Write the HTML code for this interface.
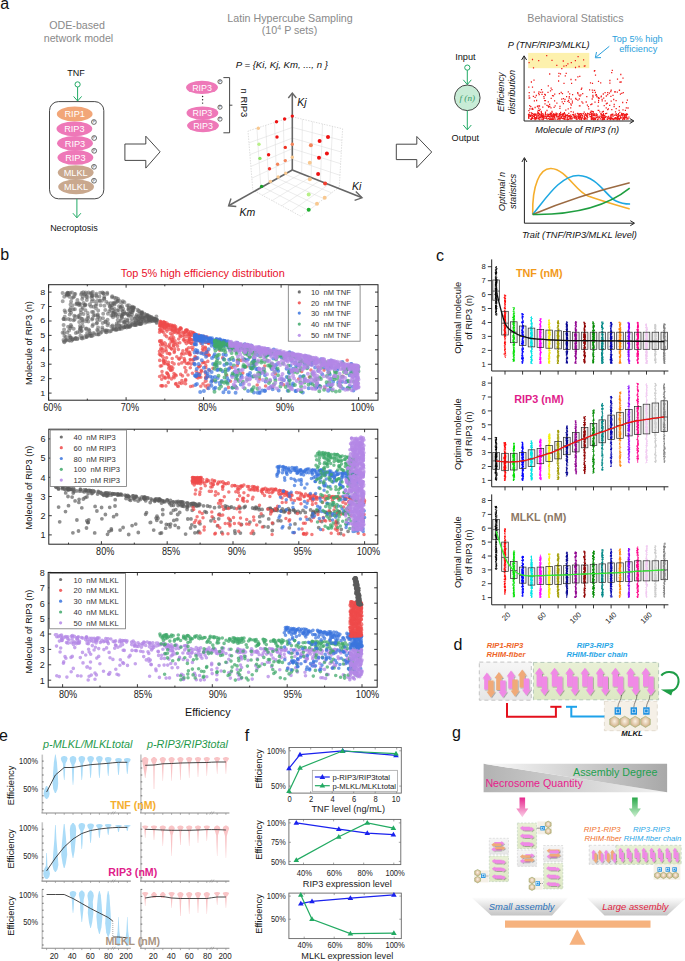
<!DOCTYPE html>
<html><head><meta charset="utf-8"><style>
html,body{margin:0;padding:0;background:#fff;}
svg{display:block;font-family:"Liberation Sans",sans-serif;}
</style></head><body>
<svg width="685" height="961" viewBox="0 0 685 961">
<rect width="685" height="961" fill="#fff"/>
<text x="0.3" y="8.5" font-size="16" fill="#111">a</text>
<text x="77.1" y="29.4" font-size="10.7" fill="#8a8a8a" text-anchor="middle">ODE-based</text>
<text x="78.5" y="42" font-size="10.7" fill="#8a8a8a" text-anchor="middle">network model</text>
<text x="75.9" y="76.2" font-size="9" fill="#111" text-anchor="middle">TNF</text>
<circle cx="77.6" cy="84.4" r="2.6" fill="#fff" stroke="#22aa66" stroke-width="1"/>
<line x1="77.6" y1="87" x2="77.6" y2="100.8" stroke="#22aa66" stroke-width="1"/>
<polyline points="73.6,96.4 77.6,101 81.6,96.4" fill="none" stroke="#22aa66" stroke-width="1"/>
<rect x="49.5" y="101.6" width="54.3" height="97.2" rx="9" fill="none" stroke="#333" stroke-width="0.9"/>
<ellipse cx="74.7" cy="114" rx="17.9" ry="7.4" fill="#f2a678"/>
<ellipse cx="74.4" cy="128.8" rx="17.9" ry="7.4" fill="#ee78b8"/>
<ellipse cx="75" cy="143.3" rx="17.9" ry="7.4" fill="#ee78b8"/>
<ellipse cx="75.4" cy="157.4" rx="17.9" ry="7.4" fill="#ee78b8"/>
<ellipse cx="75.7" cy="172.6" rx="17.9" ry="7.4" fill="#c9a88e"/>
<ellipse cx="76.1" cy="186.8" rx="17.9" ry="7.4" fill="#c9a88e"/>
<text x="74.7" y="117.3" font-size="9.2" fill="#fff" text-anchor="middle">RIP1</text>
<text x="74.4" y="132.1" font-size="9.2" fill="#fff" text-anchor="middle">RIP3</text>
<text x="75" y="146.6" font-size="9.2" fill="#fff" text-anchor="middle">RIP3</text>
<text x="75.4" y="160.7" font-size="9.2" fill="#fff" text-anchor="middle">RIP3</text>
<text x="75.7" y="175.9" font-size="9.2" fill="#fff" text-anchor="middle">MLKL</text>
<text x="76.1" y="190.1" font-size="9.2" fill="#fff" text-anchor="middle">MLKL</text>
<circle cx="93.9" cy="122" r="2.4" fill="#fff" stroke="#333" stroke-width="0.7"/>
<text x="93.9" y="123.2" font-size="3.4" text-anchor="middle" fill="#444">P</text>
<circle cx="94.2" cy="138" r="2.4" fill="#fff" stroke="#333" stroke-width="0.7"/>
<text x="94.2" y="139.2" font-size="3.4" text-anchor="middle" fill="#444">P</text>
<circle cx="94.2" cy="150.8" r="2.4" fill="#fff" stroke="#333" stroke-width="0.7"/>
<text x="94.2" y="152" font-size="3.4" text-anchor="middle" fill="#444">P</text>
<circle cx="94" cy="166.8" r="2.4" fill="#fff" stroke="#333" stroke-width="0.7"/>
<text x="94" y="168" font-size="3.4" text-anchor="middle" fill="#444">P</text>
<circle cx="94" cy="180.7" r="2.4" fill="#fff" stroke="#333" stroke-width="0.7"/>
<text x="94" y="181.9" font-size="3.4" text-anchor="middle" fill="#444">P</text>
<line x1="76.9" y1="199" x2="76.9" y2="217.6" stroke="#22aa66" stroke-width="1"/>
<polyline points="72.9,213.2 76.9,217.8 80.9,213.2" fill="none" stroke="#22aa66" stroke-width="1"/>
<text x="73.9" y="230.8" font-size="9" fill="#111" text-anchor="middle">Necroptosis</text>
<polygon points="124.9,144 145.8,144 145.8,136.2 160.1,151.8 145.8,168.1 145.8,160.4 124.9,160.4" fill="#fff" stroke="#333" stroke-width="0.9"/>
<polygon points="396.3,144.2 416.8,144.2 416.8,136.5 431.7,152 416.8,167.7 416.8,159.6 396.3,159.6" fill="#fff" stroke="#333" stroke-width="0.9"/>
<text x="290" y="21.8" font-size="10.7" fill="#8a8a8a" text-anchor="middle">Latin Hypercube Sampling</text>
<text x="289.5" y="33.6" font-size="10.7" text-anchor="middle" fill="#8a8a8a">(10<tspan dy="-4" font-size="7">4</tspan><tspan dy="4"> P sets)</tspan></text>
<text x="235.7" y="68" font-size="9.6" fill="#111" font-style="italic">P = {Ki, Kj, Km, ..., n }</text>
<ellipse cx="202" cy="87.4" rx="15.9" ry="6.6" fill="#ee78b8"/>
<ellipse cx="202.4" cy="113" rx="15.9" ry="6.6" fill="#ee78b8"/>
<ellipse cx="203" cy="125.6" rx="15.9" ry="6.6" fill="#ee78b8"/>
<text x="202" y="90.6" font-size="8.9" fill="#fff" text-anchor="middle">RIP3</text>
<text x="202.4" y="116.2" font-size="8.9" fill="#fff" text-anchor="middle">RIP3</text>
<text x="203" y="128.8" font-size="8.9" fill="#fff" text-anchor="middle">RIP3</text>
<circle cx="202.6" cy="96.5" r="0.7" fill="#222"/>
<circle cx="202.6" cy="99.8" r="0.7" fill="#222"/>
<circle cx="202.6" cy="103.1" r="0.7" fill="#222"/>
<circle cx="220" cy="81.7" r="2.1" fill="#fff" stroke="#333" stroke-width="0.7"/>
<text x="220" y="82.9" font-size="3.4" text-anchor="middle" fill="#444">P</text>
<circle cx="220" cy="107.2" r="2.1" fill="#fff" stroke="#333" stroke-width="0.7"/>
<text x="220" y="108.4" font-size="3.4" text-anchor="middle" fill="#444">P</text>
<circle cx="220" cy="119.1" r="2.1" fill="#fff" stroke="#333" stroke-width="0.7"/>
<text x="220" y="120.3" font-size="3.4" text-anchor="middle" fill="#444">P</text>
<polyline points="223.4,77.6 229.6,77.6 229.6,132.8 223.4,132.8" fill="none" stroke="#333" stroke-width="0.9"/>
<line x1="229.6" y1="105.2" x2="232.4" y2="105.2" stroke="#333" stroke-width="0.9"/>
<text x="0" y="0" font-size="9.4" fill="#111" transform="translate(240.5,88.6) rotate(90)">n RIP3</text>
<line x1="292.3" y1="159.4" x2="251.8" y2="178.2" stroke="#d8d8d8" stroke-width="0.5"/>
<line x1="284.4" y1="174" x2="283.4" y2="119.6" stroke="#d8d8d8" stroke-width="0.5"/>
<line x1="292.3" y1="159.4" x2="340" y2="175.3" stroke="#d8d8d8" stroke-width="0.5"/>
<line x1="301.7" y1="173.4" x2="302.4" y2="119.2" stroke="#d8d8d8" stroke-width="0.5"/>
<line x1="301.7" y1="173.4" x2="262.4" y2="195.3" stroke="#d8d8d8" stroke-width="0.5"/>
<line x1="284.4" y1="174" x2="331.6" y2="192.8" stroke="#d8d8d8" stroke-width="0.5"/>
<line x1="292.3" y1="148.7" x2="250.9" y2="166.4" stroke="#d8d8d8" stroke-width="0.5"/>
<line x1="276.5" y1="178" x2="274.6" y2="122.5" stroke="#d8d8d8" stroke-width="0.5"/>
<line x1="292.3" y1="148.7" x2="340.6" y2="163.7" stroke="#d8d8d8" stroke-width="0.5"/>
<line x1="311.1" y1="176.8" x2="312.4" y2="121.6" stroke="#d8d8d8" stroke-width="0.5"/>
<line x1="311.1" y1="176.8" x2="272.1" y2="200.6" stroke="#d8d8d8" stroke-width="0.5"/>
<line x1="276.5" y1="178" x2="324" y2="198.7" stroke="#d8d8d8" stroke-width="0.5"/>
<line x1="292.3" y1="138.1" x2="249.9" y2="154.6" stroke="#d8d8d8" stroke-width="0.5"/>
<line x1="268.6" y1="182" x2="265.7" y2="125.3" stroke="#d8d8d8" stroke-width="0.5"/>
<line x1="292.3" y1="138.1" x2="341.3" y2="152" stroke="#d8d8d8" stroke-width="0.5"/>
<line x1="320.5" y1="180.1" x2="322.5" y2="124" stroke="#d8d8d8" stroke-width="0.5"/>
<line x1="320.5" y1="180.1" x2="281.7" y2="205.8" stroke="#d8d8d8" stroke-width="0.5"/>
<line x1="268.6" y1="182" x2="316.3" y2="204.6" stroke="#d8d8d8" stroke-width="0.5"/>
<line x1="292.3" y1="127.4" x2="249" y2="142.8" stroke="#d8d8d8" stroke-width="0.5"/>
<line x1="260.7" y1="186" x2="256.9" y2="128.2" stroke="#d8d8d8" stroke-width="0.5"/>
<line x1="292.3" y1="127.4" x2="341.9" y2="140.4" stroke="#d8d8d8" stroke-width="0.5"/>
<line x1="329.9" y1="183.5" x2="332.5" y2="126.4" stroke="#d8d8d8" stroke-width="0.5"/>
<line x1="329.9" y1="183.5" x2="291.4" y2="211.1" stroke="#d8d8d8" stroke-width="0.5"/>
<line x1="260.7" y1="186" x2="308.7" y2="210.5" stroke="#d8d8d8" stroke-width="0.5"/>
<polyline points="292.3,116.8 248,131 252.8,190" fill="none" stroke="#c8c8c8" stroke-width="0.6" stroke-dasharray="1.5,1.2"/>
<polyline points="292.3,116.8 342.6,128.8 339.3,186.9" fill="none" stroke="#c8c8c8" stroke-width="0.6" stroke-dasharray="1.5,1.2"/>
<polyline points="339.3,186.9 301,216.4 252.8,190" fill="none" stroke="#c8c8c8" stroke-width="0.6" stroke-dasharray="1.5,1.2"/>
<line x1="292.3" y1="170" x2="292.3" y2="93.5" stroke="#666" stroke-width="1.6"/>
<polyline points="288.3,98 292.3,93 296.3,98" fill="none" stroke="#666" stroke-width="1.4"/>
<line x1="292.3" y1="170" x2="361.5" y2="197.5" stroke="#666" stroke-width="1.6"/>
<polyline points="355.8,191.6 362,197.8 354.6,200.3" fill="none" stroke="#666" stroke-width="1.4"/>
<line x1="292.3" y1="170" x2="229" y2="205.5" stroke="#666" stroke-width="1.6"/>
<polyline points="231,198.5 228.6,205.8 236.3,206.5" fill="none" stroke="#666" stroke-width="1.4"/>
<text x="297.2" y="105.5" font-size="10.5" fill="#111" font-style="italic">Kj</text>
<text x="352" y="189.5" font-size="10.5" fill="#111" font-style="italic">Ki</text>
<text x="239.5" y="216.3" font-size="10.5" fill="#111" font-style="italic">Km</text>
<circle cx="292.3" cy="116.1" r="1.7" fill="#ee1111"/>
<circle cx="284.6" cy="119" r="1.7" fill="#ee1111"/>
<circle cx="276.5" cy="121.8" r="1.7" fill="#ee1111"/>
<circle cx="258.3" cy="128.2" r="1.7" fill="#f8c890"/>
<circle cx="277" cy="137" r="1.7" fill="#ee1111"/>
<circle cx="259" cy="144.2" r="1.7" fill="#b8f088"/>
<circle cx="285.3" cy="147.4" r="1.7" fill="#f03020"/>
<circle cx="292.3" cy="144.2" r="1.7" fill="#f4845a"/>
<circle cx="268.6" cy="154.7" r="1.7" fill="#ee1111"/>
<circle cx="259.9" cy="158.4" r="1.7" fill="#88e060"/>
<circle cx="285.3" cy="160.6" r="1.7" fill="#f4845a"/>
<circle cx="277.6" cy="164.3" r="1.7" fill="#f4845a"/>
<circle cx="292.3" cy="157.3" r="1.7" fill="#f8c890"/>
<circle cx="269.5" cy="168.7" r="1.7" fill="#f03830"/>
<circle cx="285.7" cy="173.3" r="1.7" fill="#f8c890"/>
<circle cx="278.2" cy="177" r="1.7" fill="#f8c890"/>
<circle cx="270.4" cy="181.4" r="1.7" fill="#f8c890"/>
<circle cx="261.6" cy="186.4" r="1.7" fill="#18a028"/>
<circle cx="328" cy="137" r="2.0" fill="#ee1111"/>
<circle cx="319.6" cy="140.9" r="2.0" fill="#ee1111"/>
<circle cx="310.9" cy="145.2" r="2.0" fill="#f4845a"/>
<circle cx="326.9" cy="153.4" r="2.0" fill="#ee1111"/>
<circle cx="319" cy="157.7" r="2.0" fill="#ee1111"/>
<circle cx="309.8" cy="162.8" r="2.0" fill="#f8c890"/>
<circle cx="318.1" cy="173.9" r="2.0" fill="#ee1111"/>
<circle cx="309.8" cy="179.2" r="2.0" fill="#f8c890"/>
<circle cx="325.1" cy="183.6" r="2.0" fill="#f04030"/>
<circle cx="308.7" cy="194.5" r="2.0" fill="#b8f088"/>
<circle cx="324.7" cy="197.8" r="2.0" fill="#f8c890"/>
<circle cx="317" cy="203.7" r="2.0" fill="#f8c890"/>
<circle cx="308.7" cy="209.8" r="2.0" fill="#20b030"/>
<text x="575.4" y="21.9" font-size="10.7" fill="#8a8a8a" text-anchor="middle">Behavioral Statistics</text>
<text x="465.4" y="60.4" font-size="9.2" fill="#111" text-anchor="middle">Input</text>
<text x="465.3" y="141.2" font-size="9.2" fill="#111" text-anchor="middle">Output</text>
<circle cx="467.3" cy="67.6" r="2.6" fill="#fff" stroke="#22aa66" stroke-width="1"/>
<line x1="467.3" y1="70.2" x2="467.3" y2="84.4" stroke="#22aa66" stroke-width="1"/>
<polyline points="463.3,79.8 467.3,84.6 471.3,79.8" fill="none" stroke="#22aa66" stroke-width="1"/>
<circle cx="467.3" cy="97.8" r="12.8" fill="#c8ecd6" stroke="#333" stroke-width="0.9"/>
<text x="467.3" y="100.6" font-size="9.2" text-anchor="middle" fill="#3a9a66" font-family="Liberation Serif" font-style="italic">f (n)</text>
<line x1="467.3" y1="110.6" x2="467.3" y2="129.6" stroke="#22aa66" stroke-width="1"/>
<polyline points="463.3,125 467.3,129.8 471.3,125" fill="none" stroke="#22aa66" stroke-width="1"/>
<rect x="528.2" y="52.9" width="61.1" height="15.3" fill="#fdf1ad"/>
<text x="507.8" y="48.2" font-size="9.2" fill="#111" font-style="italic">P (TNF/RIP3/MLKL)</text>
<text x="637.4" y="41.6" font-size="9.2" fill="#2a9fdc" text-anchor="middle">Top 5% high</text>
<text x="638.2" y="52" font-size="9.2" fill="#2a9fdc" text-anchor="middle">efficiency</text>
<line x1="609.3" y1="46.3" x2="596" y2="57.2" stroke="#2a9fdc" stroke-width="1"/>
<polyline points="596.5,52 595.3,57.8 601,57.6" fill="none" stroke="#2a9fdc" stroke-width="1"/>
<path d="M560.4 114.4h1.2M593.3 113.9h1.2M581.8 115.7h1.2M533.7 116.6h1.2M531.7 116.1h1.2M534.9 114.1h1.2M570.6 118.5h1.2M540.3 114.9h1.2M591.0 119.3h1.2M585.9 115.9h1.2M626.0 113.8h1.2M614.2 115.3h1.2M542.4 114.2h1.2M558.9 118.5h1.2M546.1 117.0h1.2M592.1 115.8h1.2M582.9 113.9h1.2M533.9 114.8h1.2M596.3 116.1h1.2M559.5 117.1h1.2M573.4 115.3h1.2M607.7 117.8h1.2M552.4 117.0h1.2M580.7 118.8h1.2M601.2 115.3h1.2M626.4 114.2h1.2M569.9 118.1h1.2M543.2 116.5h1.2M531.8 117.6h1.2M604.7 117.0h1.2M615.9 115.4h1.2M597.8 117.1h1.2M586.2 116.3h1.2M612.3 119.3h1.2M575.5 117.6h1.2M534.0 117.8h1.2M592.9 119.6h1.2M610.5 115.2h1.2M566.7 117.6h1.2M530.2 116.3h1.2M544.8 114.2h1.2M533.8 118.2h1.2M540.9 115.0h1.2M567.2 118.8h1.2M536.0 116.2h1.2M583.1 118.9h1.2M610.2 118.8h1.2M555.9 116.0h1.2M564.0 118.9h1.2M624.2 114.4h1.2M545.6 114.9h1.2M551.4 116.5h1.2M587.1 115.1h1.2M528.3 116.1h1.2M565.0 117.0h1.2M623.7 117.7h1.2M579.7 117.3h1.2M595.9 113.8h1.2M618.3 118.3h1.2M615.8 118.4h1.2M567.3 115.9h1.2M538.3 117.4h1.2M534.2 113.9h1.2M548.9 114.5h1.2M562.1 113.8h1.2M527.9 114.4h1.2M538.1 115.7h1.2M530.5 118.8h1.2M589.6 114.4h1.2M553.3 115.6h1.2M564.5 114.2h1.2M613.2 119.6h1.2M574.7 116.5h1.2M536.5 114.1h1.2M562.3 115.1h1.2M611.2 114.5h1.2M530.2 119.3h1.2M581.0 114.4h1.2M582.5 113.7h1.2M581.0 119.5h1.2M614.7 117.7h1.2M554.1 115.7h1.2M544.7 118.2h1.2M581.4 118.3h1.2M561.0 114.9h1.2M609.5 119.5h1.2M613.6 118.4h1.2M610.1 118.0h1.2M550.7 116.7h1.2M563.6 113.7h1.2M530.7 115.2h1.2M553.9 117.7h1.2M624.0 116.2h1.2M622.1 119.5h1.2M623.9 115.7h1.2M550.1 114.9h1.2M547.7 114.7h1.2M590.6 119.0h1.2M612.4 116.4h1.2M593.5 118.4h1.2M536.4 117.5h1.2M619.3 118.3h1.2M603.3 116.4h1.2M545.8 118.3h1.2M561.3 118.4h1.2M625.6 115.9h1.2M568.2 119.3h1.2M600.7 114.5h1.2M540.7 114.4h1.2M618.8 118.4h1.2M542.6 118.5h1.2M626.4 117.5h1.2M563.1 116.8h1.2M541.1 113.6h1.2M625.5 117.5h1.2M580.8 119.2h1.2M571.5 118.8h1.2M610.9 114.8h1.2M553.2 115.3h1.2M552.1 117.1h1.2M554.0 116.1h1.2M541.1 119.1h1.2M563.5 116.3h1.2M586.5 119.0h1.2M570.2 119.1h1.2M578.3 116.7h1.2M580.5 113.6h1.2M572.1 114.6h1.2M528.3 118.4h1.2M545.2 116.4h1.2M600.8 116.9h1.2M560.7 116.7h1.2M583.7 118.3h1.2M538.6 116.9h1.2M552.9 115.2h1.2M605.5 116.6h1.2M584.4 118.1h1.2M619.6 116.2h1.2M589.5 116.6h1.2M579.4 117.7h1.2M573.4 116.8h1.2M575.9 119.2h1.2M598.2 118.8h1.2M622.6 115.1h1.2M584.1 119.3h1.2M612.3 114.3h1.2M540.1 116.2h1.2M535.2 115.0h1.2M535.2 117.6h1.2M606.7 119.0h1.2M543.4 117.9h1.2M594.3 114.4h1.2M616.6 119.4h1.2M550.0 119.3h1.2M567.9 116.5h1.2M627.4 118.6h1.2M544.1 116.1h1.2M579.7 115.6h1.2M547.6 115.4h1.2M600.5 113.6h1.2M583.6 116.2h1.2M529.7 115.5h1.2M590.6 116.6h1.2M534.4 119.5h1.2M607.1 119.4h1.2M538.4 115.1h1.2M531.9 118.3h1.2M555.1 114.3h1.2M570.3 119.1h1.2M610.2 115.1h1.2M542.9 119.1h1.2M585.2 117.8h1.2M536.9 113.9h1.2M597.1 116.1h1.2M535.2 119.2h1.2M591.7 118.4h1.2M536.3 118.7h1.2M534.6 118.8h1.2M573.5 115.6h1.2M583.5 119.2h1.2M554.8 114.3h1.2M580.9 115.0h1.2M538.9 114.5h1.2M533.0 114.7h1.2M559.3 115.4h1.2M604.2 115.3h1.2M578.2 114.6h1.2M562.8 113.6h1.2M553.1 113.6h1.2M601.6 116.9h1.2M546.9 116.4h1.2M621.8 114.1h1.2M610.2 116.1h1.2M577.6 118.6h1.2M567.4 116.6h1.2M597.0 119.5h1.2M562.3 118.6h1.2M598.9 117.4h1.2M568.6 115.6h1.2M533.4 114.3h1.2M535.0 118.0h1.2M553.6 114.5h1.2M536.4 118.6h1.2M615.4 117.6h1.2M556.2 115.0h1.2M557.4 116.3h1.2M543.7 116.2h1.2M554.4 119.4h1.2M625.6 116.8h1.2M552.5 119.4h1.2M559.0 115.7h1.2M528.0 115.8h1.2M575.6 116.6h1.2M548.1 116.6h1.2M528.4 115.1h1.2M536.9 115.9h1.2M532.1 113.6h1.2M558.5 114.9h1.2M586.8 116.7h1.2M603.3 117.5h1.2M599.9 118.9h1.2M567.0 115.5h1.2M626.9 114.4h1.2M600.7 117.4h1.2M532.3 118.6h1.2M617.5 117.3h1.2M601.7 118.5h1.2M541.9 116.7h1.2M578.6 118.6h1.2M608.8 118.5h1.2M586.6 118.9h1.2M596.5 117.7h1.2M551.0 113.7h1.2M541.3 115.7h1.2M538.4 118.6h1.2M584.0 117.3h1.2M590.8 117.7h1.2M577.1 113.5h1.2M608.1 118.1h1.2M578.4 116.8h1.2M594.2 113.9h1.2M601.9 115.0h1.2M535.4 115.1h1.2M601.2 114.8h1.2M602.3 119.5h1.2M577.5 115.8h1.2M576.0 117.7h1.2M605.0 117.3h1.2M592.5 114.0h1.2M542.7 115.0h1.2M602.6 115.4h1.2M585.0 113.6h1.2M534.0 115.1h1.2M595.4 117.7h1.2M595.8 115.3h1.2M579.8 116.3h1.2M574.8 114.2h1.2M617.7 114.7h1.2M626.2 119.2h1.2M529.7 116.3h1.2M610.3 119.4h1.2M573.1 115.1h1.2M549.0 119.3h1.2M549.1 117.0h1.2M542.1 116.7h1.2M623.7 114.3h1.2M610.3 116.6h1.2M617.0 117.8h1.2M551.2 119.0h1.2M576.8 113.7h1.2M528.3 116.5h1.2M573.2 115.3h1.2M542.0 115.6h1.2M559.7 118.6h1.2M528.1 118.1h1.2M612.2 114.2h1.2M621.0 117.8h1.2M618.5 115.3h1.2M565.3 115.9h1.2M628.3 117.1h1.2M564.2 116.1h1.2M555.6 113.8h1.2M538.1 118.6h1.2M556.6 119.2h1.2M553.0 115.1h1.2M579.3 114.7h1.2M565.4 119.3h1.2M616.8 118.5h1.2M591.3 119.1h1.2M622.4 116.9h1.2M600.2 113.8h1.2M601.5 116.3h1.2M603.5 117.4h1.2M556.7 113.8h1.2M621.0 114.3h1.2M575.4 115.6h1.2M557.8 118.0h1.2M626.0 115.1h1.2M593.8 115.3h1.2M583.9 115.9h1.2M544.7 114.5h1.2M548.8 119.0h1.2M577.9 114.8h1.2M619.0 119.6h1.2M573.1 114.4h1.2M547.2 114.1h1.2M562.3 114.1h1.2M551.9 115.1h1.2M585.1 118.9h1.2M603.2 116.0h1.2M569.5 116.7h1.2M565.8 115.6h1.2M534.1 115.2h1.2M625.2 114.3h1.2M578.5 117.3h1.2M614.6 114.8h1.2M555.1 115.0h1.2M568.1 116.2h1.2M623.8 118.7h1.2M615.6 113.6h1.2M531.1 117.8h1.2M617.9 116.4h1.2M586.9 113.5h1.2M567.2 119.2h1.2M610.9 118.7h1.2M625.6 115.0h1.2M538.9 114.4h1.2M580.4 117.7h1.2M622.5 117.9h1.2M593.0 118.2h1.2M573.9 116.9h1.2M531.9 118.3h1.2M551.3 119.1h1.2M592.8 115.4h1.2M540.8 115.0h1.2M591.8 117.8h1.2M539.2 113.9h1.2M580.6 117.1h1.2M566.9 114.9h1.2M588.3 113.6h1.2M558.2 116.3h1.2M624.3 117.4h1.2M616.7 116.4h1.2M551.5 115.0h1.2M624.4 117.8h1.2M558.8 113.6h1.2M578.0 117.6h1.2M570.1 115.1h1.2M595.0 119.1h1.2M550.7 113.7h1.2M561.9 116.1h1.2M596.5 114.7h1.2M608.0 118.0h1.2M578.6 114.8h1.2M625.4 115.4h1.2M610.3 114.9h1.2M550.2 118.1h1.2M557.5 119.3h1.2M577.7 114.6h1.2M550.3 116.0h1.2M594.8 119.3h1.2M542.6 115.9h1.2M549.3 119.4h1.2M542.2 113.8h1.2M533.9 115.9h1.2M618.2 118.9h1.2M601.5 119.6h1.2M621.5 115.5h1.2M546.5 119.2h1.2M602.9 113.7h1.2M594.7 115.8h1.2M565.5 115.5h1.2M544.9 113.5h1.2M556.0 115.6h1.2M623.9 114.3h1.2M624.8 114.8h1.2M563.7 118.5h1.2M610.5 116.1h1.2M532.9 116.4h1.2M565.4 119.1h1.2M547.3 115.7h1.2M618.0 113.7h1.2M569.2 118.5h1.2M605.0 113.7h1.2M531.4 113.9h1.2M620.4 115.1h1.2M603.0 119.0h1.2M562.0 115.2h1.2M624.1 117.3h1.2M554.2 117.9h1.2M559.7 115.2h1.2M528.3 118.1h1.2M620.0 117.4h1.2M622.7 113.6h1.2M551.4 116.4h1.2M624.1 119.3h1.2M566.7 115.0h1.2M571.1 116.5h1.2M621.2 114.6h1.2M608.6 118.0h1.2M610.6 101.1h1.2M588.9 114.9h1.2M560.0 114.1h1.2M606.5 119.1h1.2M547.7 101.8h1.2M552.8 119.2h1.2M531.3 108.8h1.2M560.6 92.5h1.2M616.7 92.1h1.2M554.5 119.1h1.2M537.6 110.4h1.2M599.2 111.9h1.2M551.4 112.7h1.2M590.2 104.7h1.2M603.1 98.1h1.2M594.7 118.6h1.2M612.4 115.7h1.2M584.9 113.8h1.2M602.1 117.5h1.2M552.8 116.6h1.2M543.3 96.6h1.2M586.0 114.9h1.2M567.7 91.9h1.2M578.9 116.9h1.2M609.1 105.4h1.2M627.5 118.9h1.2M575.6 99.3h1.2M612.4 95.3h1.2M532.0 115.7h1.2M539.9 117.6h1.2M625.7 107.8h1.2M621.4 113.8h1.2M614.9 111.8h1.2M554.0 100.9h1.2M622.9 118.8h1.2M587.8 106.6h1.2M549.8 113.9h1.2M542.1 117.4h1.2M553.5 107.3h1.2M593.4 117.4h1.2M529.0 114.9h1.2M596.1 117.7h1.2M559.3 117.4h1.2M607.8 108.9h1.2M534.3 118.9h1.2M567.6 108.8h1.2M592.1 119.0h1.2M544.4 103.9h1.2M569.1 115.9h1.2M558.8 93.7h1.2M559.3 108.3h1.2M563.8 112.7h1.2M614.8 91.8h1.2M564.5 117.5h1.2M601.1 117.4h1.2M528.5 95.9h1.2M570.5 99.2h1.2M568.7 96.7h1.2M574.2 118.1h1.2M529.4 108.8h1.2M592.3 95.5h1.2M536.8 106.5h1.2M565.2 110.2h1.2M542.6 115.9h1.2M580.3 94.9h1.2M538.8 110.6h1.2M608.8 93.1h1.2M547.7 118.6h1.2M622.7 92.7h1.2M576.4 119.3h1.2M621.0 113.4h1.2M618.8 106.6h1.2M610.8 118.1h1.2M606.9 117.1h1.2M568.6 98.2h1.2M611.2 117.8h1.2M549.8 113.1h1.2M579.9 113.6h1.2M540.3 116.6h1.2M600.8 96.1h1.2M532.0 108.5h1.2M604.0 119.4h1.2M612.1 118.7h1.2M588.2 108.8h1.2M590.9 115.4h1.2M570.1 107.8h1.2M570.7 105.2h1.2M572.8 112.1h1.2M530.2 106.6h1.2M577.1 116.8h1.2M604.6 100.8h1.2M574.0 117.8h1.2M575.5 118.8h1.2M540.8 112.3h1.2M537.1 112.0h1.2M579.2 119.4h1.2M591.9 119.1h1.2M601.6 100.9h1.2M579.3 119.3h1.2M578.5 113.7h1.2M623.5 118.4h1.2M614.0 91.8h1.2M601.5 99.4h1.2M547.4 92.4h1.2M577.3 93.5h1.2M620.0 118.0h1.2M607.1 94.6h1.2M534.5 114.4h1.2M603.9 118.1h1.2M618.0 116.1h1.2M609.9 118.3h1.2M578.4 95.1h1.2M548.8 116.3h1.2M578.8 115.1h1.2M531.6 117.8h1.2M544.1 94.4h1.2M596.2 96.1h1.2M544.9 100.6h1.2M539.5 109.4h1.2M591.9 114.1h1.2M615.6 108.7h1.2M586.2 96.7h1.2M538.4 91.9h1.2M591.2 113.3h1.2M608.1 116.3h1.2M627.4 108.0h1.2M564.1 101.4h1.2M572.3 117.9h1.2M602.6 119.4h1.2M610.3 116.5h1.2M592.1 92.3h1.2M586.8 105.1h1.2M559.3 119.6h1.2M531.3 118.3h1.2M589.8 112.3h1.2M579.4 96.1h1.2M541.2 117.0h1.2M593.5 119.5h1.2M528.2 114.3h1.2M538.6 114.2h1.2M550.4 107.8h1.2M587.1 117.4h1.2M590.6 111.1h1.2M541.4 94.4h1.2M552.4 118.3h1.2M537.5 106.0h1.2M615.5 100.7h1.2M568.3 116.3h1.2M529.1 105.7h1.2M584.4 114.4h1.2M592.8 112.0h1.2M622.1 102.5h1.2M552.9 95.8h1.2M532.3 109.4h1.2M568.7 116.8h1.2M533.8 100.8h1.2M529.1 108.8h1.2M622.5 118.4h1.2M548.0 107.0h1.2M578.8 105.8h1.2M609.6 117.9h1.2M559.0 115.5h1.2M532.8 96.4h1.2M606.6 103.2h1.2M528.5 98.2h1.2M602.8 111.4h1.2M602.4 111.7h1.2M550.6 118.8h1.2M551.2 119.4h1.2M561.6 101.9h1.2M597.8 98.2h1.2M599.4 116.2h1.2M583.6 112.2h1.2M607.1 109.7h1.2M554.6 105.8h1.2M624.9 117.2h1.2M616.3 119.6h1.2M554.1 116.8h1.2M602.7 94.0h1.2M602.9 114.9h1.2M616.4 114.9h1.2M551.9 95.6h1.2M591.3 104.0h1.2M594.8 92.5h1.2M575.1 98.4h1.2M598.0 97.7h1.2M571.8 102.9h1.2M585.2 115.4h1.2M549.2 106.5h1.2M535.7 95.5h1.2M542.4 119.5h1.2M538.6 94.7h1.2M562.6 118.4h1.2M530.8 119.4h1.2M597.5 106.1h1.2M597.9 102.4h1.2M534.5 107.5h1.2M564.4 99.3h1.2M610.3 96.3h1.2M534.5 97.3h1.2M619.8 94.1h1.2M538.7 117.4h1.2M539.2 119.5h1.2M613.1 99.5h1.2M591.6 99.0h1.2M591.4 115.8h1.2M537.9 118.9h1.2M604.0 117.4h1.2M560.0 112.5h1.2M530.0 116.4h1.2M556.3 103.2h1.2M564.9 115.1h1.2M624.8 110.3h1.2M613.5 106.6h1.2M531.0 112.8h1.2M571.8 101.1h1.2M562.8 103.6h1.2M582.0 117.2h1.2M614.6 119.0h1.2M610.3 118.0h1.2M528.0 117.4h1.2M604.5 92.6h1.2M528.3 110.6h1.2M577.3 100.1h1.2M546.4 110.5h1.2M562.8 98.7h1.2M554.1 94.1h1.2M556.4 117.2h1.2M598.2 110.4h1.2M538.9 106.0h1.2M536.0 100.5h1.2M598.0 100.5h1.2M591.0 114.2h1.2M568.2 113.3h1.2M617.4 119.0h1.2M617.2 119.5h1.2M548.6 116.3h1.2M618.5 110.3h1.2M566.0 96.6h1.2M551.4 111.5h1.2M581.3 101.8h1.2M603.6 105.7h1.2M562.9 114.9h1.2M543.5 98.3h1.2M594.4 102.2h1.2M544.9 112.1h1.2M605.6 107.9h1.2M540.6 111.5h1.2M616.9 116.8h1.2M547.2 115.5h1.2M598.6 98.3h1.2M543.4 118.2h1.2M552.8 114.9h1.2M580.4 118.1h1.2M560.9 117.6h1.2M625.9 102.7h1.2M538.1 93.3h1.2M538.1 113.5h1.2M626.8 100.2h1.2M601.6 112.2h1.2M547.6 106.0h1.2M538.6 117.4h1.2M566.9 119.5h1.2M568.0 100.4h1.2M597.6 110.3h1.2M591.5 111.4h1.2M542.2 107.1h1.2M568.6 102.3h1.2M619.2 112.3h1.2M585.6 102.0h1.2M570.2 117.0h1.2M600.5 96.8h1.2M605.7 103.8h1.2M613.6 104.5h1.2M592.4 111.7h1.2M559.4 106.3h1.2M537.7 112.6h1.2M606.5 103.3h1.2M591.2 116.6h1.2M570.5 111.7h1.2M590.4 112.9h1.2M595.8 94.7h1.2M546.3 105.4h1.2M606.1 113.4h1.2M577.1 92.7h1.2M531.7 109.0h1.2M544.1 100.7h1.2M622.4 109.8h1.2M538.1 108.1h1.2M582.3 103.1h1.2M579.4 105.9h1.2M611.2 109.7h1.2M569.1 93.9h1.2M549.0 104.3h1.2M567.3 101.4h1.2M540.2 92.3h1.2M563.6 119.3h1.2M555.5 113.1h1.2M529.2 112.6h1.2M570.2 103.8h1.2M563.3 66.2h1.2M550.5 88.1h1.2M622.4 78.2h1.2M549.9 90.9h1.2M567.3 63.8h1.2M540.9 89.7h1.2M609.3 83.2h1.2M575.1 79.9h1.2M550.6 98.3h1.2M563.4 83.4h1.2M610.2 91.5h1.2M574.9 67.5h1.2M583.0 59.8h1.2M611.7 70.3h1.2M565.7 65.7h1.2M570.7 62.6h1.2M528.2 87.2h1.2M556.2 65.3h1.2M558.2 76.1h1.2M571.0 83.3h1.2M594.2 70.7h1.2M621.2 93.3h1.2M533.6 92.1h1.2M618.9 90.1h1.2M542.0 92.2h1.2M529.1 97.8h1.2M538.1 60.6h1.2M551.4 89.7h1.2M562.7 61.0h1.2M618.8 90.4h1.2M544.8 95.0h1.2M589.0 89.9h1.2M595.1 95.1h1.2M607.1 92.6h1.2M547.7 85.9h1.2M581.2 88.1h1.2M572.0 94.6h1.2M583.7 66.2h1.2M551.4 60.4h1.2M577.5 56.7h1.2M574.8 60.6h1.2M577.3 76.9h1.2M582.1 93.7h1.2M528.6 92.7h1.2M574.9 79.9h1.2M594.8 92.7h1.2M565.6 73.3h1.2M591.9 83.3h1.2M530.8 82.0h1.2M596.5 96.8h1.2M561.1 99.2h1.2M579.2 76.3h1.2M600.1 82.8h1.2M561.9 93.6h1.2M564.7 75.8h1.2M580.7 89.4h1.2M549.1 74.0h1.2M570.4 79.5h1.2M611.1 72.6h1.2M578.5 66.5h1.2M578.8 98.8h1.2M593.7 90.4h1.2M561.2 68.6h1.2M558.0 81.0h1.2M591.7 90.1h1.2M531.9 87.2h1.2M616.9 79.1h1.2M532.9 67.8h1.2M528.5 62.7h1.2M620.5 82.0h1.2M594.0 90.3h1.2M619.3 82.1h1.2M589.9 82.8h1.2M597.9 81.4h1.2M594.9 75.1h1.2M546.1 55.7h1.2M605.7 96.0h1.2M593.8 71.0h1.2M610.6 90.2h1.2M584.4 65.9h1.2M558.3 73.4h1.2M559.9 73.8h1.2M592.4 97.0h1.2M533.4 80.1h1.2M531.9 59.5h1.2M609.3 80.5h1.2M620.2 74.5h1.2" stroke="#f01818" stroke-width="1.3" fill="none"/>
<line x1="524.1" y1="121" x2="524.1" y2="56.5" stroke="#222" stroke-width="1"/>
<polyline points="521.6,60 524.1,55.8 526.6,60" fill="none" stroke="#222" stroke-width="1"/>
<line x1="524.1" y1="121" x2="633.2" y2="121" stroke="#222" stroke-width="1"/>
<polyline points="629.7,118.5 633.9,121 629.7,123.5" fill="none" stroke="#222" stroke-width="1"/>
<text x="577.2" y="133" font-size="9.2" fill="#111" text-anchor="middle" font-style="italic">Molecule of RIP3 (n)</text>
<text font-size="9.2" fill="#111" font-style="italic" text-anchor="middle" transform="translate(503.8,92) rotate(-90)">Efficiency</text>
<text font-size="9.2" fill="#111" font-style="italic" text-anchor="middle" transform="translate(515,92) rotate(-90)">distribution</text>
<line x1="524.4" y1="223.2" x2="524.4" y2="158.5" stroke="#222" stroke-width="1"/>
<polyline points="521.9,162 524.4,157.6 526.9,162" fill="none" stroke="#222" stroke-width="1"/>
<line x1="524.4" y1="223.2" x2="633.8" y2="223.2" stroke="#222" stroke-width="1"/>
<polyline points="630.3,220.7 634.5,223.2 630.3,225.7" fill="none" stroke="#222" stroke-width="1"/>
<path d="M532.7,214.4 C532,185 540,168 551,168.5 C566,169 576,192 588,196 C602,201 616,205 629.7,209" fill="none" stroke="#f5ae2c" stroke-width="1.6"/>
<path d="M532.7,214.4 C545,200 560,175 578.7,175.5 C597,176 607,197 616,201 C621,203.5 626,204 630.1,204" fill="none" stroke="#1ea8e2" stroke-width="1.6"/>
<path d="M532.7,214.4 C560,203 600,190 629.7,182.7" fill="none" stroke="#9b6a42" stroke-width="1.6"/>
<path d="M532.7,214.4 C570,215 605,208 629.7,188.2" fill="none" stroke="#1f9e40" stroke-width="1.6"/>
<text font-size="9.2" fill="#111" font-style="italic" text-anchor="middle" transform="translate(505.2,191.5) rotate(-90)">Optimal n</text>
<text font-size="9.2" fill="#111" font-style="italic" text-anchor="middle" transform="translate(516.2,191.5) rotate(-90)">statistics</text>
<text x="579.4" y="238" font-size="9.2" fill="#111" text-anchor="middle" font-style="italic">Trait (TNF/RIP3/MLKL level)</text>
<text x="0.2" y="259.6" font-size="16" fill="#111">b</text>
<text x="202.8" y="277.1" font-size="10.9" fill="#e8102a" text-anchor="middle">Top 5% high efficiency distribution</text>
<path d="M105.3 310.1h0M71.1 301.5h0M80.5 327.7h0M156.9 320.1h0M153.1 318.5h0M70.8 325.0h0M80.6 304.7h0M82.5 320.2h0M71.1 312.7h0M148.4 316.7h0M66.2 294.0h0M115.4 301.9h0M116.6 325.9h0M128.8 305.3h0M132.2 312.3h0M121.6 318.0h0M104.2 298.7h0M86.7 337.0h0M81.3 318.7h0M129.8 306.1h0M155.4 320.0h0M105.6 331.9h0M127.3 322.8h0M120.6 307.0h0M98.2 310.5h0M82.7 296.7h0M114.6 304.4h0M111.4 304.9h0M123.0 314.3h0M116.7 323.6h0M127.9 325.9h0M107.6 319.8h0M96.1 308.5h0M112.6 325.4h0M147.9 320.2h0M141.2 318.7h0M110.4 303.2h0M80.0 329.6h0M111.3 315.6h0M111.0 331.0h0M87.0 296.1h0M130.9 325.2h0M124.9 313.4h0M86.8 319.3h0M156.6 320.1h0M120.3 327.5h0M90.5 336.0h0M69.5 296.8h0M119.6 326.0h0M117.6 316.6h0M96.5 323.4h0M66.3 339.5h0M97.8 314.4h0M102.7 322.9h0M71.7 298.2h0M70.3 326.5h0M149.4 316.3h0M97.1 319.4h0M145.8 320.4h0M70.5 337.5h0M111.9 303.5h0M140.7 315.5h0M102.3 327.6h0M73.4 309.2h0M84.8 305.1h0M87.2 297.2h0M112.4 312.7h0M77.4 332.3h0M62.7 301.3h0M143.6 320.2h0M92.0 336.0h0M141.0 324.0h0M120.8 328.7h0M151.9 318.9h0M141.7 323.4h0M135.1 324.9h0M64.3 342.3h0M147.9 320.9h0M121.8 328.7h0M75.4 338.5h0M89.8 335.7h0M124.8 327.3h0M116.4 329.3h0M107.0 330.5h0M116.1 299.1h0M133.6 307.9h0M91.5 293.1h0M116.1 298.0h0M147.2 315.4h0M107.2 292.8h0M81.7 292.9h0M128.4 305.9h0" stroke="#5a5a5a" stroke-opacity="0.55" stroke-width="4" stroke-linecap="round" fill="none"/>
<path d="M149.9 319.3h0M128.1 326.4h0M65.4 319.3h0M142.0 315.3h0M62.6 332.7h0M153.7 319.0h0M74.9 309.3h0M143.3 316.5h0M85.5 310.3h0M86.1 329.0h0M85.1 305.6h0M120.6 321.0h0M96.8 296.8h0M64.6 310.6h0M137.6 310.6h0M117.6 310.6h0M70.5 304.4h0M91.0 306.4h0M138.8 311.2h0M88.7 329.4h0M69.6 340.2h0M141.0 321.1h0M107.5 325.3h0M99.8 300.9h0M145.7 315.7h0M155.3 319.2h0M108.6 331.0h0M142.0 315.6h0M142.3 317.2h0M113.2 313.3h0M113.5 316.4h0M80.7 310.0h0M72.5 305.3h0M81.9 309.3h0M92.3 295.5h0M137.2 323.1h0M110.1 305.9h0M142.0 311.9h0M119.4 329.1h0M147.0 316.2h0M132.9 311.0h0M94.9 315.2h0M113.0 317.2h0M67.3 332.5h0M139.1 323.6h0M151.9 319.7h0M85.7 335.8h0M103.2 313.7h0M121.6 315.9h0M136.1 316.4h0M127.3 314.0h0M88.2 318.0h0M82.5 322.6h0M139.1 319.3h0M70.0 337.5h0M131.1 312.1h0M148.9 319.4h0M100.0 317.9h0M64.7 316.7h0M132.2 308.4h0M99.8 320.0h0M143.2 314.7h0M132.6 306.7h0M135.9 322.4h0M118.8 322.7h0M149.0 320.0h0M88.5 292.5h0M93.0 324.6h0M142.6 314.2h0M137.2 318.4h0M91.5 335.7h0M98.2 334.5h0M113.6 329.3h0M93.9 334.7h0M84.0 337.8h0M93.9 334.2h0M124.1 327.0h0M109.9 331.4h0M85.7 337.1h0M115.6 329.2h0M116.8 329.4h0M132.3 323.9h0M87.5 335.5h0M127.7 326.2h0M112.2 296.3h0M69.1 294.3h0M69.0 292.9h0M137.5 309.7h0M96.3 293.7h0M149.8 317.5h0M145.8 314.7h0M70.0 292.8h0" stroke="#5a5a5a" stroke-opacity="0.55" stroke-width="4" stroke-linecap="round" fill="none"/>
<path d="M110.6 309.7h0M155.4 319.3h0M104.2 298.6h0M92.4 326.0h0M148.6 319.1h0M73.7 328.7h0M73.6 320.3h0M72.0 292.6h0M97.7 315.5h0M132.5 307.6h0M86.8 300.1h0M149.3 320.9h0M155.3 319.7h0M108.1 303.5h0M95.8 305.7h0M70.1 309.9h0M65.4 312.3h0M81.7 330.8h0M145.8 319.5h0M105.2 321.7h0M145.1 322.8h0M75.9 337.9h0M63.6 319.1h0M148.2 321.8h0M151.8 319.6h0M113.3 303.1h0M139.1 323.7h0M152.0 319.5h0M92.0 319.4h0M119.8 328.6h0M153.0 318.2h0M150.0 321.2h0M74.2 315.8h0M122.9 314.1h0M83.2 292.2h0M100.6 305.3h0M80.4 335.8h0M150.2 321.4h0M128.8 308.0h0M129.2 307.8h0M139.6 318.8h0M63.6 325.0h0M157.1 320.2h0M98.1 330.5h0M119.0 306.3h0M112.4 309.7h0M77.4 303.8h0M154.6 320.4h0M81.8 336.3h0M156.9 320.1h0M118.5 310.1h0M121.5 326.0h0M133.0 309.9h0M124.4 302.2h0M115.9 314.3h0M89.3 330.5h0M138.5 320.2h0M81.0 312.5h0M114.0 311.1h0M70.6 310.2h0M154.1 319.3h0M141.4 312.9h0M98.1 327.6h0M68.4 319.1h0M80.0 325.9h0M114.3 297.8h0M124.7 322.0h0M144.7 318.1h0M70.3 328.2h0M149.2 321.6h0M106.7 332.3h0M129.7 326.8h0M90.7 335.6h0M140.7 323.5h0M77.4 338.6h0M101.5 332.1h0M72.6 339.5h0M76.0 339.0h0M117.1 329.6h0M115.5 330.1h0M141.1 323.3h0M98.6 332.0h0M116.3 329.0h0M134.2 307.5h0M103.4 293.3h0M74.3 294.0h0M148.7 318.1h0M74.3 296.2h0M117.9 298.8h0M147.3 315.9h0M67.3 294.3h0M83.7 293.0h0" stroke="#5a5a5a" stroke-opacity="0.55" stroke-width="4" stroke-linecap="round" fill="none"/>
<path d="M80.0 315.1h0M124.4 312.1h0M111.6 308.0h0M89.9 333.6h0M155.2 320.1h0M72.1 338.2h0M82.7 326.0h0M82.7 326.5h0M153.2 319.7h0M81.1 294.4h0M118.9 320.6h0M64.1 329.4h0M127.9 313.7h0M92.7 292.1h0M147.7 316.0h0M156.5 319.9h0M108.0 323.2h0M148.2 317.7h0M117.7 319.9h0M82.8 319.3h0M129.6 314.4h0M122.0 316.3h0M130.1 323.0h0M150.7 318.1h0M124.1 322.9h0M92.8 296.0h0M138.2 322.2h0M152.3 321.1h0M142.5 313.2h0M154.2 319.7h0M88.0 315.9h0M136.2 325.0h0M86.2 328.6h0M143.0 316.8h0M146.5 321.7h0M64.2 332.8h0M72.6 339.2h0M68.4 294.5h0M79.7 317.8h0M122.1 317.4h0M147.3 315.7h0M122.9 311.5h0M128.9 309.9h0M86.3 296.4h0M66.8 295.6h0M97.1 322.7h0M99.4 296.4h0M112.0 297.3h0M112.5 326.7h0M132.0 321.6h0M133.8 322.4h0M113.8 328.4h0M69.6 335.8h0M93.3 311.9h0M127.3 320.4h0M96.4 303.9h0M92.6 318.5h0M137.9 316.6h0M153.9 319.3h0M76.2 304.3h0M109.2 311.3h0M153.1 319.2h0M81.9 318.9h0M117.8 301.1h0M78.9 303.6h0M108.2 323.6h0M63.6 319.1h0M122.8 301.2h0M130.3 324.7h0M140.7 321.5h0M127.5 325.9h0M105.9 330.6h0M125.6 326.5h0M71.5 340.8h0M69.4 340.5h0M128.7 327.0h0M137.1 323.7h0M111.3 326.5h0M150.4 320.4h0M156.4 316.6h0M69.8 339.7h0M64.1 341.4h0M66.1 340.4h0M156.6 321.9h0M67.7 293.0h0M100.1 292.8h0M144.5 313.7h0M62.6 293.1h0M147.5 315.0h0M96.0 295.2h0M92.1 293.8h0M81.1 294.6h0" stroke="#5a5a5a" stroke-opacity="0.55" stroke-width="4" stroke-linecap="round" fill="none"/>
<path d="M122.1 306.5h0M77.4 339.1h0M109.8 306.7h0M135.0 318.5h0M69.5 310.5h0M137.9 322.2h0M154.4 319.1h0M135.6 319.8h0M116.9 302.1h0M146.0 317.6h0M79.1 305.3h0M104.7 330.6h0M75.8 338.5h0M69.7 314.6h0M102.0 300.8h0M131.4 318.5h0M128.6 315.8h0M104.3 296.5h0M75.4 316.4h0M121.7 314.9h0M91.8 301.3h0M122.1 310.4h0M88.3 321.6h0M74.8 318.5h0M130.8 309.4h0M143.5 319.8h0M94.2 301.3h0M83.5 314.0h0M82.2 299.0h0M100.4 300.5h0M74.6 319.5h0M80.9 328.3h0M112.7 315.5h0M143.6 321.0h0M85.2 304.6h0M127.1 305.6h0M114.7 313.1h0M106.2 301.7h0M132.5 318.3h0M119.2 314.2h0M128.2 309.5h0M84.5 294.6h0M155.2 320.7h0M114.6 313.3h0M77.7 317.3h0M124.5 313.5h0M133.3 325.1h0M130.9 316.8h0M104.4 305.7h0M73.3 297.3h0M86.1 293.0h0M70.7 308.1h0M139.1 315.6h0M133.1 308.3h0M135.9 324.1h0M97.2 329.9h0M150.9 317.3h0M141.6 317.0h0M138.6 323.8h0M123.9 321.8h0M130.7 311.7h0M112.1 305.6h0M90.2 293.4h0M66.0 337.1h0M92.0 312.0h0M67.2 294.7h0M97.7 300.8h0M87.7 313.1h0M107.9 313.8h0M113.9 312.6h0M72.5 339.5h0M63.5 340.1h0M86.8 336.6h0M126.6 327.4h0M149.6 320.2h0M155.4 320.0h0M140.6 323.5h0M130.2 326.3h0M96.7 334.2h0M139.8 323.8h0M65.6 340.6h0M81.4 337.9h0M126.0 325.2h0M141.8 312.8h0M131.2 308.0h0M67.5 292.8h0M102.4 292.5h0M85.6 292.6h0M91.7 296.1h0M107.2 294.0h0M147.7 316.8h0" stroke="#5a5a5a" stroke-opacity="0.55" stroke-width="4" stroke-linecap="round" fill="none"/>
<path d="M71.4 326.4h0M112.5 329.1h0M105.8 321.5h0M142.6 319.3h0M136.2 320.8h0M115.4 315.5h0M91.3 297.2h0M90.6 333.3h0M79.8 332.0h0M102.4 329.4h0M69.1 330.5h0M79.2 321.9h0M64.2 296.7h0M132.2 308.3h0M144.2 317.5h0M132.0 314.7h0M120.7 302.2h0M93.5 306.7h0M141.7 313.5h0M92.4 299.2h0M64.4 336.1h0M138.9 310.7h0M128.5 315.3h0M121.7 303.0h0M123.2 309.0h0M70.4 319.7h0M75.8 333.0h0M90.0 304.2h0M154.1 319.7h0M115.8 314.1h0M139.7 311.9h0M127.5 319.8h0M98.1 317.1h0M132.6 310.3h0M87.1 333.0h0M154.1 320.7h0M116.3 325.4h0M93.5 315.4h0M81.0 331.2h0M155.5 319.6h0M134.9 318.4h0M125.5 319.4h0M120.7 307.6h0M154.0 319.6h0M78.5 316.0h0M89.4 304.8h0M156.0 319.7h0M155.1 319.4h0M105.6 322.2h0M136.7 315.0h0M149.1 316.6h0M114.6 309.1h0M135.2 321.9h0M103.0 318.2h0M82.7 307.8h0M129.6 314.4h0M86.0 321.2h0M79.2 303.5h0M114.3 303.6h0M83.4 302.9h0M149.1 319.5h0M138.4 318.5h0M68.1 326.7h0M80.0 328.9h0M139.8 317.8h0M138.3 319.0h0M130.0 313.7h0M76.8 303.1h0M152.9 319.3h0M77.4 300.1h0M154.0 319.8h0M82.1 338.5h0M93.7 333.1h0M100.6 333.1h0M123.7 327.5h0M120.1 326.9h0M135.0 325.0h0M151.9 320.5h0M154.6 320.6h0M140.5 323.8h0M151.4 317.0h0M99.1 334.3h0M119.3 326.1h0M103.6 293.5h0M119.0 300.6h0M85.2 294.1h0M133.1 308.0h0M68.5 293.6h0M155.0 319.1h0M156.7 323.1h0M75.3 294.1h0" stroke="#5a5a5a" stroke-opacity="0.55" stroke-width="4" stroke-linecap="round" fill="none"/>
<path d="M164.6 322.8h0M168.1 324.7h0M161.6 322.9h0M172.2 330.1h0M185.0 341.4h0M166.5 326.3h0M159.7 325.8h0M163.4 322.2h0M163.9 325.3h0M199.1 337.4h0M160.1 329.1h0M198.8 335.0h0M172.6 327.6h0M169.3 338.8h0M164.6 322.5h0M195.3 337.1h0M160.3 324.6h0M163.5 322.8h0M159.9 324.9h0M193.4 332.7h0M174.2 352.4h0M190.6 331.9h0M159.7 341.1h0M205.9 374.1h0M162.8 352.3h0M173.7 338.0h0M169.9 367.3h0M193.5 359.4h0M162.1 348.5h0M191.5 343.5h0M198.7 375.2h0M189.8 352.2h0M209.4 342.3h0M185.7 372.0h0M178.6 332.7h0M160.3 323.9h0M197.1 352.5h0M192.1 339.7h0M207.0 337.1h0M206.5 354.9h0M172.3 362.5h0M189.4 339.0h0M165.3 378.2h0M168.2 364.5h0M185.6 379.6h0M173.3 337.3h0M177.5 386.1h0M199.2 366.7h0M176.8 356.7h0M200.2 373.6h0M162.2 331.3h0M165.0 363.6h0M190.2 355.0h0M169.8 347.3h0M166.6 357.8h0M176.5 329.1h0M202.8 346.5h0M172.8 368.1h0M188.8 362.8h0M174.1 363.9h0M186.0 370.6h0M159.8 341.4h0M179.8 342.8h0M199.9 341.0h0M298.7 379.0h0M206.9 356.0h0M241.0 360.4h0M205.9 367.8h0M203.7 362.2h0M230.3 367.8h0M226.7 375.3h0M205.2 372.0h0" stroke="#ee4a4a" stroke-opacity="0.7" stroke-width="3.6" stroke-linecap="round" fill="none"/>
<path d="M189.8 338.2h0M198.9 335.6h0M166.9 331.2h0M164.6 324.6h0M164.4 323.6h0M180.4 327.8h0M174.5 325.6h0M169.5 325.1h0M189.6 339.6h0M187.7 334.4h0M187.2 330.1h0M173.0 325.9h0M189.4 334.8h0M184.8 334.2h0M196.1 338.0h0M172.2 325.3h0M160.1 326.0h0M186.3 333.5h0M190.7 335.8h0M161.7 328.2h0M163.9 363.2h0M173.6 345.4h0M202.6 362.7h0M186.3 363.3h0M169.7 344.3h0M178.8 364.1h0M190.3 367.7h0M166.6 336.6h0M195.0 356.7h0M191.5 347.5h0M162.5 343.7h0M186.5 350.2h0M170.7 325.3h0M208.5 354.7h0M170.4 324.9h0M202.6 349.3h0M160.5 354.9h0M159.8 329.8h0M180.7 374.4h0M190.9 343.2h0M171.8 339.8h0M161.9 328.8h0M170.3 369.9h0M206.3 350.9h0M200.3 365.7h0M184.7 360.2h0M192.9 347.1h0M205.6 377.2h0M200.9 343.2h0M181.9 380.6h0M173.5 376.5h0M175.6 326.5h0M162.6 327.5h0M163.2 360.8h0M168.7 377.8h0M175.0 340.8h0M175.1 344.4h0M188.7 347.8h0M207.8 385.3h0M165.9 385.9h0M167.3 373.5h0M181.1 357.3h0M195.3 344.2h0M207.8 361.4h0M213.0 368.3h0M209.2 385.2h0M299.7 363.6h0M264.8 366.0h0M347.2 360.3h0M259.6 379.3h0M207.4 388.1h0M265.6 386.0h0" stroke="#ee4a4a" stroke-opacity="0.7" stroke-width="3.6" stroke-linecap="round" fill="none"/>
<path d="M171.7 330.1h0M174.5 331.6h0M168.1 326.4h0M179.4 330.1h0M189.3 334.1h0M176.9 333.0h0M167.5 323.7h0M182.2 332.1h0M160.8 324.9h0M160.3 321.2h0M166.3 322.8h0M183.4 332.9h0M165.8 324.4h0M193.2 333.3h0M186.4 330.2h0M161.5 324.3h0M169.4 329.4h0M173.1 332.7h0M198.5 336.0h0M174.0 326.7h0M166.8 327.5h0M160.6 345.1h0M167.7 363.9h0M174.6 348.8h0M208.2 343.3h0M181.8 362.9h0M207.4 377.1h0M170.5 333.5h0M163.8 377.1h0M170.9 370.3h0M188.7 341.6h0M205.3 386.0h0M181.5 354.3h0M190.2 359.5h0M182.8 335.2h0M161.0 331.0h0M188.0 363.7h0M162.3 325.0h0M196.2 371.2h0M203.8 336.4h0M203.5 350.2h0M171.7 349.1h0M161.9 385.7h0M164.5 342.9h0M179.4 359.1h0M180.0 328.7h0M192.8 386.0h0M196.6 358.7h0M168.4 362.3h0M196.5 339.8h0M185.7 380.5h0M171.1 341.8h0M205.8 365.5h0M175.3 374.7h0M168.7 376.6h0M176.1 383.6h0M198.0 377.9h0M203.0 383.8h0M209.3 355.2h0M165.5 343.9h0M192.4 373.2h0M162.0 371.6h0M174.7 328.1h0M242.8 373.1h0M204.3 349.0h0M232.1 367.5h0M237.3 365.4h0M219.5 350.1h0M272.7 387.3h0M205.4 348.4h0M318.2 367.3h0M280.7 353.5h0" stroke="#ee4a4a" stroke-opacity="0.7" stroke-width="3.6" stroke-linecap="round" fill="none"/>
<path d="M180.8 336.6h0M160.4 321.7h0M194.8 333.5h0M183.8 332.5h0M166.5 328.7h0M186.4 331.1h0M195.3 334.5h0M180.8 328.3h0M165.8 325.1h0M163.3 332.2h0M166.8 329.2h0M185.5 330.9h0M179.1 329.7h0M161.2 325.7h0M163.7 326.5h0M188.9 333.5h0M163.1 324.5h0M166.2 329.3h0M195.8 340.0h0M172.2 325.8h0M171.3 348.5h0M160.4 351.1h0M164.6 350.2h0M168.3 374.9h0M164.9 334.9h0M182.5 375.9h0M163.7 360.2h0M179.9 333.4h0M201.2 336.8h0M199.4 376.8h0M164.6 322.7h0M160.3 366.1h0M172.8 341.9h0M196.7 339.6h0M186.2 343.3h0M178.3 386.4h0M168.3 382.4h0M172.1 370.0h0M174.0 373.5h0M183.4 339.9h0M161.5 340.7h0M159.5 351.4h0M175.6 384.1h0M209.1 343.4h0M162.1 375.0h0M186.3 353.1h0M174.2 377.7h0M209.4 339.9h0M160.9 355.2h0M172.4 329.7h0M160.9 385.7h0M186.4 343.6h0M172.0 335.0h0M174.5 351.3h0M189.2 354.1h0M169.0 365.8h0M184.2 358.5h0M159.7 360.4h0M198.5 366.7h0M163.1 345.0h0M162.3 349.7h0M169.4 353.5h0M165.9 349.3h0M324.9 387.6h0M228.5 387.4h0M283.5 384.7h0M253.4 363.6h0M237.9 360.7h0M237.0 372.3h0M222.7 357.7h0M230.6 381.2h0M340.1 381.5h0" stroke="#ee4a4a" stroke-opacity="0.7" stroke-width="3.6" stroke-linecap="round" fill="none"/>
<path d="M166.3 326.3h0M181.2 328.7h0M199.1 339.5h0M189.5 336.6h0M174.5 326.8h0M180.1 329.6h0M179.9 336.0h0M161.6 322.4h0M198.3 339.4h0M172.6 326.4h0M175.4 330.2h0M193.3 340.8h0M164.0 322.9h0M185.3 331.9h0M196.7 338.6h0M177.8 331.4h0M186.0 330.0h0M168.6 325.5h0M165.8 325.3h0M170.0 328.0h0M163.3 357.5h0M183.9 353.9h0M185.6 383.8h0M201.8 352.8h0M189.4 342.0h0M207.7 351.8h0M178.7 358.7h0M160.6 324.2h0M167.3 353.2h0M182.9 350.8h0M183.9 382.9h0M162.3 323.3h0M196.7 377.2h0M164.2 327.5h0M166.3 351.3h0M165.2 377.3h0M200.8 386.3h0M169.8 354.1h0M198.4 373.3h0M173.5 345.7h0M193.1 341.8h0M174.2 343.0h0M165.9 346.5h0M186.7 349.2h0M189.9 354.2h0M184.3 361.5h0M162.5 385.9h0M201.2 370.4h0M195.9 357.4h0M160.0 341.1h0M165.4 361.0h0M184.9 367.6h0M209.4 370.2h0M179.5 382.8h0M205.3 353.9h0M188.9 342.4h0M161.7 379.2h0M177.6 346.2h0M190.6 386.5h0M193.1 335.5h0M159.6 376.5h0M162.5 356.4h0M182.3 353.0h0M243.8 349.0h0M281.5 383.3h0M342.7 376.2h0M246.3 366.8h0M254.5 358.7h0M237.5 360.2h0M310.9 370.0h0M309.4 377.0h0" stroke="#ee4a4a" stroke-opacity="0.7" stroke-width="3.6" stroke-linecap="round" fill="none"/>
<path d="M184.2 339.8h0M190.4 334.7h0M188.0 331.3h0M192.4 332.3h0M189.8 339.6h0M163.6 324.0h0M166.6 325.2h0M167.2 325.8h0M188.5 331.8h0M161.3 326.0h0M170.4 326.1h0M175.4 331.5h0M175.6 329.2h0M159.8 323.5h0M186.8 336.4h0M166.6 324.5h0M184.2 336.9h0M160.3 323.5h0M197.6 340.4h0M163.8 321.9h0M190.6 360.0h0M170.5 337.9h0M172.2 358.5h0M203.8 337.0h0M159.4 354.2h0M171.5 378.9h0M172.6 340.4h0M161.7 365.7h0M196.5 352.2h0M191.0 364.1h0M207.8 342.4h0M168.7 368.2h0M168.6 346.0h0M205.3 347.2h0M172.4 338.8h0M178.4 349.5h0M176.2 375.6h0M159.5 332.3h0M208.8 341.3h0M188.0 375.0h0M193.2 360.0h0M181.2 383.5h0M190.9 339.5h0M187.2 340.2h0M188.5 352.0h0M205.2 342.4h0M178.7 339.0h0M167.2 373.3h0M166.8 372.7h0M200.8 377.2h0M201.6 371.3h0M164.4 328.8h0M192.7 349.6h0M171.5 366.7h0M193.2 363.2h0M174.6 332.1h0M161.3 342.5h0M177.3 343.4h0M160.7 348.9h0M163.9 362.1h0M206.1 380.9h0M162.6 325.9h0M199.9 338.6h0M212.7 380.8h0M205.1 362.8h0M257.2 385.0h0M205.3 381.4h0M301.7 371.5h0M275.5 373.7h0M324.1 370.1h0M205.6 378.2h0" stroke="#ee4a4a" stroke-opacity="0.7" stroke-width="3.6" stroke-linecap="round" fill="none"/>
<path d="M212.2 343.8h0M207.1 338.6h0M202.2 340.5h0M206.5 340.7h0M198.9 336.7h0M229.8 343.7h0M206.6 340.3h0M194.8 336.2h0M198.8 340.3h0M201.6 339.6h0M201.0 336.5h0M215.5 343.9h0M228.1 345.4h0M211.7 345.7h0M224.0 341.0h0M208.6 340.9h0M228.4 347.2h0M209.8 338.3h0M219.7 339.3h0M200.7 339.6h0M330.1 361.8h0M322.6 363.6h0M346.9 369.3h0M289.5 352.3h0M271.9 352.2h0M275.9 353.5h0M298.0 364.5h0M248.0 348.8h0M355.7 375.8h0M252.2 376.4h0M223.6 358.9h0M330.4 364.7h0M199.3 375.1h0M276.8 369.7h0M318.3 385.8h0M252.9 361.6h0M312.1 362.4h0M342.2 381.8h0M275.1 354.7h0M233.5 359.9h0M207.6 373.4h0M225.9 355.1h0M213.8 356.2h0M348.6 366.2h0M257.3 354.9h0M291.8 370.9h0M201.8 360.3h0M247.9 345.1h0M201.1 353.3h0M230.6 363.9h0M232.2 387.8h0M241.5 375.8h0M273.3 358.6h0M293.0 383.4h0M296.1 391.1h0M239.0 350.0h0M288.9 380.3h0M328.2 390.8h0M316.1 388.0h0M265.0 375.2h0M338.2 382.6h0M196.0 375.4h0M196.9 341.0h0M229.2 359.7h0M254.5 360.3h0" stroke="#3a74de" stroke-opacity="0.7" stroke-width="4" stroke-linecap="round" fill="none"/>
<path d="M206.0 337.0h0M202.6 336.8h0M227.1 341.9h0M227.4 344.4h0M203.6 338.1h0M199.8 340.6h0M229.6 344.1h0M211.1 342.1h0M196.6 336.2h0M200.8 340.4h0M209.4 340.2h0M200.6 338.8h0M203.6 336.5h0M202.2 343.5h0M195.6 339.2h0M211.3 339.7h0M227.7 343.9h0M196.4 335.3h0M195.4 335.0h0M203.1 338.5h0M313.1 360.7h0M298.0 364.7h0M244.7 344.2h0M292.6 353.5h0M321.0 359.2h0M350.5 366.7h0M296.2 358.1h0M265.6 355.7h0M279.6 351.9h0M246.4 353.0h0M330.8 378.9h0M253.9 392.4h0M227.9 370.0h0M198.7 364.1h0M215.4 387.8h0M208.6 349.3h0M315.1 367.5h0M197.0 373.8h0M296.1 355.3h0M194.9 344.2h0M287.7 390.7h0M256.4 368.9h0M197.3 338.2h0M241.1 377.4h0M304.5 356.7h0M241.0 348.4h0M265.6 381.4h0M197.5 357.9h0M211.4 385.7h0M244.4 359.3h0M352.8 386.7h0M212.0 380.4h0M235.6 392.8h0M300.3 376.5h0M217.9 369.6h0M271.8 369.1h0M318.2 370.7h0M214.8 348.1h0M210.3 376.6h0M355.4 370.2h0M206.0 356.8h0M196.9 383.9h0M194.8 375.4h0M214.7 354.3h0M331.6 384.8h0" stroke="#3a74de" stroke-opacity="0.7" stroke-width="4" stroke-linecap="round" fill="none"/>
<path d="M216.3 346.6h0M218.7 340.7h0M199.1 339.4h0M208.8 338.6h0M212.7 341.5h0M200.7 336.4h0M226.5 344.5h0M203.0 341.4h0M220.0 346.0h0M200.3 340.2h0M224.9 344.0h0M195.1 338.0h0M199.8 337.3h0M224.8 345.1h0M210.1 339.3h0M229.4 342.8h0M194.5 339.5h0M224.6 340.9h0M221.3 346.3h0M216.1 341.1h0M261.1 352.2h0M237.2 342.8h0M330.9 360.6h0M277.0 364.2h0M351.4 364.3h0M236.3 344.9h0M351.6 367.5h0M331.3 367.2h0M196.2 344.5h0M194.6 352.5h0M238.5 369.9h0M219.8 348.5h0M251.9 389.4h0M249.2 375.7h0M253.1 365.6h0M319.5 386.0h0M214.1 388.7h0M200.2 392.1h0M327.1 385.1h0M310.9 364.2h0M225.5 389.3h0M195.4 385.1h0M229.1 368.4h0M303.7 375.9h0M203.9 367.7h0M248.1 390.9h0M236.3 375.3h0M247.0 349.3h0M253.9 365.0h0M275.3 367.3h0M236.1 376.4h0M259.3 392.2h0M208.6 388.2h0M215.0 377.0h0M257.4 369.3h0M257.7 392.7h0M217.8 358.3h0M200.9 340.8h0M290.4 365.8h0M211.6 372.1h0M291.8 361.1h0M260.1 373.7h0M206.5 352.2h0M216.2 339.5h0M275.0 378.1h0" stroke="#3a74de" stroke-opacity="0.7" stroke-width="4" stroke-linecap="round" fill="none"/>
<path d="M195.6 335.7h0M223.1 340.6h0M223.3 342.2h0M220.6 342.7h0M212.0 338.3h0M200.5 340.5h0M199.7 336.8h0M220.0 346.5h0M227.2 344.4h0M200.4 336.3h0M224.0 346.0h0M221.0 340.8h0M227.9 341.3h0M195.4 336.9h0M203.8 340.4h0M201.9 336.8h0M216.6 339.0h0M194.7 334.9h0M205.6 337.8h0M225.2 341.0h0M342.4 362.1h0M255.6 351.1h0M331.0 365.7h0M245.8 350.3h0M316.2 360.3h0M233.3 347.8h0M237.0 344.8h0M306.3 356.2h0M206.1 378.3h0M195.7 350.1h0M245.6 360.3h0M295.4 362.3h0M254.9 363.6h0M351.3 371.4h0M262.3 390.6h0M353.4 390.6h0M194.9 364.6h0M327.9 369.4h0M308.7 388.3h0M281.1 383.5h0M337.3 369.9h0M258.7 368.4h0M346.2 381.9h0M278.7 390.4h0M217.7 377.9h0M331.9 361.3h0M286.7 377.0h0M347.3 388.5h0M235.7 387.3h0M221.8 380.9h0M299.1 365.2h0M227.1 378.0h0M196.7 368.9h0M263.4 372.1h0M205.5 372.0h0M264.9 391.0h0M259.0 347.4h0M310.6 383.3h0M329.6 366.5h0M203.9 391.1h0M330.6 388.8h0M199.1 338.1h0M283.8 380.2h0M222.7 371.3h0M289.0 372.4h0" stroke="#3a74de" stroke-opacity="0.7" stroke-width="4" stroke-linecap="round" fill="none"/>
<path d="M220.7 345.0h0M215.8 340.2h0M196.7 338.0h0M196.3 335.1h0M223.4 342.9h0M195.3 336.4h0M219.5 341.7h0M221.8 344.8h0M216.8 344.5h0M201.7 336.0h0M213.4 343.8h0M199.8 339.0h0M215.4 345.5h0M194.7 344.0h0M209.1 339.1h0M203.1 338.8h0M213.6 344.5h0M222.9 341.5h0M203.1 336.6h0M198.1 337.0h0M251.2 345.6h0M281.4 357.3h0M276.8 351.8h0M253.9 358.6h0M343.1 364.0h0M267.3 349.3h0M267.6 349.0h0M338.3 365.2h0M210.3 338.6h0M274.3 365.3h0M337.8 368.1h0M267.6 355.0h0M194.3 363.7h0M242.7 347.6h0M250.6 368.1h0M287.5 384.7h0M227.3 382.2h0M207.5 376.0h0M264.8 390.5h0M289.4 373.1h0M346.9 381.3h0M299.9 363.5h0M238.1 363.1h0M335.2 368.3h0M296.1 365.8h0M197.4 350.8h0M195.9 376.3h0M250.1 373.1h0M215.8 381.7h0M244.7 367.1h0M295.5 391.1h0M194.7 359.0h0M316.6 387.2h0M355.4 367.7h0M333.1 381.8h0M228.7 380.5h0M232.0 375.4h0M216.6 365.3h0M247.9 359.6h0M227.1 363.7h0M212.0 358.0h0M228.8 392.3h0M224.4 364.9h0M217.2 344.9h0M237.9 362.2h0" stroke="#3a74de" stroke-opacity="0.7" stroke-width="4" stroke-linecap="round" fill="none"/>
<path d="M204.6 338.7h0M196.6 335.6h0M194.7 337.6h0M212.5 340.1h0M208.3 340.9h0M217.9 342.0h0M223.7 341.8h0M199.3 339.2h0M218.0 345.6h0M208.5 339.1h0M210.4 339.2h0M218.5 340.0h0M196.2 338.4h0M216.6 343.1h0M206.0 342.1h0M229.6 349.2h0M195.8 340.4h0M212.2 341.9h0M220.2 339.8h0M208.3 339.4h0M270.3 354.4h0M273.8 349.4h0M324.5 367.5h0M349.6 375.3h0M286.6 368.7h0M296.3 356.4h0M293.2 368.8h0M351.2 363.9h0M211.2 382.0h0M247.7 374.7h0M343.0 388.4h0M345.8 370.8h0M217.2 370.0h0M311.8 364.6h0M220.0 384.6h0M292.9 385.4h0M272.7 389.2h0M302.8 392.5h0M278.2 371.1h0M223.5 354.4h0M349.5 386.2h0M208.9 369.7h0M213.1 364.1h0M259.7 393.0h0M304.7 379.5h0M289.4 369.9h0M201.9 339.1h0M223.4 392.2h0M292.2 370.6h0M329.8 374.5h0M281.5 378.9h0M304.5 364.5h0M234.5 372.1h0M307.6 367.4h0M219.8 382.7h0M197.7 352.6h0M203.7 354.0h0M289.6 353.0h0M242.6 383.8h0M240.8 384.5h0M212.3 377.6h0M270.7 386.9h0M219.8 369.5h0M322.2 374.3h0M253.1 367.7h0" stroke="#3a74de" stroke-opacity="0.7" stroke-width="4" stroke-linecap="round" fill="none"/>
<path d="M231.1 349.4h0M244.6 348.4h0M216.0 340.8h0M218.1 344.9h0M245.9 347.0h0M216.0 340.8h0M215.1 341.0h0M235.1 350.3h0M220.9 342.9h0M234.8 348.1h0M223.9 344.8h0M216.1 341.2h0M218.0 341.4h0M217.0 341.3h0M305.2 362.5h0M352.1 369.3h0M326.0 364.1h0M354.1 372.5h0M334.8 370.9h0M325.4 365.0h0M294.8 356.9h0M312.2 373.7h0M310.3 377.3h0M254.3 352.4h0M250.5 352.1h0M294.0 372.1h0M356.8 386.8h0M358.5 366.9h0M253.7 387.3h0M233.9 365.4h0M340.3 386.1h0M349.1 381.5h0M238.1 370.9h0M221.3 350.1h0M288.3 377.3h0M251.6 362.9h0M344.0 372.0h0M251.7 368.4h0M223.6 345.8h0M252.6 388.9h0M357.1 381.0h0M275.4 380.5h0M263.9 369.2h0M218.9 354.8h0M225.4 352.1h0M314.7 386.1h0M237.1 375.5h0M283.4 358.2h0M253.8 361.3h0M320.7 361.8h0M324.1 389.8h0M329.2 382.2h0M325.8 362.2h0M243.4 346.2h0M270.1 350.9h0" stroke="#3fa86a" stroke-opacity="0.7" stroke-width="4" stroke-linecap="round" fill="none"/>
<path d="M245.6 347.1h0M237.4 349.0h0M231.6 352.9h0M217.0 344.0h0M228.0 344.9h0M248.3 349.5h0M219.7 343.1h0M215.3 346.0h0M236.7 352.1h0M229.7 346.8h0M246.5 349.8h0M219.3 341.9h0M214.9 341.2h0M217.0 343.0h0M254.4 352.6h0M326.9 365.3h0M292.8 356.2h0M346.7 369.2h0M280.4 355.8h0M271.7 363.4h0M307.8 365.0h0M302.7 361.4h0M300.8 391.2h0M295.4 355.5h0M300.3 382.3h0M214.8 365.1h0M243.3 366.8h0M258.2 351.5h0M233.8 344.3h0M289.5 355.5h0M233.0 345.8h0M247.3 379.6h0M246.9 353.8h0M326.9 376.1h0M317.1 379.1h0M330.6 386.0h0M255.2 352.7h0M232.4 357.7h0M320.9 379.1h0M334.4 379.2h0M339.6 391.1h0M303.3 376.7h0M283.0 363.5h0M316.9 378.4h0M278.1 375.3h0M346.9 369.6h0M308.5 384.4h0M217.0 360.7h0M225.3 371.8h0M231.0 358.7h0M288.8 390.8h0M232.7 387.4h0M237.7 379.5h0M300.8 367.9h0M336.3 372.8h0" stroke="#3fa86a" stroke-opacity="0.7" stroke-width="4" stroke-linecap="round" fill="none"/>
<path d="M220.4 344.4h0M239.5 348.2h0M230.5 345.8h0M232.3 347.0h0M231.6 345.8h0M232.2 347.5h0M215.0 342.5h0M232.3 348.4h0M215.8 341.6h0M215.6 344.1h0M219.0 345.3h0M228.8 345.6h0M244.9 346.8h0M271.9 353.2h0M316.8 360.6h0M290.5 357.9h0M342.6 363.2h0M358.5 371.3h0M285.1 356.4h0M310.5 357.4h0M270.2 380.7h0M319.3 391.3h0M218.0 346.0h0M235.7 345.5h0M337.3 378.8h0M239.9 373.4h0M273.9 384.2h0M301.4 361.2h0M337.6 376.7h0M346.6 373.2h0M289.2 371.8h0M340.8 386.3h0M312.5 384.0h0M295.9 368.4h0M335.9 391.4h0M301.1 386.6h0M225.9 374.3h0M261.8 360.8h0M215.1 364.0h0M224.2 382.7h0M315.0 380.2h0M320.3 386.5h0M318.6 369.8h0M299.6 370.6h0M214.5 391.7h0M223.7 350.2h0M263.6 368.8h0M252.5 348.5h0M329.2 372.7h0M316.9 383.4h0M347.1 368.6h0M333.9 377.2h0M250.0 357.0h0M271.7 366.2h0M264.6 371.9h0" stroke="#3fa86a" stroke-opacity="0.7" stroke-width="4" stroke-linecap="round" fill="none"/>
<path d="M215.0 340.8h0M232.0 344.4h0M230.6 349.8h0M240.2 346.3h0M235.0 348.0h0M221.6 344.6h0M248.3 349.8h0M221.3 346.0h0M222.5 344.2h0M231.1 343.4h0M240.3 344.9h0M239.5 348.9h0M215.4 341.5h0M268.4 353.2h0M251.1 352.9h0M254.5 362.5h0M356.4 368.8h0M354.3 373.9h0M298.7 358.1h0M250.2 346.9h0M332.3 390.4h0M232.6 373.6h0M216.3 364.4h0M227.9 345.8h0M285.8 387.0h0M274.4 372.1h0M257.5 388.8h0M226.6 363.6h0M224.8 349.0h0M226.0 381.4h0M244.7 388.5h0M216.7 366.7h0M249.5 365.8h0M253.9 355.2h0M259.2 376.8h0M256.3 376.4h0M338.7 364.7h0M310.0 358.2h0M288.4 365.8h0M220.8 369.8h0M268.9 382.9h0M221.0 348.8h0M330.4 386.2h0M276.1 359.5h0M328.5 372.5h0M235.9 387.6h0M268.2 365.5h0M219.8 363.0h0M229.6 348.2h0M245.0 366.8h0M357.0 370.8h0M217.4 355.5h0M218.4 343.6h0M240.7 347.4h0M215.6 345.8h0" stroke="#3fa86a" stroke-opacity="0.7" stroke-width="4" stroke-linecap="round" fill="none"/>
<path d="M241.6 347.2h0M245.0 353.7h0M249.7 356.6h0M233.4 345.6h0M214.7 341.3h0M242.3 346.2h0M223.6 342.3h0M238.3 346.2h0M243.6 348.5h0M215.4 350.6h0M232.4 343.6h0M240.1 345.0h0M243.6 351.9h0M308.2 359.7h0M346.4 369.7h0M281.0 355.2h0M330.4 365.3h0M265.7 357.0h0M343.1 368.6h0M250.3 349.3h0M261.3 362.5h0M228.0 344.4h0M326.6 382.2h0M277.8 356.7h0M301.3 391.5h0M218.1 347.7h0M270.6 367.0h0M289.0 383.2h0M338.4 384.8h0M222.5 343.6h0M233.2 375.0h0M225.6 369.6h0M304.5 382.5h0M353.9 381.5h0M254.6 365.9h0M238.4 359.6h0M238.8 380.9h0M294.9 384.9h0M216.3 362.4h0M221.4 346.2h0M300.0 361.2h0M217.2 349.1h0M214.5 368.8h0M267.3 360.6h0M227.6 383.7h0M342.0 376.8h0M266.3 378.9h0M347.9 387.7h0M215.1 380.2h0M252.0 368.4h0M323.1 363.4h0M243.6 365.1h0M260.0 372.4h0M244.1 359.5h0M319.7 377.5h0" stroke="#3fa86a" stroke-opacity="0.7" stroke-width="4" stroke-linecap="round" fill="none"/>
<path d="M219.3 343.2h0M243.2 345.8h0M214.7 345.5h0M228.6 343.9h0M220.1 346.5h0M215.6 346.5h0M219.1 347.9h0M248.7 350.2h0M236.5 353.8h0M225.3 344.0h0M238.7 346.9h0M242.8 346.4h0M215.1 345.2h0M311.7 360.3h0M308.9 360.7h0M335.2 373.1h0M315.8 363.2h0M264.4 354.4h0M289.8 354.0h0M357.7 370.6h0M257.9 361.8h0M260.3 356.4h0M280.4 386.6h0M289.2 385.5h0M242.9 381.8h0M289.8 380.0h0M269.9 365.2h0M264.7 361.9h0M218.5 375.7h0M297.1 372.5h0M219.3 388.5h0M349.3 388.6h0M267.5 354.7h0M224.5 377.4h0M253.5 376.4h0M221.7 382.1h0M235.3 386.5h0M248.0 355.1h0M251.8 391.1h0M259.8 355.2h0M277.6 368.4h0M351.0 373.0h0M221.0 386.5h0M301.0 359.5h0M354.3 369.8h0M224.4 359.8h0M307.0 368.3h0M216.0 357.0h0M235.9 379.0h0M321.2 367.8h0M244.9 366.3h0M347.9 380.8h0M258.2 373.1h0M223.1 343.3h0M272.0 364.8h0" stroke="#3fa86a" stroke-opacity="0.7" stroke-width="4" stroke-linecap="round" fill="none"/>
<path d="M326.4 367.3h0M340.2 369.0h0M247.9 344.8h0M239.7 344.9h0M245.2 347.5h0M346.6 364.9h0M256.3 347.3h0M321.9 365.8h0M256.5 348.0h0M337.6 363.2h0M311.9 365.3h0M280.7 351.0h0M308.6 358.6h0M334.3 365.9h0M356.7 372.4h0M280.3 351.9h0M254.5 349.0h0M274.4 351.4h0M357.2 365.8h0M238.2 344.5h0M261.9 348.2h0M237.0 348.7h0M322.5 360.0h0M276.7 350.2h0M352.8 365.5h0M298.1 355.1h0M249.4 354.4h0M274.9 353.4h0M263.1 349.0h0M254.9 349.5h0M279.6 353.3h0M244.0 345.4h0M232.8 346.3h0M328.1 372.4h0M237.4 347.5h0M339.6 366.6h0M284.2 356.9h0M235.4 343.8h0M255.7 347.2h0M265.4 350.8h0M312.9 357.8h0M349.9 367.9h0M312.3 361.4h0M316.9 362.9h0M252.2 346.0h0M310.0 362.4h0M328.6 361.0h0M279.0 351.3h0M315.5 359.3h0M344.2 366.0h0M311.7 359.3h0M271.0 354.7h0M285.8 357.1h0M262.1 348.5h0M300.1 364.4h0M293.3 353.8h0M347.0 365.0h0M305.2 358.3h0M358.1 370.6h0M328.5 362.3h0M330.1 362.1h0M328.6 364.4h0M230.0 346.5h0M330.6 362.3h0M265.1 353.3h0M266.7 380.9h0M312.5 372.3h0M323.6 376.3h0M324.4 386.7h0M294.7 369.9h0M353.2 368.2h0M338.9 385.5h0M240.8 370.6h0M312.9 388.7h0M297.4 370.9h0M314.0 378.9h0M286.7 366.5h0M345.2 382.2h0M331.0 362.7h0M294.7 363.5h0M300.4 379.2h0M331.4 365.3h0M235.3 381.6h0M306.4 381.0h0M298.4 364.6h0M352.1 378.3h0M292.1 372.6h0M287.0 367.2h0M320.0 388.0h0M339.7 380.4h0M318.4 379.5h0M242.6 377.8h0M328.6 363.4h0M330.6 360.7h0M355.3 387.9h0M317.4 383.4h0M308.0 380.8h0M240.2 380.2h0M295.0 355.5h0M298.9 367.5h0M304.7 387.2h0M349.9 385.1h0M357.6 377.7h0M354.4 369.4h0M354.6 386.8h0M356.7 379.0h0M356.8 383.9h0M357.2 387.5h0M356.1 365.2h0M358.0 369.0h0" stroke="#b387e6" stroke-opacity="0.72" stroke-width="4" stroke-linecap="round" fill="none"/>
<path d="M337.3 361.8h0M308.9 358.6h0M324.4 364.2h0M237.0 349.4h0M316.2 358.8h0M260.8 349.9h0M234.6 350.4h0M328.5 361.2h0M352.1 375.3h0M323.7 359.5h0M322.8 362.7h0M257.8 349.7h0M238.4 346.0h0M231.1 341.8h0M329.1 364.8h0M241.8 350.1h0M231.0 342.1h0M328.8 367.8h0M302.6 357.6h0M257.4 349.4h0M304.5 357.1h0M293.4 358.6h0M329.0 363.8h0M353.9 365.0h0M257.8 349.6h0M308.0 356.7h0M348.7 365.8h0M255.5 348.2h0M280.1 353.7h0M300.8 355.1h0M323.1 359.2h0M246.5 346.3h0M333.8 365.8h0M266.6 350.4h0M294.6 363.1h0M236.3 343.7h0M308.1 362.3h0M338.4 366.2h0M333.7 361.1h0M327.5 362.0h0M234.3 344.1h0M356.1 372.4h0M258.3 351.9h0M259.7 348.9h0M258.7 348.5h0M267.4 349.1h0M285.1 355.8h0M305.7 356.1h0M316.5 358.4h0M251.2 351.5h0M275.2 350.5h0M264.3 349.4h0M264.2 350.5h0M317.7 362.4h0M325.3 363.3h0M250.6 345.9h0M277.4 353.1h0M253.4 347.5h0M252.2 346.9h0M317.1 358.6h0M294.9 355.0h0M245.3 344.4h0M248.2 345.4h0M292.9 353.9h0M234.8 385.8h0M332.5 367.6h0M317.3 376.1h0M268.7 352.9h0M278.2 362.9h0M319.1 368.2h0M347.8 389.5h0M259.0 368.7h0M311.4 380.6h0M322.3 360.3h0M282.5 373.9h0M273.9 386.1h0M280.2 365.1h0M340.9 387.8h0M291.4 371.0h0M277.0 388.5h0M321.8 361.6h0M246.6 377.8h0M287.2 383.6h0M313.2 372.9h0M334.1 376.2h0M322.6 362.1h0M240.2 354.6h0M331.1 361.2h0M314.8 373.5h0M259.3 388.1h0M269.2 388.2h0M330.3 378.3h0M237.3 362.3h0M258.2 360.6h0M309.0 359.2h0M311.5 388.2h0M331.6 365.6h0M331.0 385.3h0M235.5 371.4h0M311.3 379.3h0M357.1 385.1h0M304.8 367.3h0M358.5 386.8h0M358.3 366.3h0M356.0 381.7h0M355.6 385.3h0M356.1 388.4h0M357.9 377.8h0M354.8 384.4h0M357.9 383.6h0" stroke="#b387e6" stroke-opacity="0.72" stroke-width="4" stroke-linecap="round" fill="none"/>
<path d="M344.9 364.1h0M306.6 357.0h0M268.9 349.1h0M350.2 365.2h0M243.4 346.1h0M288.7 356.1h0M259.8 347.3h0M295.1 354.4h0M348.9 368.4h0M292.3 363.5h0M333.0 363.7h0M283.0 354.6h0M315.1 363.6h0M308.7 361.8h0M357.4 374.4h0M268.7 350.4h0M268.2 351.4h0M319.9 365.5h0M310.0 358.3h0M268.3 351.5h0M239.0 351.6h0M286.9 358.7h0M304.1 359.9h0M326.5 365.3h0M248.2 349.7h0M342.3 369.0h0M299.2 358.4h0M285.3 356.5h0M331.7 366.1h0M240.8 344.9h0M351.1 364.4h0M306.0 360.5h0M292.4 360.1h0M285.0 359.3h0M248.0 346.2h0M331.3 364.5h0M341.4 364.8h0M351.3 367.1h0M341.9 363.0h0M262.6 351.9h0M308.2 356.2h0M307.3 361.5h0M232.8 344.9h0M245.2 352.6h0M265.2 348.8h0M289.2 353.7h0M324.2 359.7h0M322.2 364.4h0M320.2 368.7h0M296.1 355.7h0M286.3 353.4h0M300.0 355.5h0M309.4 364.0h0M262.3 349.6h0M241.1 344.2h0M230.8 345.0h0M291.3 360.5h0M294.6 354.7h0M240.2 344.5h0M357.9 368.9h0M253.1 349.0h0M314.4 363.1h0M323.9 359.2h0M269.4 361.1h0M354.7 374.2h0M302.0 383.2h0M318.4 371.3h0M320.2 366.3h0M294.6 369.3h0M339.6 373.8h0M335.2 369.3h0M246.6 361.8h0M291.1 387.9h0M352.4 376.5h0M254.9 357.2h0M281.9 384.2h0M256.5 363.9h0M350.9 375.0h0M341.0 380.0h0M282.0 360.6h0M239.4 351.4h0M244.2 350.5h0M248.4 364.4h0M258.1 374.6h0M274.4 365.6h0M293.1 375.8h0M326.6 364.7h0M297.1 363.9h0M302.3 369.5h0M259.6 368.9h0M291.5 370.0h0M250.1 378.7h0M342.2 380.0h0M353.8 365.7h0M329.4 379.7h0M271.9 386.0h0M320.9 372.4h0M334.7 363.0h0M313.5 375.1h0M272.5 374.2h0M283.3 361.8h0M278.4 352.6h0M356.2 372.9h0M356.4 386.5h0M358.4 387.6h0M357.2 379.6h0M356.3 387.1h0M354.8 381.6h0M356.5 373.1h0M355.4 374.1h0" stroke="#b387e6" stroke-opacity="0.72" stroke-width="4" stroke-linecap="round" fill="none"/>
<path d="M288.9 358.9h0M290.7 353.6h0M258.2 347.0h0M291.2 353.1h0M290.4 356.6h0M274.4 354.4h0M345.4 370.8h0M314.9 362.6h0M335.5 368.4h0M287.0 360.3h0M287.6 352.9h0M316.8 366.8h0M347.1 365.7h0M308.4 362.8h0M280.5 353.1h0M306.6 357.2h0M292.4 355.3h0M325.1 364.2h0M354.5 366.3h0M315.2 359.8h0M245.6 350.4h0M234.2 343.3h0M264.9 350.6h0M237.3 343.3h0M283.5 352.4h0M259.3 348.9h0M347.0 364.8h0M241.7 347.7h0M298.6 354.4h0M235.6 346.6h0M245.5 344.6h0M336.2 367.5h0M336.5 365.8h0M327.1 368.2h0M288.9 353.1h0M248.0 346.6h0M264.9 348.8h0M235.2 344.1h0M303.8 355.9h0M344.6 367.8h0M329.7 362.2h0M304.5 357.8h0M338.7 365.3h0M351.7 367.7h0M239.5 345.8h0M324.1 361.9h0M352.6 367.3h0M285.6 356.9h0M291.4 358.0h0M340.3 362.3h0M299.0 355.9h0M313.0 358.0h0M333.3 362.2h0M341.8 365.1h0M236.0 342.5h0M292.7 354.4h0M291.7 359.3h0M318.3 360.9h0M233.7 343.6h0M298.8 357.6h0M351.3 365.6h0M270.2 352.0h0M261.3 351.6h0M352.9 376.9h0M232.3 377.3h0M313.4 374.5h0M341.0 377.2h0M314.5 375.4h0M316.8 382.3h0M307.9 373.8h0M233.7 384.5h0M300.5 383.7h0M327.4 377.1h0M262.9 380.1h0M250.3 346.4h0M268.2 388.2h0M246.4 380.9h0M312.2 359.2h0M254.6 375.5h0M305.2 378.8h0M276.2 357.4h0M299.8 365.1h0M305.8 361.0h0M294.0 378.4h0M229.8 344.2h0M289.7 377.2h0M298.1 390.0h0M307.8 381.1h0M259.2 355.4h0M296.1 359.9h0M350.6 381.1h0M258.6 381.4h0M266.3 351.6h0M256.6 378.5h0M339.8 383.5h0M345.1 372.5h0M264.4 359.5h0M273.2 368.3h0M242.7 369.8h0M270.1 379.7h0M316.1 361.8h0M249.1 384.4h0M354.1 366.3h0M357.6 376.3h0M357.5 385.8h0M356.7 368.7h0M354.6 376.3h0M356.9 386.4h0M354.6 383.4h0M356.8 373.4h0" stroke="#b387e6" stroke-opacity="0.72" stroke-width="4" stroke-linecap="round" fill="none"/>
<path d="M298.2 358.9h0M277.8 352.8h0M324.1 364.6h0M272.9 356.6h0M285.5 360.3h0M357.5 365.8h0M263.3 356.7h0M271.1 350.7h0M302.5 361.3h0M316.6 361.1h0M317.3 359.8h0M231.9 345.7h0M315.6 363.7h0M276.2 358.2h0M230.6 343.3h0M283.9 352.8h0M297.0 354.5h0M236.3 347.4h0M295.2 355.1h0M346.3 372.4h0M322.0 359.0h0M297.3 359.9h0M266.3 351.3h0M250.3 350.8h0M276.8 353.8h0M318.1 361.5h0M237.8 343.2h0M298.3 358.6h0M321.7 365.0h0M244.8 351.8h0M240.0 345.2h0M246.9 345.3h0M333.5 361.8h0M343.4 365.9h0M239.5 350.1h0M288.5 354.4h0M337.8 367.1h0M301.5 363.3h0M261.1 354.4h0M273.9 355.1h0M247.6 344.7h0M271.1 353.2h0M300.0 360.4h0M267.1 353.0h0M296.9 356.9h0M304.9 361.4h0M356.3 379.5h0M325.2 364.2h0M250.7 349.3h0M229.9 350.7h0M290.2 360.0h0M292.3 353.7h0M259.9 352.4h0M285.9 356.5h0M335.1 361.4h0M354.5 370.0h0M255.1 353.9h0M305.0 355.6h0M240.1 346.0h0M320.1 362.4h0M285.3 356.0h0M297.1 356.7h0M306.5 361.8h0M329.2 364.8h0M320.4 359.9h0M260.0 349.9h0M345.3 389.8h0M313.9 371.4h0M332.6 384.6h0M284.0 352.0h0M242.4 357.5h0M274.3 376.7h0M344.5 367.9h0M316.4 385.5h0M304.1 381.1h0M322.8 364.5h0M282.7 379.0h0M284.0 364.2h0M267.0 374.2h0M352.0 366.5h0M274.0 354.3h0M334.5 375.8h0M243.4 387.2h0M237.9 356.7h0M237.0 388.4h0M281.3 376.7h0M314.2 381.4h0M343.2 376.7h0M335.6 376.2h0M271.3 356.8h0M296.8 381.0h0M315.6 378.3h0M340.4 385.8h0M331.9 368.6h0M301.3 389.4h0M235.5 371.1h0M283.8 379.9h0M275.3 383.1h0M303.8 365.9h0M262.7 372.9h0M258.9 350.9h0M355.3 388.6h0M355.5 372.1h0M357.6 373.2h0M354.4 366.1h0M354.3 378.4h0M356.5 383.5h0M358.2 383.3h0M356.8 382.9h0M356.5 383.0h0" stroke="#b387e6" stroke-opacity="0.72" stroke-width="4" stroke-linecap="round" fill="none"/>
<path d="M335.2 363.8h0M302.0 355.8h0M264.8 353.1h0M350.1 369.6h0M349.7 369.8h0M240.9 344.2h0M354.9 371.8h0M354.8 366.8h0M337.3 364.8h0M276.8 355.9h0M229.7 341.9h0M323.9 363.5h0M353.4 369.6h0M310.0 356.7h0M357.6 369.1h0M355.7 368.9h0M237.6 348.1h0M337.9 367.0h0M279.0 362.7h0M348.4 364.3h0M331.8 360.6h0M244.3 347.0h0M329.0 362.7h0M309.7 358.2h0M336.2 362.6h0M260.8 353.2h0M343.1 364.0h0M333.7 362.6h0M258.1 348.8h0M343.2 366.1h0M290.8 358.4h0M292.7 355.5h0M236.5 346.4h0M309.0 357.9h0M324.9 363.3h0M239.4 343.9h0M311.0 359.8h0M255.9 351.6h0M325.9 365.8h0M262.5 349.1h0M276.2 353.5h0M261.2 351.1h0M300.7 355.4h0M287.9 354.7h0M306.9 361.4h0M300.2 355.6h0M309.6 356.8h0M300.1 358.3h0M250.6 345.5h0M287.2 353.5h0M306.7 358.4h0M259.2 349.3h0M272.5 350.2h0M296.8 357.3h0M252.0 346.5h0M305.6 362.5h0M264.6 348.3h0M272.3 363.6h0M263.3 348.4h0M261.3 353.7h0M287.7 361.8h0M329.2 363.5h0M284.2 354.3h0M316.5 361.6h0M332.4 362.7h0M260.4 369.7h0M339.4 383.8h0M267.6 361.1h0M327.7 389.4h0M272.8 368.8h0M351.8 381.8h0M253.7 357.2h0M274.7 372.1h0M307.2 364.7h0M288.9 386.5h0M328.4 364.7h0M292.1 389.3h0M315.6 357.8h0M290.3 388.6h0M279.5 379.3h0M235.0 367.4h0M303.8 368.4h0M351.8 390.2h0M249.4 379.5h0M345.1 377.9h0M263.3 368.5h0M332.9 389.3h0M323.8 361.5h0M237.3 371.9h0M257.5 348.3h0M329.4 369.4h0M243.5 360.8h0M324.9 365.7h0M243.7 383.4h0M296.3 370.1h0M315.4 388.9h0M307.3 366.9h0M262.8 348.1h0M265.3 354.6h0M328.9 384.2h0M319.0 370.6h0M358.5 379.4h0M354.3 386.8h0M356.6 384.6h0M355.0 374.2h0M355.6 365.9h0M356.7 381.1h0M355.9 387.0h0M354.1 371.7h0M355.1 386.7h0" stroke="#b387e6" stroke-opacity="0.72" stroke-width="4" stroke-linecap="round" fill="none"/>
<rect x="48.6" y="284.7" width="329.4" height="115.5" fill="none" stroke="#222" stroke-width="1"/>
<line x1="48.6" y1="400.2" x2="48.6" y2="397.2" stroke="#222" stroke-width="0.9"/>
<line x1="48.6" y1="284.7" x2="48.6" y2="287.7" stroke="#222" stroke-width="0.9"/>
<line x1="126.1" y1="400.2" x2="126.1" y2="397.2" stroke="#222" stroke-width="0.9"/>
<line x1="126.1" y1="284.7" x2="126.1" y2="287.7" stroke="#222" stroke-width="0.9"/>
<line x1="203.6" y1="400.2" x2="203.6" y2="397.2" stroke="#222" stroke-width="0.9"/>
<line x1="203.6" y1="284.7" x2="203.6" y2="287.7" stroke="#222" stroke-width="0.9"/>
<line x1="281.1" y1="400.2" x2="281.1" y2="397.2" stroke="#222" stroke-width="0.9"/>
<line x1="281.1" y1="284.7" x2="281.1" y2="287.7" stroke="#222" stroke-width="0.9"/>
<line x1="358.6" y1="400.2" x2="358.6" y2="397.2" stroke="#222" stroke-width="0.9"/>
<line x1="358.6" y1="284.7" x2="358.6" y2="287.7" stroke="#222" stroke-width="0.9"/>
<line x1="87.3" y1="400.2" x2="87.3" y2="398.6" stroke="#222" stroke-width="0.9"/>
<line x1="87.3" y1="284.7" x2="87.3" y2="286.3" stroke="#222" stroke-width="0.9"/>
<line x1="164.8" y1="400.2" x2="164.8" y2="398.6" stroke="#222" stroke-width="0.9"/>
<line x1="164.8" y1="284.7" x2="164.8" y2="286.3" stroke="#222" stroke-width="0.9"/>
<line x1="242.3" y1="400.2" x2="242.3" y2="398.6" stroke="#222" stroke-width="0.9"/>
<line x1="242.3" y1="284.7" x2="242.3" y2="286.3" stroke="#222" stroke-width="0.9"/>
<line x1="319.9" y1="400.2" x2="319.9" y2="398.6" stroke="#222" stroke-width="0.9"/>
<line x1="319.9" y1="284.7" x2="319.9" y2="286.3" stroke="#222" stroke-width="0.9"/>
<line x1="48.6" y1="393.1" x2="51.6" y2="393.1" stroke="#222" stroke-width="0.9"/>
<line x1="378" y1="393.1" x2="375" y2="393.1" stroke="#222" stroke-width="0.9"/>
<text font-size="9" fill="#222" text-anchor="end" transform="translate(45.2,395.5) scale(1,0.72)">1</text>
<line x1="48.6" y1="378.7" x2="51.6" y2="378.7" stroke="#222" stroke-width="0.9"/>
<line x1="378" y1="378.7" x2="375" y2="378.7" stroke="#222" stroke-width="0.9"/>
<text font-size="9" fill="#222" text-anchor="end" transform="translate(45.2,381) scale(1,0.72)">2</text>
<line x1="48.6" y1="364.2" x2="51.6" y2="364.2" stroke="#222" stroke-width="0.9"/>
<line x1="378" y1="364.2" x2="375" y2="364.2" stroke="#222" stroke-width="0.9"/>
<text font-size="9" fill="#222" text-anchor="end" transform="translate(45.2,366.6) scale(1,0.72)">3</text>
<line x1="48.6" y1="349.8" x2="51.6" y2="349.8" stroke="#222" stroke-width="0.9"/>
<line x1="378" y1="349.8" x2="375" y2="349.8" stroke="#222" stroke-width="0.9"/>
<text font-size="9" fill="#222" text-anchor="end" transform="translate(45.2,352.2) scale(1,0.72)">4</text>
<line x1="48.6" y1="335.4" x2="51.6" y2="335.4" stroke="#222" stroke-width="0.9"/>
<line x1="378" y1="335.4" x2="375" y2="335.4" stroke="#222" stroke-width="0.9"/>
<text font-size="9" fill="#222" text-anchor="end" transform="translate(45.2,337.8) scale(1,0.72)">5</text>
<line x1="48.6" y1="321" x2="51.6" y2="321" stroke="#222" stroke-width="0.9"/>
<line x1="378" y1="321" x2="375" y2="321" stroke="#222" stroke-width="0.9"/>
<text font-size="9" fill="#222" text-anchor="end" transform="translate(45.2,323.3) scale(1,0.72)">6</text>
<line x1="48.6" y1="306.5" x2="51.6" y2="306.5" stroke="#222" stroke-width="0.9"/>
<line x1="378" y1="306.5" x2="375" y2="306.5" stroke="#222" stroke-width="0.9"/>
<text font-size="9" fill="#222" text-anchor="end" transform="translate(45.2,308.9) scale(1,0.72)">7</text>
<line x1="48.6" y1="292.1" x2="51.6" y2="292.1" stroke="#222" stroke-width="0.9"/>
<line x1="378" y1="292.1" x2="375" y2="292.1" stroke="#222" stroke-width="0.9"/>
<text font-size="9" fill="#222" text-anchor="end" transform="translate(45.2,294.5) scale(1,0.72)">8</text>
<text font-size="11" fill="#222" text-anchor="middle" transform="translate(52.4,411.1) scale(0.83,1)">60%</text>
<text font-size="11" fill="#222" text-anchor="middle" transform="translate(129.9,411.1) scale(0.83,1)">70%</text>
<text font-size="11" fill="#222" text-anchor="middle" transform="translate(207.4,411.1) scale(0.83,1)">80%</text>
<text font-size="11" fill="#222" text-anchor="middle" transform="translate(284.9,411.1) scale(0.83,1)">90%</text>
<text font-size="11" fill="#222" text-anchor="middle" transform="translate(362.4,411.1) scale(0.83,1)">100%</text>
<text font-size="9.2" fill="#111" text-anchor="middle" transform="translate(32.3,343) rotate(-90)">Molecule of RIP3 (n)</text>
<rect x="288.3" y="285.3" width="71.8" height="55.9" fill="#fff" stroke="#777" stroke-width="0.8"/>
<circle cx="299.3" cy="291.9" r="1.6" fill="#5a5a5a" opacity="0.85"/>
<text x="310.9" y="294.9" font-size="7.6" fill="#333" xml:space="preserve">10  nM TNF</text>
<circle cx="299.3" cy="302.8" r="1.6" fill="#ee4a4a" opacity="0.85"/>
<text x="310.9" y="305.8" font-size="7.6" fill="#333" xml:space="preserve">20  nM TNF</text>
<circle cx="299.3" cy="313.1" r="1.6" fill="#3a74de" opacity="0.85"/>
<text x="310.9" y="316.1" font-size="7.6" fill="#333" xml:space="preserve">30  nM TNF</text>
<circle cx="299.3" cy="324.1" r="1.6" fill="#3fa86a" opacity="0.85"/>
<text x="310.9" y="327.1" font-size="7.6" fill="#333" xml:space="preserve">40  nM TNF</text>
<circle cx="299.3" cy="335.3" r="1.6" fill="#b387e6" opacity="0.85"/>
<text x="310.9" y="338.3" font-size="7.6" fill="#333" xml:space="preserve">50  nM TNF</text>
<path d="M63.7 487.6h0M65.1 487.2h0M167.9 501.7h0M186.9 502.8h0M82.9 490.9h0M155.2 499.2h0M152.0 500.1h0M140.3 499.6h0M196.7 505.6h0M76.8 490.9h0M167.4 500.1h0M169.6 502.6h0M80.0 491.2h0M187.7 503.4h0M94.2 491.4h0M134.2 498.0h0M118.7 494.6h0M84.0 490.0h0M128.9 496.8h0M85.8 490.2h0M196.8 506.0h0M144.0 498.2h0M126.0 498.6h0M195.6 504.3h0M135.9 496.1h0M74.1 491.5h0M65.2 489.6h0M160.0 499.5h0M187.1 505.3h0M67.2 488.9h0M114.8 493.9h0M158.8 500.4h0M180.6 501.8h0M178.2 501.5h0M150.2 522.6h0M171.0 513.2h0M156.1 518.1h0M168.5 524.6h0M86.9 496.9h0M194.9 532.8h0M138.3 532.5h0M181.3 505.7h0M187.1 509.5h0M153.7 530.1h0M150.6 522.4h0M115.0 506.0h0M115.2 499.7h0M111.3 529.0h0M135.7 524.1h0M195.0 526.6h0M303.0 510.3h0M219.3 506.9h0M262.1 509.4h0M312.4 514.9h0M203.5 505.8h0M339.6 511.8h0M326.2 512.4h0M254.6 508.6h0M214.5 507.7h0M315.4 512.2h0M293.5 509.9h0M336.2 522.3h0M359.8 515.8h0M217.5 525.9h0M206.4 512.4h0M321.8 521.5h0M300.3 512.6h0M355.4 523.4h0M285.0 511.5h0" stroke="#5a5a5a" stroke-opacity="0.68" stroke-width="3.8" stroke-linecap="round" fill="none"/>
<path d="M182.2 502.2h0M120.2 494.4h0M106.2 494.6h0M162.6 502.0h0M158.7 498.9h0M144.5 497.2h0M65.7 492.9h0M68.5 490.0h0M162.4 500.7h0M173.3 502.1h0M126.5 496.4h0M62.8 487.9h0M193.4 504.3h0M118.7 494.1h0M167.1 500.0h0M103.9 495.3h0M139.5 498.3h0M89.8 490.5h0M179.8 504.3h0M178.1 502.3h0M88.2 490.6h0M194.1 503.6h0M176.2 501.7h0M64.3 488.9h0M198.8 505.7h0M106.8 495.3h0M86.8 491.0h0M193.3 505.0h0M161.5 503.0h0M192.6 503.5h0M88.8 490.5h0M106.7 494.7h0M145.2 498.4h0M196.3 505.3h0M187.2 506.3h0M161.1 522.1h0M145.6 514.3h0M162.7 509.7h0M72.9 532.8h0M177.6 514.5h0M138.1 501.0h0M191.0 518.9h0M96.9 511.0h0M175.8 509.6h0M78.5 531.0h0M177.9 514.6h0M176.8 519.7h0M179.7 512.4h0M113.6 516.7h0M255.9 507.1h0M317.3 510.7h0M256.4 508.7h0M274.8 510.4h0M293.6 509.9h0M270.4 508.9h0M234.2 508.1h0M283.9 511.9h0M312.8 512.5h0M277.2 508.6h0M259.3 509.7h0M252.6 508.0h0M305.3 512.4h0M241.5 524.4h0M210.9 520.8h0M259.8 521.8h0M235.1 533.3h0M271.0 511.4h0M343.1 513.1h0M348.1 531.3h0" stroke="#5a5a5a" stroke-opacity="0.68" stroke-width="3.8" stroke-linecap="round" fill="none"/>
<path d="M194.2 506.0h0M125.1 495.1h0M80.4 489.8h0M155.3 500.5h0M147.4 498.6h0M144.1 498.6h0M86.1 490.1h0M195.2 504.0h0M193.8 503.5h0M73.2 493.0h0M191.5 503.6h0M84.2 491.9h0M147.1 498.2h0M67.7 488.6h0M159.0 500.7h0M106.0 493.0h0M92.3 492.9h0M93.5 492.1h0M57.9 487.8h0M71.6 489.1h0M62.4 488.7h0M170.5 500.5h0M112.4 493.7h0M93.4 490.9h0M92.4 490.6h0M169.8 500.7h0M58.4 488.7h0M146.8 498.2h0M162.1 500.8h0M147.2 498.3h0M170.3 500.9h0M145.5 498.4h0M88.9 490.7h0M191.8 524.8h0M85.1 497.6h0M150.2 502.6h0M95.1 506.4h0M129.2 499.6h0M197.9 532.5h0M161.5 532.9h0M120.1 530.1h0M178.1 505.5h0M170.1 526.8h0M59.7 521.8h0M86.5 528.0h0M187.2 507.3h0M171.4 505.4h0M162.8 514.5h0M175.1 525.3h0M344.2 513.8h0M238.9 507.9h0M268.3 508.6h0M289.8 510.3h0M310.6 509.9h0M298.2 511.4h0M337.9 512.3h0M282.4 508.8h0M276.5 509.5h0M225.4 508.2h0M231.4 507.0h0M281.3 510.7h0M213.5 518.5h0M259.7 516.7h0M253.6 533.5h0M262.9 515.8h0M219.5 514.2h0M289.3 527.8h0M264.0 526.6h0" stroke="#5a5a5a" stroke-opacity="0.68" stroke-width="3.8" stroke-linecap="round" fill="none"/>
<path d="M145.7 500.8h0M183.6 505.9h0M159.3 499.4h0M151.0 499.0h0M145.0 497.2h0M128.7 496.4h0M189.1 505.8h0M164.4 501.9h0M69.9 489.2h0M107.6 492.9h0M148.0 497.8h0M68.6 489.0h0M144.5 497.5h0M156.5 499.0h0M74.0 489.9h0M108.5 495.3h0M67.5 489.0h0M154.7 501.3h0M117.4 494.0h0M91.0 490.8h0M180.2 502.1h0M58.7 488.9h0M105.9 493.1h0M69.0 489.1h0M187.8 503.2h0M111.4 495.1h0M158.6 500.7h0M114.4 494.1h0M126.2 495.8h0M62.4 487.3h0M117.9 495.2h0M136.5 497.0h0M145.8 497.7h0M146.5 512.7h0M108.9 531.6h0M107.5 534.3h0M88.2 522.4h0M130.6 500.3h0M75.1 500.9h0M185.6 534.1h0M158.0 518.2h0M101.6 507.5h0M198.8 531.4h0M173.4 510.3h0M192.2 510.3h0M184.0 506.4h0M78.9 502.4h0M166.3 524.3h0M83.3 499.0h0M276.0 510.0h0M345.6 513.7h0M272.7 510.2h0M207.5 506.0h0M229.9 507.6h0M289.5 510.7h0M329.5 511.9h0M289.6 512.4h0M295.6 512.6h0M245.2 506.5h0M314.1 513.5h0M281.3 511.0h0M312.1 515.8h0M221.8 532.4h0M272.3 530.5h0M278.1 520.7h0M268.7 518.9h0M340.6 533.5h0M337.9 522.9h0" stroke="#5a5a5a" stroke-opacity="0.68" stroke-width="3.8" stroke-linecap="round" fill="none"/>
<path d="M56.2 487.3h0M127.7 495.5h0M91.8 493.6h0M134.9 499.9h0M112.7 493.9h0M198.6 505.1h0M88.1 493.6h0M97.9 492.6h0M80.4 489.2h0M132.7 495.8h0M193.2 503.8h0M68.5 488.3h0M108.2 493.9h0M106.8 496.0h0M132.1 496.7h0M86.0 490.4h0M121.1 494.2h0M183.9 502.8h0M56.3 486.6h0M199.3 504.6h0M199.9 504.5h0M190.9 503.8h0M101.8 493.4h0M117.2 494.5h0M134.2 497.3h0M100.6 492.8h0M103.5 494.9h0M97.6 494.1h0M70.6 489.2h0M155.0 499.9h0M98.2 491.3h0M143.9 497.5h0M183.0 502.2h0M68.5 505.7h0M123.1 527.5h0M109.7 507.3h0M68.0 496.5h0M72.1 497.1h0M182.6 506.1h0M165.7 528.2h0M190.6 528.0h0M86.8 520.8h0M132.1 525.6h0M178.5 527.7h0M156.8 520.3h0M160.1 533.3h0M173.5 505.3h0M65.5 511.6h0M94.7 532.9h0M295.4 511.3h0M346.1 511.8h0M225.2 505.8h0M288.3 508.7h0M240.2 508.0h0M256.2 507.8h0M277.4 510.5h0M326.1 512.7h0M272.8 509.8h0M285.7 510.1h0M210.0 506.6h0M317.8 510.4h0M357.9 518.8h0M272.8 523.5h0M204.9 511.6h0M230.2 520.8h0M234.8 530.9h0M218.7 518.8h0M341.3 529.3h0" stroke="#5a5a5a" stroke-opacity="0.68" stroke-width="3.8" stroke-linecap="round" fill="none"/>
<path d="M100.1 492.6h0M164.3 501.1h0M142.0 496.8h0M98.8 492.2h0M71.5 489.7h0M173.1 502.0h0M159.9 499.3h0M169.9 503.8h0M102.1 494.0h0M181.7 502.1h0M121.9 495.2h0M103.6 493.6h0M144.2 499.0h0M73.6 488.4h0M120.5 494.9h0M176.4 502.8h0M104.3 493.5h0M100.7 492.4h0M181.8 502.5h0M106.8 495.1h0M197.9 504.9h0M133.4 498.5h0M55.7 486.5h0M109.9 493.2h0M183.2 504.7h0M192.2 505.8h0M68.9 488.8h0M198.9 503.9h0M90.6 491.3h0M128.6 496.4h0M135.8 496.8h0M133.4 495.8h0M182.0 504.1h0M88.8 519.8h0M81.8 507.9h0M200.0 523.8h0M128.7 534.5h0M105.4 514.5h0M76.9 520.0h0M157.0 516.2h0M87.8 522.6h0M170.6 524.1h0M173.8 520.4h0M79.1 499.3h0M187.8 519.0h0M101.9 518.8h0M58.6 507.1h0M116.6 514.7h0M111.4 530.3h0M227.1 507.4h0M318.5 511.7h0M227.2 506.6h0M270.2 508.1h0M330.7 515.8h0M313.6 511.4h0M244.1 507.5h0M227.1 507.9h0M258.7 507.8h0M330.7 512.6h0M338.7 511.4h0M318.7 527.6h0M280.9 520.8h0M240.4 533.1h0M362.4 520.8h0M295.0 523.9h0M249.9 522.1h0M309.7 519.2h0M268.1 527.0h0" stroke="#5a5a5a" stroke-opacity="0.68" stroke-width="3.8" stroke-linecap="round" fill="none"/>
<path d="M200.4 477.9h0M194.8 478.1h0M198.1 481.8h0M195.5 478.8h0M194.2 484.9h0M192.8 482.0h0M200.3 477.8h0M200.5 483.8h0M196.4 477.8h0M197.3 478.7h0M279.8 490.4h0M262.6 493.3h0M316.4 496.9h0M228.3 482.8h0M345.2 497.0h0M257.1 489.1h0M269.0 492.6h0M273.8 489.3h0M327.4 496.4h0M208.6 480.7h0M324.8 497.3h0M252.5 486.6h0M307.8 495.8h0M271.8 488.9h0M363.7 499.2h0M299.9 493.0h0M223.0 486.6h0M354.6 499.9h0M240.8 485.9h0M284.8 492.2h0M325.0 496.0h0M268.7 490.5h0M212.2 486.8h0M204.1 483.3h0M357.6 499.2h0M200.3 480.0h0M214.3 481.3h0M352.2 499.6h0M309.9 494.8h0M334.7 506.6h0M218.5 503.3h0M299.0 499.2h0M218.6 514.8h0M229.9 526.1h0M336.1 521.0h0M248.1 495.6h0M323.3 517.6h0M301.0 503.8h0M235.1 485.7h0M310.3 498.6h0M282.2 502.4h0M354.7 524.4h0M220.6 503.6h0M243.9 492.8h0M287.1 494.0h0M311.9 534.4h0M347.8 509.0h0M303.4 533.9h0M228.3 483.4h0M271.9 511.8h0M233.5 517.6h0M239.2 506.3h0M230.0 519.6h0M322.6 502.6h0M249.1 524.3h0M331.2 496.9h0M218.2 493.8h0M214.8 534.0h0M242.7 498.3h0M297.5 513.5h0" stroke="#ee4a4a" stroke-opacity="0.72" stroke-width="3.5" stroke-linecap="round" fill="none"/>
<path d="M192.6 483.3h0M195.2 479.7h0M197.6 478.4h0M194.3 478.7h0M192.3 480.5h0M200.3 477.9h0M195.0 481.4h0M194.6 478.0h0M194.6 481.0h0M195.0 482.7h0M304.0 496.7h0M292.1 495.6h0M359.7 502.0h0M197.4 481.7h0M353.9 497.8h0M218.5 482.1h0M251.2 489.8h0M337.9 498.0h0M206.3 481.7h0M234.6 485.5h0M240.2 486.8h0M257.8 490.5h0M319.9 497.2h0M341.0 497.1h0M310.7 498.5h0M273.7 490.0h0M262.0 489.3h0M253.8 489.9h0M325.2 499.9h0M242.5 486.2h0M316.8 498.1h0M281.2 490.8h0M317.1 499.3h0M287.8 495.9h0M282.2 493.3h0M243.9 484.9h0M218.1 482.9h0M301.4 494.0h0M226.3 483.8h0M329.1 510.7h0M211.8 512.0h0M222.7 489.2h0M240.5 517.9h0M193.1 507.6h0M196.2 481.3h0M228.4 508.6h0M269.9 496.5h0M364.0 534.6h0M223.6 509.6h0M222.2 506.6h0M240.3 488.0h0M279.9 494.9h0M284.0 492.5h0M246.7 519.5h0M336.3 525.8h0M314.1 495.5h0M256.7 524.9h0M335.2 523.9h0M220.0 500.6h0M246.6 524.1h0M322.9 529.7h0M294.0 532.8h0M304.1 534.0h0M305.8 534.4h0M199.8 521.3h0M193.7 509.5h0M224.3 496.7h0M194.4 522.5h0M275.2 508.4h0M241.0 525.0h0" stroke="#ee4a4a" stroke-opacity="0.72" stroke-width="3.5" stroke-linecap="round" fill="none"/>
<path d="M196.8 478.6h0M196.1 483.2h0M195.7 480.3h0M197.5 483.3h0M195.2 478.2h0M197.3 480.8h0M195.0 482.2h0M200.4 481.5h0M192.9 477.8h0M200.7 478.4h0M338.1 496.6h0M283.7 491.1h0M322.5 497.2h0M283.5 492.4h0M237.7 486.4h0M304.3 496.2h0M297.6 498.6h0M296.4 492.4h0M198.9 478.2h0M297.5 492.8h0M263.2 489.2h0M364.2 502.8h0M312.1 499.2h0M252.7 488.7h0M349.8 498.1h0M287.3 494.5h0M249.0 489.2h0M198.5 479.2h0M353.5 498.5h0M271.9 492.8h0M249.6 489.7h0M288.8 496.1h0M290.7 493.5h0M232.3 485.4h0M311.3 495.2h0M232.0 486.1h0M338.8 498.5h0M278.8 493.6h0M337.5 513.2h0M289.1 521.1h0M222.4 500.8h0M319.9 521.1h0M222.5 486.8h0M291.3 499.7h0M335.3 529.0h0M200.1 533.0h0M330.1 520.4h0M303.4 523.2h0M302.0 528.9h0M282.0 498.1h0M311.4 521.0h0M267.5 489.2h0M289.3 494.3h0M253.0 497.2h0M195.2 494.0h0M195.7 489.9h0M285.9 518.4h0M254.3 486.8h0M252.4 499.1h0M230.1 524.6h0M215.7 491.7h0M225.2 523.4h0M277.6 506.3h0M261.2 513.8h0M219.8 527.8h0M270.6 514.1h0M286.0 502.2h0M199.7 494.5h0M210.8 486.9h0M237.5 499.4h0" stroke="#ee4a4a" stroke-opacity="0.72" stroke-width="3.5" stroke-linecap="round" fill="none"/>
<path d="M195.7 481.2h0M201.3 477.5h0M192.4 477.5h0M195.0 478.6h0M199.3 479.8h0M197.4 477.4h0M192.9 477.9h0M196.2 478.5h0M198.3 477.9h0M200.3 477.6h0M290.0 494.9h0M281.6 493.7h0M351.1 498.9h0M284.6 495.5h0M288.6 494.9h0M255.2 490.1h0M361.2 500.6h0M261.4 491.6h0M265.3 488.3h0M214.7 480.8h0M265.4 488.8h0M316.5 497.8h0M275.7 489.3h0M291.1 494.7h0M337.7 497.7h0M202.8 479.4h0M348.9 501.4h0M345.3 498.7h0M256.6 488.1h0M266.3 489.6h0M330.3 497.3h0M338.3 498.1h0M248.9 486.6h0M275.9 490.1h0M270.1 489.3h0M344.7 499.8h0M327.5 498.1h0M314.8 494.8h0M195.8 520.3h0M315.9 503.2h0M360.9 514.5h0M242.6 500.3h0M204.3 526.9h0M362.4 518.3h0M238.7 531.2h0M228.5 518.2h0M272.1 534.4h0M239.0 523.3h0M238.4 492.4h0M306.0 517.0h0M239.6 495.8h0M228.4 523.4h0M247.3 501.2h0M198.8 522.8h0M336.2 514.7h0M306.8 533.2h0M202.2 513.6h0M364.6 500.8h0M343.7 534.9h0M324.3 520.3h0M203.0 517.7h0M200.9 488.4h0M343.6 507.0h0M305.3 523.3h0M334.1 510.0h0M337.2 528.6h0M238.6 489.5h0M276.0 510.1h0M202.7 481.7h0M200.0 492.0h0" stroke="#ee4a4a" stroke-opacity="0.72" stroke-width="3.5" stroke-linecap="round" fill="none"/>
<path d="M197.3 482.6h0M194.6 478.5h0M193.2 477.6h0M200.5 480.9h0M198.2 480.9h0M200.6 482.0h0M197.0 481.5h0M200.9 481.2h0M193.1 479.8h0M198.5 477.7h0M342.9 502.2h0M305.6 493.9h0M210.7 483.3h0M194.5 477.7h0M212.2 480.1h0M335.1 497.0h0M310.1 497.0h0M287.0 492.2h0M257.6 487.2h0M309.3 495.8h0M348.8 502.0h0M314.6 499.2h0M212.9 484.6h0M241.8 485.9h0M195.6 480.3h0M254.2 487.2h0M356.4 500.3h0M223.4 483.1h0M247.4 486.4h0M362.8 498.3h0M285.3 493.3h0M223.5 482.6h0M207.1 481.1h0M222.7 481.8h0M333.0 496.5h0M279.4 490.5h0M223.3 482.4h0M345.7 503.8h0M215.3 495.3h0M307.9 500.8h0M278.6 491.2h0M239.8 511.9h0M284.7 491.5h0M214.8 521.5h0M332.4 500.2h0M252.8 530.9h0M272.3 523.0h0M340.6 514.2h0M264.5 495.4h0M358.2 533.2h0M363.3 518.5h0M211.4 491.2h0M364.1 514.4h0M243.6 498.2h0M222.6 534.1h0M212.1 516.7h0M217.9 525.4h0M199.6 511.9h0M360.9 505.4h0M205.3 485.8h0M253.9 520.2h0M312.3 498.0h0M349.7 510.9h0M259.5 505.2h0M209.3 491.2h0M215.4 533.2h0M204.1 529.9h0M313.6 517.6h0M303.8 533.4h0M351.3 515.4h0" stroke="#ee4a4a" stroke-opacity="0.72" stroke-width="3.5" stroke-linecap="round" fill="none"/>
<path d="M198.3 479.7h0M192.3 481.3h0M199.0 482.9h0M197.5 481.2h0M200.3 481.3h0M196.5 480.6h0M194.8 479.4h0M195.6 478.9h0M194.7 479.0h0M195.5 482.2h0M351.6 498.1h0M193.7 479.9h0M217.6 484.1h0M348.4 497.5h0M213.5 484.6h0M286.5 492.4h0M273.0 491.8h0M266.5 491.7h0M362.0 498.8h0M235.8 491.8h0M284.3 492.0h0M199.8 479.0h0M220.5 481.9h0M345.6 499.4h0M350.5 497.8h0M224.7 483.8h0M212.4 483.2h0M200.4 480.8h0M193.2 481.6h0M301.9 494.8h0M356.2 499.3h0M261.9 490.4h0M263.4 489.3h0M300.5 499.2h0M334.7 496.9h0M206.9 479.5h0M275.8 489.3h0M331.9 497.0h0M351.0 504.5h0M234.4 523.4h0M237.5 489.1h0M290.4 497.2h0M253.6 516.9h0M197.1 516.7h0M344.8 497.5h0M288.8 512.9h0M220.4 500.5h0M289.7 519.8h0M236.8 508.7h0M300.4 496.6h0M312.4 504.5h0M251.1 533.3h0M243.8 501.2h0M338.4 533.7h0M228.8 491.9h0M308.6 495.3h0M325.7 521.1h0M363.3 514.6h0M312.4 501.2h0M331.2 533.3h0M220.6 515.5h0M337.2 530.6h0M262.4 527.1h0M222.7 515.0h0M228.0 533.8h0M271.3 510.4h0M267.8 509.3h0M313.2 497.4h0M294.5 500.5h0M317.9 514.6h0" stroke="#ee4a4a" stroke-opacity="0.72" stroke-width="3.5" stroke-linecap="round" fill="none"/>
<path d="M298.1 471.9h0M349.3 476.7h0M333.3 476.8h0M309.1 472.0h0M342.9 473.6h0M352.6 473.3h0M309.0 469.1h0M320.4 470.2h0M300.8 469.7h0M351.6 475.1h0M317.3 478.5h0M330.2 472.5h0M294.6 470.4h0M311.1 472.2h0M313.6 477.7h0M348.8 475.4h0M351.1 480.3h0M341.6 477.4h0M317.8 475.2h0M288.5 469.2h0M356.5 473.1h0M303.4 472.2h0M343.6 472.1h0M299.4 470.7h0M282.5 467.0h0M347.3 478.2h0M334.4 477.7h0M279.9 515.8h0M355.5 500.3h0M348.4 513.0h0M291.2 492.3h0M357.2 526.9h0M364.2 510.8h0M312.7 469.9h0M284.4 469.9h0M286.5 509.7h0M331.6 475.1h0M320.0 507.3h0M346.1 527.5h0M355.9 494.7h0M332.0 475.5h0M347.4 523.0h0M356.8 474.1h0M307.2 470.0h0M339.7 484.1h0M308.8 472.7h0M342.9 486.7h0M346.0 499.2h0M360.0 511.4h0M289.1 493.6h0" stroke="#3a74de" stroke-opacity="0.72" stroke-width="3.5" stroke-linecap="round" fill="none"/>
<path d="M301.6 473.4h0M345.6 473.5h0M342.2 473.3h0M330.6 474.2h0M355.5 485.7h0M278.8 467.5h0M353.1 473.2h0M295.9 470.7h0M284.0 467.5h0M336.8 471.6h0M324.6 472.9h0M317.1 474.8h0M318.7 473.6h0M311.3 470.8h0M332.9 475.3h0M320.7 477.5h0M335.1 475.8h0M318.5 471.2h0M338.1 474.2h0M356.3 481.8h0M355.4 473.0h0M287.1 474.6h0M302.1 471.5h0M292.0 467.4h0M333.2 473.3h0M316.0 471.8h0M324.6 474.0h0M320.6 529.6h0M338.4 505.9h0M303.6 475.1h0M363.2 531.6h0M284.6 477.8h0M307.0 483.9h0M323.8 511.7h0M280.8 511.3h0M363.1 529.1h0M343.0 477.1h0M315.6 493.4h0M293.8 468.0h0M320.0 498.2h0M327.4 513.6h0M343.1 496.2h0M289.6 496.5h0M294.3 532.6h0M307.5 468.9h0M348.0 483.6h0M350.5 482.0h0M321.6 511.5h0M347.3 494.5h0M354.6 474.4h0" stroke="#3a74de" stroke-opacity="0.72" stroke-width="3.5" stroke-linecap="round" fill="none"/>
<path d="M318.5 475.1h0M286.1 468.1h0M315.0 481.5h0M330.7 475.6h0M327.1 471.9h0M357.8 482.9h0M326.3 478.9h0M301.2 481.5h0M321.4 469.8h0M278.5 469.2h0M282.7 470.1h0M352.3 483.9h0M356.6 480.8h0M282.4 472.8h0M289.7 471.5h0M336.0 480.9h0M349.0 480.2h0M334.3 476.3h0M312.4 472.7h0M294.1 468.2h0M329.3 471.1h0M325.8 472.9h0M290.5 472.2h0M345.9 475.6h0M294.2 468.7h0M300.2 471.2h0M334.4 477.6h0M313.2 499.1h0M325.1 483.5h0M335.8 517.3h0M348.5 523.4h0M347.5 482.6h0M292.9 507.4h0M354.7 531.3h0M319.8 509.1h0M354.2 515.7h0M319.3 518.5h0M343.7 511.3h0M353.1 531.5h0M363.4 504.2h0M307.1 503.2h0M324.1 490.3h0M332.5 520.1h0M362.0 493.8h0M304.8 487.9h0M283.2 491.1h0M319.0 487.7h0M298.9 480.0h0M327.5 514.8h0M293.0 502.9h0" stroke="#3a74de" stroke-opacity="0.72" stroke-width="3.5" stroke-linecap="round" fill="none"/>
<path d="M285.8 467.5h0M342.7 473.0h0M306.4 472.8h0M331.2 475.4h0M291.8 470.6h0M346.7 471.9h0M305.8 469.6h0M298.6 470.1h0M342.1 475.7h0M287.0 469.7h0M314.8 470.1h0M321.9 473.5h0M322.5 473.0h0M299.8 470.4h0M342.8 487.0h0M289.1 469.9h0M325.2 471.8h0M334.3 479.9h0M316.0 473.1h0M323.8 485.1h0M301.0 474.4h0M354.3 473.6h0M323.2 482.8h0M319.6 470.2h0M322.6 470.3h0M278.8 471.9h0M333.1 473.8h0M355.4 528.7h0M301.3 484.6h0M333.0 515.2h0M290.3 524.7h0M307.1 519.4h0M339.9 485.0h0M333.5 480.8h0M305.1 506.7h0M277.1 476.3h0M363.3 520.9h0M362.4 528.6h0M306.2 507.2h0M357.4 531.1h0M311.4 478.6h0M282.1 528.0h0M355.5 522.1h0M364.6 517.4h0M286.4 473.1h0M356.9 528.0h0M326.5 485.9h0M312.4 517.1h0M323.4 517.9h0M334.4 513.5h0" stroke="#3a74de" stroke-opacity="0.72" stroke-width="3.5" stroke-linecap="round" fill="none"/>
<path d="M315.5 481.6h0M337.2 474.4h0M320.4 480.8h0M276.9 474.6h0M294.2 479.2h0M301.2 479.5h0M291.1 478.5h0M295.1 468.2h0M315.7 477.0h0M288.9 468.0h0M356.2 474.4h0M351.2 478.8h0M297.0 473.2h0M321.1 474.5h0M280.0 466.2h0M314.8 470.6h0M315.1 476.4h0M296.4 470.4h0M298.0 472.8h0M341.4 479.9h0M339.6 473.3h0M333.0 482.3h0M330.8 477.4h0M295.7 468.4h0M304.4 471.4h0M277.2 467.1h0M325.5 474.9h0M344.3 499.0h0M363.2 474.9h0M329.2 472.3h0M349.0 484.3h0M349.6 496.5h0M342.0 508.7h0M352.2 497.5h0M284.8 480.2h0M327.8 503.6h0M345.4 490.1h0M347.0 478.7h0M310.4 493.4h0M279.0 517.7h0M298.9 529.1h0M283.5 491.2h0M292.8 532.4h0M279.3 506.4h0M312.3 474.2h0M317.6 506.3h0M324.4 486.1h0M341.0 499.7h0M300.4 519.0h0M337.0 515.6h0" stroke="#3a74de" stroke-opacity="0.72" stroke-width="3.5" stroke-linecap="round" fill="none"/>
<path d="M347.6 474.4h0M344.7 473.4h0M346.1 477.2h0M336.0 472.2h0M305.0 470.8h0M352.4 473.5h0M320.0 470.6h0M295.7 481.0h0M337.0 474.4h0M340.6 481.9h0M323.9 474.7h0M278.3 471.3h0M278.4 466.4h0M342.5 474.7h0M330.7 470.9h0M322.3 471.4h0M304.0 471.1h0M283.3 466.4h0M286.5 472.2h0M296.6 467.6h0M349.0 473.6h0M329.1 474.6h0M312.4 470.0h0M331.0 471.4h0M300.6 470.0h0M297.5 473.1h0M350.0 504.4h0M314.5 516.1h0M295.7 480.8h0M346.5 525.1h0M356.8 521.8h0M312.8 513.5h0M326.9 503.2h0M361.4 529.7h0M341.1 485.5h0M350.2 474.1h0M332.7 504.4h0M320.8 501.1h0M332.6 513.8h0M286.3 499.7h0M332.6 504.4h0M351.5 491.2h0M280.5 497.3h0M294.5 485.6h0M359.0 488.5h0M282.9 526.5h0M277.8 473.5h0M330.0 486.4h0M304.5 501.6h0M329.6 480.0h0" stroke="#3a74de" stroke-opacity="0.72" stroke-width="3.5" stroke-linecap="round" fill="none"/>
<path d="M337.4 454.6h0M327.7 460.2h0M329.3 460.7h0M323.3 454.3h0M350.6 461.9h0M328.8 453.6h0M351.2 464.4h0M327.0 458.7h0M353.6 460.2h0M338.7 461.5h0M326.3 459.1h0M354.5 464.7h0M336.3 460.3h0M331.4 454.4h0M331.8 481.4h0M329.3 518.7h0M338.7 489.5h0M355.5 474.0h0M322.5 495.6h0M327.3 503.9h0M318.6 478.7h0M339.8 498.7h0M344.1 492.6h0M340.8 506.2h0M344.9 510.2h0M332.2 505.4h0M350.6 459.6h0M324.2 463.7h0M323.5 482.9h0M339.2 516.8h0M319.9 482.5h0M329.3 479.0h0M355.1 471.9h0M336.7 479.4h0M319.9 488.4h0M348.8 478.2h0M330.2 479.6h0M354.3 471.9h0M338.0 519.9h0M347.3 469.0h0M357.3 504.7h0M329.5 513.3h0" stroke="#3fa86a" stroke-opacity="0.72" stroke-width="3.5" stroke-linecap="round" fill="none"/>
<path d="M335.9 454.9h0M352.7 461.6h0M328.2 456.1h0M345.3 456.5h0M326.7 464.3h0M327.8 453.5h0M324.6 457.9h0M334.2 454.2h0M345.3 459.6h0M338.8 460.1h0M334.1 457.3h0M353.6 457.3h0M329.2 455.2h0M333.2 457.9h0M316.0 465.3h0M328.2 487.1h0M348.7 474.5h0M350.9 521.1h0M348.2 493.4h0M342.7 521.2h0M348.5 506.1h0M356.6 500.5h0M354.2 480.6h0M322.2 502.2h0M338.8 465.8h0M339.1 478.8h0M344.1 492.5h0M349.8 528.4h0M339.0 466.5h0M333.2 523.1h0M343.6 470.5h0M340.5 488.1h0M334.8 511.7h0M328.4 461.0h0M338.4 513.9h0M337.1 454.5h0M332.1 526.1h0M345.6 524.0h0M332.8 502.6h0M339.1 455.8h0M338.6 493.1h0M355.1 458.0h0" stroke="#3fa86a" stroke-opacity="0.72" stroke-width="3.5" stroke-linecap="round" fill="none"/>
<path d="M354.4 466.5h0M349.4 461.9h0M339.9 465.8h0M347.0 457.4h0M316.6 459.8h0M334.1 461.6h0M324.3 469.4h0M319.3 453.3h0M325.0 453.4h0M335.1 454.6h0M319.0 460.7h0M328.2 455.3h0M354.2 461.0h0M321.0 471.5h0M355.4 492.7h0M349.0 518.3h0M334.2 504.8h0M336.5 480.6h0M328.2 498.6h0M334.4 458.6h0M325.1 526.3h0M326.9 463.5h0M347.8 486.3h0M350.6 486.3h0M330.8 458.1h0M321.3 473.1h0M333.3 497.7h0M357.5 471.4h0M318.3 466.5h0M356.2 477.2h0M356.8 485.8h0M335.8 496.7h0M327.8 459.2h0M337.2 510.4h0M319.2 454.2h0M340.5 487.7h0M316.6 479.7h0M323.0 510.4h0M336.4 507.4h0M356.8 503.9h0M322.3 454.9h0M348.7 508.0h0" stroke="#3fa86a" stroke-opacity="0.72" stroke-width="3.5" stroke-linecap="round" fill="none"/>
<path d="M340.5 457.0h0M336.8 457.7h0M320.1 455.9h0M319.5 457.9h0M323.5 457.4h0M319.1 452.1h0M354.3 458.4h0M348.6 458.1h0M349.7 471.3h0M330.7 457.2h0M330.7 463.5h0M350.7 459.0h0M319.4 457.2h0M346.2 463.3h0M334.2 498.3h0M327.7 527.8h0M353.4 475.2h0M320.9 494.4h0M330.1 504.1h0M319.0 455.6h0M334.7 515.8h0M339.2 467.1h0M357.8 523.3h0M327.3 472.2h0M357.9 490.5h0M348.3 469.0h0M316.6 509.7h0M321.5 453.0h0M328.5 456.1h0M340.3 525.9h0M339.8 512.7h0M347.8 466.5h0M325.6 506.6h0M331.5 527.9h0M354.1 483.0h0M324.7 467.4h0M339.0 500.2h0M348.7 481.4h0M346.8 508.5h0M326.3 498.8h0M353.4 527.3h0M345.3 466.5h0" stroke="#3fa86a" stroke-opacity="0.72" stroke-width="3.5" stroke-linecap="round" fill="none"/>
<path d="M317.4 468.0h0M328.5 455.0h0M350.4 462.8h0M342.3 455.9h0M349.8 458.5h0M316.0 456.0h0M325.1 455.9h0M325.4 452.9h0M317.5 453.6h0M340.9 469.0h0M350.6 461.8h0M338.2 461.1h0M341.1 461.3h0M351.6 486.4h0M319.7 463.6h0M324.8 473.0h0M330.9 489.1h0M351.5 484.3h0M349.4 514.7h0M338.6 478.8h0M333.7 502.6h0M330.7 526.0h0M324.1 481.0h0M341.5 464.0h0M351.2 474.4h0M357.7 517.5h0M351.3 459.3h0M320.9 477.4h0M357.0 527.2h0M328.7 528.5h0M329.1 506.5h0M324.8 462.3h0M330.6 525.0h0M342.1 482.0h0M346.4 520.1h0M354.9 521.9h0M329.9 508.0h0M354.5 467.0h0M347.9 471.7h0M329.1 495.6h0M350.8 470.2h0" stroke="#3fa86a" stroke-opacity="0.72" stroke-width="3.5" stroke-linecap="round" fill="none"/>
<path d="M341.7 460.3h0M355.0 459.5h0M345.5 463.6h0M340.1 456.8h0M348.1 457.0h0M344.5 459.5h0M330.1 457.0h0M329.9 455.1h0M347.3 465.9h0M350.9 467.1h0M352.1 461.0h0M351.3 460.8h0M324.2 454.4h0M324.8 511.8h0M352.2 502.4h0M337.6 496.5h0M327.2 492.0h0M326.6 516.1h0M348.5 465.2h0M317.5 522.0h0M356.2 461.5h0M323.6 468.2h0M335.9 489.5h0M324.8 475.7h0M327.5 464.0h0M323.0 452.6h0M327.8 517.0h0M356.3 511.6h0M335.8 486.8h0M337.0 504.6h0M346.8 512.7h0M337.7 469.9h0M322.4 475.6h0M331.3 474.6h0M327.7 466.6h0M329.0 477.4h0M333.9 465.3h0M337.8 527.6h0M343.4 514.0h0M349.0 518.8h0M342.3 469.7h0" stroke="#3fa86a" stroke-opacity="0.72" stroke-width="3.5" stroke-linecap="round" fill="none"/>
<path d="M356.4 460.7h0M353.1 513.5h0M360.8 522.1h0M360.2 485.1h0M357.5 473.6h0M363.2 474.9h0M354.2 478.1h0M352.7 450.4h0M363.2 444.7h0M358.8 512.6h0M363.1 455.1h0M353.2 447.8h0M355.3 490.0h0M359.8 472.1h0M356.6 505.3h0M360.3 443.9h0M356.0 477.0h0M350.6 508.8h0M355.0 445.7h0M363.4 495.8h0M361.7 455.1h0M363.5 458.0h0M355.5 459.6h0M353.6 503.8h0M359.6 443.6h0M361.3 476.9h0M352.2 447.6h0M360.2 464.1h0M352.5 460.2h0M354.0 475.5h0M353.7 481.2h0M357.7 466.5h0M362.3 484.6h0M363.3 525.2h0M358.5 505.1h0M356.6 497.0h0M363.4 460.7h0M359.5 489.5h0M356.2 458.3h0M359.9 459.0h0M353.5 490.1h0M355.4 472.2h0M359.3 518.9h0M354.2 463.5h0M353.4 457.0h0M356.6 497.0h0M363.4 474.6h0M357.0 509.3h0M358.2 477.9h0M357.8 507.1h0M356.4 495.8h0M363.1 481.8h0M354.3 493.9h0M363.2 509.2h0M350.1 472.5h0M355.4 517.4h0M353.4 456.1h0M358.4 469.7h0M360.3 488.3h0M354.4 444.3h0M361.0 437.1h0M362.6 455.6h0M359.2 474.6h0M362.5 493.8h0M354.8 475.9h0M349.9 475.7h0M360.9 474.8h0M361.0 462.1h0M356.5 449.4h0M353.8 450.7h0M358.3 515.5h0M354.8 509.3h0M354.9 461.2h0M360.9 525.4h0M361.1 518.8h0M356.7 529.1h0M353.3 488.7h0M353.8 465.1h0M355.2 451.0h0M353.6 457.6h0M363.9 445.5h0M363.0 448.8h0M358.8 443.3h0M354.9 452.7h0M362.5 465.5h0M359.8 450.2h0M361.5 510.5h0M361.7 484.4h0M352.5 485.4h0M363.4 481.7h0M361.4 495.5h0M357.9 464.5h0M351.7 449.0h0M363.1 456.5h0M358.2 491.4h0M358.0 457.5h0M361.0 487.3h0M361.0 520.6h0M351.9 514.6h0M360.6 451.5h0M357.2 498.6h0M355.6 448.9h0M352.6 448.9h0M358.4 523.8h0M350.1 508.6h0M347.8 467.7h0M345.6 490.9h0M350.1 461.9h0M346.1 490.0h0M349.8 508.0h0" stroke="#b387e6" stroke-opacity="0.78" stroke-width="3.5" stroke-linecap="round" fill="none"/>
<path d="M354.2 514.3h0M357.1 523.5h0M354.1 514.7h0M360.8 489.4h0M352.4 467.5h0M359.0 488.6h0M353.5 450.1h0M354.3 512.3h0M350.6 455.1h0M354.7 471.8h0M353.3 486.2h0M355.6 528.9h0M354.3 471.3h0M359.0 452.9h0M355.3 513.0h0M352.0 517.2h0M356.5 490.9h0M359.1 446.8h0M351.8 491.0h0M355.5 472.2h0M354.0 495.5h0M358.3 477.7h0M354.9 505.9h0M362.4 525.5h0M363.7 468.2h0M361.5 512.1h0M352.4 450.3h0M351.6 445.1h0M361.9 487.2h0M356.4 502.4h0M356.6 465.4h0M357.9 483.5h0M352.7 509.9h0M357.5 496.3h0M363.0 455.5h0M357.2 482.2h0M357.8 487.0h0M352.9 480.3h0M362.5 443.9h0M357.5 470.5h0M355.8 519.9h0M361.5 504.0h0M356.8 519.3h0M351.2 516.6h0M358.6 459.0h0M354.5 504.2h0M363.2 496.5h0M363.4 450.1h0M352.9 464.9h0M353.3 520.5h0M354.1 464.9h0M358.9 448.9h0M357.2 500.5h0M359.0 449.0h0M359.2 502.5h0M361.0 491.0h0M356.3 496.9h0M350.5 453.8h0M357.8 486.9h0M350.3 454.4h0M361.9 506.8h0M353.7 509.1h0M353.6 450.9h0M358.1 482.5h0M360.4 506.1h0M363.5 522.0h0M361.6 517.9h0M357.6 465.7h0M359.8 504.8h0M361.5 449.6h0M354.0 455.5h0M353.3 461.8h0M356.0 528.5h0M363.0 454.9h0M357.9 459.9h0M362.4 441.3h0M351.2 501.1h0M361.2 492.2h0M362.2 452.8h0M359.2 529.3h0M362.3 442.9h0M353.9 498.5h0M355.8 469.0h0M361.3 492.6h0M356.2 443.9h0M360.4 443.7h0M358.5 518.6h0M359.2 526.2h0M357.4 505.4h0M354.7 485.8h0M361.9 442.8h0M351.2 476.6h0M352.6 507.5h0M352.2 488.9h0M361.0 447.5h0M362.8 482.0h0M350.9 506.4h0M357.0 454.7h0M361.0 526.4h0M352.5 486.5h0M359.6 446.9h0M354.8 510.4h0M357.4 485.3h0M360.0 474.3h0M345.2 490.9h0M350.6 489.6h0M351.1 508.8h0M348.5 519.2h0M347.6 468.6h0M351.3 511.4h0" stroke="#b387e6" stroke-opacity="0.78" stroke-width="3.5" stroke-linecap="round" fill="none"/>
<path d="M358.1 514.3h0M355.7 525.9h0M362.8 522.3h0M362.3 474.3h0M353.0 504.3h0M359.0 499.4h0M361.4 495.1h0M358.7 506.9h0M361.6 463.8h0M353.1 529.3h0M360.6 472.4h0M360.1 468.3h0M356.9 487.2h0M363.3 459.1h0M352.4 478.3h0M350.4 513.5h0M360.0 442.5h0M359.5 474.5h0M363.2 476.8h0M363.2 464.3h0M353.4 453.0h0M354.3 508.3h0M357.2 450.1h0M361.1 453.0h0M358.2 518.6h0M357.7 519.3h0M355.9 496.7h0M362.7 455.8h0M360.2 449.0h0M349.5 488.8h0M352.9 524.3h0M351.9 441.8h0M356.2 529.8h0M361.2 466.3h0M352.4 469.7h0M352.6 481.0h0M361.4 523.0h0M354.6 477.1h0M361.3 490.4h0M356.5 528.8h0M355.9 441.3h0M354.5 477.3h0M360.4 457.4h0M363.2 510.0h0M358.1 508.1h0M354.9 482.5h0M354.0 510.8h0M354.4 517.8h0M358.5 453.7h0M360.0 445.2h0M354.0 441.3h0M360.3 452.0h0M360.8 484.2h0M354.6 449.3h0M363.1 491.1h0M361.9 490.5h0M352.1 504.6h0M361.4 507.3h0M361.4 520.7h0M352.4 503.2h0M356.1 479.0h0M357.2 440.3h0M354.3 518.3h0M352.2 528.3h0M357.9 523.6h0M361.9 473.7h0M363.8 494.1h0M362.2 511.2h0M359.2 502.5h0M359.3 470.2h0M363.8 471.2h0M356.3 438.3h0M358.9 518.4h0M361.3 529.6h0M356.6 509.0h0M359.5 481.4h0M358.5 450.5h0M362.1 470.1h0M352.3 511.9h0M363.5 513.1h0M357.1 463.9h0M358.3 529.7h0M362.0 487.7h0M352.6 482.3h0M351.6 438.1h0M362.7 513.6h0M359.9 516.9h0M356.6 486.7h0M360.8 525.4h0M363.9 452.7h0M360.4 448.0h0M360.3 444.6h0M360.3 525.3h0M351.7 488.3h0M349.9 449.8h0M356.0 469.3h0M359.5 515.6h0M349.5 464.1h0M359.5 495.5h0M350.6 459.7h0M351.9 479.8h0M354.0 462.4h0M352.4 482.3h0M349.9 502.3h0M348.2 484.2h0M348.3 492.0h0M348.9 506.7h0M347.9 461.8h0M346.3 481.6h0M346.8 482.4h0" stroke="#b387e6" stroke-opacity="0.78" stroke-width="3.5" stroke-linecap="round" fill="none"/>
<path d="M355.1 515.5h0M361.2 518.7h0M361.4 458.4h0M355.3 490.8h0M355.9 523.2h0M353.8 475.6h0M356.0 447.3h0M356.2 488.2h0M361.0 468.8h0M359.8 472.8h0M358.2 479.8h0M361.2 488.6h0M356.6 513.7h0M359.6 442.7h0M357.6 455.3h0M363.4 448.2h0M351.6 491.0h0M356.9 460.2h0M357.0 510.7h0M362.5 452.9h0M360.8 478.1h0M351.3 468.3h0M360.9 519.3h0M360.2 500.5h0M358.2 490.7h0M353.7 497.6h0M352.3 471.8h0M363.2 498.1h0M357.4 456.6h0M363.9 492.0h0M363.0 460.2h0M354.8 493.9h0M351.6 446.9h0M363.9 440.1h0M360.1 458.3h0M351.8 464.8h0M356.5 485.4h0M356.0 463.2h0M358.1 522.1h0M358.7 448.4h0M361.6 490.9h0M359.3 448.0h0M360.0 525.0h0M360.2 443.1h0M355.1 519.1h0M357.3 486.4h0M362.1 519.5h0M359.1 523.3h0M363.1 449.0h0M363.8 505.3h0M350.5 443.8h0M352.7 502.2h0M361.8 497.3h0M355.7 453.7h0M358.7 509.1h0M359.0 463.1h0M356.6 505.4h0M351.4 523.3h0M355.2 484.1h0M357.4 445.4h0M361.3 438.8h0M355.9 454.3h0M362.5 481.4h0M359.5 496.7h0M360.4 489.8h0M360.8 528.9h0M357.5 529.0h0M356.9 476.4h0M363.6 465.4h0M350.7 504.1h0M359.8 513.4h0M356.0 464.2h0M361.7 510.1h0M355.6 511.0h0M358.5 512.4h0M359.5 496.4h0M359.5 438.2h0M362.1 529.9h0M359.0 507.9h0M352.1 447.7h0M362.4 453.7h0M355.5 448.9h0M357.5 463.7h0M355.5 471.5h0M361.0 524.4h0M352.0 447.0h0M357.4 527.8h0M362.3 511.1h0M355.6 484.0h0M355.9 523.3h0M359.5 522.2h0M351.7 511.8h0M361.5 501.4h0M355.4 480.8h0M356.1 527.0h0M362.4 463.8h0M356.1 492.0h0M360.9 506.7h0M356.2 492.0h0M362.8 517.4h0M357.9 494.1h0M362.3 449.2h0M354.1 438.5h0M349.0 502.6h0M349.9 502.9h0M349.8 523.8h0M349.9 482.4h0M345.4 495.6h0M351.0 523.6h0M345.7 513.7h0" stroke="#b387e6" stroke-opacity="0.78" stroke-width="3.5" stroke-linecap="round" fill="none"/>
<path d="M354.4 520.6h0M358.0 517.4h0M362.2 490.5h0M354.7 444.8h0M363.9 524.4h0M361.8 439.1h0M357.6 522.9h0M363.2 475.1h0M354.3 443.4h0M363.0 527.6h0M354.3 524.4h0M363.1 467.1h0M359.5 462.5h0M359.2 481.9h0M361.0 443.6h0M353.2 529.7h0M360.9 456.8h0M363.6 485.9h0M356.7 460.5h0M350.5 470.7h0M359.0 461.5h0M362.0 505.7h0M353.1 525.3h0M361.2 444.2h0M360.5 484.9h0M355.3 441.3h0M351.8 467.9h0M352.9 489.9h0M359.2 457.0h0M354.4 495.4h0M360.1 474.0h0M361.9 442.0h0M362.2 452.9h0M359.7 444.7h0M353.2 475.9h0M350.9 485.0h0M353.7 487.4h0M359.6 529.8h0M355.6 505.7h0M358.3 446.1h0M354.7 483.9h0M362.0 487.1h0M357.2 528.5h0M361.5 487.7h0M361.0 483.5h0M362.2 497.4h0M355.6 451.1h0M363.4 499.6h0M357.6 497.8h0M354.2 522.1h0M357.2 488.8h0M354.4 482.4h0M362.2 452.4h0M356.8 442.2h0M361.1 480.2h0M362.6 514.8h0M354.3 503.9h0M362.6 526.2h0M357.3 473.1h0M353.0 482.7h0M362.4 457.4h0M355.6 464.2h0M357.9 512.3h0M362.3 459.0h0M354.5 464.0h0M357.0 526.1h0M352.0 443.8h0M360.7 477.2h0M362.7 493.7h0M352.8 524.2h0M357.4 447.2h0M356.6 458.4h0M351.2 479.9h0M362.7 505.0h0M361.1 454.3h0M358.9 472.9h0M361.7 438.4h0M362.3 448.3h0M356.8 440.8h0M362.1 520.7h0M359.6 451.9h0M363.7 484.4h0M353.8 498.6h0M362.5 496.5h0M353.6 456.0h0M354.9 448.5h0M363.7 472.8h0M351.2 480.0h0M354.9 440.1h0M363.2 502.2h0M360.5 506.3h0M361.4 473.0h0M361.8 474.2h0M362.6 460.7h0M359.8 480.3h0M359.8 514.9h0M353.2 503.9h0M350.2 501.3h0M356.3 456.1h0M357.4 472.2h0M354.0 488.1h0M358.6 470.7h0M351.8 497.1h0M349.4 458.9h0M350.2 477.4h0M349.5 490.6h0M345.8 516.0h0M346.6 481.9h0M348.1 511.3h0M347.1 480.7h0" stroke="#b387e6" stroke-opacity="0.78" stroke-width="3.5" stroke-linecap="round" fill="none"/>
<path d="M357.3 498.6h0M360.5 439.4h0M357.3 497.3h0M351.2 492.7h0M362.9 466.2h0M363.0 473.8h0M360.4 490.8h0M357.5 452.7h0M361.8 507.7h0M355.9 518.9h0M353.4 482.8h0M363.3 456.1h0M356.4 518.1h0M354.3 500.1h0M363.0 519.9h0M352.5 449.5h0M359.9 504.0h0M360.1 480.7h0M360.5 472.3h0M354.9 466.7h0M357.8 513.3h0M354.1 489.8h0M360.4 469.2h0M359.1 472.2h0M354.8 511.5h0M352.5 482.3h0M358.8 504.5h0M363.1 466.8h0M362.4 516.4h0M359.6 527.6h0M354.0 516.2h0M356.7 488.1h0M355.8 497.7h0M359.6 510.9h0M352.5 490.4h0M349.8 457.3h0M356.4 517.1h0M356.2 459.5h0M361.8 457.0h0M356.9 506.5h0M356.2 472.4h0M358.3 456.7h0M360.6 460.0h0M357.5 492.7h0M356.9 439.2h0M359.7 482.5h0M351.5 464.6h0M355.9 525.0h0M360.0 492.2h0M352.5 453.7h0M358.4 508.0h0M355.1 446.5h0M357.1 442.8h0M362.7 494.8h0M353.2 442.6h0M352.6 485.4h0M361.0 518.7h0M359.7 475.5h0M357.0 440.0h0M361.7 484.7h0M359.7 463.8h0M362.6 438.0h0M363.2 466.2h0M360.4 476.6h0M361.8 509.8h0M363.4 438.1h0M354.1 483.3h0M350.8 507.4h0M353.0 456.7h0M358.8 524.3h0M351.8 494.8h0M351.5 438.5h0M359.4 470.3h0M357.0 510.6h0M354.7 525.4h0M362.4 502.6h0M362.7 499.5h0M354.7 451.9h0M363.0 515.0h0M359.3 442.3h0M361.4 444.2h0M358.6 519.7h0M354.7 524.1h0M356.1 453.1h0M363.3 520.9h0M363.5 494.1h0M356.2 509.1h0M354.4 526.5h0M356.3 487.6h0M352.0 491.0h0M361.9 446.5h0M357.7 439.7h0M355.0 456.4h0M361.8 524.9h0M363.5 455.3h0M361.1 474.3h0M357.7 445.1h0M356.1 468.2h0M363.1 477.0h0M358.8 525.0h0M352.7 467.3h0M356.5 480.2h0M351.9 511.3h0M346.0 479.5h0M346.5 509.7h0M348.6 467.9h0M347.1 495.4h0M346.3 522.3h0M347.4 507.9h0M350.3 485.7h0" stroke="#b387e6" stroke-opacity="0.78" stroke-width="3.5" stroke-linecap="round" fill="none"/>
<rect x="48.8" y="429.2" width="329" height="115" fill="none" stroke="#222" stroke-width="1"/>
<line x1="101.4" y1="544.2" x2="101.4" y2="541.2" stroke="#222" stroke-width="0.9"/>
<line x1="101.4" y1="429.2" x2="101.4" y2="432.2" stroke="#222" stroke-width="0.9"/>
<line x1="167.2" y1="544.2" x2="167.2" y2="541.2" stroke="#222" stroke-width="0.9"/>
<line x1="167.2" y1="429.2" x2="167.2" y2="432.2" stroke="#222" stroke-width="0.9"/>
<line x1="233" y1="544.2" x2="233" y2="541.2" stroke="#222" stroke-width="0.9"/>
<line x1="233" y1="429.2" x2="233" y2="432.2" stroke="#222" stroke-width="0.9"/>
<line x1="298.8" y1="544.2" x2="298.8" y2="541.2" stroke="#222" stroke-width="0.9"/>
<line x1="298.8" y1="429.2" x2="298.8" y2="432.2" stroke="#222" stroke-width="0.9"/>
<line x1="364.6" y1="544.2" x2="364.6" y2="541.2" stroke="#222" stroke-width="0.9"/>
<line x1="364.6" y1="429.2" x2="364.6" y2="432.2" stroke="#222" stroke-width="0.9"/>
<line x1="68.5" y1="544.2" x2="68.5" y2="542.6" stroke="#222" stroke-width="0.9"/>
<line x1="68.5" y1="429.2" x2="68.5" y2="430.8" stroke="#222" stroke-width="0.9"/>
<line x1="134.3" y1="544.2" x2="134.3" y2="542.6" stroke="#222" stroke-width="0.9"/>
<line x1="134.3" y1="429.2" x2="134.3" y2="430.8" stroke="#222" stroke-width="0.9"/>
<line x1="200.1" y1="544.2" x2="200.1" y2="542.6" stroke="#222" stroke-width="0.9"/>
<line x1="200.1" y1="429.2" x2="200.1" y2="430.8" stroke="#222" stroke-width="0.9"/>
<line x1="265.9" y1="544.2" x2="265.9" y2="542.6" stroke="#222" stroke-width="0.9"/>
<line x1="265.9" y1="429.2" x2="265.9" y2="430.8" stroke="#222" stroke-width="0.9"/>
<line x1="331.7" y1="544.2" x2="331.7" y2="542.6" stroke="#222" stroke-width="0.9"/>
<line x1="331.7" y1="429.2" x2="331.7" y2="430.8" stroke="#222" stroke-width="0.9"/>
<line x1="48.8" y1="534.9" x2="51.8" y2="534.9" stroke="#222" stroke-width="0.9"/>
<line x1="377.8" y1="534.9" x2="374.8" y2="534.9" stroke="#222" stroke-width="0.9"/>
<text font-size="9" fill="#222" text-anchor="end" transform="translate(45.4,538.2) scale(1,1.0)">1</text>
<line x1="48.8" y1="515.7" x2="51.8" y2="515.7" stroke="#222" stroke-width="0.9"/>
<line x1="377.8" y1="515.7" x2="374.8" y2="515.7" stroke="#222" stroke-width="0.9"/>
<text font-size="9" fill="#222" text-anchor="end" transform="translate(45.4,519) scale(1,1.0)">2</text>
<line x1="48.8" y1="496.5" x2="51.8" y2="496.5" stroke="#222" stroke-width="0.9"/>
<line x1="377.8" y1="496.5" x2="374.8" y2="496.5" stroke="#222" stroke-width="0.9"/>
<text font-size="9" fill="#222" text-anchor="end" transform="translate(45.4,499.8) scale(1,1.0)">3</text>
<line x1="48.8" y1="477.3" x2="51.8" y2="477.3" stroke="#222" stroke-width="0.9"/>
<line x1="377.8" y1="477.3" x2="374.8" y2="477.3" stroke="#222" stroke-width="0.9"/>
<text font-size="9" fill="#222" text-anchor="end" transform="translate(45.4,480.6) scale(1,1.0)">4</text>
<line x1="48.8" y1="458.1" x2="51.8" y2="458.1" stroke="#222" stroke-width="0.9"/>
<line x1="377.8" y1="458.1" x2="374.8" y2="458.1" stroke="#222" stroke-width="0.9"/>
<text font-size="9" fill="#222" text-anchor="end" transform="translate(45.4,461.4) scale(1,1.0)">5</text>
<line x1="48.8" y1="438.9" x2="51.8" y2="438.9" stroke="#222" stroke-width="0.9"/>
<line x1="377.8" y1="438.9" x2="374.8" y2="438.9" stroke="#222" stroke-width="0.9"/>
<text font-size="9" fill="#222" text-anchor="end" transform="translate(45.4,442.2) scale(1,1.0)">6</text>
<text font-size="11" fill="#222" text-anchor="middle" transform="translate(105.2,555.1) scale(0.83,1)">80%</text>
<text font-size="11" fill="#222" text-anchor="middle" transform="translate(171,555.1) scale(0.83,1)">85%</text>
<text font-size="11" fill="#222" text-anchor="middle" transform="translate(236.8,555.1) scale(0.83,1)">90%</text>
<text font-size="11" fill="#222" text-anchor="middle" transform="translate(302.6,555.1) scale(0.83,1)">95%</text>
<text font-size="11" fill="#222" text-anchor="middle" transform="translate(368.4,555.1) scale(0.83,1)">100%</text>
<text font-size="9.2" fill="#111" text-anchor="middle" transform="translate(32.3,487.5) rotate(-90)">Molecule of RIP3 (n)</text>
<rect x="50.2" y="430" width="76.2" height="56.4" fill="#fff" stroke="#777" stroke-width="0.8"/>
<circle cx="61.3" cy="437" r="1.6" fill="#5a5a5a" opacity="0.85"/>
<text x="73.6" y="440" font-size="7.6" fill="#333" xml:space="preserve">40  nM RIP3</text>
<circle cx="61.3" cy="447.7" r="1.6" fill="#ee4a4a" opacity="0.85"/>
<text x="73.6" y="450.7" font-size="7.6" fill="#333" xml:space="preserve">60  nM RIP3</text>
<circle cx="61.3" cy="458.5" r="1.6" fill="#3a74de" opacity="0.85"/>
<text x="73.6" y="461.5" font-size="7.6" fill="#333" xml:space="preserve">80  nM RIP3</text>
<circle cx="61.3" cy="469.3" r="1.6" fill="#3fa86a" opacity="0.85"/>
<text x="73.6" y="472.3" font-size="7.6" fill="#333" xml:space="preserve">100  nM RIP3</text>
<circle cx="61.3" cy="480.1" r="1.6" fill="#b387e6" opacity="0.85"/>
<text x="73.6" y="483.1" font-size="7.6" fill="#333" xml:space="preserve">120  nM RIP3</text>
<path d="M143.0 651.8h0M120.4 645.9h0M145.7 645.5h0M186.7 647.9h0M180.9 646.6h0M67.7 642.9h0M308.1 653.9h0M185.3 646.0h0M206.6 649.6h0M317.5 649.6h0M125.2 640.5h0M216.4 653.3h0M152.4 648.5h0M212.7 649.4h0M210.4 652.5h0M243.3 652.9h0M122.6 644.6h0M281.2 651.3h0M115.6 640.7h0M191.1 648.6h0M96.1 642.9h0M120.1 640.1h0M72.6 637.2h0M107.9 638.8h0M121.6 642.9h0M134.9 645.0h0M101.3 641.1h0M315.6 651.5h0M159.0 644.3h0M108.1 638.8h0M215.1 649.7h0M159.7 644.8h0M204.0 652.6h0M149.4 646.7h0M169.1 646.3h0M89.9 638.2h0M144.4 642.5h0M265.0 649.1h0M86.5 637.1h0M158.6 655.4h0M91.3 640.3h0M359.7 652.0h0M291.2 649.4h0M222.5 648.0h0M96.2 642.3h0M295.6 649.7h0M150.8 647.7h0M102.2 640.3h0M329.6 653.6h0M286.0 650.6h0M138.2 646.4h0M95.4 647.3h0M322.4 651.1h0M357.2 657.4h0M72.1 639.2h0M230.4 678.1h0M240.8 657.7h0M357.4 659.2h0M211.6 664.7h0M315.8 655.6h0M94.1 650.0h0M109.1 652.4h0M81.0 676.0h0M313.6 663.8h0M167.7 665.1h0M301.6 655.8h0M124.3 650.4h0M312.9 656.8h0M65.9 658.2h0M60.1 652.0h0M90.7 654.3h0M150.3 660.0h0M177.7 675.2h0M161.7 655.2h0M85.7 655.0h0M99.9 663.8h0M149.6 676.3h0M307.1 658.9h0M305.5 675.7h0M88.2 680.0h0M281.2 657.4h0M120.3 659.8h0M110.0 657.7h0M318.4 658.8h0M361.0 664.1h0M187.5 660.4h0M60.7 648.0h0M170.8 663.5h0M82.5 652.4h0M103.9 649.6h0M330.1 663.4h0M277.5 652.1h0M172.1 667.8h0M252.2 679.1h0M68.3 643.1h0M350.6 654.4h0M314.8 666.4h0" stroke="#b387e6" stroke-opacity="0.75" stroke-width="3.6" stroke-linecap="round" fill="none"/>
<path d="M168.3 648.2h0M64.6 637.3h0M203.5 651.7h0M206.0 649.6h0M166.3 645.8h0M76.3 642.3h0M62.6 637.4h0M257.3 658.8h0M82.7 638.1h0M299.5 649.8h0M272.3 649.0h0M305.8 650.2h0M307.2 658.6h0M131.6 642.0h0M211.5 650.7h0M152.8 642.7h0M96.4 640.4h0M240.5 656.8h0M62.9 637.3h0M196.4 649.5h0M61.7 638.6h0M286.3 649.0h0M76.4 638.3h0M312.1 650.0h0M63.0 638.2h0M205.1 655.3h0M213.5 651.2h0M168.0 644.7h0M142.5 645.1h0M134.8 642.9h0M196.2 647.5h0M77.6 640.1h0M266.6 654.1h0M310.5 653.9h0M295.0 656.4h0M263.2 653.1h0M71.3 636.2h0M141.4 647.2h0M169.7 646.7h0M79.4 642.9h0M149.9 643.0h0M66.5 642.6h0M86.2 637.5h0M172.6 650.8h0M163.6 643.6h0M209.2 650.3h0M223.5 648.2h0M77.0 637.8h0M58.5 636.7h0M221.6 650.6h0M151.6 649.9h0M135.0 645.3h0M251.7 654.5h0M238.0 648.8h0M358.1 656.0h0M183.2 659.4h0M140.6 651.2h0M324.8 661.4h0M197.4 655.2h0M135.4 650.5h0M305.0 672.2h0M135.3 663.7h0M115.9 645.2h0M226.7 662.5h0M132.0 650.4h0M334.8 666.1h0M262.2 663.7h0M89.1 676.3h0M343.3 674.9h0M169.9 650.8h0M353.5 668.9h0M238.7 675.3h0M73.6 643.1h0M267.3 662.2h0M161.3 658.4h0M228.8 659.2h0M175.4 663.9h0M240.5 665.0h0M159.4 677.4h0M332.8 662.4h0M76.7 639.1h0M183.6 679.4h0M347.9 677.2h0M297.4 671.9h0M212.2 673.6h0M117.0 674.3h0M151.2 664.8h0M357.0 673.4h0M148.8 653.5h0M350.4 675.1h0M237.9 673.8h0M204.3 679.7h0M347.6 660.5h0M146.3 659.9h0M354.8 662.1h0M73.5 644.6h0M241.0 678.6h0" stroke="#b387e6" stroke-opacity="0.75" stroke-width="3.6" stroke-linecap="round" fill="none"/>
<path d="M89.9 641.2h0M215.0 649.1h0M240.0 649.8h0M296.8 651.6h0M163.8 644.5h0M154.3 645.8h0M241.4 656.9h0M100.3 642.5h0M188.9 651.9h0M216.8 651.6h0M117.9 647.2h0M97.0 640.5h0M238.0 649.9h0M175.9 653.7h0M77.7 637.6h0M322.9 657.3h0M314.7 654.9h0M280.3 654.8h0M226.0 653.5h0M133.2 641.0h0M122.6 640.6h0M338.6 658.7h0M74.4 636.2h0M192.5 650.1h0M156.5 646.0h0M273.6 650.7h0M139.6 644.6h0M62.0 640.4h0M172.7 647.0h0M260.6 648.5h0M209.0 647.8h0M61.5 635.1h0M78.4 642.9h0M240.3 652.4h0M266.7 650.5h0M264.0 648.7h0M86.6 637.1h0M186.6 645.6h0M158.0 645.5h0M264.3 650.6h0M328.6 653.1h0M198.5 648.5h0M200.7 656.4h0M115.5 645.3h0M121.5 640.9h0M281.9 649.5h0M99.1 638.1h0M193.5 649.6h0M250.8 651.1h0M261.2 648.8h0M334.7 649.4h0M340.4 651.3h0M94.1 638.3h0M358.1 652.9h0M173.1 652.1h0M217.5 653.6h0M248.1 660.2h0M219.4 664.2h0M241.6 658.9h0M98.7 656.4h0M206.8 676.8h0M159.1 665.6h0M284.2 654.4h0M238.6 679.3h0M216.9 674.8h0M237.2 669.5h0M354.4 679.0h0M108.4 643.6h0M63.7 661.9h0M335.6 665.2h0M177.7 667.6h0M221.4 653.5h0M80.3 657.6h0M271.4 654.9h0M189.1 653.4h0M271.6 666.8h0M65.0 656.6h0M123.2 650.3h0M164.7 654.0h0M334.8 664.9h0M56.5 646.1h0M184.7 649.9h0M228.7 672.7h0M320.7 667.5h0M353.0 655.2h0M66.9 677.1h0M333.6 666.5h0M179.6 657.2h0M173.2 654.4h0M200.6 680.1h0M288.0 667.8h0M211.6 669.8h0M95.4 641.1h0M350.2 677.6h0M96.4 674.9h0M346.4 659.8h0M166.1 678.1h0" stroke="#b387e6" stroke-opacity="0.75" stroke-width="3.6" stroke-linecap="round" fill="none"/>
<path d="M346.4 650.3h0M297.4 654.0h0M285.1 649.2h0M85.5 639.6h0M359.8 650.5h0M281.3 649.2h0M357.9 650.7h0M330.4 650.6h0M177.0 645.9h0M67.7 636.8h0M87.2 643.4h0M103.6 641.8h0M284.9 649.6h0M113.2 641.4h0M78.4 636.7h0M165.9 645.7h0M138.1 642.9h0M142.1 643.6h0M349.9 652.3h0M152.0 645.5h0M127.0 640.7h0M319.0 652.9h0M96.9 638.9h0M316.8 651.2h0M91.9 638.3h0M333.2 651.0h0M60.1 635.6h0M199.5 650.4h0M331.2 655.1h0M222.6 652.2h0M349.4 652.4h0M147.2 642.1h0M87.1 641.7h0M172.6 648.1h0M176.0 648.7h0M245.4 656.3h0M149.7 644.0h0M361.4 651.1h0M172.1 650.5h0M93.2 641.7h0M256.5 651.3h0M77.5 638.7h0M162.9 649.2h0M309.7 651.8h0M206.4 657.8h0M92.3 645.6h0M223.2 651.9h0M61.9 640.4h0M245.6 652.1h0M311.9 649.3h0M351.1 653.5h0M326.8 650.1h0M107.2 641.6h0M200.7 647.9h0M271.5 649.1h0M179.4 658.2h0M95.0 673.1h0M221.1 671.0h0M169.5 677.9h0M291.0 675.4h0M89.2 652.0h0M156.1 670.7h0M211.7 663.4h0M127.5 665.4h0M352.6 663.9h0M284.9 657.7h0M349.8 679.7h0M164.5 658.4h0M114.7 648.2h0M357.6 653.7h0M199.6 675.5h0M347.8 657.5h0M106.6 647.9h0M123.6 663.4h0M73.9 641.9h0M118.7 675.0h0M322.8 677.7h0M357.8 676.6h0M328.2 674.5h0M241.4 677.5h0M344.9 664.0h0M73.3 668.4h0M149.1 661.3h0M148.7 658.7h0M325.6 678.4h0M96.8 658.1h0M319.8 663.6h0M279.8 669.8h0M202.0 658.3h0M68.9 640.0h0M158.3 651.8h0M241.6 667.5h0M88.6 649.3h0M298.4 659.8h0M108.6 674.3h0M128.9 657.0h0M219.7 653.2h0" stroke="#b387e6" stroke-opacity="0.75" stroke-width="3.6" stroke-linecap="round" fill="none"/>
<path d="M343.9 650.2h0M290.1 653.4h0M254.1 651.9h0M350.2 653.6h0M314.0 653.1h0M301.2 653.2h0M307.5 650.0h0M153.7 647.4h0M158.1 651.2h0M175.4 645.5h0M78.3 643.0h0M88.4 643.8h0M167.9 645.2h0M114.7 641.9h0M318.6 657.0h0M131.7 644.6h0M333.5 649.8h0M171.2 644.9h0M238.4 652.6h0M191.5 653.1h0M161.0 644.6h0M149.8 642.7h0M312.2 650.4h0M331.9 650.6h0M357.6 653.9h0M336.7 649.9h0M219.3 651.9h0M256.0 651.7h0M243.8 650.6h0M252.0 649.9h0M277.0 651.8h0M178.9 648.4h0M306.7 655.2h0M345.5 650.8h0M303.2 650.4h0M164.7 645.7h0M87.8 639.7h0M134.4 646.3h0M331.3 651.5h0M361.4 653.4h0M259.1 654.6h0M321.7 653.7h0M97.5 637.8h0M273.1 658.1h0M184.4 645.8h0M126.5 642.1h0M326.6 650.9h0M123.6 640.8h0M345.6 651.9h0M258.1 652.2h0M251.5 648.8h0M273.3 649.6h0M195.7 654.0h0M104.9 641.1h0M67.7 638.8h0M109.4 674.0h0M95.0 679.3h0M290.6 662.5h0M143.7 656.6h0M115.8 669.2h0M262.2 655.2h0M324.5 669.4h0M71.0 657.4h0M59.3 676.6h0M130.1 655.4h0M164.1 665.1h0M326.9 674.4h0M148.0 651.8h0M320.9 677.8h0M198.7 652.9h0M83.0 662.9h0M302.8 655.0h0M194.5 673.3h0M56.8 675.8h0M98.7 648.6h0M229.9 655.2h0M196.3 679.7h0M181.5 674.4h0M122.7 662.6h0M61.9 638.0h0M136.5 650.8h0M217.0 668.3h0M119.9 665.2h0M275.7 659.9h0M168.9 659.1h0M136.6 646.4h0M312.7 658.7h0M353.1 678.0h0M216.7 679.7h0M109.9 672.6h0M182.9 678.9h0M255.7 665.6h0M204.6 651.0h0M331.2 652.7h0M171.1 656.0h0M63.4 663.2h0" stroke="#b387e6" stroke-opacity="0.75" stroke-width="3.6" stroke-linecap="round" fill="none"/>
<path d="M170.9 646.8h0M59.4 641.1h0M238.3 650.1h0M105.8 638.5h0M280.4 648.8h0M156.4 643.0h0M236.6 651.7h0M240.6 651.7h0M119.4 641.8h0M257.2 651.0h0M229.2 649.4h0M305.1 657.5h0M265.3 650.4h0M56.7 634.7h0M280.0 653.9h0M204.3 651.7h0M74.8 647.6h0M143.5 643.0h0M350.5 656.1h0M55.4 634.8h0M269.5 648.6h0M110.8 639.0h0M320.9 649.7h0M269.0 652.9h0M166.2 646.0h0M277.8 649.5h0M198.1 650.7h0M338.1 656.9h0M79.5 641.2h0M166.6 647.6h0M107.6 641.8h0M143.7 642.1h0M340.9 653.0h0M335.3 650.1h0M293.0 652.5h0M65.8 636.6h0M170.4 648.4h0M72.4 635.6h0M187.7 653.3h0M200.8 654.5h0M241.4 650.2h0M308.8 650.2h0M284.4 650.6h0M56.8 636.7h0M300.6 655.0h0M95.5 639.2h0M157.5 643.0h0M212.6 649.6h0M81.5 637.5h0M256.9 652.5h0M176.2 644.7h0M243.5 650.0h0M66.2 636.7h0M192.2 652.6h0M359.1 649.4h0M231.1 672.0h0M155.8 669.0h0M268.2 676.6h0M257.0 668.8h0M112.9 659.4h0M192.4 662.4h0M311.2 665.1h0M90.1 668.2h0M72.3 656.4h0M91.3 675.1h0M248.6 672.2h0M71.2 671.8h0M195.3 675.4h0M360.9 652.9h0M353.4 677.3h0M335.0 653.0h0M87.3 666.7h0M297.7 663.2h0M313.2 664.3h0M182.9 653.0h0M208.0 652.0h0M355.1 655.5h0M269.4 662.3h0M103.5 671.3h0M151.0 664.2h0M190.2 656.6h0M349.1 660.6h0M295.7 667.7h0M353.9 671.9h0M86.9 667.1h0M76.3 643.7h0M172.3 654.9h0M77.6 675.8h0M71.4 642.8h0M305.7 661.5h0M359.8 676.8h0M183.1 678.6h0M332.4 668.1h0M90.5 662.0h0M307.1 658.5h0M183.2 675.2h0" stroke="#b387e6" stroke-opacity="0.75" stroke-width="3.6" stroke-linecap="round" fill="none"/>
<path d="M194.9 636.4h0M277.0 646.1h0M258.5 643.8h0M239.4 638.7h0M166.4 637.0h0M334.9 644.4h0M233.1 637.7h0M318.6 643.0h0M273.0 640.9h0M340.7 647.8h0M356.8 644.1h0M241.6 638.3h0M360.6 648.8h0M327.1 648.3h0M237.7 638.6h0M342.0 644.1h0M336.1 644.7h0M159.9 634.1h0M234.8 638.2h0M270.7 641.2h0M166.7 634.9h0M188.0 635.8h0M327.2 642.1h0M332.2 643.6h0M303.1 642.7h0M249.8 639.0h0M217.1 643.0h0M329.8 642.1h0M338.8 642.5h0M177.4 639.1h0M317.5 648.7h0M202.1 638.5h0M353.2 660.1h0M263.8 657.4h0M218.9 664.1h0M356.1 675.0h0M303.7 656.4h0M330.4 652.8h0M238.8 660.8h0M311.7 642.2h0M208.6 653.6h0M166.7 653.6h0M208.0 652.2h0M282.4 662.4h0M348.7 668.6h0M240.4 670.1h0M341.3 649.6h0M244.5 656.2h0M225.8 662.3h0M358.9 656.5h0M234.7 664.7h0M213.7 648.1h0M167.4 653.2h0M251.1 660.0h0M210.2 642.5h0M187.4 663.4h0M196.0 655.7h0M320.4 671.6h0M222.6 655.0h0M229.7 674.4h0M323.8 645.7h0M216.8 672.4h0M167.5 657.9h0M252.2 674.7h0" stroke="#3fa86a" stroke-opacity="0.72" stroke-width="3.6" stroke-linecap="round" fill="none"/>
<path d="M164.2 644.8h0M218.7 639.4h0M320.7 643.6h0M315.4 646.2h0M281.1 641.8h0M320.1 641.9h0M333.1 651.6h0M320.1 646.9h0M258.9 643.7h0M255.6 641.5h0M347.3 645.1h0M291.4 645.5h0M304.1 647.4h0M287.6 644.2h0M238.6 639.4h0M344.0 644.3h0M163.0 637.2h0M255.1 640.1h0M192.3 638.8h0M324.8 641.8h0M183.6 636.1h0M217.8 639.8h0M185.3 638.0h0M298.0 644.4h0M266.3 644.6h0M165.2 638.7h0M321.9 642.2h0M311.4 644.6h0M338.0 643.9h0M257.8 645.0h0M339.2 645.0h0M257.9 641.7h0M312.5 641.9h0M344.6 678.1h0M336.6 642.9h0M340.6 677.2h0M177.3 653.2h0M175.0 645.2h0M345.2 642.7h0M264.7 643.0h0M198.6 668.8h0M206.8 666.5h0M310.8 643.6h0M348.3 675.0h0M333.3 659.3h0M354.3 649.8h0M208.8 639.6h0M231.0 661.1h0M359.8 659.6h0M331.2 661.7h0M322.7 646.5h0M180.8 679.8h0M246.4 678.0h0M275.3 672.1h0M278.0 661.6h0M353.2 669.2h0M334.1 668.0h0M180.7 675.7h0M203.9 671.6h0M167.7 649.8h0M269.7 659.6h0M243.1 651.3h0M303.4 652.2h0M272.8 669.5h0" stroke="#3fa86a" stroke-opacity="0.72" stroke-width="3.6" stroke-linecap="round" fill="none"/>
<path d="M188.9 636.4h0M358.3 643.8h0M281.6 643.2h0M312.2 641.3h0M250.9 639.8h0M258.4 644.4h0M335.8 642.5h0M163.4 635.9h0M332.3 643.0h0M187.6 635.5h0M256.2 646.1h0M327.5 644.5h0M199.9 636.1h0M275.9 643.8h0M256.2 639.5h0M278.7 640.4h0M342.4 643.3h0M255.7 640.1h0M315.3 641.7h0M277.8 646.3h0M241.5 640.3h0M205.1 637.5h0M274.0 640.0h0M164.1 635.4h0M282.3 642.6h0M236.0 639.2h0M315.4 642.1h0M322.2 641.9h0M162.2 637.9h0M276.3 649.8h0M233.8 641.1h0M235.9 639.9h0M224.2 671.4h0M280.3 677.8h0M200.4 636.9h0M344.7 675.5h0M296.8 664.3h0M315.4 670.4h0M322.4 657.4h0M165.3 644.1h0M256.6 664.3h0M349.5 658.9h0M298.7 647.3h0M265.5 648.8h0M294.6 640.6h0M350.9 667.9h0M257.5 659.7h0M343.4 664.0h0M231.0 640.1h0M207.0 642.3h0M291.8 653.2h0M327.3 667.0h0M273.9 661.8h0M316.3 654.8h0M178.6 659.7h0M350.6 665.7h0M241.7 677.8h0M256.5 670.7h0M286.9 670.5h0M272.8 651.5h0M314.1 650.0h0M228.1 675.5h0M344.4 647.0h0" stroke="#3fa86a" stroke-opacity="0.72" stroke-width="3.6" stroke-linecap="round" fill="none"/>
<path d="M190.2 641.8h0M248.5 641.0h0M222.3 638.0h0M233.5 642.3h0M166.1 635.0h0M174.8 639.6h0M279.2 640.6h0M224.1 643.4h0M282.0 641.7h0M263.1 639.2h0M357.7 644.6h0M173.2 635.6h0M301.4 646.7h0M264.9 639.8h0M203.9 637.6h0M171.9 636.5h0M282.0 639.9h0M329.2 646.8h0M317.6 644.7h0M184.1 637.3h0M280.4 641.3h0M232.8 641.7h0M239.3 642.7h0M191.3 638.7h0M351.4 644.8h0M226.1 640.3h0M336.1 643.8h0M264.4 641.0h0M170.3 636.8h0M288.5 642.7h0M275.7 642.3h0M190.7 638.1h0M284.9 678.7h0M219.7 651.6h0M196.8 658.8h0M214.3 636.9h0M165.1 653.6h0M188.9 650.3h0M201.4 671.3h0M180.6 640.5h0M247.1 647.2h0M172.7 660.7h0M217.2 671.8h0M195.2 678.0h0M326.8 674.7h0M188.4 670.7h0M206.5 667.5h0M184.8 657.7h0M188.0 646.4h0M258.3 666.7h0M352.4 663.2h0M188.0 677.8h0M247.4 666.1h0M203.2 677.3h0M184.0 677.9h0M316.8 645.9h0M316.8 643.3h0M203.6 652.2h0M242.2 638.6h0M292.7 670.0h0M292.9 662.0h0M187.8 674.1h0M246.2 644.8h0" stroke="#3fa86a" stroke-opacity="0.72" stroke-width="3.6" stroke-linecap="round" fill="none"/>
<path d="M237.4 641.3h0M330.8 649.1h0M253.6 640.0h0M354.5 644.0h0M283.6 640.7h0M229.5 638.9h0M356.5 646.7h0M167.2 637.9h0M190.3 639.3h0M320.7 649.7h0M165.5 635.0h0M244.0 638.0h0M217.5 641.9h0M169.9 641.1h0M235.7 641.6h0M186.0 639.3h0M342.9 647.2h0M163.8 636.1h0M235.5 639.7h0M212.7 637.0h0M258.0 644.9h0M287.2 641.2h0M281.2 647.2h0M311.7 643.7h0M218.6 642.8h0M210.3 636.3h0M273.5 640.0h0M171.5 635.0h0M317.2 641.6h0M334.2 643.5h0M195.1 637.1h0M239.3 641.3h0M239.7 674.8h0M357.6 654.8h0M207.6 641.3h0M178.3 635.0h0M305.3 647.6h0M244.9 658.6h0M161.2 643.7h0M235.4 680.1h0M187.9 642.5h0M279.4 656.4h0M315.9 657.4h0M180.9 647.3h0M259.8 666.0h0M219.1 638.2h0M347.4 648.6h0M268.4 659.6h0M272.1 665.3h0M237.1 665.9h0M356.5 672.7h0M264.5 664.5h0M164.6 674.2h0M192.4 669.1h0M332.9 651.1h0M174.3 641.1h0M279.3 660.7h0M248.1 680.0h0M231.0 649.2h0M232.1 667.1h0M335.7 675.5h0M296.9 670.9h0M291.4 672.1h0" stroke="#3fa86a" stroke-opacity="0.72" stroke-width="3.6" stroke-linecap="round" fill="none"/>
<path d="M242.4 640.4h0M321.0 643.7h0M353.1 644.3h0M186.2 636.2h0M228.7 641.3h0M168.3 636.7h0M234.3 638.3h0M163.4 640.4h0M243.8 641.3h0M160.4 635.9h0M275.0 640.6h0M216.8 637.5h0M294.7 640.6h0M264.1 641.3h0M329.8 643.8h0M263.8 639.6h0M274.9 641.2h0M265.8 640.5h0M183.5 637.9h0M237.8 643.2h0M196.7 635.8h0M199.5 638.6h0M210.0 637.6h0M198.5 638.1h0M178.3 638.5h0M313.3 642.1h0M238.0 641.0h0M243.6 641.0h0M343.4 645.6h0M214.1 637.7h0M359.7 644.0h0M222.0 648.0h0M193.4 659.8h0M359.1 645.7h0M296.2 645.9h0M231.6 655.8h0M231.5 671.1h0M229.8 639.1h0M251.5 651.4h0M358.3 652.6h0M238.5 658.2h0M273.8 673.5h0M309.6 647.8h0M273.8 641.3h0M204.1 648.9h0M241.9 642.3h0M212.8 645.1h0M211.5 653.1h0M238.2 672.6h0M305.3 642.5h0M268.0 652.1h0M203.8 676.4h0M343.5 660.0h0M266.9 649.5h0M291.8 657.2h0M313.3 676.1h0M279.1 662.2h0M351.0 669.6h0M237.4 651.1h0M220.6 655.5h0M324.4 662.5h0M289.1 673.9h0M193.1 674.9h0" stroke="#3fa86a" stroke-opacity="0.72" stroke-width="3.6" stroke-linecap="round" fill="none"/>
<path d="M308.5 632.1h0M352.2 635.0h0M336.4 635.7h0M288.7 627.8h0M346.9 633.4h0M292.9 629.0h0M305.6 629.3h0M317.5 630.2h0M333.1 634.8h0M359.3 638.5h0M319.9 631.2h0M361.6 636.3h0M333.8 632.0h0M320.4 631.4h0M301.6 629.2h0M348.0 637.0h0M350.7 633.7h0M333.4 633.6h0M351.5 633.4h0M327.2 634.6h0M303.5 633.6h0M343.4 638.0h0M326.4 658.4h0M330.4 638.6h0M330.2 633.0h0M355.0 636.6h0M332.5 637.3h0M298.0 666.6h0M316.2 661.0h0M329.8 640.3h0M349.8 669.7h0M322.6 658.0h0M307.1 667.0h0M349.1 639.5h0M291.7 660.8h0M307.4 655.7h0M361.5 646.7h0M287.6 668.6h0M297.3 653.4h0M356.9 656.3h0M297.6 659.3h0M349.6 663.2h0M335.6 643.0h0M310.5 663.6h0M339.9 664.5h0M354.9 639.5h0M357.2 647.3h0M357.8 646.4h0M350.5 648.9h0M356.0 645.3h0M357.0 635.2h0M354.5 643.0h0M357.0 637.6h0M357.3 643.2h0M355.0 643.6h0M360.8 645.1h0M361.3 644.2h0M350.6 636.5h0M354.2 637.7h0" stroke="#3a74de" stroke-opacity="0.72" stroke-width="3.6" stroke-linecap="round" fill="none"/>
<path d="M356.1 635.6h0M286.8 629.9h0M325.4 633.1h0M328.9 631.7h0M351.6 633.8h0M292.2 629.7h0M289.0 630.9h0M323.3 632.6h0M304.2 632.1h0M334.6 635.0h0M326.1 634.0h0M357.7 636.9h0M332.1 637.3h0M285.4 627.6h0M349.0 638.2h0M338.1 633.5h0M359.7 636.5h0M331.8 636.4h0M308.4 631.7h0M350.0 636.2h0M326.1 632.9h0M336.3 636.3h0M338.0 636.0h0M353.1 634.2h0M307.7 634.1h0M319.5 670.0h0M345.0 660.5h0M330.2 658.4h0M337.8 639.1h0M345.1 647.0h0M341.2 658.2h0M332.3 668.1h0M293.8 650.0h0M350.8 667.4h0M326.9 645.0h0M318.6 657.6h0M305.0 661.4h0M357.4 648.9h0M316.8 648.3h0M330.2 640.0h0M301.0 663.8h0M346.5 663.3h0M343.0 651.5h0M318.5 637.1h0M361.9 646.3h0M358.7 645.0h0M359.4 645.3h0M360.1 645.8h0M359.0 640.3h0M351.4 637.0h0M352.0 644.2h0M356.1 641.8h0M354.1 637.6h0M359.3 636.6h0M356.2 641.5h0M358.1 638.0h0M351.8 635.8h0M355.7 643.6h0M357.8 647.2h0" stroke="#3a74de" stroke-opacity="0.72" stroke-width="3.6" stroke-linecap="round" fill="none"/>
<path d="M303.8 629.0h0M331.0 633.5h0M320.9 631.7h0M295.4 632.2h0M323.1 636.2h0M287.1 627.4h0M354.4 635.5h0M285.5 635.3h0M310.6 631.9h0M358.1 634.4h0M287.1 628.1h0M352.0 633.4h0M347.3 637.1h0M319.7 631.6h0M331.1 635.4h0M305.0 635.2h0M330.6 635.9h0M322.9 634.5h0M287.2 628.5h0M350.7 633.7h0M356.6 633.9h0M303.4 632.6h0M338.8 668.2h0M349.1 653.4h0M292.6 637.6h0M303.8 632.8h0M352.5 645.3h0M297.3 629.5h0M326.6 657.0h0M339.5 650.9h0M288.7 652.3h0M360.7 668.6h0M326.6 649.9h0M315.2 644.3h0M344.3 652.6h0M295.5 661.8h0M314.7 634.5h0M308.5 642.3h0M336.7 662.7h0M334.3 642.7h0M306.5 669.4h0M320.9 669.3h0M338.0 650.0h0M322.8 634.9h0M328.6 657.3h0M352.0 635.0h0M358.6 634.4h0M355.5 634.7h0M356.1 646.2h0M353.0 649.3h0M354.4 641.2h0M356.3 644.8h0M360.5 643.0h0M361.5 636.1h0M351.1 638.7h0M350.9 647.5h0M350.3 638.6h0M354.5 647.0h0" stroke="#3a74de" stroke-opacity="0.72" stroke-width="3.6" stroke-linecap="round" fill="none"/>
<path d="M356.9 639.0h0M295.0 629.0h0M348.2 634.3h0M351.3 636.2h0M358.5 635.2h0M338.8 636.0h0M290.7 632.0h0M296.9 629.9h0M355.2 638.6h0M318.0 631.3h0M356.8 634.0h0M290.4 630.3h0M307.9 631.7h0M299.9 629.5h0M299.1 629.6h0M298.8 628.6h0M299.7 629.6h0M294.9 633.5h0M302.6 633.4h0M300.1 630.0h0M352.4 636.8h0M286.7 628.7h0M309.6 668.7h0M343.4 651.8h0M289.3 640.0h0M325.2 654.3h0M293.0 662.8h0M346.4 655.3h0M293.9 660.7h0M331.3 643.1h0M291.6 634.4h0M291.2 669.8h0M360.4 641.0h0M296.9 663.6h0M326.2 659.6h0M333.7 653.6h0M315.7 643.1h0M289.8 643.2h0M289.0 663.7h0M355.2 667.2h0M349.3 661.8h0M313.7 661.2h0M354.2 664.9h0M292.6 639.0h0M300.5 657.2h0M350.1 643.5h0M351.0 637.1h0M354.8 645.8h0M358.7 635.6h0M352.5 645.2h0M357.2 648.7h0M356.6 638.0h0M350.7 645.2h0M357.3 640.1h0M355.0 639.6h0M361.1 636.6h0M353.9 636.6h0M360.5 634.7h0" stroke="#3a74de" stroke-opacity="0.72" stroke-width="3.6" stroke-linecap="round" fill="none"/>
<path d="M350.3 633.9h0M306.6 634.0h0M321.1 632.0h0M342.9 637.9h0M319.6 634.7h0M329.9 633.9h0M330.6 631.9h0M324.1 632.1h0M354.8 634.2h0M285.4 630.1h0M353.0 642.8h0M351.3 637.7h0M286.8 627.9h0M309.1 630.9h0M352.2 637.0h0M336.3 632.2h0M328.2 634.0h0M295.3 631.0h0M315.8 635.1h0M356.4 636.9h0M312.7 634.6h0M312.6 666.0h0M298.8 642.7h0M354.8 670.2h0M315.7 648.2h0M324.5 638.4h0M336.5 640.7h0M356.8 645.1h0M353.4 645.7h0M296.4 636.6h0M315.5 665.8h0M349.6 668.7h0M322.0 665.1h0M351.3 659.9h0M297.7 658.8h0M309.3 642.7h0M312.4 644.5h0M348.5 668.9h0M357.0 661.9h0M335.3 660.2h0M355.3 642.2h0M344.4 639.7h0M292.5 661.4h0M284.5 647.0h0M315.8 638.0h0M361.0 641.5h0M350.6 647.4h0M353.5 645.9h0M362.0 645.5h0M351.3 640.2h0M358.6 647.7h0M355.8 637.5h0M357.8 635.8h0M354.5 638.9h0M358.9 648.2h0M361.2 639.9h0M360.1 647.5h0M360.2 647.7h0" stroke="#3a74de" stroke-opacity="0.72" stroke-width="3.6" stroke-linecap="round" fill="none"/>
<path d="M358.6 634.3h0M357.7 638.4h0M299.4 635.3h0M333.9 635.8h0M313.0 630.3h0M284.3 632.7h0M291.4 628.5h0M293.4 628.5h0M359.8 635.7h0M293.0 632.7h0M300.3 631.3h0M312.7 630.5h0M299.8 631.9h0M354.8 633.9h0M318.9 632.5h0M356.3 636.0h0M306.8 629.8h0M305.8 636.9h0M334.1 637.2h0M335.8 639.6h0M304.9 631.5h0M293.8 630.0h0M313.3 662.4h0M293.2 662.8h0M336.1 652.3h0M353.3 657.8h0M335.4 643.6h0M357.6 640.7h0M296.9 629.7h0M321.2 639.9h0M329.5 633.5h0M284.8 659.8h0M339.9 634.2h0M357.1 647.4h0M289.0 632.6h0M360.9 637.8h0M325.1 632.0h0M302.7 648.8h0M341.1 640.5h0M353.9 658.0h0M353.2 665.4h0M297.3 666.7h0M326.7 633.2h0M346.8 661.7h0M309.7 669.9h0M358.4 641.3h0M357.5 636.9h0M360.7 644.7h0M358.4 643.6h0M353.1 643.2h0M361.2 642.3h0M359.3 643.1h0M358.0 638.8h0M358.3 634.4h0M361.3 635.7h0M355.7 640.2h0M355.3 640.8h0M360.2 647.8h0" stroke="#3a74de" stroke-opacity="0.72" stroke-width="3.6" stroke-linecap="round" fill="none"/>
<path d="M351.2 660.6h0M354.1 665.3h0M359.5 675.3h0M358.5 669.7h0M351.0 660.0h0M359.8 651.6h0M353.1 659.2h0M354.3 664.3h0M360.7 656.9h0M359.3 656.0h0M358.6 668.0h0M361.5 650.1h0M350.8 652.1h0M355.5 652.8h0M352.9 650.4h0M350.5 658.1h0M359.9 655.1h0M360.5 659.9h0M358.5 662.0h0M355.6 670.6h0" stroke="#b387e6" stroke-opacity="0.75" stroke-width="3.6" stroke-linecap="round" fill="none"/>
<path d="M360.8 661.4h0M356.4 663.5h0M356.6 657.3h0M360.2 664.7h0M359.1 675.6h0M358.0 672.1h0M351.6 673.0h0M359.0 669.7h0M355.8 674.1h0M352.2 671.9h0M352.3 665.4h0M350.6 666.3h0M354.9 666.4h0M358.0 654.8h0M358.5 662.1h0M360.7 671.6h0M353.2 659.8h0M360.8 674.5h0M360.7 663.8h0M357.0 674.9h0" stroke="#b387e6" stroke-opacity="0.75" stroke-width="3.6" stroke-linecap="round" fill="none"/>
<path d="M353.9 669.0h0M358.0 665.0h0M350.3 654.3h0M360.3 656.6h0M362.0 660.1h0M350.6 672.3h0M354.0 656.9h0M353.8 668.1h0M353.6 669.0h0M360.4 664.9h0M361.8 660.0h0M360.7 655.7h0M358.8 660.0h0M355.4 667.9h0M361.8 672.8h0M355.6 659.0h0M354.8 673.4h0M357.1 650.5h0M352.1 665.4h0M351.0 664.0h0" stroke="#b387e6" stroke-opacity="0.75" stroke-width="3.6" stroke-linecap="round" fill="none"/>
<path d="M357.9 661.0h0M356.2 662.6h0M353.1 652.9h0M354.9 652.9h0M351.3 662.9h0M357.4 654.4h0M350.3 663.3h0M361.6 654.0h0M357.7 655.3h0M357.1 674.8h0M350.1 674.1h0M352.9 652.7h0M354.0 665.2h0M353.0 650.3h0M359.1 660.5h0M359.0 670.0h0M354.2 673.3h0M352.5 655.5h0M357.5 665.6h0M353.8 668.0h0" stroke="#b387e6" stroke-opacity="0.75" stroke-width="3.6" stroke-linecap="round" fill="none"/>
<path d="M357.1 662.1h0M361.9 671.1h0M361.5 661.8h0M355.7 664.8h0M354.7 668.1h0M358.7 669.7h0M353.9 673.1h0M355.7 672.2h0M361.1 674.5h0M360.1 666.5h0M359.6 662.9h0M361.1 650.6h0M354.8 650.4h0M351.7 654.2h0M356.4 668.4h0M354.5 664.1h0M357.9 654.9h0M353.6 655.3h0M357.4 675.3h0M351.0 663.2h0" stroke="#b387e6" stroke-opacity="0.75" stroke-width="3.6" stroke-linecap="round" fill="none"/>
<path d="M356.8 656.4h0M354.8 654.8h0M357.6 659.5h0M350.4 671.5h0M361.4 649.7h0M355.2 674.6h0M351.4 658.1h0M358.4 659.3h0M355.0 659.8h0M358.4 673.6h0M354.7 651.6h0M359.3 674.3h0M351.7 663.6h0M350.6 669.3h0M354.8 672.5h0M361.7 671.3h0M350.9 665.1h0M355.0 662.0h0M350.7 653.7h0M353.7 656.6h0" stroke="#b387e6" stroke-opacity="0.75" stroke-width="3.6" stroke-linecap="round" fill="none"/>
<path d="M361.0 609.6h0M350.2 627.6h0M360.5 630.2h0M361.6 630.0h0M351.6 612.9h0M356.2 622.5h0M356.1 622.3h0M357.3 627.6h0M356.3 612.4h0M353.3 602.4h0M353.0 622.0h0M352.7 619.7h0M351.7 622.1h0M352.8 615.5h0M361.5 608.8h0M360.0 606.1h0M354.4 634.9h0M352.6 610.0h0M361.4 623.8h0M358.3 623.4h0M353.9 611.0h0M351.2 620.4h0M353.0 623.6h0M356.8 613.4h0M358.7 614.2h0M352.1 615.1h0M353.3 632.9h0M354.3 618.6h0M361.4 628.1h0M354.8 628.7h0M360.5 609.4h0M357.9 629.8h0M358.3 627.7h0M360.8 607.8h0M358.7 627.9h0M357.6 615.9h0M361.2 603.6h0M359.9 619.6h0M352.8 628.9h0M359.3 621.5h0M361.3 619.6h0M357.3 629.0h0M354.9 604.3h0M361.7 624.5h0M358.0 633.7h0M360.6 606.2h0M351.7 635.2h0M358.5 613.2h0M350.3 618.0h0M351.6 623.2h0M354.9 620.2h0M359.9 615.5h0M356.6 602.5h0M354.8 628.3h0" stroke="#ee4a4a" stroke-opacity="0.72" stroke-width="3.6" stroke-linecap="round" fill="none"/>
<path d="M351.4 619.4h0M351.9 610.6h0M358.7 636.0h0M355.2 636.1h0M352.7 607.5h0M361.4 634.7h0M354.3 608.1h0M361.9 615.7h0M361.2 608.4h0M360.7 632.0h0M350.2 622.6h0M357.7 619.7h0M350.2 623.7h0M359.6 635.2h0M351.9 623.2h0M356.8 613.0h0M357.2 612.9h0M357.9 635.9h0M357.5 632.6h0M351.8 602.0h0M353.6 619.7h0M355.4 624.0h0M353.1 624.9h0M359.7 632.9h0M350.3 629.7h0M356.1 617.6h0M356.4 632.4h0M361.7 604.9h0M352.0 612.8h0M356.3 610.8h0M357.4 603.2h0M359.0 605.5h0M352.3 632.5h0M353.9 607.8h0M357.3 629.2h0M351.6 604.2h0M358.7 611.1h0M361.2 615.9h0M351.5 606.3h0M357.5 603.3h0M360.4 607.1h0M356.3 624.5h0M352.3 623.9h0M354.1 605.1h0M356.9 628.2h0M356.2 631.2h0M356.0 626.2h0M350.3 612.1h0M359.9 632.4h0M354.6 624.3h0M353.7 616.9h0M359.2 622.4h0M355.7 618.1h0M355.5 613.9h0" stroke="#ee4a4a" stroke-opacity="0.72" stroke-width="3.6" stroke-linecap="round" fill="none"/>
<path d="M351.8 625.1h0M352.5 632.3h0M360.8 602.5h0M359.0 634.4h0M350.8 631.1h0M357.6 635.4h0M352.2 626.4h0M360.6 627.6h0M355.0 609.2h0M356.4 632.4h0M354.1 618.8h0M356.4 615.2h0M358.2 619.0h0M350.8 626.7h0M352.7 606.9h0M357.4 630.1h0M359.0 614.7h0M350.4 611.0h0M351.6 620.4h0M356.9 624.2h0M358.0 630.2h0M356.2 626.0h0M352.8 628.1h0M359.4 622.8h0M351.1 606.7h0M357.7 608.6h0M356.9 623.3h0M357.4 602.3h0M351.9 616.3h0M361.2 613.0h0M360.7 626.8h0M357.1 603.4h0M354.5 609.3h0M361.3 616.2h0M353.2 610.2h0M360.3 613.8h0M351.1 609.6h0M352.0 622.6h0M359.5 608.3h0M350.6 614.8h0M356.7 606.2h0M355.0 623.9h0M361.3 619.2h0M354.9 633.7h0M355.3 612.7h0M353.4 633.2h0M358.9 610.1h0M350.2 635.7h0M357.7 626.8h0M353.0 620.3h0M358.8 620.3h0M361.3 612.5h0M354.1 605.6h0" stroke="#ee4a4a" stroke-opacity="0.72" stroke-width="3.6" stroke-linecap="round" fill="none"/>
<path d="M357.6 634.5h0M360.9 610.2h0M358.2 613.7h0M355.6 633.4h0M355.1 603.7h0M361.2 604.2h0M353.2 621.4h0M353.8 621.1h0M357.7 627.7h0M354.5 622.1h0M357.5 624.1h0M352.5 630.5h0M359.3 634.9h0M356.0 605.4h0M358.5 630.8h0M353.4 608.7h0M350.9 632.5h0M360.9 609.9h0M355.0 625.8h0M354.3 636.2h0M355.4 616.7h0M351.9 615.0h0M350.8 601.9h0M350.4 621.2h0M357.0 612.1h0M354.5 616.6h0M351.3 636.1h0M351.2 614.2h0M353.8 630.9h0M353.7 627.2h0M360.3 605.0h0M358.2 616.0h0M358.0 608.5h0M359.3 631.6h0M359.9 628.9h0M356.9 606.9h0M359.7 625.2h0M359.9 615.0h0M358.7 633.9h0M356.4 619.0h0M354.1 623.4h0M361.0 635.0h0M354.4 616.5h0M353.8 611.3h0M350.2 620.9h0M350.9 621.1h0M353.9 627.3h0M352.8 626.0h0M356.6 635.4h0M353.7 613.0h0M357.0 604.7h0M360.2 631.3h0M352.3 632.8h0" stroke="#ee4a4a" stroke-opacity="0.72" stroke-width="3.6" stroke-linecap="round" fill="none"/>
<path d="M351.4 601.7h0M355.4 612.4h0M352.7 605.5h0M357.3 628.8h0M361.4 632.8h0M360.1 621.3h0M355.2 614.8h0M357.3 625.8h0M350.1 605.3h0M360.6 602.4h0M354.6 634.8h0M358.4 616.1h0M357.0 616.8h0M357.5 607.0h0M357.1 611.0h0M354.1 626.3h0M355.9 602.0h0M353.5 631.7h0M358.1 629.0h0M357.1 634.3h0M359.2 602.2h0M354.9 606.6h0M358.6 627.7h0M358.7 624.4h0M351.2 631.0h0M351.6 605.3h0M352.3 615.8h0M359.7 635.7h0M352.4 605.7h0M355.2 626.3h0M359.3 604.7h0M360.1 602.8h0M353.4 625.4h0M361.4 634.9h0M359.6 616.3h0M357.1 612.3h0M354.0 634.5h0M352.1 629.1h0M350.9 611.7h0M357.9 622.2h0M355.9 620.3h0M351.5 635.9h0M361.5 607.6h0M352.5 616.8h0M356.6 602.2h0M358.6 611.8h0M356.1 606.5h0M359.2 612.0h0M358.9 616.1h0M354.6 635.6h0M350.1 627.3h0M352.6 611.9h0M361.4 603.0h0" stroke="#ee4a4a" stroke-opacity="0.72" stroke-width="3.6" stroke-linecap="round" fill="none"/>
<path d="M354.1 602.9h0M361.5 611.5h0M357.8 601.7h0M351.5 623.6h0M356.4 611.1h0M353.5 618.9h0M355.0 603.2h0M361.0 629.3h0M355.1 617.4h0M353.1 631.3h0M356.9 630.4h0M354.8 611.5h0M355.3 614.5h0M354.5 611.6h0M358.9 606.6h0M354.1 607.8h0M360.5 616.5h0M352.0 620.8h0M352.8 623.3h0M359.5 613.3h0M353.8 611.9h0M361.1 606.2h0M359.7 620.7h0M358.3 633.2h0M360.8 635.7h0M360.5 634.1h0M351.4 623.7h0M361.4 612.7h0M351.9 633.0h0M356.7 621.0h0M350.6 603.8h0M359.9 617.3h0M360.5 632.1h0M357.7 610.2h0M355.6 623.3h0M354.8 631.2h0M356.0 604.2h0M358.2 618.0h0M357.6 607.6h0M351.7 610.8h0M351.8 632.9h0M351.8 615.1h0M355.1 607.3h0M351.3 621.2h0M356.3 605.8h0M359.3 629.4h0M360.7 610.8h0M352.7 602.5h0M355.2 630.8h0M351.8 636.1h0M351.3 617.1h0M352.6 611.5h0M353.9 630.6h0" stroke="#ee4a4a" stroke-opacity="0.72" stroke-width="3.6" stroke-linecap="round" fill="none"/>
<path d="M357.2 592.9h0M359.2 600.1h0M358.5 590.2h0M360.2 604.7h0M357.7 596.0h0M359.2 600.1h0M358.8 594.2h0M356.3 589.9h0M356.1 592.5h0M356.6 584.6h0M358.0 596.3h0M359.0 598.0h0M358.6 594.6h0M356.0 582.2h0M357.5 586.9h0M357.7 587.9h0M356.9 583.1h0M358.1 595.1h0M358.8 594.9h0M359.1 604.0h0M358.3 599.5h0M357.9 587.7h0M355.4 578.7h0M356.0 579.7h0M356.9 584.5h0M356.4 586.8h0M355.7 578.1h0M354.7 578.0h0M359.6 597.0h0M357.1 601.0h0M357.2 594.6h0M357.5 583.8h0M357.8 591.6h0M359.0 596.8h0M356.4 585.6h0M358.1 591.1h0M358.9 600.2h0M358.3 604.3h0M360.5 603.7h0M357.9 593.1h0M360.3 604.4h0M359.6 604.3h0M358.0 585.2h0M356.2 591.7h0" stroke="#5a5a5a" stroke-opacity="0.8" stroke-width="3.6" stroke-linecap="round" fill="none"/>
<path d="M356.5 585.9h0M356.4 591.5h0M358.9 595.1h0M356.2 586.2h0M360.2 600.5h0M354.8 581.3h0M359.6 604.2h0M357.2 584.5h0M355.2 579.4h0M358.1 593.6h0M359.4 595.4h0M359.3 603.4h0M355.8 581.4h0M359.4 604.6h0M358.7 600.2h0M359.3 602.2h0M356.2 582.1h0M357.6 592.2h0M356.9 586.1h0M356.8 586.2h0M357.3 587.5h0M357.9 594.3h0M359.8 603.6h0M356.7 590.0h0M356.6 582.9h0M360.1 603.6h0M357.4 599.7h0M354.8 582.0h0M358.0 590.7h0M355.0 580.9h0M356.9 583.8h0M356.8 583.1h0M358.4 599.5h0M359.0 598.2h0M358.4 598.3h0M358.9 599.9h0M355.6 587.9h0M358.8 598.5h0M357.0 581.5h0M357.0 588.8h0M359.0 593.9h0M358.8 602.5h0M358.6 590.6h0M356.2 582.7h0" stroke="#5a5a5a" stroke-opacity="0.8" stroke-width="3.6" stroke-linecap="round" fill="none"/>
<path d="M357.9 593.8h0M359.3 598.3h0M354.8 577.8h0M355.5 578.2h0M356.2 581.8h0M358.0 597.7h0M356.2 589.2h0M358.3 593.8h0M357.5 594.4h0M359.2 601.9h0M356.0 581.9h0M357.2 586.8h0M356.7 580.9h0M355.7 579.3h0M356.6 585.4h0M359.2 599.9h0M358.3 598.3h0M355.6 581.8h0M357.2 588.6h0M358.6 588.4h0M357.5 583.8h0M358.4 588.6h0M356.9 583.4h0M353.8 579.1h0M356.5 592.0h0M357.0 581.5h0M355.8 581.8h0M358.2 598.7h0M358.5 593.5h0M360.9 604.0h0M356.3 579.3h0M355.3 579.5h0M357.5 591.6h0M356.5 593.7h0M355.8 580.8h0M356.9 597.6h0M361.6 604.5h0M359.3 597.2h0M354.4 585.0h0M356.5 579.1h0M359.6 603.2h0M357.1 587.4h0M358.2 597.6h0" stroke="#5a5a5a" stroke-opacity="0.8" stroke-width="3.6" stroke-linecap="round" fill="none"/>
<path d="M358.4 591.1h0M359.3 598.3h0M357.0 592.6h0M357.6 595.7h0M357.5 589.2h0M359.1 597.1h0M356.0 587.4h0M358.6 594.7h0M359.5 596.5h0M359.1 602.2h0M358.1 594.8h0M356.6 582.5h0M355.5 579.3h0M356.1 583.6h0M357.4 593.9h0M358.4 604.6h0M359.1 601.7h0M358.3 597.3h0M355.3 580.2h0M355.8 582.8h0M356.4 585.6h0M357.0 590.7h0M357.2 595.6h0M358.7 602.0h0M359.9 595.6h0M357.2 585.2h0M358.6 598.3h0M358.8 600.0h0M359.8 604.7h0M357.6 590.7h0M354.9 584.3h0M356.8 589.1h0M355.7 577.8h0M356.0 582.8h0M356.0 584.8h0M358.8 590.7h0M360.3 604.3h0M356.5 584.0h0M358.9 599.5h0M357.5 591.8h0M360.8 604.6h0M356.9 587.4h0M359.8 599.2h0" stroke="#5a5a5a" stroke-opacity="0.8" stroke-width="3.6" stroke-linecap="round" fill="none"/>
<path d="M357.7 587.0h0M354.6 581.5h0M360.1 603.0h0M358.3 596.7h0M358.8 597.5h0M358.2 597.0h0M358.6 599.0h0M358.4 595.8h0M358.4 598.6h0M357.7 585.0h0M359.1 600.2h0M356.7 581.7h0M357.2 590.0h0M357.0 584.5h0M357.3 594.7h0M358.6 599.3h0M359.1 593.9h0M357.5 586.8h0M357.9 588.0h0M357.3 588.2h0M359.3 602.2h0M359.6 598.8h0M356.6 586.1h0M358.3 593.6h0M359.2 598.1h0M355.9 577.9h0M357.6 588.1h0M354.5 579.0h0M357.9 590.7h0M358.5 597.9h0M356.0 583.5h0M359.1 595.6h0M358.9 588.4h0M355.6 588.2h0M360.1 601.3h0M359.2 599.9h0M357.1 590.7h0M358.5 596.1h0M355.7 593.5h0M357.3 592.5h0M357.7 595.7h0M357.5 597.8h0M357.7 603.1h0" stroke="#5a5a5a" stroke-opacity="0.8" stroke-width="3.6" stroke-linecap="round" fill="none"/>
<path d="M357.4 589.8h0M357.0 582.2h0M359.4 599.1h0M359.6 602.2h0M359.8 598.6h0M357.6 590.8h0M357.3 585.3h0M357.6 589.4h0M357.3 590.8h0M359.1 602.9h0M356.6 586.0h0M355.3 584.7h0M357.6 588.8h0M356.0 580.2h0M358.0 603.7h0M356.4 586.8h0M356.6 583.1h0M355.2 578.8h0M358.1 600.5h0M356.4 582.2h0M357.1 585.6h0M356.3 582.6h0M356.1 588.7h0M358.8 598.2h0M356.4 591.1h0M360.8 604.2h0M356.1 579.7h0M356.3 578.9h0M358.9 599.0h0M356.2 582.2h0M356.5 583.4h0M358.0 591.0h0M356.8 590.5h0M355.8 579.5h0M356.3 580.7h0M354.1 578.8h0M358.3 596.2h0M356.9 586.9h0M358.1 590.5h0M358.7 597.1h0M358.1 593.5h0M356.4 587.3h0M359.4 600.6h0" stroke="#5a5a5a" stroke-opacity="0.8" stroke-width="3.6" stroke-linecap="round" fill="none"/>
<rect x="48.2" y="572.5" width="329" height="114.7" fill="none" stroke="#222" stroke-width="1"/>
<line x1="62.6" y1="687.2" x2="62.6" y2="684.2" stroke="#222" stroke-width="0.9"/>
<line x1="62.6" y1="572.5" x2="62.6" y2="575.5" stroke="#222" stroke-width="0.9"/>
<line x1="137.4" y1="687.2" x2="137.4" y2="684.2" stroke="#222" stroke-width="0.9"/>
<line x1="137.4" y1="572.5" x2="137.4" y2="575.5" stroke="#222" stroke-width="0.9"/>
<line x1="212.3" y1="687.2" x2="212.3" y2="684.2" stroke="#222" stroke-width="0.9"/>
<line x1="212.3" y1="572.5" x2="212.3" y2="575.5" stroke="#222" stroke-width="0.9"/>
<line x1="287.2" y1="687.2" x2="287.2" y2="684.2" stroke="#222" stroke-width="0.9"/>
<line x1="287.2" y1="572.5" x2="287.2" y2="575.5" stroke="#222" stroke-width="0.9"/>
<line x1="362" y1="687.2" x2="362" y2="684.2" stroke="#222" stroke-width="0.9"/>
<line x1="362" y1="572.5" x2="362" y2="575.5" stroke="#222" stroke-width="0.9"/>
<line x1="100" y1="687.2" x2="100" y2="685.6" stroke="#222" stroke-width="0.9"/>
<line x1="100" y1="572.5" x2="100" y2="574.1" stroke="#222" stroke-width="0.9"/>
<line x1="174.9" y1="687.2" x2="174.9" y2="685.6" stroke="#222" stroke-width="0.9"/>
<line x1="174.9" y1="572.5" x2="174.9" y2="574.1" stroke="#222" stroke-width="0.9"/>
<line x1="249.7" y1="687.2" x2="249.7" y2="685.6" stroke="#222" stroke-width="0.9"/>
<line x1="249.7" y1="572.5" x2="249.7" y2="574.1" stroke="#222" stroke-width="0.9"/>
<line x1="324.6" y1="687.2" x2="324.6" y2="685.6" stroke="#222" stroke-width="0.9"/>
<line x1="324.6" y1="572.5" x2="324.6" y2="574.1" stroke="#222" stroke-width="0.9"/>
<line x1="48.2" y1="680.2" x2="51.2" y2="680.2" stroke="#222" stroke-width="0.9"/>
<line x1="377.2" y1="680.2" x2="374.2" y2="680.2" stroke="#222" stroke-width="0.9"/>
<text font-size="9" fill="#222" text-anchor="end" transform="translate(44.8,683.5) scale(1,1.0)">1</text>
<line x1="48.2" y1="664.8" x2="51.2" y2="664.8" stroke="#222" stroke-width="0.9"/>
<line x1="377.2" y1="664.8" x2="374.2" y2="664.8" stroke="#222" stroke-width="0.9"/>
<text font-size="9" fill="#222" text-anchor="end" transform="translate(44.8,668.1) scale(1,1.0)">2</text>
<line x1="48.2" y1="649.4" x2="51.2" y2="649.4" stroke="#222" stroke-width="0.9"/>
<line x1="377.2" y1="649.4" x2="374.2" y2="649.4" stroke="#222" stroke-width="0.9"/>
<text font-size="9" fill="#222" text-anchor="end" transform="translate(44.8,652.7) scale(1,1.0)">3</text>
<line x1="48.2" y1="634" x2="51.2" y2="634" stroke="#222" stroke-width="0.9"/>
<line x1="377.2" y1="634" x2="374.2" y2="634" stroke="#222" stroke-width="0.9"/>
<text font-size="9" fill="#222" text-anchor="end" transform="translate(44.8,637.3) scale(1,1.0)">4</text>
<line x1="48.2" y1="618.6" x2="51.2" y2="618.6" stroke="#222" stroke-width="0.9"/>
<line x1="377.2" y1="618.6" x2="374.2" y2="618.6" stroke="#222" stroke-width="0.9"/>
<text font-size="9" fill="#222" text-anchor="end" transform="translate(44.8,621.9) scale(1,1.0)">5</text>
<line x1="48.2" y1="603.2" x2="51.2" y2="603.2" stroke="#222" stroke-width="0.9"/>
<line x1="377.2" y1="603.2" x2="374.2" y2="603.2" stroke="#222" stroke-width="0.9"/>
<text font-size="9" fill="#222" text-anchor="end" transform="translate(44.8,606.5) scale(1,1.0)">6</text>
<line x1="48.2" y1="587.8" x2="51.2" y2="587.8" stroke="#222" stroke-width="0.9"/>
<line x1="377.2" y1="587.8" x2="374.2" y2="587.8" stroke="#222" stroke-width="0.9"/>
<text font-size="9" fill="#222" text-anchor="end" transform="translate(44.8,591.1) scale(1,1.0)">7</text>
<line x1="48.2" y1="572.4" x2="51.2" y2="572.4" stroke="#222" stroke-width="0.9"/>
<line x1="377.2" y1="572.4" x2="374.2" y2="572.4" stroke="#222" stroke-width="0.9"/>
<text font-size="9" fill="#222" text-anchor="end" transform="translate(44.8,575.7) scale(1,1.0)">8</text>
<text font-size="11" fill="#222" text-anchor="middle" transform="translate(68.1,698.1) scale(0.83,1)">80%</text>
<text font-size="11" fill="#222" text-anchor="middle" transform="translate(142.9,698.1) scale(0.83,1)">85%</text>
<text font-size="11" fill="#222" text-anchor="middle" transform="translate(217.8,698.1) scale(0.83,1)">90%</text>
<text font-size="11" fill="#222" text-anchor="middle" transform="translate(292.7,698.1) scale(0.83,1)">95%</text>
<text font-size="11" fill="#222" text-anchor="middle" transform="translate(367.5,698.1) scale(0.83,1)">100%</text>
<text font-size="9.2" fill="#111" text-anchor="middle" transform="translate(32.3,631.5) rotate(-90)">Molecule of RIP3 (n)</text>
<rect x="49.6" y="573.4" width="75.9" height="55.4" fill="#fff" stroke="#777" stroke-width="0.8"/>
<circle cx="60.6" cy="579.5" r="1.6" fill="#5a5a5a" opacity="0.85"/>
<text x="73.6" y="582.5" font-size="7.6" fill="#333" xml:space="preserve">10  nM MLKL</text>
<circle cx="60.6" cy="590.3" r="1.6" fill="#ee4a4a" opacity="0.85"/>
<text x="73.6" y="593.3" font-size="7.6" fill="#333" xml:space="preserve">20  nM MLKL</text>
<circle cx="60.6" cy="601.2" r="1.6" fill="#3a74de" opacity="0.85"/>
<text x="73.6" y="604.2" font-size="7.6" fill="#333" xml:space="preserve">30  nM MLKL</text>
<circle cx="60.6" cy="612" r="1.6" fill="#3fa86a" opacity="0.85"/>
<text x="73.6" y="615" font-size="7.6" fill="#333" xml:space="preserve">40  nM MLKL</text>
<circle cx="60.6" cy="622.8" r="1.6" fill="#b387e6" opacity="0.85"/>
<text x="73.6" y="625.8" font-size="7.6" fill="#333" xml:space="preserve">50  nM MLKL</text>
<text x="207.8" y="716.3" font-size="10.7" fill="#111" text-anchor="middle">Efficiency</text>
<text x="436" y="260.7" font-size="16" fill="#111">c</text>
<rect x="492.8" y="280.0" width="6.6" height="20.2" fill="#d4d4d4" fill-opacity="0.4"/>
<rect x="501.7" y="311.3" width="6.6" height="23.7" fill="#d4d4d4" fill-opacity="0.4"/>
<rect x="510.5" y="321.8" width="6.6" height="20.9" fill="#d4d4d4" fill-opacity="0.4"/>
<rect x="519.4" y="326.0" width="6.6" height="19.5" fill="#d4d4d4" fill-opacity="0.4"/>
<rect x="528.2" y="328.1" width="6.6" height="18.8" fill="#d4d4d4" fill-opacity="0.4"/>
<rect x="537.1" y="329.4" width="6.6" height="18.1" fill="#d4d4d4" fill-opacity="0.4"/>
<rect x="545.9" y="330.1" width="6.6" height="18.1" fill="#d4d4d4" fill-opacity="0.4"/>
<rect x="554.8" y="330.8" width="6.6" height="18.1" fill="#d4d4d4" fill-opacity="0.4"/>
<rect x="563.6" y="331.5" width="6.6" height="18.1" fill="#d4d4d4" fill-opacity="0.4"/>
<rect x="572.5" y="332.2" width="6.6" height="17.1" fill="#d4d4d4" fill-opacity="0.4"/>
<rect x="581.3" y="332.2" width="6.6" height="17.1" fill="#d4d4d4" fill-opacity="0.4"/>
<rect x="590.2" y="332.2" width="6.6" height="17.1" fill="#d4d4d4" fill-opacity="0.4"/>
<rect x="599.0" y="332.2" width="6.6" height="17.1" fill="#d4d4d4" fill-opacity="0.4"/>
<rect x="607.9" y="332.2" width="6.6" height="17.1" fill="#d4d4d4" fill-opacity="0.4"/>
<rect x="616.7" y="332.2" width="6.6" height="17.1" fill="#d4d4d4" fill-opacity="0.4"/>
<rect x="625.6" y="332.2" width="6.6" height="17.1" fill="#d4d4d4" fill-opacity="0.4"/>
<rect x="634.4" y="332.2" width="6.6" height="17.1" fill="#d4d4d4" fill-opacity="0.4"/>
<rect x="643.2" y="332.2" width="6.6" height="17.1" fill="#d4d4d4" fill-opacity="0.4"/>
<rect x="652.1" y="332.2" width="6.6" height="17.1" fill="#d4d4d4" fill-opacity="0.4"/>
<rect x="661.0" y="332.2" width="6.6" height="17.1" fill="#d4d4d4" fill-opacity="0.4"/>
<path d="M495.5 289.1h.9M495.2 283.6h.9M495.7 284.5h.9M495.8 271.8h.9M494.9 308.9h.9M495.6 284.3h.9M496.2 306.0h.9M495.1 312.2h.9M494.9 273.1h.9M495.9 305.2h.9M494.9 285.9h.9M495.4 284.5h.9M496.1 282.8h.9M496.0 283.0h.9M496.5 290.2h.9M496.3 272.7h.9M496.5 279.7h.9M495.6 310.0h.9M495.3 314.6h.9M495.6 294.1h.9M495.9 298.9h.9M495.7 281.0h.9M496.0 281.2h.9M496.0 299.3h.9M495.9 295.8h.9M495.5 282.6h.9M495.4 295.4h.9M496.3 279.6h.9M495.7 294.9h.9M496.2 303.0h.9M496.2 288.2h.9M494.9 288.9h.9M495.5 278.7h.9M495.0 280.1h.9M495.2 298.7h.9M495.1 312.8h.9M495.3 273.9h.9M495.9 303.1h.9M495.3 302.4h.9M495.7 272.9h.9M495.8 280.0h.9M495.2 273.0h.9M495.1 305.4h.9M496.4 306.5h.9M495.7 286.4h.9M494.9 284.6h.9M495.3 281.9h.9M496.4 280.5h.9M495.0 292.4h.9M495.7 289.6h.9M496.2 302.1h.9M496.3 281.9h.9M495.6 310.4h.9M495.4 277.8h.9M496.1 311.5h.9M495.0 293.1h.9M495.4 279.1h.9M496.5 296.4h.9M495.4 305.4h.9M496.3 291.5h.9M495.5 297.1h.9M495.0 282.8h.9M495.2 299.8h.9M496.5 293.1h.9M495.4 293.7h.9M495.6 278.7h.9M495.2 293.6h.9M496.3 315.1h.9M495.5 280.3h.9M494.9 280.1h.9M496.3 269.0h.9M495.0 292.8h.9M496.1 299.0h.9M495.6 288.5h.9M495.6 309.4h.9M495.1 305.8h.9M495.7 266.9h.9M495.3 306.5h.9M496.4 299.2h.9M496.5 268.6h.9M495.7 271.9h.9M496.2 272.9h.9M495.0 306.3h.9M496.3 283.5h.9M495.1 307.4h.9M495.3 295.9h.9M495.8 290.4h.9M496.0 309.8h.9M495.4 305.9h.9M495.8 269.2h.9M494.9 287.1h.9M496.1 300.1h.9M494.8 294.4h.9M496.1 288.3h.9M495.1 290.6h.9M496.0 290.6h.9M496.4 289.4h.9M495.4 285.7h.9M495.0 291.9h.9M496.0 308.1h.9M495.1 307.9h.9M496.3 301.7h.9M495.6 308.3h.9M494.8 272.4h.9M496.5 303.0h.9M496.5 297.5h.9M494.9 303.2h.9M495.1 307.8h.9M495.9 269.8h.9M495.7 294.9h.9M496.5 308.4h.9M496.1 291.9h.9M495.3 289.0h.9M496.2 299.7h.9M495.9 308.3h.9M496.1 299.3h.9M495.8 288.8h.9M494.8 289.9h.9M496.4 293.2h.9M495.3 301.2h.9M495.4 303.0h.9M495.9 313.6h.9M495.0 285.3h.9M495.0 297.2h.9M495.7 291.7h.9M495.4 282.0h.9M496.4 280.6h.9M496.4 299.0h.9M495.7 303.1h.9M496.3 282.3h.9M495.8 273.4h.9M495.7 295.0h.9M495.9 286.4h.9M495.1 295.3h.9M495.6 311.5h.9M495.8 272.2h.9M494.9 269.9h.9M496.2 285.4h.9M495.5 296.1h.9M496.1 301.5h.9M495.0 311.9h.9M494.9 277.1h.9M495.3 267.6h.9M495.3 270.4h.9M496.1 290.3h.9M495.1 297.2h.9M495.9 296.8h.9M495.8 290.7h.9M496.0 300.3h.9M495.2 274.1h.9M496.5 314.0h.9M496.1 266.8h.9M495.5 274.0h.9M495.0 298.0h.9M496.4 277.3h.9M495.2 276.2h.9M495.5 301.7h.9M496.4 281.8h.9M495.9 283.4h.9M494.8 294.5h.9M496.0 300.5h.9M495.8 288.5h.9M496.2 287.6h.9M495.6 284.7h.9M495.8 284.1h.9M495.4 307.7h.9M495.6 282.7h.9M496.3 289.0h.9M496.0 291.1h.9M495.6 296.7h.9M495.6 306.5h.9M495.8 289.1h.9M495.0 284.1h.9M494.8 288.6h.9M495.5 280.2h.9M494.9 278.0h.9M495.3 297.6h.9M495.2 301.2h.9M494.9 294.2h.9M495.4 293.6h.9M496.2 279.5h.9M496.4 282.1h.9M495.6 288.1h.9M495.8 307.5h.9M495.7 271.3h.9M496.2 281.6h.9M495.8 311.3h.9M495.5 273.4h.9M495.8 282.4h.9M494.8 298.8h.9" stroke="#000000" stroke-width="0.9" fill="none"/>
<line x1="496.1" y1="266.7" x2="496.1" y2="315.5" stroke="#000000" stroke-width="1.0" stroke-opacity="0.75"/>
<path d="M504.1 323.8h.9M505.3 312.5h.9M504.4 305.2h.9M504.8 326.9h.9M504.5 319.2h.9M504.0 326.3h.9M504.7 332.5h.9M505.2 342.3h.9M504.0 350.4h.9M505.0 320.6h.9M504.6 348.2h.9M504.8 338.6h.9M504.8 319.5h.9M504.5 327.9h.9M504.7 312.7h.9M505.0 357.3h.9M504.3 335.9h.9M503.8 319.7h.9M503.8 308.3h.9M504.0 301.1h.9M504.1 324.2h.9M503.6 322.4h.9M504.4 311.8h.9M503.6 297.6h.9M504.4 298.7h.9M503.8 323.1h.9M504.3 329.4h.9M505.3 311.4h.9M504.9 315.9h.9M503.8 334.3h.9M504.4 328.8h.9M504.4 315.1h.9M504.8 308.5h.9M504.5 323.2h.9M505.2 295.6h.9M504.1 328.8h.9M504.8 318.4h.9M504.2 322.9h.9M504.4 317.3h.9M504.1 317.4h.9M504.5 328.0h.9M504.2 300.7h.9M504.2 313.6h.9M503.7 329.9h.9M505.3 327.3h.9M504.7 320.4h.9M504.4 342.0h.9M504.9 332.5h.9M505.2 353.1h.9M504.4 333.9h.9M503.9 295.0h.9M504.5 331.5h.9M504.8 325.1h.9M503.6 316.3h.9M503.7 315.3h.9M505.2 300.9h.9M504.2 320.2h.9M505.1 344.4h.9M504.6 308.4h.9M503.9 311.4h.9M504.5 328.6h.9M504.9 301.3h.9M504.2 322.0h.9M504.6 332.8h.9M505.3 313.4h.9M504.9 353.2h.9M504.6 335.8h.9M504.8 321.1h.9M504.6 330.8h.9M504.0 336.9h.9M504.2 333.8h.9M504.9 336.1h.9M504.8 304.6h.9M504.7 335.7h.9M503.8 327.0h.9M504.4 331.9h.9M505.1 323.8h.9M504.7 302.1h.9M505.4 332.9h.9M504.8 353.4h.9M504.5 302.1h.9M504.0 312.5h.9M503.8 345.8h.9M505.0 317.2h.9M504.3 322.4h.9M503.9 343.2h.9M504.2 319.4h.9M505.2 327.9h.9M504.5 324.9h.9M503.9 330.7h.9M503.7 354.3h.9M504.0 297.2h.9M504.3 329.6h.9M504.0 343.9h.9M504.4 349.5h.9M504.1 331.4h.9M503.9 307.5h.9M504.2 342.4h.9M504.8 317.5h.9M504.9 327.6h.9M504.4 346.0h.9M504.4 311.8h.9M505.3 325.2h.9M504.6 349.1h.9M504.1 329.6h.9M504.1 316.4h.9M504.1 347.2h.9M504.5 298.5h.9M505.2 298.5h.9M504.8 325.6h.9M504.7 306.8h.9M504.5 332.1h.9M503.6 334.3h.9M504.3 295.7h.9M503.7 353.8h.9M505.1 319.3h.9M504.6 325.6h.9M504.8 335.5h.9M504.0 328.3h.9M503.8 334.4h.9M504.7 316.2h.9M504.0 337.2h.9M504.5 299.2h.9M504.8 320.7h.9M503.8 335.0h.9M504.8 328.3h.9M504.9 302.0h.9M504.9 351.7h.9M504.3 300.6h.9M504.5 314.6h.9M503.9 319.1h.9M504.6 334.4h.9M505.1 316.0h.9M504.1 328.0h.9M504.1 334.2h.9M504.8 304.0h.9M504.8 316.1h.9M503.9 321.8h.9M504.5 317.8h.9M503.9 310.5h.9M504.4 314.5h.9M504.8 314.9h.9M504.1 323.3h.9M504.7 343.0h.9M505.0 324.0h.9M504.1 342.9h.9M503.7 330.1h.9M503.9 316.0h.9M504.7 319.6h.9M504.8 323.3h.9M504.2 333.5h.9M504.3 319.6h.9M504.6 328.6h.9M504.5 324.4h.9M504.1 303.7h.9M505.0 325.7h.9M504.5 342.0h.9M505.1 316.8h.9M504.7 334.5h.9M504.8 330.1h.9M504.8 302.1h.9M505.0 322.8h.9M504.0 318.5h.9M505.0 314.1h.9M505.3 295.9h.9M504.4 316.4h.9M505.0 321.0h.9M504.6 318.9h.9M504.0 316.4h.9M504.6 308.4h.9M505.4 336.8h.9M505.4 322.0h.9M504.9 332.5h.9M505.1 301.1h.9M504.8 316.8h.9M504.2 323.6h.9M504.4 339.1h.9M503.6 325.6h.9M503.6 323.6h.9M504.7 349.6h.9M505.4 355.2h.9M504.6 325.2h.9M503.9 315.9h.9M504.5 316.9h.9M503.9 336.6h.9M505.3 333.4h.9M504.8 326.3h.9M504.4 297.1h.9M504.5 343.7h.9M505.3 331.2h.9" stroke="#ff0000" stroke-width="0.9" fill="none"/>
<line x1="505" y1="294.6" x2="505" y2="357.3" stroke="#ff0000" stroke-width="1.0" stroke-opacity="0.75"/>
<path d="M513.3 339.5h.9M513.6 323.7h.9M513.1 325.5h.9M512.8 315.0h.9M512.9 348.3h.9M512.6 320.1h.9M513.2 316.2h.9M512.7 328.0h.9M513.4 336.0h.9M514.2 332.3h.9M512.6 317.3h.9M513.3 325.8h.9M513.0 350.7h.9M513.9 352.2h.9M514.1 350.8h.9M514.1 318.6h.9M512.9 340.4h.9M514.1 338.5h.9M513.3 339.1h.9M513.1 360.2h.9M512.6 336.1h.9M513.0 325.6h.9M512.8 321.9h.9M514.1 331.3h.9M513.7 327.1h.9M513.9 330.1h.9M513.6 361.1h.9M513.0 322.3h.9M513.4 335.3h.9M513.8 347.4h.9M513.1 340.9h.9M513.1 330.3h.9M512.9 345.7h.9M513.3 360.7h.9M513.2 319.0h.9M512.6 361.2h.9M512.9 323.4h.9M513.5 327.4h.9M513.5 345.1h.9M513.6 357.4h.9M512.6 311.3h.9M513.0 334.8h.9M512.8 314.0h.9M512.7 354.1h.9M512.6 322.1h.9M514.1 331.3h.9M514.0 343.5h.9M514.0 339.0h.9M512.8 359.4h.9M513.2 359.9h.9M513.7 317.2h.9M514.2 344.5h.9M513.5 325.6h.9M513.5 330.8h.9M513.6 337.8h.9M512.7 340.1h.9M513.0 338.9h.9M512.7 327.2h.9M512.6 341.1h.9M513.6 349.9h.9M514.0 327.6h.9M513.5 319.5h.9M513.2 313.4h.9M513.2 327.1h.9M514.0 316.2h.9M514.1 331.0h.9M513.9 360.3h.9M513.1 321.2h.9M514.2 333.5h.9M513.6 324.5h.9M512.7 339.9h.9M513.9 358.1h.9M512.8 323.8h.9M514.2 313.0h.9M514.0 319.7h.9M514.0 321.4h.9M512.5 337.1h.9M512.9 324.3h.9M512.9 337.2h.9M513.2 338.3h.9M512.8 351.3h.9M513.2 328.4h.9M513.9 315.7h.9M513.2 336.8h.9M513.2 341.3h.9M512.6 340.9h.9M512.8 331.1h.9M512.8 342.8h.9M513.1 349.4h.9M514.1 331.3h.9M513.0 334.5h.9M514.1 308.9h.9M513.3 336.8h.9M514.0 354.9h.9M512.5 317.5h.9M512.8 319.6h.9M513.3 360.9h.9M513.7 353.8h.9M513.0 333.3h.9M513.6 351.5h.9M513.3 341.4h.9M513.2 356.8h.9M513.6 344.4h.9M514.2 348.9h.9M512.6 307.6h.9M514.1 337.6h.9M513.3 359.4h.9M512.6 322.6h.9M513.0 330.9h.9M513.5 332.3h.9M513.4 317.0h.9M513.9 330.0h.9M513.0 327.9h.9M512.7 353.6h.9M513.6 311.6h.9M512.8 359.3h.9M512.7 356.2h.9M513.5 341.7h.9M512.9 332.7h.9M513.6 344.1h.9M513.2 355.5h.9M512.8 327.3h.9M513.0 349.6h.9M513.0 309.5h.9M512.9 339.2h.9M512.5 359.6h.9M512.5 317.8h.9M513.9 330.9h.9M513.0 360.5h.9M512.6 335.6h.9M514.1 325.6h.9M513.2 327.0h.9M513.3 333.6h.9M513.5 336.1h.9M513.3 342.7h.9M513.7 316.9h.9M513.7 315.3h.9M513.8 345.3h.9M513.3 359.7h.9M513.1 322.8h.9M512.6 344.5h.9M513.0 350.6h.9M512.8 331.7h.9M512.6 317.1h.9M513.8 316.6h.9M514.0 307.9h.9M512.9 319.4h.9M513.6 320.2h.9M513.1 342.2h.9M513.3 344.5h.9M513.4 328.7h.9M512.7 335.8h.9M512.9 347.4h.9M512.9 352.8h.9M513.6 341.6h.9M513.9 322.7h.9M513.6 356.0h.9M513.7 355.1h.9M512.7 345.8h.9M512.9 339.4h.9M512.6 337.3h.9M514.2 323.3h.9M512.9 327.9h.9M513.9 331.3h.9M512.6 329.1h.9M513.2 318.0h.9M513.4 359.5h.9M513.2 342.2h.9M512.6 324.3h.9M513.8 331.4h.9M513.1 354.0h.9M512.7 323.4h.9M513.4 329.1h.9M513.3 335.8h.9M512.6 324.4h.9M513.3 353.0h.9M513.6 328.3h.9M513.6 345.5h.9M512.8 319.3h.9M514.1 352.1h.9M514.2 351.0h.9M513.3 327.4h.9M513.4 339.0h.9M512.6 341.7h.9M513.9 313.8h.9M512.6 352.2h.9M512.9 359.1h.9M513.9 337.4h.9M513.7 339.0h.9M512.9 331.5h.9" stroke="#00e000" stroke-width="0.9" fill="none"/>
<line x1="513.8" y1="307.1" x2="513.8" y2="361.5" stroke="#00e000" stroke-width="1.0" stroke-opacity="0.75"/>
<path d="M522.6 328.6h.9M522.6 338.7h.9M522.2 333.1h.9M522.8 349.5h.9M523.1 335.1h.9M521.3 326.9h.9M523.1 341.9h.9M522.1 359.2h.9M522.3 335.7h.9M522.1 318.9h.9M521.3 343.6h.9M522.2 313.9h.9M522.9 348.1h.9M522.9 325.4h.9M522.9 326.6h.9M523.1 336.8h.9M521.8 340.9h.9M522.5 322.5h.9M521.8 316.9h.9M522.8 332.1h.9M522.8 360.3h.9M522.4 331.4h.9M522.4 335.7h.9M521.9 340.1h.9M522.3 342.4h.9M521.4 358.3h.9M522.8 326.4h.9M522.9 342.6h.9M522.3 330.3h.9M522.3 335.5h.9M521.7 335.4h.9M522.6 325.6h.9M522.6 352.2h.9M521.8 362.0h.9M521.4 361.6h.9M521.4 313.6h.9M521.6 359.2h.9M522.7 357.9h.9M522.6 317.1h.9M522.9 320.7h.9M522.1 329.1h.9M521.4 355.3h.9M522.0 335.9h.9M522.4 338.5h.9M522.8 358.7h.9M522.5 316.7h.9M521.5 332.4h.9M522.1 332.9h.9M521.6 357.8h.9M521.9 332.3h.9M521.5 357.6h.9M522.6 333.1h.9M521.5 348.9h.9M522.5 326.9h.9M523.0 321.7h.9M521.5 343.3h.9M521.9 335.9h.9M521.7 353.2h.9M522.1 316.7h.9M522.2 316.6h.9M521.5 322.0h.9M522.7 356.0h.9M521.7 326.3h.9M521.7 313.9h.9M521.4 344.1h.9M523.0 341.0h.9M521.9 333.8h.9M522.1 343.8h.9M522.3 326.4h.9M522.4 343.8h.9M523.0 348.7h.9M522.0 324.2h.9M521.8 343.4h.9M522.2 325.5h.9M521.8 345.5h.9M521.4 322.6h.9M522.8 332.1h.9M522.2 341.0h.9M522.8 327.7h.9M522.4 360.8h.9M522.2 342.5h.9M521.9 335.8h.9M521.4 355.6h.9M522.5 335.7h.9M522.6 326.0h.9M521.6 358.4h.9M522.0 340.0h.9M521.8 356.2h.9M521.5 322.8h.9M521.7 330.6h.9M521.6 356.4h.9M522.2 336.5h.9M522.1 349.9h.9M522.1 336.6h.9M523.0 328.1h.9M523.0 342.0h.9M521.5 333.8h.9M521.6 358.1h.9M522.5 316.3h.9M522.8 322.5h.9M521.8 329.1h.9M521.3 332.7h.9M521.7 328.0h.9M522.8 336.5h.9M523.1 345.2h.9M522.7 348.1h.9M523.0 337.0h.9M521.9 339.6h.9M521.5 314.4h.9M522.5 344.3h.9M523.0 343.2h.9M522.6 361.9h.9M521.5 358.5h.9M521.6 322.7h.9M521.7 352.1h.9M522.6 327.4h.9M522.2 326.1h.9M522.0 350.4h.9M522.5 337.5h.9M522.4 331.4h.9M521.5 344.0h.9M521.5 343.9h.9M521.8 338.7h.9M522.4 344.6h.9M521.5 330.9h.9M522.6 337.1h.9M521.9 340.0h.9M522.0 335.0h.9M521.3 341.7h.9M522.4 334.6h.9M522.9 314.4h.9M522.0 340.2h.9M522.4 351.3h.9M522.4 337.9h.9M522.1 338.0h.9M522.9 358.9h.9M522.7 336.1h.9M522.3 325.8h.9M521.6 348.6h.9M521.8 351.5h.9M521.7 363.4h.9M521.9 353.0h.9M521.7 322.0h.9M522.4 334.9h.9M522.3 334.5h.9M522.2 336.0h.9M521.7 353.9h.9M521.6 354.0h.9M521.4 317.7h.9M521.5 334.2h.9M521.8 335.0h.9M522.7 340.3h.9M522.0 342.2h.9M521.8 321.5h.9M521.5 349.7h.9M522.1 339.5h.9M522.0 343.1h.9M521.6 343.0h.9M522.4 335.0h.9M521.6 343.0h.9M521.7 318.7h.9M522.7 327.1h.9M522.3 326.3h.9M521.6 362.4h.9M522.3 349.4h.9M521.9 330.5h.9M522.1 339.4h.9M523.1 351.7h.9M522.0 341.6h.9M521.7 347.0h.9M521.5 329.5h.9M522.2 345.3h.9M521.9 339.8h.9M523.1 357.8h.9M521.6 359.1h.9M521.7 335.9h.9M521.9 339.8h.9M522.1 336.3h.9M522.1 331.2h.9M522.7 314.6h.9M522.0 355.0h.9M521.8 322.1h.9M521.3 350.2h.9M522.2 342.4h.9M521.3 316.0h.9M521.4 331.0h.9M522.4 326.2h.9M521.6 330.3h.9M522.1 333.3h.9M522.1 363.0h.9" stroke="#0000ff" stroke-width="0.9" fill="none"/>
<line x1="522.6" y1="313.4" x2="522.6" y2="363.6" stroke="#0000ff" stroke-width="1.0" stroke-opacity="0.75"/>
<path d="M531.3 359.3h.9M530.8 352.9h.9M530.6 357.5h.9M531.4 346.7h.9M531.6 346.0h.9M531.1 327.4h.9M530.6 327.6h.9M531.7 335.3h.9M531.1 337.5h.9M531.7 346.1h.9M530.5 339.4h.9M531.1 329.5h.9M530.9 330.4h.9M530.9 342.4h.9M530.5 320.1h.9M530.5 342.1h.9M531.1 321.6h.9M531.6 336.6h.9M531.2 339.8h.9M530.5 336.7h.9M531.9 355.7h.9M531.9 335.7h.9M531.9 332.7h.9M531.3 340.6h.9M530.9 329.7h.9M531.3 346.5h.9M531.6 325.3h.9M531.1 336.2h.9M531.5 335.5h.9M530.5 324.2h.9M530.3 329.0h.9M531.6 342.5h.9M531.8 326.5h.9M530.4 320.3h.9M531.6 342.3h.9M531.6 343.3h.9M531.7 348.8h.9M530.7 323.8h.9M530.8 356.1h.9M531.3 331.4h.9M530.6 333.3h.9M531.5 330.5h.9M531.4 361.3h.9M531.2 338.4h.9M531.4 341.9h.9M531.2 323.1h.9M531.9 334.7h.9M531.0 340.6h.9M530.3 336.7h.9M531.6 318.6h.9M531.2 334.1h.9M531.5 341.0h.9M530.2 332.9h.9M530.3 357.6h.9M530.7 337.1h.9M530.5 335.0h.9M531.8 343.9h.9M530.5 341.0h.9M531.6 349.3h.9M531.7 359.2h.9M531.8 337.9h.9M531.2 331.2h.9M531.1 321.1h.9M531.0 361.4h.9M530.5 326.4h.9M530.7 352.2h.9M531.0 317.4h.9M530.4 337.9h.9M530.5 343.3h.9M530.4 345.7h.9M531.6 338.0h.9M531.3 346.6h.9M530.2 333.5h.9M531.6 329.4h.9M531.3 331.9h.9M531.0 338.1h.9M531.9 343.6h.9M530.7 326.8h.9M530.4 334.2h.9M530.8 344.6h.9M530.7 345.7h.9M530.8 330.2h.9M531.0 353.8h.9M530.3 327.5h.9M531.9 338.3h.9M530.9 330.2h.9M531.6 333.6h.9M531.8 332.1h.9M531.4 335.0h.9M530.3 359.4h.9M530.5 343.7h.9M530.8 330.9h.9M530.7 342.4h.9M530.9 330.3h.9M531.7 333.9h.9M531.3 326.0h.9M530.2 317.7h.9M530.2 344.0h.9M531.6 335.1h.9M530.9 319.9h.9M531.2 338.4h.9M531.5 357.2h.9M530.9 346.7h.9M530.4 350.6h.9M530.7 332.9h.9M530.3 362.7h.9M531.2 330.3h.9M531.6 333.2h.9M530.2 328.9h.9M530.6 341.0h.9M531.3 336.3h.9M530.5 345.0h.9M531.0 319.4h.9M530.2 330.9h.9M530.6 323.2h.9M530.9 353.2h.9M531.1 359.2h.9M531.4 339.3h.9M530.4 357.2h.9M531.3 331.7h.9M530.2 330.6h.9M530.3 342.7h.9M530.7 335.3h.9M530.4 339.5h.9M531.6 338.3h.9M530.5 333.0h.9M531.8 341.1h.9M531.2 336.9h.9M530.8 342.7h.9M531.3 348.6h.9M530.3 337.0h.9M530.6 321.4h.9M531.7 322.9h.9M531.4 355.6h.9M531.9 328.2h.9M530.8 360.9h.9M531.1 356.7h.9M530.3 337.4h.9M531.6 323.4h.9M530.4 341.5h.9M531.5 323.4h.9M531.8 349.1h.9M530.8 347.8h.9M530.5 337.9h.9M531.5 355.4h.9M531.0 330.5h.9M530.7 362.1h.9M531.7 363.6h.9M531.3 350.4h.9M531.4 335.1h.9M530.5 338.8h.9M530.5 363.3h.9M531.7 346.1h.9M531.3 336.5h.9M531.6 335.4h.9M530.9 351.8h.9M531.6 318.5h.9M530.5 340.1h.9M531.1 332.4h.9M531.4 360.0h.9M531.5 330.8h.9M531.9 329.1h.9M531.2 358.6h.9M530.7 339.3h.9M530.5 350.9h.9M530.5 329.0h.9M531.8 360.3h.9M530.6 329.2h.9M530.4 332.5h.9M530.5 334.3h.9M530.5 339.7h.9M530.4 337.2h.9M531.8 351.7h.9M530.2 357.0h.9M531.6 344.6h.9M531.2 363.2h.9M530.7 336.3h.9M531.4 360.4h.9M531.6 346.9h.9M531.9 346.4h.9M530.5 342.7h.9M531.6 345.0h.9M530.8 332.7h.9M530.3 351.5h.9M530.2 345.4h.9M530.5 320.9h.9M530.4 361.4h.9M531.6 324.5h.9M530.9 333.3h.9M531.7 353.8h.9" stroke="#00e4e4" stroke-width="0.9" fill="none"/>
<line x1="531.5" y1="316.2" x2="531.5" y2="363.6" stroke="#00e4e4" stroke-width="1.0" stroke-opacity="0.75"/>
<path d="M539.2 350.3h.9M539.7 331.1h.9M540.0 338.0h.9M540.5 347.3h.9M539.4 343.0h.9M540.4 330.5h.9M539.4 345.0h.9M540.0 335.6h.9M539.9 359.0h.9M540.3 344.6h.9M539.8 332.2h.9M539.1 347.2h.9M540.8 343.3h.9M539.8 353.3h.9M540.0 319.5h.9M539.1 340.5h.9M539.8 339.3h.9M540.3 347.2h.9M540.2 342.7h.9M539.7 355.7h.9M539.1 359.3h.9M539.3 320.5h.9M539.6 348.7h.9M539.4 339.3h.9M539.6 361.3h.9M540.7 347.2h.9M540.2 341.3h.9M539.3 327.4h.9M540.6 321.5h.9M540.4 343.4h.9M540.5 321.6h.9M540.0 334.1h.9M539.6 339.1h.9M539.2 345.0h.9M540.4 341.8h.9M539.9 340.1h.9M540.7 352.3h.9M539.9 339.8h.9M539.7 339.3h.9M539.3 341.5h.9M540.0 361.4h.9M539.2 336.5h.9M539.9 333.5h.9M539.7 361.2h.9M539.8 333.8h.9M540.0 348.5h.9M540.5 362.8h.9M539.7 340.1h.9M540.1 343.9h.9M540.7 319.1h.9M540.2 323.8h.9M540.7 363.0h.9M540.4 346.8h.9M539.9 346.9h.9M539.5 333.1h.9M540.4 333.0h.9M540.4 357.8h.9M539.7 346.4h.9M539.7 318.8h.9M540.7 361.3h.9M539.1 359.5h.9M540.0 337.1h.9M540.2 340.5h.9M540.2 358.0h.9M539.1 320.4h.9M540.4 344.1h.9M539.5 339.7h.9M539.1 331.4h.9M540.1 363.0h.9M539.8 359.3h.9M539.4 329.5h.9M540.0 334.6h.9M539.5 362.6h.9M540.4 344.2h.9M540.1 345.7h.9M539.8 324.2h.9M539.3 348.5h.9M539.4 340.2h.9M539.3 335.4h.9M540.7 332.9h.9M540.6 345.5h.9M540.5 329.6h.9M539.5 329.2h.9M540.7 349.2h.9M540.1 340.1h.9M539.4 357.0h.9M540.1 355.5h.9M540.3 350.8h.9M540.6 326.9h.9M540.1 321.0h.9M539.7 342.2h.9M539.6 324.2h.9M539.1 337.2h.9M540.0 343.6h.9M539.2 346.4h.9M539.8 352.4h.9M540.4 325.7h.9M539.4 330.8h.9M540.6 329.6h.9M540.0 337.5h.9M539.4 363.4h.9M539.8 363.2h.9M540.4 331.8h.9M540.4 359.3h.9M539.6 347.5h.9M539.2 329.5h.9M540.7 346.8h.9M540.0 335.7h.9M539.7 333.5h.9M539.4 346.0h.9M539.5 324.7h.9M539.6 334.9h.9M539.1 359.1h.9M540.3 332.4h.9M539.5 357.5h.9M540.6 352.5h.9M540.6 318.8h.9M539.1 328.9h.9M540.0 341.7h.9M540.0 333.3h.9M539.6 350.0h.9M540.4 330.2h.9M540.7 322.7h.9M540.3 354.0h.9M540.3 344.0h.9M540.3 332.7h.9M539.6 329.5h.9M539.8 343.4h.9M540.7 336.6h.9M540.2 339.3h.9M540.1 362.8h.9M539.5 343.0h.9M539.4 324.7h.9M539.1 339.2h.9M539.3 343.8h.9M540.5 337.5h.9M540.5 330.8h.9M540.3 347.8h.9M540.3 330.1h.9M539.2 334.0h.9M539.8 326.7h.9M539.5 332.9h.9M540.2 345.9h.9M540.1 351.7h.9M540.3 343.5h.9M539.4 341.8h.9M539.7 353.5h.9M540.0 329.8h.9M539.5 331.7h.9M540.2 336.5h.9M539.2 332.1h.9M539.4 334.8h.9M539.9 320.3h.9M539.7 341.4h.9M540.3 353.7h.9M539.8 358.2h.9M539.7 335.8h.9M539.9 336.7h.9M539.3 345.6h.9M539.1 344.2h.9M539.8 332.4h.9M540.0 354.2h.9M539.0 345.9h.9M540.1 343.8h.9M539.4 354.4h.9M539.9 325.3h.9M540.3 326.1h.9M540.7 334.9h.9M540.5 340.2h.9M539.3 347.4h.9M540.5 358.0h.9M540.8 329.3h.9M540.0 361.8h.9M539.3 332.9h.9M539.7 326.1h.9M539.2 343.6h.9M539.8 343.1h.9M540.1 359.7h.9M539.1 330.1h.9M540.5 342.5h.9M540.1 351.5h.9M539.7 323.7h.9M539.8 332.7h.9M540.4 340.5h.9M539.6 341.5h.9M539.4 338.1h.9M539.0 334.8h.9M539.4 347.9h.9M539.4 335.8h.9M540.7 352.1h.9" stroke="#ff00ff" stroke-width="0.9" fill="none"/>
<line x1="540.4" y1="318.3" x2="540.4" y2="363.6" stroke="#ff00ff" stroke-width="1.0" stroke-opacity="0.75"/>
<path d="M548.7 342.7h.9M549.6 343.3h.9M548.8 360.8h.9M549.2 337.1h.9M548.7 319.8h.9M548.9 330.2h.9M549.3 334.6h.9M549.6 344.3h.9M549.1 361.4h.9M548.5 338.2h.9M548.8 324.7h.9M548.0 346.4h.9M548.7 330.4h.9M549.2 326.8h.9M549.3 335.1h.9M548.2 347.7h.9M547.9 330.8h.9M549.6 340.8h.9M548.6 347.7h.9M549.4 358.6h.9M548.7 323.2h.9M549.4 335.2h.9M549.4 350.6h.9M548.6 347.9h.9M548.5 336.3h.9M549.0 347.2h.9M548.5 333.6h.9M548.8 332.0h.9M548.8 348.4h.9M548.4 332.0h.9M548.4 340.1h.9M548.6 346.9h.9M548.8 356.0h.9M548.2 344.8h.9M547.9 324.4h.9M548.9 350.2h.9M549.2 336.3h.9M549.4 352.7h.9M548.8 355.0h.9M549.1 355.7h.9M548.4 327.0h.9M549.2 328.6h.9M549.3 338.7h.9M548.5 359.7h.9M548.3 359.8h.9M548.0 363.0h.9M548.5 349.1h.9M548.0 350.8h.9M548.8 329.0h.9M547.9 345.4h.9M549.6 332.3h.9M549.5 330.8h.9M548.5 346.2h.9M548.9 347.5h.9M549.5 350.4h.9M548.9 335.1h.9M549.1 330.1h.9M548.7 333.0h.9M549.2 340.6h.9M548.9 340.0h.9M548.6 339.9h.9M548.6 361.9h.9M549.0 341.2h.9M549.1 324.5h.9M548.5 333.7h.9M549.3 333.2h.9M549.4 334.5h.9M548.5 338.2h.9M549.1 344.1h.9M548.7 358.3h.9M548.1 333.8h.9M548.6 338.5h.9M547.9 337.0h.9M548.3 353.7h.9M548.0 331.0h.9M549.3 334.1h.9M549.0 348.2h.9M549.4 343.4h.9M549.4 329.7h.9M548.7 356.2h.9M549.4 361.6h.9M548.0 356.0h.9M549.0 354.4h.9M548.0 332.5h.9M548.2 324.2h.9M548.0 322.2h.9M549.6 332.8h.9M549.3 342.7h.9M548.0 362.7h.9M548.9 357.5h.9M549.3 330.0h.9M549.6 323.4h.9M549.5 353.0h.9M549.6 333.8h.9M548.5 320.9h.9M549.1 362.8h.9M547.9 358.6h.9M549.5 337.2h.9M548.5 332.9h.9M548.6 356.1h.9M549.5 335.1h.9M549.6 357.0h.9M548.2 320.4h.9M548.4 324.2h.9M549.0 343.1h.9M549.2 347.6h.9M548.9 341.3h.9M548.6 346.5h.9M548.4 326.1h.9M548.7 355.0h.9M548.2 332.1h.9M549.4 329.2h.9M549.2 354.0h.9M548.0 327.5h.9M549.5 340.4h.9M548.7 346.4h.9M548.1 361.2h.9M548.3 336.2h.9M548.7 338.1h.9M548.7 352.8h.9M548.6 333.0h.9M549.0 333.5h.9M548.2 338.6h.9M549.4 352.1h.9M549.3 361.0h.9M549.4 335.1h.9M549.4 341.3h.9M548.2 324.7h.9M548.1 343.3h.9M548.5 320.9h.9M548.3 340.7h.9M548.8 350.9h.9M548.4 336.9h.9M549.5 334.5h.9M549.6 339.8h.9M549.0 343.1h.9M548.5 356.2h.9M549.6 330.6h.9M549.3 326.7h.9M548.6 341.5h.9M548.5 354.8h.9M549.1 355.6h.9M548.8 339.2h.9M548.4 331.6h.9M549.5 327.7h.9M549.0 344.4h.9M548.6 333.0h.9M548.3 357.9h.9M548.9 322.5h.9M548.0 359.4h.9M547.9 358.4h.9M549.2 352.6h.9M549.6 341.0h.9M547.9 333.5h.9M549.2 343.3h.9M548.7 348.0h.9M549.1 343.2h.9M548.8 324.3h.9M549.4 334.9h.9M549.3 339.7h.9M549.5 332.1h.9M549.1 328.5h.9M547.9 333.0h.9M549.6 334.4h.9M549.0 340.9h.9M548.9 343.5h.9M549.0 339.4h.9M548.0 362.0h.9M549.5 339.0h.9M549.2 345.9h.9M548.5 325.2h.9M547.9 340.2h.9M548.3 341.3h.9M549.5 332.8h.9M548.2 332.4h.9M549.1 340.2h.9M549.3 363.3h.9M549.6 353.1h.9M548.8 355.6h.9M548.6 330.7h.9M549.0 347.1h.9M548.0 336.0h.9M548.2 338.4h.9M549.3 334.2h.9M548.0 362.2h.9M549.0 331.0h.9M549.3 340.3h.9M548.7 326.2h.9M548.4 331.2h.9M548.8 341.0h.9" stroke="#f4f000" stroke-width="0.9" fill="none"/>
<line x1="549.2" y1="319.7" x2="549.2" y2="363.6" stroke="#f4f000" stroke-width="1.0" stroke-opacity="0.75"/>
<path d="M557.8 363.4h.9M558.5 355.6h.9M557.7 323.3h.9M557.2 339.8h.9M557.9 361.3h.9M557.4 336.4h.9M557.1 323.1h.9M556.8 363.5h.9M556.7 331.7h.9M557.5 345.1h.9M558.0 332.6h.9M557.8 355.2h.9M557.8 353.0h.9M557.5 347.1h.9M557.4 347.5h.9M558.0 332.4h.9M558.0 345.9h.9M556.7 337.0h.9M556.8 356.6h.9M557.4 344.6h.9M558.2 328.3h.9M557.7 342.6h.9M557.7 332.9h.9M558.2 351.6h.9M558.4 343.7h.9M558.0 349.4h.9M557.1 321.1h.9M557.4 335.1h.9M557.8 334.6h.9M557.5 338.2h.9M557.5 323.3h.9M557.4 360.1h.9M558.3 337.8h.9M557.6 344.7h.9M558.3 355.2h.9M558.3 339.0h.9M557.2 346.9h.9M557.9 360.6h.9M556.8 361.3h.9M557.5 344.0h.9M557.5 339.4h.9M556.7 357.2h.9M557.5 338.4h.9M558.3 351.4h.9M557.8 345.7h.9M558.0 321.3h.9M558.0 325.8h.9M557.3 335.5h.9M557.8 325.9h.9M558.1 335.2h.9M556.7 343.4h.9M557.9 358.2h.9M557.0 336.1h.9M556.8 342.1h.9M556.9 340.9h.9M557.0 337.6h.9M556.9 347.1h.9M558.4 356.6h.9M557.3 332.0h.9M556.8 333.7h.9M558.5 343.3h.9M556.7 327.8h.9M557.8 347.9h.9M556.9 344.2h.9M558.0 331.4h.9M558.5 336.3h.9M557.1 339.7h.9M558.3 330.2h.9M558.3 341.2h.9M557.1 341.3h.9M557.8 340.5h.9M558.0 320.9h.9M557.1 341.1h.9M558.4 331.7h.9M558.0 331.4h.9M557.8 322.2h.9M557.0 352.7h.9M557.2 332.6h.9M557.7 322.6h.9M558.0 348.5h.9M558.2 347.8h.9M557.8 326.4h.9M557.1 348.1h.9M558.4 329.6h.9M558.3 343.9h.9M557.3 345.0h.9M558.2 335.7h.9M557.7 354.8h.9M557.4 352.7h.9M558.3 341.0h.9M558.1 333.5h.9M557.5 335.1h.9M557.7 329.3h.9M558.2 336.5h.9M557.2 334.1h.9M558.3 335.6h.9M557.9 334.7h.9M557.8 333.1h.9M558.3 353.6h.9M556.8 360.2h.9M556.8 340.4h.9M558.1 337.9h.9M557.7 360.4h.9M558.4 323.8h.9M557.4 347.2h.9M558.1 352.0h.9M558.1 342.1h.9M557.1 362.6h.9M558.2 325.9h.9M557.4 322.0h.9M557.1 339.5h.9M558.0 339.3h.9M558.2 355.6h.9M557.3 359.4h.9M557.9 342.0h.9M557.8 334.9h.9M558.1 361.2h.9M558.0 331.1h.9M558.3 329.3h.9M557.9 337.8h.9M558.3 344.3h.9M557.0 362.9h.9M557.9 336.3h.9M557.1 337.2h.9M557.8 338.3h.9M557.3 338.4h.9M557.3 337.1h.9M556.7 339.6h.9M557.1 338.6h.9M558.3 336.5h.9M557.3 355.6h.9M557.0 350.7h.9M557.3 335.1h.9M557.0 358.0h.9M557.6 357.1h.9M558.4 347.5h.9M556.7 347.4h.9M557.0 348.2h.9M557.9 357.0h.9M557.4 337.4h.9M557.3 363.3h.9M557.2 323.2h.9M557.5 351.3h.9M557.5 354.2h.9M557.8 322.4h.9M557.3 333.7h.9M558.1 341.7h.9M556.9 327.9h.9M557.0 331.9h.9M557.6 355.5h.9M557.4 344.0h.9M557.6 325.3h.9M557.5 334.4h.9M557.4 341.5h.9M557.2 340.3h.9M558.2 332.0h.9M557.3 343.1h.9M557.5 325.8h.9M557.4 344.8h.9M556.8 346.5h.9M556.8 335.9h.9M557.0 362.6h.9M557.6 323.4h.9M558.4 345.6h.9M557.2 326.8h.9M558.0 347.5h.9M557.0 348.1h.9M558.1 336.4h.9M556.9 322.5h.9M558.4 323.4h.9M556.7 335.5h.9M557.5 329.6h.9M557.1 350.9h.9M558.2 335.7h.9M557.6 343.2h.9M557.7 344.6h.9M557.1 341.9h.9M557.6 340.0h.9M557.5 334.1h.9M557.7 351.3h.9M557.0 335.7h.9M557.0 358.0h.9M558.2 331.5h.9M557.4 334.4h.9M557.1 331.3h.9M557.1 358.0h.9M557.3 335.2h.9M556.9 347.5h.9M556.9 356.1h.9M558.1 346.5h.9" stroke="#a09c00" stroke-width="0.9" fill="none"/>
<line x1="558.1" y1="320.4" x2="558.1" y2="363.6" stroke="#a09c00" stroke-width="1.0" stroke-opacity="0.75"/>
<path d="M567.2 343.5h.9M566.3 349.0h.9M566.7 343.8h.9M566.9 362.5h.9M565.9 343.4h.9M566.1 344.4h.9M567.0 338.6h.9M566.8 335.9h.9M566.7 329.1h.9M566.7 348.2h.9M566.3 343.0h.9M566.4 340.0h.9M567.1 362.8h.9M566.8 337.5h.9M566.0 352.1h.9M567.0 333.4h.9M566.0 322.1h.9M566.0 354.9h.9M567.1 331.3h.9M565.6 351.7h.9M566.6 328.8h.9M567.2 349.5h.9M566.3 329.0h.9M566.5 344.9h.9M566.1 339.3h.9M566.9 326.1h.9M566.9 349.2h.9M566.7 363.0h.9M566.9 357.4h.9M566.2 324.9h.9M567.3 351.4h.9M566.2 360.4h.9M567.1 338.7h.9M566.2 343.1h.9M566.9 329.5h.9M567.1 322.7h.9M566.1 334.9h.9M566.2 338.3h.9M565.8 334.4h.9M565.7 344.1h.9M567.0 331.4h.9M565.6 329.3h.9M566.2 332.2h.9M566.6 346.0h.9M566.4 326.2h.9M565.8 333.6h.9M567.3 339.3h.9M567.2 346.0h.9M565.7 324.1h.9M567.1 349.1h.9M566.0 357.1h.9M566.1 343.5h.9M565.8 335.8h.9M565.9 345.4h.9M567.3 335.3h.9M567.2 331.8h.9M565.8 341.0h.9M566.4 327.0h.9M566.0 341.9h.9M566.4 327.7h.9M566.2 342.6h.9M567.1 344.5h.9M566.2 337.9h.9M566.8 324.6h.9M566.5 342.6h.9M567.2 338.5h.9M566.4 347.1h.9M566.7 333.3h.9M566.5 350.7h.9M566.4 329.5h.9M566.3 335.6h.9M566.1 338.2h.9M566.9 337.5h.9M566.6 332.9h.9M566.7 336.1h.9M567.1 349.6h.9M566.5 345.7h.9M565.9 325.4h.9M566.3 325.5h.9M566.9 328.2h.9M566.4 333.3h.9M566.1 330.4h.9M567.1 342.4h.9M566.5 334.6h.9M566.7 341.9h.9M566.2 361.6h.9M566.0 330.8h.9M567.0 334.9h.9M566.8 352.1h.9M567.0 331.1h.9M567.1 337.8h.9M565.6 334.1h.9M566.5 330.7h.9M566.2 343.4h.9M566.1 362.0h.9M566.9 358.6h.9M565.9 338.9h.9M566.6 329.4h.9M566.6 348.6h.9M565.6 348.4h.9M566.7 346.9h.9M565.9 348.9h.9M566.8 339.9h.9M566.4 332.8h.9M566.0 339.1h.9M565.9 333.4h.9M566.3 330.9h.9M566.3 343.3h.9M565.8 347.8h.9M566.1 337.4h.9M566.8 342.5h.9M566.0 346.5h.9M565.6 326.9h.9M566.9 340.2h.9M566.9 347.9h.9M566.3 354.6h.9M567.3 349.6h.9M565.8 342.1h.9M567.3 358.1h.9M566.4 358.6h.9M566.2 337.8h.9M566.4 345.2h.9M565.8 323.3h.9M565.7 324.3h.9M566.0 333.5h.9M566.2 323.2h.9M566.0 330.1h.9M567.0 325.4h.9M567.1 337.8h.9M566.8 357.4h.9M565.7 352.2h.9M566.1 361.7h.9M565.7 342.6h.9M566.0 344.4h.9M567.1 338.3h.9M566.9 345.0h.9M565.8 360.9h.9M566.7 333.5h.9M565.8 332.3h.9M566.4 333.5h.9M565.6 362.8h.9M565.8 343.3h.9M566.2 334.6h.9M566.3 336.2h.9M566.9 352.5h.9M567.1 334.5h.9M566.5 343.7h.9M566.2 353.5h.9M566.2 324.6h.9M566.3 326.8h.9M565.7 355.0h.9M567.0 353.0h.9M566.5 358.5h.9M566.0 358.7h.9M566.7 354.0h.9M565.7 344.0h.9M566.2 341.6h.9M566.2 354.7h.9M566.9 341.1h.9M566.8 361.5h.9M566.5 351.3h.9M566.2 343.1h.9M567.1 351.4h.9M566.4 334.1h.9M566.1 349.5h.9M566.9 326.9h.9M566.3 345.3h.9M565.7 359.1h.9M566.9 349.0h.9M566.3 343.3h.9M566.2 335.5h.9M566.9 348.2h.9M566.6 338.4h.9M566.0 323.9h.9M566.0 340.7h.9M565.9 337.3h.9M566.9 339.9h.9M566.2 343.4h.9M566.8 342.1h.9M565.8 333.5h.9M566.2 345.5h.9M566.8 335.7h.9M566.4 362.3h.9M566.1 342.2h.9M566.6 341.6h.9M566.1 345.2h.9M566.6 349.0h.9M565.8 353.3h.9M566.5 324.4h.9M567.0 353.1h.9" stroke="#000090" stroke-width="0.9" fill="none"/>
<line x1="566.9" y1="321.1" x2="566.9" y2="363.6" stroke="#000090" stroke-width="1.0" stroke-opacity="0.75"/>
<path d="M574.5 334.2h.9M575.1 334.2h.9M575.6 353.7h.9M575.2 349.1h.9M575.9 331.2h.9M575.2 345.3h.9M575.0 336.3h.9M574.5 328.1h.9M575.6 352.5h.9M574.5 336.7h.9M576.1 351.3h.9M575.0 337.6h.9M576.0 349.2h.9M576.2 335.8h.9M575.9 341.6h.9M575.0 336.5h.9M575.4 346.4h.9M575.9 342.0h.9M575.6 363.5h.9M574.9 351.4h.9M576.0 350.8h.9M575.2 339.9h.9M575.7 343.6h.9M575.7 345.6h.9M575.9 339.9h.9M574.6 336.4h.9M575.1 337.5h.9M575.6 357.4h.9M575.8 357.7h.9M575.9 337.2h.9M575.7 338.7h.9M575.0 355.7h.9M576.1 333.9h.9M575.2 328.5h.9M575.7 338.2h.9M574.6 322.9h.9M574.5 325.7h.9M574.5 363.3h.9M575.1 354.6h.9M575.6 325.1h.9M574.8 340.4h.9M574.6 334.7h.9M574.5 335.0h.9M575.3 353.6h.9M574.7 333.8h.9M576.0 336.3h.9M575.8 346.8h.9M574.7 346.6h.9M574.5 335.1h.9M574.5 343.0h.9M575.6 343.8h.9M575.6 347.2h.9M575.4 340.0h.9M576.1 354.9h.9M576.2 330.0h.9M575.1 345.0h.9M574.9 346.5h.9M574.5 362.3h.9M574.9 337.7h.9M575.7 345.4h.9M575.8 326.5h.9M574.5 355.8h.9M575.0 362.0h.9M575.8 341.4h.9M575.4 361.5h.9M574.8 338.6h.9M575.6 357.0h.9M576.0 341.9h.9M575.2 332.7h.9M576.1 351.3h.9M575.5 335.5h.9M575.5 323.7h.9M574.6 347.7h.9M575.6 329.8h.9M575.0 340.7h.9M574.7 336.1h.9M576.2 349.1h.9M575.1 335.4h.9M574.5 346.1h.9M575.0 321.9h.9M574.8 352.9h.9M574.6 330.0h.9M575.5 353.4h.9M576.1 358.7h.9M574.4 335.6h.9M575.4 354.1h.9M575.2 325.0h.9M575.5 338.6h.9M574.7 353.7h.9M574.7 343.8h.9M574.9 335.2h.9M575.6 351.7h.9M575.1 359.0h.9M574.6 341.9h.9M576.1 342.8h.9M575.0 337.6h.9M574.6 351.2h.9M576.0 325.0h.9M575.3 348.9h.9M575.7 344.0h.9M575.4 348.2h.9M575.4 339.6h.9M575.5 323.7h.9M574.8 355.6h.9M575.8 340.5h.9M576.2 322.2h.9M574.5 348.8h.9M575.2 348.2h.9M576.1 349.8h.9M575.2 343.8h.9M575.3 335.5h.9M574.8 338.2h.9M575.9 341.4h.9M575.7 343.0h.9M575.2 347.6h.9M575.5 330.9h.9M575.0 357.3h.9M574.8 362.1h.9M575.2 349.2h.9M574.7 349.1h.9M575.1 341.9h.9M575.0 339.7h.9M575.3 357.9h.9M575.3 362.4h.9M575.9 347.9h.9M574.8 335.7h.9M574.7 344.4h.9M574.8 350.9h.9M574.7 332.6h.9M574.7 333.1h.9M575.0 334.6h.9M575.3 324.6h.9M574.9 335.7h.9M574.9 335.8h.9M576.1 326.7h.9M575.7 341.3h.9M575.0 330.5h.9M575.1 327.3h.9M574.6 340.4h.9M575.9 335.0h.9M575.4 334.1h.9M575.8 330.0h.9M575.5 321.9h.9M575.2 347.8h.9M574.8 332.7h.9M575.5 334.1h.9M575.3 322.8h.9M575.2 359.6h.9M575.0 323.6h.9M575.9 338.0h.9M574.6 334.4h.9M574.8 338.9h.9M574.6 345.2h.9M575.0 323.8h.9M575.4 347.9h.9M574.9 356.9h.9M575.6 352.6h.9M574.7 347.8h.9M575.7 358.2h.9M575.5 339.0h.9M575.8 349.5h.9M575.0 321.9h.9M575.1 344.3h.9M575.6 338.0h.9M575.5 348.2h.9M575.7 349.4h.9M576.2 349.1h.9M575.8 322.2h.9M575.2 339.1h.9M574.6 356.4h.9M575.2 331.7h.9M574.9 328.7h.9M574.9 329.6h.9M575.8 339.3h.9M575.0 339.4h.9M576.2 334.7h.9M575.3 332.7h.9M574.5 339.4h.9M574.8 356.3h.9M576.0 340.9h.9M576.2 346.1h.9M574.9 362.7h.9M575.0 330.0h.9M574.9 347.9h.9M575.3 349.1h.9M576.0 343.4h.9M575.5 347.3h.9M575.0 359.8h.9M574.5 343.5h.9M574.5 334.3h.9" stroke="#900090" stroke-width="0.9" fill="none"/>
<line x1="575.8" y1="321.8" x2="575.8" y2="363.6" stroke="#900090" stroke-width="1.0" stroke-opacity="0.75"/>
<path d="M584.0 327.3h.9M584.2 332.2h.9M584.0 339.5h.9M583.3 347.6h.9M584.9 326.4h.9M584.4 359.6h.9M583.7 337.0h.9M583.9 341.9h.9M583.6 335.0h.9M584.6 326.4h.9M583.9 328.2h.9M584.9 344.1h.9M583.7 335.1h.9M584.5 340.0h.9M585.0 323.9h.9M584.2 344.3h.9M584.4 334.2h.9M583.3 340.4h.9M584.4 361.6h.9M583.3 340.5h.9M583.7 334.0h.9M584.3 330.2h.9M583.4 349.2h.9M583.4 336.1h.9M584.0 341.4h.9M583.3 328.2h.9M584.0 341.6h.9M584.1 362.8h.9M584.0 336.5h.9M584.1 351.8h.9M583.6 336.8h.9M584.5 354.1h.9M583.5 359.5h.9M585.0 336.4h.9M584.2 348.0h.9M584.8 338.2h.9M584.4 340.5h.9M583.6 362.3h.9M584.2 329.8h.9M583.8 355.2h.9M583.6 335.6h.9M584.1 331.6h.9M585.0 356.3h.9M584.1 346.6h.9M583.9 346.5h.9M585.0 339.9h.9M584.2 345.0h.9M583.3 330.0h.9M584.5 340.7h.9M584.1 347.2h.9M584.1 345.2h.9M583.5 332.7h.9M584.5 342.8h.9M584.3 334.8h.9M583.4 339.9h.9M584.3 337.2h.9M584.0 359.9h.9M584.2 326.8h.9M585.0 355.5h.9M583.7 343.1h.9M584.8 355.2h.9M584.0 331.9h.9M583.4 359.9h.9M584.2 360.9h.9M584.7 343.1h.9M584.6 340.6h.9M585.0 332.9h.9M583.4 343.5h.9M583.3 348.9h.9M583.6 334.7h.9M583.8 354.1h.9M584.1 334.8h.9M584.6 327.5h.9M584.4 355.4h.9M584.2 332.6h.9M584.2 347.0h.9M583.4 352.1h.9M584.8 341.1h.9M584.3 334.7h.9M584.9 326.1h.9M584.0 358.1h.9M584.4 362.7h.9M583.5 341.6h.9M584.1 357.5h.9M583.4 335.1h.9M584.0 354.2h.9M584.3 351.9h.9M584.6 356.3h.9M583.8 324.6h.9M583.4 345.6h.9M584.6 340.0h.9M583.9 335.0h.9M584.0 356.7h.9M583.3 342.6h.9M584.5 326.0h.9M584.1 338.4h.9M583.7 339.6h.9M584.7 347.1h.9M584.0 335.3h.9M583.7 336.8h.9M583.3 322.8h.9M584.4 341.9h.9M584.3 348.2h.9M583.5 333.2h.9M583.8 337.7h.9M583.6 349.0h.9M584.3 360.7h.9M583.4 334.4h.9M584.7 340.7h.9M584.6 346.8h.9M584.2 337.1h.9M583.8 329.6h.9M583.4 361.2h.9M584.1 323.3h.9M585.0 335.5h.9M583.9 333.6h.9M584.9 352.7h.9M585.0 325.9h.9M584.4 335.5h.9M583.6 354.9h.9M584.7 361.1h.9M583.7 332.3h.9M584.8 337.6h.9M584.8 334.4h.9M583.3 337.5h.9M584.5 334.6h.9M584.1 338.7h.9M585.0 336.3h.9M583.4 349.8h.9M584.5 358.3h.9M584.0 323.1h.9M584.5 344.5h.9M583.5 351.7h.9M584.5 337.3h.9M583.8 353.5h.9M583.8 352.1h.9M583.4 337.0h.9M583.8 351.3h.9M583.9 349.4h.9M583.9 326.2h.9M583.3 355.1h.9M584.1 338.3h.9M583.9 343.9h.9M583.6 339.7h.9M584.7 342.1h.9M584.3 339.5h.9M583.4 342.3h.9M584.4 341.3h.9M584.6 323.4h.9M584.3 347.9h.9M584.1 325.7h.9M583.3 355.8h.9M585.0 342.7h.9M584.2 345.3h.9M583.4 337.1h.9M584.1 338.9h.9M584.7 349.2h.9M584.4 341.9h.9M584.9 326.4h.9M583.8 323.8h.9M584.6 357.4h.9M583.4 359.5h.9M583.7 351.3h.9M584.0 349.2h.9M584.7 362.2h.9M583.3 339.2h.9M584.5 338.6h.9M584.6 355.7h.9M584.1 350.7h.9M583.4 360.7h.9M584.3 336.6h.9M584.1 337.2h.9M584.9 339.2h.9M585.0 347.9h.9M584.4 329.3h.9M583.6 343.0h.9M585.0 343.7h.9M584.4 326.6h.9M583.8 345.9h.9M584.9 356.6h.9M584.9 347.7h.9M585.0 341.2h.9M584.3 341.6h.9M583.6 361.5h.9M583.8 349.8h.9M585.0 337.1h.9M584.4 331.9h.9M584.5 353.5h.9M583.4 322.1h.9M584.4 330.5h.9" stroke="#900000" stroke-width="0.9" fill="none"/>
<line x1="584.6" y1="321.8" x2="584.6" y2="363.6" stroke="#900000" stroke-width="1.0" stroke-opacity="0.75"/>
<path d="M593.4 327.2h.9M593.7 340.2h.9M592.1 334.6h.9M593.2 357.7h.9M592.5 330.4h.9M592.2 340.3h.9M593.0 337.9h.9M593.6 335.1h.9M593.5 347.3h.9M592.6 339.7h.9M593.8 337.4h.9M592.5 325.1h.9M592.2 339.7h.9M592.1 332.9h.9M592.8 362.5h.9M593.8 332.8h.9M593.6 334.0h.9M593.8 342.1h.9M593.1 345.0h.9M592.2 336.3h.9M593.8 330.0h.9M592.5 348.6h.9M592.2 321.9h.9M593.1 357.9h.9M592.5 343.8h.9M593.0 326.5h.9M593.6 335.1h.9M593.2 347.7h.9M592.1 333.3h.9M592.7 339.8h.9M593.9 339.0h.9M593.3 337.6h.9M592.4 354.4h.9M593.5 337.4h.9M593.1 325.2h.9M592.5 361.7h.9M593.4 338.8h.9M593.9 336.3h.9M592.6 344.5h.9M593.2 356.0h.9M592.4 360.2h.9M592.8 337.6h.9M593.0 336.9h.9M592.6 351.9h.9M593.7 325.9h.9M592.5 342.9h.9M592.4 345.9h.9M593.4 341.7h.9M593.8 345.8h.9M593.1 346.4h.9M592.5 327.2h.9M592.3 344.0h.9M592.2 332.5h.9M593.1 336.5h.9M592.9 346.7h.9M592.4 323.0h.9M593.0 337.3h.9M593.2 342.2h.9M592.5 347.4h.9M592.1 355.7h.9M593.0 345.9h.9M593.5 336.1h.9M592.5 337.0h.9M592.3 350.3h.9M592.1 361.0h.9M593.0 339.3h.9M593.3 342.3h.9M593.4 339.8h.9M593.9 335.3h.9M592.6 362.0h.9M593.5 326.5h.9M592.8 328.4h.9M592.3 323.8h.9M593.4 334.5h.9M592.9 327.1h.9M593.0 350.6h.9M593.3 354.6h.9M593.1 340.7h.9M592.7 362.0h.9M593.4 333.9h.9M593.2 360.8h.9M592.2 340.0h.9M592.9 339.5h.9M593.7 330.6h.9M592.3 336.4h.9M593.4 337.9h.9M593.3 361.8h.9M593.5 359.3h.9M593.6 347.0h.9M592.2 338.2h.9M593.0 333.7h.9M592.8 336.5h.9M593.5 340.4h.9M593.9 330.3h.9M593.1 362.4h.9M592.6 344.1h.9M592.4 341.9h.9M593.2 362.0h.9M593.2 341.2h.9M592.6 329.3h.9M593.2 335.3h.9M593.2 359.2h.9M593.6 337.4h.9M593.6 326.9h.9M592.6 343.6h.9M592.7 356.5h.9M592.8 340.1h.9M593.5 340.8h.9M592.3 360.4h.9M593.1 343.0h.9M593.5 352.8h.9M592.8 333.4h.9M592.3 335.1h.9M592.1 338.0h.9M593.3 338.7h.9M592.7 347.9h.9M592.6 356.9h.9M592.7 354.1h.9M593.7 342.0h.9M593.6 326.7h.9M593.7 323.7h.9M592.3 359.1h.9M593.5 325.6h.9M593.4 338.8h.9M592.9 328.6h.9M592.4 323.3h.9M593.3 338.5h.9M593.7 333.9h.9M593.2 333.0h.9M593.4 340.1h.9M592.3 330.5h.9M592.4 345.8h.9M593.6 336.9h.9M592.7 322.0h.9M592.2 353.0h.9M592.1 362.9h.9M592.3 334.6h.9M593.2 348.0h.9M592.9 333.2h.9M593.3 335.2h.9M592.9 334.0h.9M592.4 345.0h.9M593.5 333.2h.9M593.0 356.4h.9M593.8 350.4h.9M593.8 340.4h.9M593.0 356.4h.9M593.8 325.3h.9M593.1 339.9h.9M593.5 333.9h.9M592.3 330.9h.9M592.8 326.4h.9M593.5 346.7h.9M593.1 328.5h.9M593.5 338.5h.9M592.3 342.0h.9M593.8 330.8h.9M592.8 334.9h.9M593.7 333.4h.9M593.3 344.4h.9M592.7 345.2h.9M593.6 347.6h.9M593.8 356.4h.9M593.3 346.3h.9M592.8 347.5h.9M593.6 339.4h.9M592.7 332.3h.9M592.4 327.2h.9M592.3 342.4h.9M593.5 349.0h.9M593.4 331.0h.9M592.5 342.3h.9M592.7 362.2h.9M593.6 333.1h.9M592.2 354.0h.9M593.5 348.8h.9M593.1 348.5h.9M592.4 331.7h.9M592.4 348.8h.9M592.6 341.8h.9M593.2 326.5h.9M592.6 342.6h.9M592.8 357.9h.9M593.5 332.4h.9M593.3 334.8h.9M592.3 348.1h.9M592.9 333.2h.9M592.6 326.0h.9M593.4 332.9h.9M593.5 340.7h.9" stroke="#008a00" stroke-width="0.9" fill="none"/>
<line x1="593.5" y1="321.8" x2="593.5" y2="363.6" stroke="#008a00" stroke-width="1.0" stroke-opacity="0.75"/>
<path d="M602.6 328.2h.9M601.2 339.6h.9M601.2 341.6h.9M601.9 340.2h.9M602.2 357.8h.9M602.6 332.3h.9M601.5 348.1h.9M601.6 337.2h.9M602.5 350.1h.9M601.6 353.9h.9M602.3 328.0h.9M602.3 334.1h.9M602.6 343.3h.9M601.7 358.5h.9M602.4 348.9h.9M601.7 335.2h.9M601.0 353.6h.9M602.2 337.1h.9M602.7 357.0h.9M602.0 346.6h.9M602.5 359.1h.9M601.7 344.6h.9M601.1 325.4h.9M602.4 323.7h.9M602.2 341.7h.9M602.0 346.6h.9M601.3 346.2h.9M602.7 362.5h.9M602.2 359.0h.9M601.5 337.8h.9M602.1 341.7h.9M602.7 348.9h.9M601.4 360.4h.9M602.7 323.4h.9M601.3 357.8h.9M601.4 331.5h.9M601.3 334.0h.9M601.1 343.3h.9M602.4 323.7h.9M602.5 359.3h.9M601.4 337.8h.9M601.9 343.1h.9M602.0 341.5h.9M601.9 335.1h.9M601.7 354.3h.9M602.4 332.9h.9M601.4 352.7h.9M601.2 346.0h.9M601.8 322.0h.9M601.8 334.7h.9M602.4 338.2h.9M602.1 333.2h.9M601.2 355.5h.9M601.7 354.2h.9M601.2 348.7h.9M601.0 347.7h.9M601.6 348.6h.9M601.8 334.7h.9M601.7 346.9h.9M602.6 344.9h.9M602.0 334.9h.9M601.2 327.4h.9M601.5 354.2h.9M601.4 360.6h.9M601.2 349.7h.9M601.6 331.8h.9M602.6 334.4h.9M602.1 334.9h.9M601.2 347.4h.9M602.1 350.5h.9M601.3 347.3h.9M601.3 337.5h.9M601.7 329.1h.9M601.6 345.1h.9M602.5 349.1h.9M602.3 340.9h.9M601.0 343.7h.9M601.6 354.5h.9M602.7 360.1h.9M601.1 345.4h.9M601.0 353.5h.9M601.3 349.2h.9M601.2 357.8h.9M602.3 339.2h.9M601.4 358.7h.9M601.3 360.6h.9M601.7 327.0h.9M601.3 359.6h.9M601.8 324.3h.9M602.3 346.1h.9M602.4 328.2h.9M602.3 363.3h.9M601.8 353.1h.9M602.0 339.5h.9M602.0 349.3h.9M602.6 344.2h.9M602.4 343.4h.9M602.0 356.8h.9M602.1 346.0h.9M602.6 328.8h.9M601.0 327.3h.9M601.0 355.0h.9M602.1 360.9h.9M601.0 362.3h.9M601.4 346.6h.9M601.9 331.6h.9M601.3 325.4h.9M601.5 356.0h.9M602.4 335.8h.9M601.8 342.5h.9M602.6 353.1h.9M601.3 357.1h.9M601.8 323.7h.9M602.3 349.1h.9M601.2 350.8h.9M601.8 324.7h.9M602.5 332.1h.9M601.8 346.8h.9M602.2 351.7h.9M602.7 341.8h.9M601.4 348.2h.9M601.8 351.4h.9M601.7 356.1h.9M601.8 357.9h.9M601.6 334.6h.9M601.3 346.1h.9M601.6 348.2h.9M601.7 346.8h.9M602.1 336.8h.9M602.1 327.5h.9M601.0 341.6h.9M601.6 343.7h.9M602.3 361.7h.9M601.4 342.8h.9M602.6 339.9h.9M602.5 338.1h.9M602.2 348.3h.9M602.2 350.3h.9M602.3 341.2h.9M602.6 362.5h.9M601.0 325.6h.9M602.7 322.2h.9M601.9 327.2h.9M602.5 336.1h.9M602.5 334.4h.9M601.8 331.9h.9M602.1 327.3h.9M602.0 340.8h.9M602.2 338.1h.9M601.3 333.7h.9M601.9 339.8h.9M602.2 338.7h.9M601.5 358.9h.9M601.3 322.9h.9M601.4 338.6h.9M601.8 354.2h.9M602.2 324.3h.9M601.8 326.8h.9M601.9 332.3h.9M601.0 344.2h.9M602.6 339.6h.9M601.5 345.5h.9M601.7 347.0h.9M601.4 360.0h.9M602.4 337.7h.9M602.5 341.9h.9M602.4 361.5h.9M601.8 363.4h.9M601.3 363.5h.9M602.0 346.6h.9M601.1 326.4h.9M601.0 361.7h.9M601.0 353.3h.9M601.1 322.1h.9M601.7 343.7h.9M601.2 352.5h.9M601.3 341.1h.9M601.0 348.3h.9M601.5 327.7h.9M602.3 343.6h.9M602.5 357.3h.9M602.6 346.4h.9M601.8 329.4h.9M602.0 361.6h.9M602.7 348.4h.9M601.7 354.9h.9M602.0 340.4h.9M601.5 337.6h.9M601.8 355.9h.9M601.8 327.3h.9" stroke="#008888" stroke-width="0.9" fill="none"/>
<line x1="602.3" y1="321.8" x2="602.3" y2="363.6" stroke="#008888" stroke-width="1.0" stroke-opacity="0.75"/>
<path d="M610.9 347.4h.9M611.2 358.7h.9M610.5 345.2h.9M610.7 343.4h.9M610.4 331.6h.9M610.5 350.6h.9M611.0 344.3h.9M610.4 353.0h.9M610.1 334.0h.9M609.9 359.5h.9M611.1 338.5h.9M609.9 354.7h.9M610.2 328.5h.9M610.6 349.2h.9M610.9 333.8h.9M611.3 325.4h.9M609.9 347.2h.9M610.1 348.8h.9M610.7 362.0h.9M610.4 341.8h.9M610.1 343.1h.9M610.4 336.5h.9M610.3 322.7h.9M610.2 343.9h.9M610.4 354.4h.9M611.2 346.0h.9M610.7 358.5h.9M611.2 344.3h.9M609.9 357.1h.9M610.5 357.3h.9M611.5 340.3h.9M611.2 362.7h.9M610.4 357.8h.9M610.6 357.7h.9M611.1 349.6h.9M610.4 360.0h.9M610.5 331.8h.9M610.5 337.6h.9M611.4 333.0h.9M610.1 348.0h.9M611.5 348.6h.9M610.8 336.8h.9M610.4 338.8h.9M610.3 337.8h.9M611.2 323.9h.9M611.1 331.0h.9M609.8 338.2h.9M611.6 338.4h.9M611.3 337.7h.9M611.4 346.4h.9M611.2 340.0h.9M611.0 338.4h.9M610.3 342.7h.9M611.1 356.9h.9M611.4 359.4h.9M611.0 338.2h.9M610.7 337.8h.9M610.8 332.2h.9M611.1 331.4h.9M610.4 340.2h.9M611.3 326.9h.9M611.3 341.9h.9M610.5 361.7h.9M610.4 334.5h.9M611.5 332.7h.9M610.2 333.1h.9M610.9 333.2h.9M610.9 344.2h.9M611.0 334.2h.9M611.3 332.8h.9M610.3 333.3h.9M610.3 362.8h.9M611.3 336.2h.9M610.1 336.0h.9M610.1 331.6h.9M610.2 362.3h.9M609.9 349.4h.9M611.3 331.1h.9M610.8 353.0h.9M610.5 322.5h.9M610.5 339.3h.9M611.3 341.3h.9M610.7 357.2h.9M609.9 325.3h.9M609.9 359.3h.9M611.6 363.3h.9M610.3 350.3h.9M610.0 333.6h.9M611.6 346.0h.9M610.9 345.5h.9M610.7 352.0h.9M611.5 360.4h.9M609.9 334.5h.9M611.0 337.2h.9M609.9 362.0h.9M611.5 354.5h.9M611.1 349.5h.9M610.5 349.2h.9M610.0 336.5h.9M610.9 324.8h.9M610.6 355.1h.9M611.3 346.9h.9M611.0 361.9h.9M610.5 359.8h.9M611.4 323.8h.9M610.4 356.2h.9M609.8 359.2h.9M610.2 330.3h.9M611.5 344.5h.9M611.2 361.9h.9M610.7 342.8h.9M611.5 336.5h.9M610.6 346.6h.9M611.5 324.5h.9M611.1 346.2h.9M610.9 324.3h.9M610.4 363.3h.9M611.2 348.1h.9M611.0 325.9h.9M611.4 355.4h.9M611.5 343.1h.9M609.8 346.5h.9M611.4 348.5h.9M609.9 346.2h.9M610.1 335.3h.9M610.0 359.6h.9M610.8 322.7h.9M611.2 360.0h.9M610.1 345.5h.9M610.2 344.8h.9M610.3 348.7h.9M610.0 343.2h.9M611.0 362.6h.9M610.2 345.7h.9M610.8 333.6h.9M610.0 335.8h.9M610.3 335.0h.9M610.5 347.8h.9M610.3 350.4h.9M611.0 355.1h.9M610.0 339.9h.9M611.1 333.7h.9M609.9 341.6h.9M610.7 363.0h.9M610.6 338.6h.9M610.0 338.6h.9M610.1 328.7h.9M610.5 330.9h.9M611.6 360.6h.9M611.1 357.0h.9M610.4 337.6h.9M611.1 342.1h.9M611.3 341.0h.9M610.4 337.7h.9M611.4 341.7h.9M610.9 337.3h.9M609.9 359.6h.9M610.5 333.9h.9M610.3 327.3h.9M610.9 326.1h.9M611.2 331.8h.9M609.8 326.3h.9M610.3 336.0h.9M611.4 337.7h.9M611.1 346.7h.9M610.3 356.3h.9M610.4 336.9h.9M610.1 340.6h.9M610.2 346.3h.9M609.9 323.3h.9M611.0 345.4h.9M611.0 337.0h.9M609.8 360.4h.9M610.8 340.1h.9M611.0 358.9h.9M611.2 360.1h.9M610.4 322.5h.9M610.8 340.8h.9M611.0 351.6h.9M611.5 347.0h.9M610.4 329.7h.9M610.3 339.6h.9M611.4 362.3h.9M611.1 359.4h.9M610.9 354.9h.9M611.4 358.7h.9M611.0 341.6h.9M611.0 355.2h.9M610.9 345.7h.9M611.3 324.2h.9" stroke="#0000b0" stroke-width="0.9" fill="none"/>
<line x1="611.1" y1="321.8" x2="611.1" y2="363.6" stroke="#0000b0" stroke-width="1.0" stroke-opacity="0.75"/>
<path d="M620.3 338.5h.9M620.2 342.7h.9M619.0 352.9h.9M618.7 328.6h.9M620.4 329.3h.9M618.7 337.9h.9M620.4 324.3h.9M620.3 334.5h.9M620.0 342.2h.9M619.9 345.3h.9M619.5 342.1h.9M619.1 331.6h.9M620.1 355.8h.9M620.2 353.9h.9M620.4 346.7h.9M620.1 361.6h.9M618.7 351.6h.9M619.1 329.0h.9M619.9 352.2h.9M618.8 339.6h.9M619.1 357.8h.9M619.3 343.0h.9M619.9 362.3h.9M620.4 335.6h.9M619.5 360.2h.9M619.8 327.8h.9M619.3 331.3h.9M619.0 361.7h.9M619.5 342.6h.9M619.5 335.6h.9M619.3 351.5h.9M620.4 341.3h.9M619.5 336.4h.9M619.8 331.3h.9M619.9 344.0h.9M619.6 329.0h.9M619.0 331.6h.9M620.1 344.4h.9M620.2 342.5h.9M619.4 352.4h.9M619.2 333.5h.9M620.2 328.1h.9M619.1 324.8h.9M619.4 336.9h.9M620.3 345.5h.9M620.3 331.4h.9M619.5 361.5h.9M618.7 322.6h.9M619.3 349.0h.9M619.5 326.2h.9M620.4 323.0h.9M619.8 345.9h.9M620.0 337.0h.9M620.3 337.6h.9M619.5 340.4h.9M620.1 328.0h.9M620.3 339.8h.9M620.3 355.7h.9M619.5 332.3h.9M620.2 343.3h.9M620.0 349.0h.9M619.3 345.5h.9M618.8 362.7h.9M619.2 342.6h.9M620.1 339.7h.9M620.0 343.4h.9M619.6 334.1h.9M620.1 344.3h.9M619.3 348.2h.9M620.2 336.0h.9M620.1 342.2h.9M620.2 338.6h.9M619.6 341.7h.9M620.4 334.8h.9M620.1 340.2h.9M618.9 356.5h.9M620.2 356.1h.9M618.9 352.9h.9M619.8 345.6h.9M618.9 343.8h.9M620.3 333.0h.9M619.3 357.4h.9M618.9 333.9h.9M620.3 329.9h.9M618.7 349.9h.9M619.5 347.2h.9M618.8 329.7h.9M619.8 362.4h.9M618.7 336.0h.9M620.2 332.9h.9M618.8 346.6h.9M620.3 343.6h.9M619.6 331.7h.9M619.1 324.2h.9M620.1 323.4h.9M619.4 353.7h.9M619.6 332.9h.9M619.9 324.8h.9M620.0 334.7h.9M620.1 345.0h.9M618.9 335.1h.9M619.0 341.5h.9M620.4 351.1h.9M620.1 362.7h.9M620.4 335.7h.9M620.0 336.1h.9M620.3 336.8h.9M620.3 327.7h.9M620.1 360.0h.9M620.0 355.2h.9M618.9 362.7h.9M619.7 335.9h.9M618.8 329.4h.9M619.5 357.0h.9M620.1 333.9h.9M620.4 343.8h.9M619.3 324.4h.9M619.5 333.6h.9M618.8 331.0h.9M620.2 332.2h.9M620.2 347.6h.9M619.1 345.1h.9M619.6 339.9h.9M619.5 345.6h.9M620.3 343.6h.9M618.7 329.5h.9M620.3 346.6h.9M618.7 353.0h.9M620.2 354.4h.9M620.4 363.2h.9M618.7 339.7h.9M618.8 322.7h.9M619.1 325.2h.9M619.2 339.4h.9M618.7 341.4h.9M620.2 346.8h.9M618.9 346.5h.9M618.7 342.6h.9M620.1 330.4h.9M618.8 322.1h.9M619.2 348.8h.9M619.2 344.3h.9M620.2 330.5h.9M620.1 325.8h.9M619.1 333.6h.9M619.4 342.7h.9M618.8 328.4h.9M619.4 339.8h.9M620.1 339.6h.9M620.3 332.4h.9M619.0 337.8h.9M620.2 338.3h.9M619.3 337.6h.9M618.7 341.0h.9M619.9 344.2h.9M619.3 360.0h.9M619.4 348.8h.9M619.2 345.6h.9M619.6 356.5h.9M619.0 353.6h.9M620.1 344.4h.9M619.4 329.5h.9M619.0 347.7h.9M620.0 339.5h.9M619.8 350.4h.9M619.0 352.7h.9M619.8 350.5h.9M619.3 349.4h.9M619.8 328.6h.9M619.6 349.1h.9M619.4 324.5h.9M619.8 346.0h.9M619.5 332.1h.9M619.0 326.3h.9M619.2 347.4h.9M620.0 335.9h.9M619.3 357.3h.9M619.9 357.7h.9M618.9 363.4h.9M619.4 342.2h.9M619.7 335.2h.9M618.7 332.5h.9M619.5 338.8h.9M620.4 362.7h.9M619.5 357.0h.9M619.0 333.7h.9M619.3 339.5h.9M619.1 331.4h.9M619.6 351.9h.9M619.2 344.9h.9" stroke="#ff8400" stroke-width="0.9" fill="none"/>
<line x1="620" y1="321.8" x2="620" y2="363.6" stroke="#ff8400" stroke-width="1.0" stroke-opacity="0.75"/>
<path d="M628.2 353.3h.9M628.3 354.6h.9M628.0 346.9h.9M627.6 354.3h.9M628.0 337.6h.9M628.1 354.0h.9M628.4 347.7h.9M628.1 341.1h.9M628.9 324.8h.9M627.9 340.0h.9M627.5 356.4h.9M628.4 334.6h.9M628.0 338.5h.9M627.9 344.3h.9M628.6 345.0h.9M628.9 324.8h.9M629.0 332.6h.9M628.5 336.0h.9M628.3 345.0h.9M629.1 342.8h.9M627.5 349.2h.9M628.9 324.5h.9M627.6 340.1h.9M629.1 327.8h.9M628.9 343.7h.9M628.5 351.7h.9M629.2 339.5h.9M628.4 332.1h.9M628.7 341.4h.9M627.6 336.5h.9M629.2 333.3h.9M628.1 341.7h.9M628.0 355.2h.9M628.2 346.6h.9M629.1 346.8h.9M629.1 336.4h.9M627.6 359.5h.9M628.1 341.0h.9M627.7 343.3h.9M628.7 324.2h.9M628.5 344.4h.9M628.7 336.1h.9M628.2 340.2h.9M629.1 326.3h.9M627.7 330.4h.9M628.2 361.3h.9M627.7 349.9h.9M628.3 342.4h.9M627.8 355.1h.9M628.4 338.6h.9M627.6 323.2h.9M628.2 331.1h.9M628.7 348.4h.9M628.0 351.3h.9M628.6 325.5h.9M629.2 363.5h.9M628.0 338.2h.9M628.3 329.9h.9M627.6 338.5h.9M628.9 324.5h.9M628.7 344.9h.9M628.6 344.0h.9M628.1 329.8h.9M628.2 326.1h.9M627.8 347.5h.9M628.1 358.5h.9M628.8 334.0h.9M629.2 333.3h.9M628.8 356.4h.9M628.2 342.5h.9M627.5 343.3h.9M629.3 349.8h.9M627.7 333.0h.9M628.2 331.2h.9M628.2 357.7h.9M627.6 336.9h.9M628.8 352.9h.9M628.8 333.7h.9M627.7 351.9h.9M629.2 343.9h.9M628.2 330.6h.9M627.5 352.2h.9M627.6 322.6h.9M628.4 335.4h.9M628.1 326.9h.9M627.9 351.3h.9M629.0 340.5h.9M627.6 353.0h.9M627.9 342.5h.9M627.9 347.4h.9M628.4 340.5h.9M628.7 345.7h.9M628.5 328.6h.9M628.9 345.1h.9M628.4 360.0h.9M629.2 344.6h.9M628.4 338.0h.9M628.3 348.0h.9M629.2 360.7h.9M627.8 331.8h.9M628.5 337.0h.9M629.3 361.0h.9M629.0 346.6h.9M628.5 329.5h.9M628.0 331.4h.9M628.5 326.0h.9M627.5 343.5h.9M629.2 361.3h.9M628.5 336.3h.9M629.0 355.0h.9M629.3 333.9h.9M628.8 324.6h.9M629.1 337.7h.9M628.9 344.0h.9M627.8 323.1h.9M627.7 343.4h.9M628.0 326.6h.9M628.0 355.3h.9M627.9 340.9h.9M628.3 339.4h.9M628.1 348.3h.9M628.1 345.3h.9M628.5 337.6h.9M629.2 337.4h.9M628.3 335.2h.9M627.7 348.5h.9M628.2 343.9h.9M627.8 350.5h.9M627.6 354.7h.9M628.2 335.9h.9M627.8 349.3h.9M629.0 335.9h.9M627.8 335.7h.9M628.7 328.1h.9M628.4 363.0h.9M627.7 349.3h.9M628.5 342.7h.9M629.2 334.3h.9M628.7 345.2h.9M628.4 347.1h.9M629.0 338.7h.9M628.3 323.4h.9M627.9 351.1h.9M628.7 347.2h.9M627.6 331.7h.9M627.8 340.5h.9M628.6 328.1h.9M628.9 350.1h.9M629.1 328.6h.9M629.1 343.7h.9M628.9 326.1h.9M628.3 339.1h.9M628.5 337.5h.9M629.2 327.6h.9M629.0 323.5h.9M629.1 343.2h.9M628.2 344.2h.9M628.0 348.4h.9M628.3 336.8h.9M627.6 330.9h.9M627.8 332.9h.9M628.4 332.3h.9M628.8 343.4h.9M627.6 343.2h.9M628.5 334.6h.9M628.5 359.3h.9M627.9 360.4h.9M628.0 358.9h.9M627.8 327.1h.9M627.7 343.3h.9M628.0 352.6h.9M628.6 347.0h.9M627.6 336.2h.9M629.0 345.8h.9M628.1 351.8h.9M628.1 356.4h.9M628.4 326.9h.9M628.6 324.8h.9M628.7 331.9h.9M629.0 363.0h.9M628.7 341.0h.9M627.9 351.9h.9M627.7 343.1h.9M629.1 331.7h.9M627.7 333.0h.9M628.2 346.1h.9M628.3 327.4h.9M628.9 347.2h.9M627.7 347.2h.9M628.9 341.6h.9" stroke="#8400ff" stroke-width="0.9" fill="none"/>
<line x1="628.9" y1="321.8" x2="628.9" y2="363.6" stroke="#8400ff" stroke-width="1.0" stroke-opacity="0.75"/>
<path d="M637.6 358.0h.9M636.7 329.3h.9M637.3 354.1h.9M636.5 355.8h.9M637.3 325.5h.9M637.4 357.2h.9M637.4 336.9h.9M637.4 335.9h.9M638.0 348.3h.9M637.2 326.0h.9M636.7 330.1h.9M638.1 334.5h.9M637.5 335.2h.9M636.4 332.8h.9M637.7 322.5h.9M637.8 354.4h.9M637.0 339.2h.9M637.2 327.3h.9M637.7 356.6h.9M637.6 334.1h.9M637.9 337.6h.9M637.8 329.0h.9M636.5 339.8h.9M638.0 354.6h.9M637.8 341.2h.9M637.3 347.6h.9M636.6 355.9h.9M637.7 333.1h.9M637.2 341.8h.9M637.2 329.3h.9M637.2 331.5h.9M636.9 360.3h.9M637.7 348.7h.9M638.1 336.7h.9M637.0 340.3h.9M637.8 323.4h.9M636.5 360.7h.9M637.0 322.9h.9M638.1 348.6h.9M636.6 354.2h.9M637.5 333.6h.9M636.8 327.1h.9M637.4 351.8h.9M637.9 332.5h.9M638.1 336.9h.9M637.4 333.9h.9M637.3 324.8h.9M637.9 347.0h.9M637.8 333.1h.9M638.0 334.2h.9M636.5 343.1h.9M638.0 347.3h.9M637.7 336.3h.9M637.7 340.3h.9M637.1 362.9h.9M637.9 335.1h.9M637.1 326.6h.9M637.6 330.3h.9M638.1 335.4h.9M636.8 344.3h.9M637.7 351.0h.9M637.8 359.0h.9M637.2 352.5h.9M636.8 339.4h.9M637.3 335.8h.9M637.4 359.7h.9M636.6 347.2h.9M637.6 335.5h.9M637.1 332.3h.9M637.2 330.5h.9M636.9 335.4h.9M636.7 359.9h.9M637.5 355.8h.9M637.7 338.0h.9M637.1 351.0h.9M636.8 331.2h.9M638.0 341.8h.9M637.6 348.1h.9M637.1 326.2h.9M638.1 353.7h.9M637.4 345.8h.9M637.8 342.9h.9M637.2 330.9h.9M637.5 342.2h.9M636.7 341.2h.9M637.7 325.5h.9M637.0 350.3h.9M636.8 338.6h.9M637.3 347.7h.9M637.5 345.0h.9M637.4 336.7h.9M638.0 353.8h.9M637.1 362.6h.9M638.1 339.0h.9M636.8 339.7h.9M637.5 337.7h.9M637.9 335.0h.9M637.4 334.3h.9M636.7 334.0h.9M637.7 348.6h.9M637.8 324.8h.9M637.5 334.4h.9M637.4 352.6h.9M636.8 343.7h.9M638.1 355.9h.9M636.7 342.2h.9M637.2 344.9h.9M637.9 326.8h.9M637.6 349.3h.9M637.4 341.1h.9M636.9 333.7h.9M637.9 342.0h.9M637.8 362.2h.9M636.6 344.6h.9M637.0 334.8h.9M637.0 339.6h.9M636.5 334.5h.9M638.0 363.0h.9M637.0 362.2h.9M637.1 354.0h.9M637.0 340.8h.9M637.9 340.9h.9M636.6 347.5h.9M636.4 344.7h.9M637.4 349.9h.9M636.8 359.5h.9M637.3 349.4h.9M636.6 345.8h.9M637.5 353.2h.9M637.9 358.8h.9M637.2 327.5h.9M637.8 335.9h.9M637.4 362.9h.9M637.6 358.8h.9M636.7 342.0h.9M637.5 337.5h.9M637.2 344.3h.9M637.7 337.7h.9M636.4 350.0h.9M637.5 351.6h.9M636.8 323.2h.9M636.6 340.9h.9M637.9 331.4h.9M637.1 355.5h.9M637.3 342.8h.9M637.2 345.8h.9M637.8 354.9h.9M637.4 334.1h.9M636.7 345.3h.9M636.8 342.8h.9M638.0 343.6h.9M638.1 342.3h.9M636.6 335.9h.9M637.6 353.2h.9M637.5 338.2h.9M636.4 353.2h.9M637.6 332.7h.9M638.0 344.4h.9M637.5 329.9h.9M637.9 326.6h.9M637.8 336.7h.9M638.0 341.8h.9M636.8 322.6h.9M637.0 334.9h.9M637.7 341.6h.9M636.9 344.5h.9M636.5 354.2h.9M637.5 334.2h.9M637.1 346.2h.9M636.5 329.7h.9M637.8 329.8h.9M638.0 351.6h.9M636.5 356.5h.9M637.8 325.0h.9M637.0 362.8h.9M638.0 327.3h.9M637.0 353.9h.9M637.1 348.2h.9M637.6 326.3h.9M637.0 351.6h.9M636.5 334.4h.9M638.1 338.7h.9M636.8 341.3h.9M636.9 346.2h.9M637.7 336.6h.9M637.2 336.6h.9M637.5 330.1h.9M637.2 340.4h.9M636.7 342.5h.9M637.4 338.3h.9" stroke="#ff0088" stroke-width="0.9" fill="none"/>
<line x1="637.7" y1="321.8" x2="637.7" y2="363.6" stroke="#ff0088" stroke-width="1.0" stroke-opacity="0.75"/>
<path d="M645.9 325.5h.9M646.3 354.9h.9M645.3 356.6h.9M646.2 332.7h.9M645.2 358.2h.9M645.3 339.8h.9M645.8 346.3h.9M645.9 335.6h.9M645.9 361.5h.9M646.3 342.2h.9M645.6 338.4h.9M645.4 340.8h.9M646.2 342.5h.9M646.1 363.1h.9M646.9 327.6h.9M645.4 336.0h.9M645.7 323.9h.9M646.1 333.2h.9M645.8 343.1h.9M646.0 336.7h.9M645.8 355.2h.9M646.7 329.2h.9M646.7 351.7h.9M645.4 342.9h.9M645.4 355.7h.9M646.3 338.5h.9M646.6 348.5h.9M646.2 334.2h.9M645.9 346.1h.9M645.8 329.2h.9M646.9 328.8h.9M647.0 363.2h.9M645.6 347.7h.9M645.8 348.9h.9M646.2 332.9h.9M645.7 334.4h.9M645.9 348.8h.9M646.1 359.1h.9M646.8 334.5h.9M646.2 340.8h.9M645.4 330.4h.9M646.3 335.6h.9M646.9 336.9h.9M645.2 355.5h.9M645.5 335.1h.9M646.4 361.6h.9M646.0 334.9h.9M645.3 344.1h.9M646.2 353.4h.9M645.2 340.0h.9M646.1 337.3h.9M646.3 345.5h.9M645.2 333.5h.9M646.1 343.5h.9M646.0 358.1h.9M645.3 335.9h.9M645.4 338.2h.9M645.9 334.8h.9M646.0 362.0h.9M646.6 339.3h.9M647.0 339.4h.9M645.9 336.8h.9M645.5 343.9h.9M646.7 333.5h.9M645.9 324.2h.9M645.2 335.6h.9M645.9 326.9h.9M645.9 327.7h.9M645.5 345.6h.9M646.1 333.6h.9M646.1 346.3h.9M645.9 332.6h.9M645.9 347.5h.9M645.2 343.4h.9M646.7 329.6h.9M645.4 354.0h.9M645.2 343.2h.9M645.9 348.1h.9M645.9 325.4h.9M646.4 345.4h.9M645.4 352.7h.9M646.4 330.4h.9M646.0 346.4h.9M646.2 345.4h.9M646.9 336.9h.9M645.7 345.3h.9M646.2 345.6h.9M646.6 348.5h.9M645.3 324.6h.9M646.6 347.8h.9M645.2 334.3h.9M646.6 360.9h.9M646.8 352.5h.9M646.5 338.3h.9M645.6 347.3h.9M645.4 362.9h.9M646.8 342.0h.9M646.3 334.9h.9M645.7 327.5h.9M645.8 333.7h.9M646.1 334.9h.9M645.5 342.4h.9M646.4 342.0h.9M645.4 357.8h.9M646.3 330.6h.9M646.3 356.4h.9M645.7 339.7h.9M645.3 363.0h.9M645.2 351.3h.9M645.5 348.6h.9M646.1 331.1h.9M646.8 354.0h.9M646.7 353.9h.9M646.8 329.2h.9M645.3 359.7h.9M645.8 342.6h.9M646.5 363.3h.9M645.5 355.0h.9M646.8 339.6h.9M645.3 327.2h.9M645.3 325.4h.9M645.8 344.2h.9M646.9 329.5h.9M645.9 354.2h.9M645.3 352.4h.9M645.9 351.3h.9M646.7 356.9h.9M646.3 335.8h.9M645.6 334.0h.9M645.8 330.5h.9M645.3 324.6h.9M646.3 339.2h.9M646.9 347.9h.9M646.1 339.8h.9M646.0 338.7h.9M646.8 334.8h.9M645.9 362.7h.9M646.9 335.9h.9M646.9 340.8h.9M646.0 355.6h.9M646.8 360.7h.9M645.7 349.6h.9M646.9 361.3h.9M646.9 358.6h.9M646.6 351.4h.9M646.5 347.8h.9M645.8 339.8h.9M646.3 344.5h.9M645.6 362.8h.9M645.8 328.4h.9M645.8 344.2h.9M646.4 346.4h.9M646.8 355.6h.9M645.3 339.4h.9M645.9 343.9h.9M645.5 344.2h.9M645.7 338.6h.9M646.9 348.1h.9M645.3 344.5h.9M646.8 361.0h.9M646.5 331.2h.9M646.9 344.7h.9M645.7 349.8h.9M646.5 333.6h.9M646.4 339.2h.9M646.8 346.2h.9M646.7 344.6h.9M645.8 356.5h.9M645.5 346.0h.9M645.2 327.5h.9M646.1 336.6h.9M645.9 346.0h.9M646.6 341.1h.9M646.6 338.4h.9M645.6 360.3h.9M646.6 352.6h.9M645.8 335.1h.9M646.9 343.2h.9M645.9 349.9h.9M646.9 356.3h.9M645.3 352.0h.9M646.6 362.3h.9M646.2 326.4h.9M646.5 350.3h.9M645.4 347.3h.9M646.2 337.7h.9M646.5 336.8h.9M645.8 346.4h.9M645.2 354.5h.9M645.4 358.4h.9" stroke="#f0c8f0" stroke-width="0.9" fill="none"/>
<line x1="646.5" y1="323.9" x2="646.5" y2="363.6" stroke="#f0c8f0" stroke-width="1.0" stroke-opacity="0.75"/>
<path d="M654.1 360.3h.9M654.3 328.6h.9M655.3 359.7h.9M654.4 353.7h.9M654.6 344.2h.9M655.0 336.0h.9M654.5 356.6h.9M655.5 352.3h.9M655.7 336.4h.9M654.6 360.4h.9M655.1 327.2h.9M655.6 339.1h.9M654.5 335.2h.9M655.5 345.9h.9M655.4 338.2h.9M655.5 326.5h.9M654.5 358.4h.9M655.1 333.3h.9M654.6 339.1h.9M655.6 343.3h.9M655.6 338.3h.9M654.7 348.6h.9M655.6 340.8h.9M655.2 344.2h.9M655.3 334.2h.9M655.1 334.9h.9M654.1 334.8h.9M654.4 336.8h.9M654.4 347.1h.9M654.7 331.1h.9M654.7 342.9h.9M654.5 341.5h.9M654.9 333.8h.9M655.3 345.1h.9M654.7 355.9h.9M654.7 342.7h.9M654.2 325.1h.9M654.6 342.1h.9M655.3 341.2h.9M655.8 340.7h.9M655.5 339.3h.9M655.5 347.5h.9M655.6 331.9h.9M654.5 349.1h.9M654.5 341.6h.9M654.8 341.4h.9M655.4 340.8h.9M654.8 337.2h.9M655.4 348.5h.9M654.3 344.8h.9M654.9 347.4h.9M654.7 327.3h.9M655.6 347.8h.9M655.0 338.4h.9M655.2 362.5h.9M654.3 340.4h.9M655.5 345.8h.9M655.6 336.3h.9M655.2 349.0h.9M655.7 339.4h.9M655.3 351.4h.9M655.6 347.6h.9M654.8 355.2h.9M654.9 334.3h.9M655.5 333.6h.9M654.2 351.0h.9M655.2 343.9h.9M654.6 334.0h.9M655.7 336.9h.9M655.1 351.8h.9M655.4 345.8h.9M655.1 336.1h.9M655.1 328.9h.9M655.7 354.0h.9M654.1 355.4h.9M655.8 348.3h.9M654.7 326.7h.9M654.3 332.7h.9M654.9 340.6h.9M654.2 353.8h.9M654.1 341.4h.9M654.1 346.5h.9M654.9 359.9h.9M654.8 347.1h.9M655.5 354.4h.9M655.3 325.2h.9M655.7 362.0h.9M655.4 338.8h.9M654.7 332.6h.9M655.4 329.8h.9M655.6 359.9h.9M654.7 354.4h.9M654.5 343.8h.9M655.0 355.3h.9M654.6 332.3h.9M655.6 362.5h.9M654.7 353.6h.9M654.1 325.9h.9M655.1 344.7h.9M654.9 325.0h.9M655.5 338.6h.9M655.6 345.5h.9M655.4 358.5h.9M655.1 362.1h.9M655.3 344.8h.9M654.5 358.0h.9M654.7 348.7h.9M655.5 345.4h.9M654.1 330.5h.9M655.8 347.6h.9M655.1 339.3h.9M655.8 332.9h.9M654.7 324.5h.9M654.1 349.1h.9M655.4 346.2h.9M655.7 346.0h.9M654.1 336.9h.9M654.6 359.6h.9M654.8 363.0h.9M654.5 354.7h.9M654.4 347.7h.9M654.2 339.0h.9M654.3 343.7h.9M655.0 326.8h.9M655.3 341.2h.9M654.9 351.5h.9M655.5 334.4h.9M655.5 325.3h.9M655.0 339.8h.9M655.5 354.7h.9M655.0 360.2h.9M655.0 347.1h.9M654.6 345.4h.9M654.5 339.6h.9M654.3 345.1h.9M655.3 359.6h.9M655.8 332.5h.9M655.6 344.8h.9M654.2 359.4h.9M654.9 332.6h.9M655.6 344.1h.9M655.6 347.7h.9M654.2 341.8h.9M654.3 347.5h.9M654.2 327.8h.9M654.8 360.1h.9M655.1 333.8h.9M654.9 362.0h.9M655.6 328.0h.9M654.5 335.5h.9M655.0 344.7h.9M654.7 335.5h.9M654.5 360.3h.9M654.8 328.0h.9M655.7 335.7h.9M654.6 326.6h.9M655.4 351.5h.9M654.8 328.7h.9M655.0 338.1h.9M654.6 324.7h.9M654.6 331.7h.9M655.2 351.0h.9M654.9 338.4h.9M655.8 335.1h.9M655.5 329.2h.9M655.3 360.9h.9M654.6 352.3h.9M655.1 349.0h.9M654.2 341.6h.9M655.4 335.2h.9M655.0 333.0h.9M654.6 328.2h.9M654.1 350.6h.9M655.1 357.5h.9M654.4 339.3h.9M655.1 349.6h.9M654.4 332.7h.9M655.0 342.5h.9M654.8 360.8h.9M655.0 338.0h.9M655.0 349.9h.9M655.8 342.8h.9M654.9 330.8h.9M655.0 353.2h.9M655.1 327.3h.9M655.6 334.6h.9M655.6 334.4h.9M655.1 343.5h.9M655.5 344.2h.9M654.5 328.7h.9" stroke="#cccccc" stroke-width="0.9" fill="none"/>
<line x1="655.4" y1="323.9" x2="655.4" y2="363.6" stroke="#cccccc" stroke-width="1.0" stroke-opacity="0.75"/>
<path d="M664.0 331.9h.9M664.0 351.7h.9M663.8 336.9h.9M663.6 331.3h.9M663.5 345.0h.9M663.1 332.7h.9M664.7 353.2h.9M664.7 328.7h.9M664.4 358.4h.9M663.7 337.3h.9M663.1 353.9h.9M663.3 334.1h.9M664.2 344.1h.9M663.2 349.3h.9M663.3 355.8h.9M664.6 348.4h.9M663.9 360.3h.9M664.2 338.5h.9M664.4 338.8h.9M663.9 362.5h.9M663.6 342.7h.9M663.8 344.9h.9M663.4 337.3h.9M664.4 342.9h.9M664.2 363.4h.9M664.7 349.0h.9M664.1 347.9h.9M663.3 362.9h.9M664.6 327.4h.9M663.4 346.4h.9M664.5 347.1h.9M663.7 348.1h.9M663.0 332.6h.9M663.1 327.7h.9M662.9 359.0h.9M663.3 343.7h.9M664.5 333.8h.9M663.5 352.3h.9M664.1 333.2h.9M663.3 327.0h.9M663.4 347.8h.9M663.2 326.5h.9M663.2 337.7h.9M663.6 345.3h.9M663.9 355.1h.9M663.4 338.9h.9M663.0 342.1h.9M664.3 342.9h.9M664.3 333.5h.9M664.2 333.0h.9M663.1 341.7h.9M664.4 347.4h.9M663.1 336.2h.9M663.1 343.2h.9M663.5 347.6h.9M664.1 334.0h.9M664.7 346.1h.9M664.0 360.0h.9M663.9 341.8h.9M664.1 342.0h.9M663.6 340.4h.9M664.6 337.2h.9M663.6 345.1h.9M663.1 343.3h.9M663.7 359.9h.9M663.8 328.1h.9M664.5 359.5h.9M663.2 336.6h.9M663.1 338.3h.9M664.0 350.5h.9M663.8 324.0h.9M663.5 338.0h.9M663.1 335.3h.9M663.0 335.9h.9M663.6 359.2h.9M662.9 336.0h.9M664.6 339.5h.9M664.5 334.1h.9M663.6 351.0h.9M663.0 360.8h.9M663.3 354.0h.9M664.4 335.8h.9M664.2 361.4h.9M663.1 356.3h.9M663.6 327.3h.9M664.4 324.1h.9M664.1 328.4h.9M663.5 328.4h.9M664.3 363.5h.9M663.4 327.3h.9M664.3 362.7h.9M663.7 332.5h.9M663.6 342.5h.9M663.4 353.2h.9M664.6 333.0h.9M664.1 344.5h.9M664.0 360.6h.9M663.5 342.9h.9M664.4 355.3h.9M663.7 330.6h.9M663.9 335.7h.9M664.6 336.6h.9M663.2 353.6h.9M663.7 340.4h.9M664.4 348.2h.9M663.8 343.0h.9M663.5 346.7h.9M663.6 344.1h.9M663.3 344.1h.9M663.9 346.5h.9M664.2 334.1h.9M664.5 347.0h.9M663.4 325.1h.9M664.3 336.3h.9M663.4 326.4h.9M664.5 361.3h.9M663.1 325.8h.9M664.3 332.5h.9M664.0 333.0h.9M664.0 346.7h.9M664.6 349.1h.9M663.0 352.5h.9M663.3 358.6h.9M663.7 341.3h.9M664.3 328.5h.9M664.2 339.3h.9M664.7 340.3h.9M664.5 356.0h.9M663.6 350.3h.9M663.4 325.8h.9M663.4 334.7h.9M663.0 346.8h.9M663.7 334.0h.9M663.4 352.0h.9M663.0 336.6h.9M663.3 330.5h.9M663.0 349.0h.9M664.3 337.2h.9M663.4 357.8h.9M664.5 357.7h.9M663.9 336.5h.9M663.9 343.8h.9M663.1 334.0h.9M663.4 357.0h.9M663.2 334.8h.9M663.2 347.4h.9M664.3 324.5h.9M664.6 346.8h.9M663.9 333.1h.9M663.0 336.1h.9M664.2 338.6h.9M663.5 324.0h.9M664.5 324.5h.9M663.1 348.1h.9M663.6 329.0h.9M663.9 340.2h.9M662.9 342.5h.9M664.2 332.7h.9M663.3 350.4h.9M663.6 344.1h.9M663.7 337.7h.9M664.1 346.2h.9M664.4 330.4h.9M663.9 346.5h.9M663.9 337.2h.9M664.3 329.1h.9M663.4 335.5h.9M662.9 356.4h.9M664.7 325.0h.9M664.1 329.2h.9M664.4 354.9h.9M663.3 334.5h.9M663.9 355.8h.9M664.3 347.1h.9M664.1 353.9h.9M663.0 348.1h.9M663.7 353.2h.9M664.5 350.4h.9M663.2 345.0h.9M664.1 346.8h.9M664.4 340.2h.9M664.1 348.8h.9M663.9 345.5h.9M664.0 342.2h.9M663.5 334.4h.9M663.9 357.8h.9M663.7 361.6h.9M664.4 335.9h.9M663.5 341.4h.9M663.2 354.9h.9" stroke="#808080" stroke-width="0.9" fill="none"/>
<line x1="664.2" y1="323.9" x2="664.2" y2="363.6" stroke="#808080" stroke-width="1.0" stroke-opacity="0.75"/>
<rect x="492.8" y="280.0" width="6.6" height="20.2" fill="none" stroke="#2a2a2a" stroke-width="0.7"/>
<line x1="492.8" y1="291.1" x2="499.4" y2="291.1" stroke="#2a2a2a" stroke-width="0.7"/>
<rect x="501.7" y="311.3" width="6.6" height="23.7" fill="none" stroke="#2a2a2a" stroke-width="0.7"/>
<line x1="501.7" y1="323.2" x2="508.3" y2="323.2" stroke="#2a2a2a" stroke-width="0.7"/>
<rect x="510.5" y="321.8" width="6.6" height="20.9" fill="none" stroke="#2a2a2a" stroke-width="0.7"/>
<line x1="510.5" y1="332.2" x2="517.1" y2="332.2" stroke="#2a2a2a" stroke-width="0.7"/>
<rect x="519.4" y="326.0" width="6.6" height="19.5" fill="none" stroke="#2a2a2a" stroke-width="0.7"/>
<line x1="519.4" y1="336.4" x2="525.9" y2="336.4" stroke="#2a2a2a" stroke-width="0.7"/>
<rect x="528.2" y="328.1" width="6.6" height="18.8" fill="none" stroke="#2a2a2a" stroke-width="0.7"/>
<line x1="528.2" y1="338.5" x2="534.8" y2="338.5" stroke="#2a2a2a" stroke-width="0.7"/>
<rect x="537.1" y="329.4" width="6.6" height="18.1" fill="none" stroke="#2a2a2a" stroke-width="0.7"/>
<line x1="537.1" y1="339.2" x2="543.6" y2="339.2" stroke="#2a2a2a" stroke-width="0.7"/>
<rect x="545.9" y="330.1" width="6.6" height="18.1" fill="none" stroke="#2a2a2a" stroke-width="0.7"/>
<line x1="545.9" y1="339.9" x2="552.5" y2="339.9" stroke="#2a2a2a" stroke-width="0.7"/>
<rect x="554.8" y="330.8" width="6.6" height="18.1" fill="none" stroke="#2a2a2a" stroke-width="0.7"/>
<line x1="554.8" y1="340.3" x2="561.4" y2="340.3" stroke="#2a2a2a" stroke-width="0.7"/>
<rect x="563.6" y="331.5" width="6.6" height="18.1" fill="none" stroke="#2a2a2a" stroke-width="0.7"/>
<line x1="563.6" y1="340.6" x2="570.2" y2="340.6" stroke="#2a2a2a" stroke-width="0.7"/>
<rect x="572.5" y="332.2" width="6.6" height="17.1" fill="none" stroke="#2a2a2a" stroke-width="0.7"/>
<line x1="572.5" y1="340.9" x2="579" y2="340.9" stroke="#2a2a2a" stroke-width="0.7"/>
<rect x="581.3" y="332.2" width="6.6" height="17.1" fill="none" stroke="#2a2a2a" stroke-width="0.7"/>
<line x1="581.3" y1="340.9" x2="587.9" y2="340.9" stroke="#2a2a2a" stroke-width="0.7"/>
<rect x="590.2" y="332.2" width="6.6" height="17.1" fill="none" stroke="#2a2a2a" stroke-width="0.7"/>
<line x1="590.2" y1="340.9" x2="596.8" y2="340.9" stroke="#2a2a2a" stroke-width="0.7"/>
<rect x="599.0" y="332.2" width="6.6" height="17.1" fill="none" stroke="#2a2a2a" stroke-width="0.7"/>
<line x1="599" y1="340.9" x2="605.6" y2="340.9" stroke="#2a2a2a" stroke-width="0.7"/>
<rect x="607.9" y="332.2" width="6.6" height="17.1" fill="none" stroke="#2a2a2a" stroke-width="0.7"/>
<line x1="607.9" y1="340.9" x2="614.4" y2="340.9" stroke="#2a2a2a" stroke-width="0.7"/>
<rect x="616.7" y="332.2" width="6.6" height="17.1" fill="none" stroke="#2a2a2a" stroke-width="0.7"/>
<line x1="616.7" y1="340.9" x2="623.3" y2="340.9" stroke="#2a2a2a" stroke-width="0.7"/>
<rect x="625.6" y="332.2" width="6.6" height="17.1" fill="none" stroke="#2a2a2a" stroke-width="0.7"/>
<line x1="625.6" y1="340.9" x2="632.1" y2="340.9" stroke="#2a2a2a" stroke-width="0.7"/>
<rect x="634.4" y="332.2" width="6.6" height="17.1" fill="none" stroke="#2a2a2a" stroke-width="0.7"/>
<line x1="634.4" y1="340.9" x2="641" y2="340.9" stroke="#2a2a2a" stroke-width="0.7"/>
<rect x="643.2" y="332.2" width="6.6" height="17.1" fill="none" stroke="#2a2a2a" stroke-width="0.7"/>
<line x1="643.2" y1="340.9" x2="649.8" y2="340.9" stroke="#2a2a2a" stroke-width="0.7"/>
<rect x="652.1" y="332.2" width="6.6" height="17.1" fill="none" stroke="#2a2a2a" stroke-width="0.7"/>
<line x1="652.1" y1="340.9" x2="658.7" y2="340.9" stroke="#2a2a2a" stroke-width="0.7"/>
<rect x="661.0" y="332.2" width="6.6" height="17.1" fill="none" stroke="#2a2a2a" stroke-width="0.7"/>
<line x1="661" y1="340.9" x2="667.5" y2="340.9" stroke="#2a2a2a" stroke-width="0.7"/>
<path d="M496.1,290.4 C497.6,295.9 502.0,316.2 505.0,323.2 C507.9,330.1 510.9,330.0 513.8,332.2 C516.8,334.4 519.7,335.4 522.6,336.4 C525.6,337.5 528.5,338.0 531.5,338.5 C534.5,339.0 537.4,339.0 540.4,339.2 C543.3,339.4 546.2,339.6 549.2,339.8 C552.2,339.9 555.1,340.1 558.1,340.2 C561.0,340.3 564.0,340.4 566.9,340.5 C569.8,340.5 572.8,340.6 575.8,340.6 C578.7,340.6 581.6,340.7 584.6,340.7 C587.6,340.8 590.5,340.7 593.5,340.7 C596.4,340.8 599.3,340.9 602.3,340.9 C605.2,340.9 608.2,340.9 611.1,340.9 C614.1,340.9 617.0,341.0 620.0,341.0 C623.0,341.1 625.9,341.1 628.9,341.2 C631.8,341.2 634.8,341.3 637.7,341.3 C640.7,341.3 643.6,341.4 646.5,341.4 C649.5,341.5 652.4,341.5 655.4,341.6 C658.4,341.6 662.8,341.7 664.2,341.7" fill="none" stroke="#111" stroke-width="1.3"/>
<line x1="491.7" y1="259.4" x2="491.7" y2="371" stroke="#222" stroke-width="1"/>
<line x1="491.7" y1="371" x2="668.4" y2="371" stroke="#222" stroke-width="1"/>
<line x1="487.8" y1="364.3" x2="491.7" y2="364.3" stroke="#222" stroke-width="0.9"/>
<text x="485.8" y="367" font-size="7.6" fill="#222" text-anchor="end">1</text>
<line x1="487.8" y1="350.4" x2="491.7" y2="350.4" stroke="#222" stroke-width="0.9"/>
<text x="485.8" y="353.1" font-size="7.6" fill="#222" text-anchor="end">2</text>
<line x1="487.8" y1="336.4" x2="491.7" y2="336.4" stroke="#222" stroke-width="0.9"/>
<text x="485.8" y="339.1" font-size="7.6" fill="#222" text-anchor="end">3</text>
<line x1="487.8" y1="322.5" x2="491.7" y2="322.5" stroke="#222" stroke-width="0.9"/>
<text x="485.8" y="325.2" font-size="7.6" fill="#222" text-anchor="end">4</text>
<line x1="487.8" y1="308.5" x2="491.7" y2="308.5" stroke="#222" stroke-width="0.9"/>
<text x="485.8" y="311.2" font-size="7.6" fill="#222" text-anchor="end">5</text>
<line x1="487.8" y1="294.6" x2="491.7" y2="294.6" stroke="#222" stroke-width="0.9"/>
<text x="485.8" y="297.3" font-size="7.6" fill="#222" text-anchor="end">6</text>
<line x1="487.8" y1="280.7" x2="491.7" y2="280.7" stroke="#222" stroke-width="0.9"/>
<text x="485.8" y="283.4" font-size="7.6" fill="#222" text-anchor="end">7</text>
<line x1="487.8" y1="266.7" x2="491.7" y2="266.7" stroke="#222" stroke-width="0.9"/>
<text x="485.8" y="269.4" font-size="7.6" fill="#222" text-anchor="end">8</text>
<line x1="505" y1="371" x2="505" y2="374.6" stroke="#222" stroke-width="0.9"/>
<line x1="522.6" y1="371" x2="522.6" y2="374.6" stroke="#222" stroke-width="0.9"/>
<line x1="540.4" y1="371" x2="540.4" y2="374.6" stroke="#222" stroke-width="0.9"/>
<line x1="558.1" y1="371" x2="558.1" y2="374.6" stroke="#222" stroke-width="0.9"/>
<line x1="575.8" y1="371" x2="575.8" y2="374.6" stroke="#222" stroke-width="0.9"/>
<line x1="593.5" y1="371" x2="593.5" y2="374.6" stroke="#222" stroke-width="0.9"/>
<line x1="611.1" y1="371" x2="611.1" y2="374.6" stroke="#222" stroke-width="0.9"/>
<line x1="628.9" y1="371" x2="628.9" y2="374.6" stroke="#222" stroke-width="0.9"/>
<line x1="646.5" y1="371" x2="646.5" y2="374.6" stroke="#222" stroke-width="0.9"/>
<line x1="664.2" y1="371" x2="664.2" y2="374.6" stroke="#222" stroke-width="0.9"/>
<text x="515.9" y="277.4" font-size="10.8" fill="#f29a1a" font-weight="bold">TNF (nM)</text>
<text font-size="9.3" fill="#111" text-anchor="middle" transform="translate(461,317.8) rotate(-90)">Optimal molecule</text>
<text font-size="9.3" fill="#111" text-anchor="middle" transform="translate(471.9,317.4) rotate(-90)">of RIP3 (n)</text>
<rect x="492.8" y="452.6" width="6.6" height="16.7" fill="#d4d4d4" fill-opacity="0.4"/>
<rect x="501.7" y="453.3" width="6.6" height="17.4" fill="#d4d4d4" fill-opacity="0.4"/>
<rect x="510.5" y="453.3" width="6.6" height="16.7" fill="#d4d4d4" fill-opacity="0.4"/>
<rect x="519.4" y="452.6" width="6.6" height="16.0" fill="#d4d4d4" fill-opacity="0.4"/>
<rect x="528.2" y="449.8" width="6.6" height="16.7" fill="#d4d4d4" fill-opacity="0.4"/>
<rect x="537.1" y="448.4" width="6.6" height="15.3" fill="#d4d4d4" fill-opacity="0.4"/>
<rect x="545.9" y="445.6" width="6.6" height="16.0" fill="#d4d4d4" fill-opacity="0.4"/>
<rect x="554.8" y="441.5" width="6.6" height="17.4" fill="#d4d4d4" fill-opacity="0.4"/>
<rect x="563.6" y="437.3" width="6.6" height="17.4" fill="#d4d4d4" fill-opacity="0.4"/>
<rect x="572.5" y="432.4" width="6.6" height="19.5" fill="#d4d4d4" fill-opacity="0.4"/>
<rect x="581.3" y="427.6" width="6.6" height="20.2" fill="#d4d4d4" fill-opacity="0.4"/>
<rect x="590.2" y="423.4" width="6.6" height="22.2" fill="#d4d4d4" fill-opacity="0.4"/>
<rect x="599.0" y="419.9" width="6.6" height="22.9" fill="#d4d4d4" fill-opacity="0.4"/>
<rect x="607.9" y="415.1" width="6.6" height="24.3" fill="#d4d4d4" fill-opacity="0.4"/>
<rect x="616.7" y="412.3" width="6.6" height="26.0" fill="#d4d4d4" fill-opacity="0.4"/>
<rect x="625.6" y="409.5" width="6.6" height="26.4" fill="#d4d4d4" fill-opacity="0.4"/>
<rect x="634.4" y="406.5" width="6.6" height="28.1" fill="#d4d4d4" fill-opacity="0.4"/>
<rect x="643.2" y="404.2" width="6.6" height="29.7" fill="#d4d4d4" fill-opacity="0.4"/>
<rect x="652.1" y="403.0" width="6.6" height="29.5" fill="#d4d4d4" fill-opacity="0.4"/>
<rect x="661.0" y="400.8" width="6.6" height="30.6" fill="#d4d4d4" fill-opacity="0.4"/>
<path d="M495.6 449.4h.9M495.5 460.6h.9M495.3 469.3h.9M496.1 454.0h.9M494.9 461.8h.9M496.2 472.7h.9M494.8 472.5h.9M495.7 447.5h.9M495.9 447.5h.9M494.8 457.8h.9M496.3 443.7h.9M494.9 458.5h.9M495.3 466.1h.9M495.9 454.6h.9M495.5 462.2h.9M494.8 472.1h.9M495.8 457.7h.9M494.9 460.3h.9M496.5 473.7h.9M495.7 476.5h.9M495.3 470.2h.9M496.4 464.4h.9M496.3 444.1h.9M495.7 454.1h.9M496.5 473.0h.9M496.1 470.1h.9M496.0 457.2h.9M496.2 466.6h.9M495.4 478.9h.9M496.3 466.3h.9M495.6 454.5h.9M495.6 456.7h.9M496.5 459.4h.9M496.2 448.7h.9M496.5 453.7h.9M496.0 474.3h.9M496.3 466.1h.9M496.1 479.8h.9M495.4 453.0h.9M496.5 466.6h.9M496.1 456.2h.9M496.5 454.3h.9M496.3 461.3h.9M496.1 438.5h.9M494.9 473.3h.9M495.4 447.2h.9M495.5 456.2h.9M495.3 455.4h.9M496.4 453.0h.9M494.9 465.7h.9M496.3 466.9h.9M496.5 463.8h.9M494.8 437.4h.9M494.9 449.9h.9M495.4 460.3h.9M494.9 464.1h.9M496.5 465.8h.9M494.9 454.5h.9M495.9 469.3h.9M494.9 459.3h.9M494.9 460.7h.9M495.7 447.3h.9M495.2 461.9h.9M494.8 446.8h.9M496.5 474.9h.9M496.3 469.2h.9M496.5 456.2h.9M496.3 468.5h.9M495.9 461.6h.9M495.1 457.6h.9M495.8 475.4h.9M495.1 441.9h.9M494.8 440.0h.9M494.8 446.1h.9M495.2 442.8h.9M495.8 457.1h.9M495.4 461.1h.9M495.7 437.5h.9M496.0 463.3h.9M495.2 445.2h.9M495.2 457.7h.9M495.9 464.8h.9M496.2 437.5h.9M495.2 479.2h.9M495.1 458.5h.9M496.1 452.8h.9M496.2 439.5h.9M495.0 457.2h.9M496.2 463.9h.9M494.9 453.4h.9M496.5 475.3h.9M495.5 474.9h.9M495.5 469.3h.9M495.9 442.9h.9M495.0 458.2h.9M496.4 465.4h.9M495.2 469.0h.9M495.4 461.3h.9M494.8 469.9h.9M495.1 455.3h.9M495.0 461.2h.9M495.8 480.2h.9M494.8 459.8h.9M495.4 448.0h.9M496.0 440.0h.9M495.9 456.5h.9M495.2 463.4h.9M495.7 455.8h.9M495.0 465.8h.9M496.0 460.3h.9M494.9 472.2h.9M494.9 466.1h.9M494.8 466.7h.9M495.0 441.2h.9M496.2 445.8h.9M495.3 455.7h.9M495.6 447.5h.9M495.7 477.1h.9M496.4 457.7h.9M496.1 468.3h.9M496.4 456.0h.9M495.3 442.0h.9M495.1 442.9h.9M495.1 477.6h.9M496.4 461.5h.9M495.2 465.2h.9M495.9 451.3h.9M495.2 470.1h.9M495.1 439.9h.9M495.9 448.5h.9M495.0 479.0h.9M496.2 452.9h.9M495.7 444.2h.9M495.7 471.9h.9M495.1 460.4h.9M495.6 458.6h.9M494.8 468.3h.9M496.4 474.8h.9M496.3 456.4h.9M495.7 466.7h.9M496.1 461.1h.9M495.4 478.9h.9M494.8 456.2h.9M495.3 454.0h.9M495.6 457.5h.9M495.4 441.9h.9M496.1 449.6h.9M495.6 461.0h.9M496.4 447.3h.9M495.7 464.9h.9M495.9 449.9h.9M495.4 449.8h.9M495.3 464.8h.9M495.9 456.7h.9M495.3 459.4h.9M494.8 456.9h.9M496.3 466.2h.9M495.6 466.5h.9M496.0 467.1h.9M494.8 437.9h.9M495.7 469.0h.9M495.4 440.5h.9M494.9 456.8h.9M495.7 466.3h.9M495.8 479.0h.9M495.0 452.7h.9M496.1 446.4h.9M495.4 467.3h.9M495.0 457.9h.9M495.9 469.5h.9M496.4 478.0h.9M495.4 471.4h.9M496.1 463.2h.9M495.2 456.1h.9M495.8 449.6h.9M495.9 439.2h.9M496.3 467.6h.9M495.7 442.8h.9M495.9 460.9h.9M496.5 462.2h.9M495.7 449.4h.9M494.8 455.0h.9M494.8 479.1h.9M494.8 473.6h.9M495.7 460.0h.9M495.6 454.4h.9M495.5 468.8h.9M494.9 472.6h.9M496.3 479.2h.9M496.3 455.6h.9" stroke="#000000" stroke-width="0.9" fill="none"/>
<line x1="496.1" y1="437.3" x2="496.1" y2="480.4" stroke="#000000" stroke-width="1.0" stroke-opacity="0.75"/>
<path d="M505.1 478.9h.9M504.3 480.1h.9M504.3 466.8h.9M504.6 468.6h.9M504.5 464.0h.9M503.7 457.9h.9M504.0 457.8h.9M503.6 467.9h.9M504.0 455.0h.9M504.0 452.0h.9M504.2 469.8h.9M504.0 460.6h.9M504.9 465.6h.9M503.8 445.1h.9M504.1 462.5h.9M505.1 471.5h.9M504.1 459.9h.9M505.2 462.4h.9M504.3 480.2h.9M505.1 469.4h.9M503.8 443.4h.9M505.2 458.0h.9M503.8 468.8h.9M504.8 469.5h.9M503.8 467.6h.9M504.9 467.4h.9M505.0 461.6h.9M504.1 456.9h.9M505.3 452.3h.9M503.8 466.8h.9M505.4 472.7h.9M504.7 476.5h.9M503.7 466.6h.9M503.7 467.3h.9M504.9 469.1h.9M503.9 453.6h.9M504.7 455.4h.9M503.6 450.9h.9M504.4 468.2h.9M504.6 462.3h.9M504.0 463.2h.9M505.2 467.8h.9M504.9 442.6h.9M504.7 473.8h.9M504.8 457.6h.9M504.5 462.1h.9M504.2 468.4h.9M505.3 445.3h.9M504.4 461.5h.9M505.0 472.5h.9M504.4 460.4h.9M503.7 469.2h.9M503.7 457.8h.9M505.1 458.5h.9M505.2 467.4h.9M505.0 463.8h.9M503.6 460.0h.9M503.9 457.5h.9M504.8 455.0h.9M504.8 446.9h.9M505.2 457.1h.9M505.2 465.5h.9M504.8 455.3h.9M505.3 456.9h.9M505.4 444.4h.9M505.3 473.0h.9M504.2 454.1h.9M505.2 443.4h.9M504.4 454.2h.9M504.5 466.6h.9M504.5 443.2h.9M505.4 468.0h.9M504.0 453.5h.9M504.5 458.7h.9M503.8 449.4h.9M504.9 467.4h.9M505.3 462.9h.9M503.9 446.6h.9M504.2 461.9h.9M504.5 460.2h.9M504.6 468.5h.9M505.0 467.4h.9M504.5 445.9h.9M504.0 452.4h.9M503.9 458.4h.9M504.2 476.8h.9M503.8 462.0h.9M505.1 444.8h.9M504.9 466.6h.9M504.2 476.6h.9M503.9 444.8h.9M503.6 469.3h.9M503.9 463.6h.9M505.1 447.6h.9M505.1 460.5h.9M504.8 462.2h.9M505.1 455.9h.9M504.0 467.9h.9M504.6 457.0h.9M503.6 458.6h.9M504.6 458.7h.9M504.5 470.2h.9M504.2 452.3h.9M503.8 458.1h.9M503.6 464.7h.9M504.5 466.2h.9M505.2 477.1h.9M504.7 449.0h.9M504.9 461.6h.9M503.9 458.5h.9M504.0 446.4h.9M504.5 457.2h.9M505.3 466.9h.9M504.9 465.9h.9M505.2 455.2h.9M503.7 457.8h.9M504.1 447.0h.9M504.6 453.5h.9M504.8 455.8h.9M504.7 474.4h.9M505.1 455.3h.9M504.7 474.2h.9M504.0 465.5h.9M504.8 470.6h.9M504.8 456.3h.9M503.6 442.7h.9M504.0 463.8h.9M503.7 462.7h.9M504.6 465.8h.9M504.2 457.7h.9M504.2 469.2h.9M504.7 460.2h.9M503.9 465.2h.9M505.2 455.9h.9M505.2 448.1h.9M503.8 467.2h.9M504.7 442.5h.9M504.5 458.6h.9M505.2 449.8h.9M503.8 471.5h.9M504.2 451.8h.9M505.3 476.8h.9M504.0 457.9h.9M503.7 476.1h.9M504.5 465.0h.9M504.4 472.3h.9M505.3 444.5h.9M504.0 475.5h.9M505.0 454.8h.9M504.7 458.2h.9M504.4 455.7h.9M503.9 478.5h.9M505.1 457.7h.9M504.9 459.2h.9M504.9 459.6h.9M505.2 456.4h.9M505.1 456.3h.9M503.8 467.3h.9M504.9 477.9h.9M505.1 461.0h.9M505.2 460.8h.9M505.1 456.7h.9M505.1 475.6h.9M504.2 464.4h.9M503.7 463.4h.9M504.6 480.1h.9M505.1 461.5h.9M504.5 443.5h.9M503.9 457.3h.9M504.3 455.9h.9M505.2 463.4h.9M504.4 462.4h.9M504.0 467.9h.9M504.5 452.1h.9M504.4 461.2h.9M503.6 443.0h.9M503.7 469.4h.9M504.9 452.8h.9M505.2 455.8h.9M505.0 469.8h.9M505.2 462.5h.9M503.8 448.1h.9M504.5 458.1h.9M503.7 457.0h.9M503.9 463.1h.9M504.3 445.7h.9M504.3 465.4h.9M503.9 480.0h.9M503.9 457.7h.9M503.7 445.0h.9" stroke="#ff0000" stroke-width="0.9" fill="none"/>
<line x1="505" y1="442.2" x2="505" y2="480.4" stroke="#ff0000" stroke-width="1.0" stroke-opacity="0.75"/>
<path d="M514.2 469.9h.9M513.3 460.8h.9M513.4 464.4h.9M514.1 465.0h.9M514.2 469.1h.9M513.8 462.3h.9M513.7 455.8h.9M513.9 470.9h.9M513.1 480.3h.9M513.6 461.1h.9M512.8 480.1h.9M513.8 475.9h.9M513.3 472.1h.9M513.0 457.0h.9M513.5 468.4h.9M514.2 459.9h.9M512.6 455.4h.9M513.7 450.6h.9M513.2 464.2h.9M513.3 478.1h.9M513.2 454.6h.9M513.4 463.7h.9M513.0 466.9h.9M514.1 468.8h.9M513.7 468.4h.9M512.6 460.2h.9M513.8 446.6h.9M512.5 457.9h.9M513.2 447.9h.9M512.5 461.2h.9M513.2 474.4h.9M514.2 477.4h.9M513.6 450.4h.9M514.1 456.4h.9M513.7 446.5h.9M512.5 469.1h.9M514.0 454.1h.9M513.3 453.8h.9M512.7 463.8h.9M513.6 448.0h.9M514.1 455.8h.9M514.2 476.3h.9M513.4 454.3h.9M513.1 479.8h.9M514.2 459.3h.9M513.3 455.4h.9M513.8 443.9h.9M514.1 462.1h.9M512.8 456.5h.9M512.8 475.9h.9M512.6 450.9h.9M512.9 464.6h.9M513.7 465.7h.9M512.6 460.8h.9M512.6 459.4h.9M513.2 460.2h.9M513.3 477.2h.9M513.2 473.7h.9M513.4 479.8h.9M512.7 464.5h.9M513.8 453.4h.9M513.3 462.0h.9M513.9 445.9h.9M513.6 445.8h.9M513.5 459.4h.9M514.2 467.3h.9M513.0 480.4h.9M513.7 464.3h.9M512.8 457.4h.9M513.7 467.1h.9M514.1 447.1h.9M514.0 455.3h.9M513.9 456.3h.9M513.3 443.5h.9M513.2 455.8h.9M512.9 454.6h.9M513.0 457.3h.9M513.6 466.9h.9M513.6 460.9h.9M513.1 464.9h.9M513.0 479.9h.9M512.6 462.6h.9M512.5 468.2h.9M512.8 465.2h.9M514.0 457.2h.9M513.7 466.2h.9M513.7 475.8h.9M512.7 457.0h.9M513.0 472.4h.9M513.9 465.2h.9M514.2 453.4h.9M512.6 475.8h.9M513.8 469.4h.9M513.1 463.9h.9M512.8 467.6h.9M514.2 454.8h.9M514.1 468.2h.9M513.7 458.2h.9M512.9 474.4h.9M513.8 468.7h.9M512.6 455.5h.9M513.1 462.3h.9M513.9 458.7h.9M513.1 463.0h.9M513.8 474.7h.9M514.0 446.2h.9M513.1 454.0h.9M512.7 456.5h.9M512.5 464.1h.9M513.6 457.8h.9M513.3 466.2h.9M513.3 468.3h.9M513.2 449.4h.9M513.0 457.0h.9M513.1 448.9h.9M513.5 468.6h.9M513.3 451.8h.9M514.2 463.0h.9M512.9 460.5h.9M512.7 469.1h.9M513.8 474.9h.9M513.5 470.6h.9M514.2 467.4h.9M513.6 447.4h.9M512.9 464.2h.9M513.5 443.1h.9M512.5 475.2h.9M512.8 476.8h.9M513.9 463.5h.9M514.0 450.0h.9M513.9 460.8h.9M512.8 455.8h.9M513.8 450.4h.9M513.1 450.0h.9M512.9 479.9h.9M512.9 454.2h.9M512.9 475.4h.9M512.6 448.9h.9M513.8 458.9h.9M513.4 453.3h.9M513.8 476.2h.9M513.7 471.3h.9M513.5 455.6h.9M513.6 443.8h.9M513.4 456.8h.9M512.5 455.2h.9M512.6 463.6h.9M514.2 458.2h.9M513.5 447.1h.9M513.8 479.3h.9M512.6 454.9h.9M514.1 465.5h.9M513.2 449.1h.9M512.6 457.8h.9M513.8 475.2h.9M512.8 461.8h.9M512.7 463.8h.9M513.5 460.0h.9M512.9 454.0h.9M513.6 448.6h.9M512.9 469.9h.9M513.9 448.5h.9M513.8 476.7h.9M513.8 470.2h.9M513.8 457.9h.9M513.3 461.1h.9M513.0 453.7h.9M514.1 469.9h.9M513.2 456.3h.9M514.0 475.5h.9M512.6 456.3h.9M512.9 466.5h.9M512.7 467.4h.9M513.2 446.8h.9M513.6 462.1h.9M514.2 456.0h.9M514.0 447.2h.9M513.3 460.6h.9M513.6 474.4h.9M513.2 448.5h.9M512.9 474.9h.9M513.2 453.4h.9M513.5 454.5h.9M513.0 460.4h.9M514.1 460.8h.9M513.4 454.1h.9M513.7 463.2h.9M513.0 459.3h.9M512.6 463.8h.9M513.9 473.4h.9" stroke="#00e000" stroke-width="0.9" fill="none"/>
<line x1="513.8" y1="442.9" x2="513.8" y2="480.4" stroke="#00e000" stroke-width="1.0" stroke-opacity="0.75"/>
<path d="M521.7 454.9h.9M521.6 447.1h.9M522.2 448.2h.9M522.2 465.0h.9M521.5 442.3h.9M523.0 459.6h.9M521.4 452.6h.9M521.4 468.6h.9M522.7 451.4h.9M522.7 460.4h.9M521.5 457.4h.9M522.4 443.4h.9M521.9 478.9h.9M522.0 447.0h.9M522.8 457.2h.9M522.2 442.5h.9M521.7 460.6h.9M522.7 464.9h.9M522.0 480.0h.9M521.5 475.7h.9M522.8 454.8h.9M521.6 461.6h.9M522.0 473.3h.9M522.6 464.6h.9M521.6 464.7h.9M522.2 454.8h.9M522.8 474.0h.9M522.4 474.9h.9M521.8 464.9h.9M522.1 448.7h.9M522.0 459.0h.9M522.0 449.4h.9M521.7 442.2h.9M523.0 462.5h.9M521.6 473.3h.9M522.1 463.0h.9M522.6 457.2h.9M521.4 475.3h.9M521.9 442.7h.9M521.7 455.7h.9M521.4 453.0h.9M521.7 470.5h.9M522.4 448.1h.9M523.0 470.9h.9M523.0 461.1h.9M522.2 452.2h.9M521.5 462.2h.9M521.8 448.0h.9M522.4 462.8h.9M521.9 465.8h.9M521.4 461.8h.9M522.0 446.6h.9M522.7 474.4h.9M521.8 472.0h.9M521.4 452.9h.9M521.7 455.0h.9M521.9 451.7h.9M522.0 479.6h.9M522.7 466.9h.9M521.5 447.2h.9M521.5 458.3h.9M522.9 473.3h.9M521.5 478.7h.9M523.0 463.9h.9M522.2 460.3h.9M521.4 455.1h.9M521.6 451.8h.9M522.2 444.4h.9M522.1 475.5h.9M522.0 469.0h.9M521.6 455.0h.9M522.4 455.2h.9M522.3 446.3h.9M523.1 469.6h.9M522.2 454.4h.9M521.9 458.7h.9M521.6 462.0h.9M521.4 454.4h.9M522.7 447.7h.9M523.0 453.2h.9M521.5 462.0h.9M521.6 458.0h.9M521.7 444.3h.9M521.8 464.2h.9M521.6 462.9h.9M522.5 458.2h.9M521.7 461.2h.9M522.9 461.2h.9M521.8 469.5h.9M521.9 474.7h.9M521.7 446.7h.9M522.3 444.4h.9M521.4 479.3h.9M521.6 448.1h.9M523.1 462.0h.9M521.5 476.2h.9M522.4 470.2h.9M523.0 477.1h.9M521.7 448.3h.9M521.7 451.1h.9M522.6 469.7h.9M522.8 470.5h.9M521.7 447.3h.9M522.6 479.7h.9M522.4 459.7h.9M522.8 449.1h.9M521.5 464.3h.9M522.3 457.1h.9M522.9 456.1h.9M521.7 475.1h.9M522.3 464.5h.9M522.9 460.1h.9M523.0 476.5h.9M522.5 462.9h.9M521.4 450.7h.9M521.8 467.7h.9M522.4 465.9h.9M522.6 453.5h.9M522.1 443.0h.9M521.8 454.4h.9M521.6 455.7h.9M522.6 474.5h.9M521.4 467.5h.9M523.0 460.5h.9M522.1 470.8h.9M523.1 457.6h.9M521.4 453.8h.9M521.6 464.3h.9M522.0 462.9h.9M523.1 462.2h.9M522.6 462.1h.9M522.8 475.6h.9M523.0 458.0h.9M521.4 457.1h.9M522.0 462.2h.9M522.5 476.6h.9M521.7 451.9h.9M523.0 462.7h.9M521.7 467.6h.9M521.8 459.7h.9M521.9 453.9h.9M522.7 466.6h.9M521.5 459.2h.9M522.8 446.1h.9M521.5 465.1h.9M522.5 480.2h.9M522.2 458.6h.9M522.0 472.7h.9M522.5 455.0h.9M522.0 467.1h.9M523.0 454.5h.9M521.7 445.4h.9M522.2 460.0h.9M522.1 458.6h.9M523.0 466.4h.9M522.0 465.4h.9M521.9 466.4h.9M522.3 444.5h.9M522.1 451.0h.9M522.8 476.9h.9M522.3 478.2h.9M522.7 456.4h.9M522.5 454.7h.9M521.8 480.4h.9M522.2 462.6h.9M522.0 446.8h.9M522.1 449.0h.9M522.0 464.1h.9M521.9 478.9h.9M522.0 469.7h.9M523.0 453.2h.9M521.6 454.2h.9M522.4 453.8h.9M523.0 478.4h.9M521.9 473.2h.9M522.7 467.8h.9M523.0 466.5h.9M522.7 475.7h.9M522.3 461.1h.9M521.8 457.5h.9M522.7 448.4h.9M522.5 462.4h.9M523.1 459.9h.9M522.3 453.9h.9M522.0 445.6h.9M522.5 452.5h.9M522.6 466.1h.9M521.9 471.9h.9M521.8 458.4h.9M521.3 452.7h.9" stroke="#0000ff" stroke-width="0.9" fill="none"/>
<line x1="522.6" y1="442.2" x2="522.6" y2="480.4" stroke="#0000ff" stroke-width="1.0" stroke-opacity="0.75"/>
<path d="M531.8 462.8h.9M531.3 457.7h.9M531.6 447.0h.9M530.2 464.8h.9M531.8 474.2h.9M531.9 459.8h.9M530.4 453.1h.9M531.3 478.3h.9M530.4 460.8h.9M531.4 477.3h.9M531.2 447.0h.9M531.1 470.5h.9M531.4 478.9h.9M530.3 466.0h.9M530.7 469.9h.9M530.4 476.3h.9M531.8 455.0h.9M530.7 458.8h.9M530.3 452.6h.9M530.6 443.6h.9M530.6 443.0h.9M531.5 461.2h.9M530.4 460.7h.9M531.1 460.4h.9M530.4 452.8h.9M530.5 460.2h.9M530.8 447.9h.9M531.5 443.5h.9M530.9 477.0h.9M530.6 465.0h.9M530.3 452.4h.9M531.6 453.5h.9M531.1 457.1h.9M531.9 478.0h.9M530.8 465.6h.9M531.5 444.4h.9M531.7 474.9h.9M531.4 448.7h.9M531.5 463.4h.9M531.7 469.1h.9M531.5 461.0h.9M531.2 452.7h.9M531.8 461.6h.9M530.3 473.2h.9M531.0 460.5h.9M531.9 478.3h.9M531.2 451.0h.9M531.6 446.0h.9M531.8 456.9h.9M530.8 458.8h.9M531.6 451.3h.9M530.5 458.9h.9M531.7 456.4h.9M531.8 477.1h.9M531.2 477.2h.9M530.2 458.4h.9M530.3 475.6h.9M531.7 468.0h.9M531.7 445.5h.9M531.4 469.5h.9M531.1 474.2h.9M530.4 462.6h.9M530.5 443.5h.9M530.6 455.7h.9M531.2 459.0h.9M530.4 454.3h.9M530.5 452.4h.9M531.2 462.2h.9M530.7 445.6h.9M531.3 451.6h.9M530.4 441.1h.9M531.2 445.6h.9M531.9 458.4h.9M530.4 455.3h.9M530.3 450.7h.9M530.2 465.4h.9M530.3 465.9h.9M531.4 449.8h.9M530.4 476.2h.9M530.9 451.8h.9M531.9 447.4h.9M530.8 452.1h.9M531.8 449.9h.9M530.5 468.9h.9M531.6 469.2h.9M531.7 442.5h.9M531.4 452.9h.9M530.4 458.2h.9M531.1 448.1h.9M530.9 466.1h.9M531.5 471.3h.9M530.5 461.5h.9M530.4 475.7h.9M531.7 443.8h.9M531.5 453.1h.9M530.5 458.8h.9M531.5 479.9h.9M531.1 472.2h.9M531.9 454.0h.9M530.7 470.9h.9M530.5 451.5h.9M531.6 461.6h.9M531.8 474.0h.9M531.5 466.0h.9M531.2 476.6h.9M531.1 450.5h.9M530.6 443.5h.9M531.3 457.6h.9M530.4 474.0h.9M530.5 455.4h.9M530.6 454.8h.9M531.4 467.7h.9M531.5 447.7h.9M530.8 450.6h.9M531.5 452.2h.9M531.4 455.0h.9M530.4 460.2h.9M531.3 469.9h.9M530.2 453.8h.9M530.5 458.1h.9M530.7 458.5h.9M531.9 459.6h.9M531.2 478.8h.9M531.2 454.1h.9M530.6 459.8h.9M530.9 470.1h.9M530.6 479.8h.9M531.8 453.3h.9M531.6 470.7h.9M530.4 464.0h.9M531.1 463.6h.9M530.9 460.0h.9M530.7 453.0h.9M531.4 468.0h.9M531.0 441.9h.9M531.3 440.9h.9M530.7 459.6h.9M530.5 456.8h.9M531.9 453.0h.9M531.1 472.2h.9M530.8 454.2h.9M531.9 462.7h.9M530.5 460.8h.9M530.7 469.2h.9M531.6 458.9h.9M531.8 457.4h.9M530.3 453.5h.9M530.4 478.3h.9M531.9 459.3h.9M530.3 447.6h.9M530.5 454.2h.9M530.6 477.0h.9M530.8 458.6h.9M530.5 445.9h.9M531.6 479.4h.9M531.8 454.1h.9M531.6 452.8h.9M531.6 466.8h.9M531.1 459.3h.9M530.5 466.5h.9M530.7 449.8h.9M530.6 473.1h.9M531.0 461.9h.9M530.6 446.3h.9M530.7 447.0h.9M531.9 447.4h.9M530.7 453.6h.9M530.7 446.1h.9M531.7 473.7h.9M531.8 475.4h.9M530.5 454.5h.9M530.9 460.8h.9M531.4 464.5h.9M530.7 470.5h.9M531.0 451.2h.9M530.6 453.2h.9M530.9 451.2h.9M530.6 445.8h.9M531.7 459.0h.9M530.2 462.7h.9M530.4 458.2h.9M531.0 462.0h.9M531.2 453.6h.9M530.2 469.9h.9M530.6 458.4h.9M531.4 478.6h.9M531.8 455.5h.9M530.3 452.6h.9M530.8 454.7h.9M531.4 471.2h.9" stroke="#00e4e4" stroke-width="0.9" fill="none"/>
<line x1="531.5" y1="440.8" x2="531.5" y2="480.4" stroke="#00e4e4" stroke-width="1.0" stroke-opacity="0.75"/>
<path d="M539.2 472.9h.9M540.6 457.4h.9M539.0 455.2h.9M540.5 440.7h.9M540.7 457.0h.9M539.2 452.4h.9M539.7 456.3h.9M540.8 451.7h.9M539.2 469.9h.9M539.2 464.7h.9M540.5 444.5h.9M540.3 470.8h.9M540.6 452.8h.9M539.1 454.8h.9M539.7 475.2h.9M539.0 461.2h.9M540.3 442.8h.9M539.6 459.9h.9M539.6 474.6h.9M539.7 449.4h.9M539.8 474.9h.9M539.5 450.5h.9M540.6 479.7h.9M540.7 450.0h.9M540.5 450.2h.9M540.0 451.1h.9M539.6 463.6h.9M539.6 448.9h.9M539.6 466.3h.9M539.0 441.5h.9M540.7 464.3h.9M540.2 468.0h.9M539.1 445.7h.9M540.4 446.7h.9M540.6 443.2h.9M540.5 477.6h.9M539.5 467.6h.9M540.7 451.0h.9M539.8 446.1h.9M540.2 479.2h.9M539.1 448.6h.9M539.8 464.1h.9M540.2 476.4h.9M540.5 478.7h.9M539.6 456.9h.9M540.3 460.5h.9M540.3 449.9h.9M539.8 441.4h.9M539.3 463.1h.9M539.3 468.5h.9M539.5 456.6h.9M539.5 466.3h.9M540.4 456.7h.9M540.2 445.2h.9M540.2 459.7h.9M539.4 444.8h.9M540.2 448.8h.9M539.6 439.8h.9M540.6 457.7h.9M540.3 472.1h.9M539.7 463.4h.9M540.1 456.1h.9M539.3 463.6h.9M539.6 456.4h.9M539.4 471.4h.9M540.0 446.9h.9M540.4 441.8h.9M539.6 442.5h.9M540.0 454.0h.9M540.3 455.2h.9M539.9 448.6h.9M539.8 448.5h.9M539.8 455.5h.9M540.1 449.9h.9M540.2 449.0h.9M540.3 451.5h.9M540.3 449.6h.9M539.0 441.9h.9M539.1 461.2h.9M540.1 460.1h.9M539.1 467.3h.9M540.2 467.0h.9M539.7 454.3h.9M539.6 474.2h.9M539.4 453.0h.9M540.6 439.9h.9M540.6 451.5h.9M540.6 456.5h.9M540.1 462.1h.9M540.6 462.5h.9M539.7 473.4h.9M540.4 452.4h.9M540.4 468.2h.9M539.9 450.5h.9M539.1 469.0h.9M539.7 440.5h.9M539.5 442.1h.9M539.4 442.4h.9M539.2 461.2h.9M539.3 458.3h.9M540.0 444.7h.9M539.6 461.7h.9M539.2 469.4h.9M540.8 478.8h.9M540.5 460.0h.9M540.8 465.0h.9M540.1 458.7h.9M540.5 451.9h.9M539.6 477.8h.9M539.8 452.2h.9M540.5 442.3h.9M539.2 451.6h.9M540.5 453.5h.9M539.3 443.0h.9M540.1 451.0h.9M539.5 457.6h.9M540.3 439.3h.9M539.3 461.1h.9M539.6 459.2h.9M540.5 470.8h.9M539.4 468.9h.9M540.5 457.3h.9M539.8 456.8h.9M540.5 454.0h.9M539.5 467.3h.9M539.6 468.4h.9M540.6 455.1h.9M540.7 445.5h.9M539.2 474.6h.9M539.2 468.0h.9M539.1 454.4h.9M540.5 453.5h.9M539.1 460.9h.9M539.0 450.5h.9M540.0 444.5h.9M539.0 454.5h.9M539.4 461.7h.9M540.6 448.4h.9M539.8 462.2h.9M540.5 440.6h.9M539.1 446.7h.9M539.1 457.8h.9M539.5 458.9h.9M540.7 449.5h.9M539.4 462.4h.9M540.6 457.4h.9M540.0 449.4h.9M539.9 458.3h.9M540.6 456.6h.9M539.3 478.6h.9M540.5 469.1h.9M539.6 441.8h.9M540.4 459.7h.9M539.8 451.2h.9M539.6 475.6h.9M540.6 457.5h.9M539.9 450.6h.9M540.3 463.2h.9M540.2 463.3h.9M539.2 452.2h.9M539.8 448.5h.9M540.8 447.9h.9M540.4 462.1h.9M539.7 469.0h.9M539.7 468.7h.9M539.4 452.0h.9M539.3 461.7h.9M540.4 464.6h.9M540.4 474.4h.9M540.0 468.2h.9M539.2 457.8h.9M540.5 475.5h.9M539.5 475.6h.9M539.7 459.5h.9M539.7 445.4h.9M540.8 466.9h.9M540.7 477.8h.9M539.0 458.1h.9M539.8 455.1h.9M540.6 450.0h.9M539.5 442.6h.9M540.3 442.1h.9M539.5 469.6h.9M539.5 441.0h.9M540.5 454.9h.9M540.2 470.6h.9M540.5 457.7h.9M539.1 477.9h.9M539.7 473.0h.9M540.5 460.2h.9" stroke="#ff00ff" stroke-width="0.9" fill="none"/>
<line x1="540.4" y1="438.7" x2="540.4" y2="479.7" stroke="#ff00ff" stroke-width="1.0" stroke-opacity="0.75"/>
<path d="M549.4 442.3h.9M549.2 438.1h.9M548.3 448.2h.9M548.0 448.7h.9M549.2 476.1h.9M547.9 462.2h.9M549.5 436.7h.9M549.1 450.3h.9M549.0 476.4h.9M548.6 441.1h.9M548.7 446.4h.9M549.2 453.0h.9M548.9 457.4h.9M549.1 458.4h.9M549.4 453.4h.9M548.7 459.7h.9M548.8 441.1h.9M549.4 447.1h.9M548.6 461.2h.9M547.9 460.3h.9M548.9 438.4h.9M549.4 474.8h.9M549.2 448.3h.9M548.6 440.6h.9M549.3 458.5h.9M548.9 458.2h.9M549.6 440.0h.9M548.1 445.3h.9M549.6 453.7h.9M548.2 453.5h.9M549.6 461.7h.9M549.2 436.6h.9M548.0 438.6h.9M549.3 445.1h.9M548.4 448.3h.9M549.5 457.8h.9M549.1 462.1h.9M549.4 449.1h.9M547.9 448.1h.9M549.4 475.1h.9M548.9 461.8h.9M549.3 458.4h.9M549.5 477.0h.9M548.9 457.5h.9M548.7 465.1h.9M549.3 463.3h.9M548.2 454.1h.9M548.5 444.1h.9M547.9 448.0h.9M548.1 445.0h.9M548.2 466.3h.9M549.4 434.5h.9M547.9 444.4h.9M549.3 434.0h.9M548.7 451.0h.9M548.2 450.8h.9M549.5 440.7h.9M548.1 457.2h.9M548.5 445.8h.9M548.8 435.3h.9M548.8 457.2h.9M548.5 450.8h.9M549.5 441.9h.9M548.2 448.1h.9M549.3 434.0h.9M549.4 442.6h.9M548.0 456.9h.9M549.4 467.4h.9M548.2 460.6h.9M548.2 468.9h.9M549.5 437.7h.9M549.1 450.4h.9M548.5 448.6h.9M548.1 460.2h.9M548.1 460.8h.9M549.3 443.5h.9M549.3 459.6h.9M549.2 453.3h.9M548.5 444.4h.9M549.2 470.6h.9M548.0 437.0h.9M549.2 460.9h.9M548.8 453.5h.9M548.5 452.0h.9M548.8 445.0h.9M548.7 456.7h.9M548.5 454.7h.9M548.9 456.8h.9M548.6 458.1h.9M548.9 438.8h.9M548.0 454.8h.9M548.0 458.3h.9M548.5 477.6h.9M547.9 458.9h.9M549.1 454.2h.9M548.3 438.4h.9M548.7 439.1h.9M548.5 453.0h.9M548.8 461.2h.9M548.5 449.8h.9M548.3 458.8h.9M548.9 445.7h.9M549.1 452.8h.9M549.2 469.3h.9M549.5 457.5h.9M548.2 451.1h.9M549.5 449.5h.9M548.8 458.1h.9M547.9 436.4h.9M548.3 436.0h.9M548.8 457.5h.9M548.1 445.5h.9M548.1 476.2h.9M548.0 456.5h.9M548.8 448.7h.9M549.1 437.2h.9M548.9 462.7h.9M548.5 454.7h.9M548.9 449.3h.9M548.0 459.3h.9M548.4 447.6h.9M549.6 437.8h.9M549.3 438.6h.9M548.2 466.5h.9M549.3 464.0h.9M548.2 457.3h.9M548.2 465.1h.9M549.1 476.1h.9M549.4 458.5h.9M548.8 478.5h.9M549.5 449.0h.9M548.1 434.9h.9M549.0 474.1h.9M547.9 454.4h.9M548.1 455.7h.9M548.9 477.8h.9M548.8 451.8h.9M549.6 446.6h.9M548.8 455.8h.9M549.4 447.5h.9M548.5 474.1h.9M549.4 457.0h.9M548.2 452.9h.9M549.4 455.3h.9M548.0 474.0h.9M548.1 451.9h.9M549.1 453.7h.9M549.0 450.6h.9M549.2 474.6h.9M549.2 464.7h.9M548.8 447.1h.9M548.5 450.7h.9M549.1 435.0h.9M548.8 442.9h.9M549.6 435.5h.9M549.3 445.4h.9M549.0 458.6h.9M548.8 446.6h.9M548.2 452.9h.9M548.4 467.9h.9M548.3 457.1h.9M549.5 438.6h.9M549.1 474.3h.9M547.9 474.4h.9M549.2 472.9h.9M548.6 459.3h.9M548.6 470.3h.9M548.8 466.4h.9M548.5 460.8h.9M548.7 436.8h.9M549.1 461.2h.9M549.6 448.9h.9M549.0 449.8h.9M549.0 452.2h.9M548.9 448.7h.9M549.6 450.3h.9M549.0 465.2h.9M547.9 461.0h.9M548.1 476.9h.9M549.4 446.1h.9M548.8 438.8h.9M548.3 441.0h.9M548.5 471.2h.9M549.3 460.8h.9M549.3 452.4h.9M548.5 451.8h.9M548.5 437.4h.9M547.9 473.0h.9M548.2 465.2h.9M549.0 471.1h.9" stroke="#f4f000" stroke-width="0.9" fill="none"/>
<line x1="549.2" y1="433.8" x2="549.2" y2="479" stroke="#f4f000" stroke-width="1.0" stroke-opacity="0.75"/>
<path d="M556.7 446.0h.9M557.6 443.9h.9M558.5 446.5h.9M558.4 451.6h.9M557.4 455.6h.9M557.8 479.3h.9M558.3 478.8h.9M558.3 473.7h.9M556.8 438.1h.9M557.8 447.1h.9M556.8 450.5h.9M557.0 467.5h.9M558.2 457.8h.9M557.0 457.3h.9M556.8 454.3h.9M556.9 444.5h.9M557.9 455.9h.9M558.5 431.8h.9M556.7 450.9h.9M558.0 445.1h.9M557.7 455.5h.9M558.2 446.7h.9M557.1 444.5h.9M557.8 450.1h.9M556.9 460.6h.9M558.2 432.5h.9M557.9 446.8h.9M556.7 443.9h.9M557.2 431.8h.9M557.2 464.8h.9M557.9 450.0h.9M557.3 436.8h.9M557.1 443.5h.9M556.8 477.2h.9M558.2 440.9h.9M556.8 479.5h.9M557.2 440.4h.9M557.3 442.6h.9M558.1 471.3h.9M557.6 450.6h.9M557.6 459.4h.9M557.6 430.6h.9M558.0 450.3h.9M557.1 450.7h.9M557.8 455.7h.9M557.4 434.0h.9M558.0 453.7h.9M558.2 455.7h.9M557.8 450.2h.9M557.0 446.3h.9M558.3 458.2h.9M558.0 476.9h.9M556.9 449.1h.9M558.5 458.3h.9M558.2 457.1h.9M556.7 443.9h.9M557.6 451.5h.9M557.8 453.2h.9M558.5 467.7h.9M558.1 453.6h.9M557.0 447.6h.9M558.4 458.6h.9M556.9 441.8h.9M558.3 431.2h.9M557.5 449.7h.9M558.0 430.4h.9M557.2 452.5h.9M558.4 454.7h.9M557.3 454.1h.9M557.9 470.5h.9M558.2 443.6h.9M557.7 448.7h.9M558.4 463.1h.9M557.2 459.9h.9M557.7 456.7h.9M557.3 448.0h.9M557.6 470.5h.9M558.0 478.2h.9M557.2 442.7h.9M558.3 453.4h.9M558.1 469.6h.9M557.5 479.0h.9M558.4 455.9h.9M558.1 442.7h.9M558.0 459.9h.9M557.6 468.6h.9M558.2 443.7h.9M558.2 436.7h.9M556.8 445.5h.9M556.7 456.7h.9M557.9 431.8h.9M557.4 454.6h.9M556.9 463.0h.9M557.0 465.4h.9M558.5 474.1h.9M557.3 456.7h.9M557.1 458.2h.9M558.1 431.0h.9M557.7 450.3h.9M557.3 471.9h.9M557.7 452.7h.9M558.2 457.4h.9M557.4 453.6h.9M557.3 477.8h.9M558.3 477.6h.9M558.1 447.9h.9M556.9 458.3h.9M557.8 470.2h.9M558.2 466.5h.9M556.7 463.4h.9M558.4 477.6h.9M558.3 474.4h.9M558.2 458.1h.9M557.4 435.8h.9M557.3 453.2h.9M557.6 472.7h.9M557.0 452.0h.9M558.3 468.7h.9M558.2 456.8h.9M558.4 454.8h.9M557.1 438.2h.9M558.1 440.6h.9M557.5 439.9h.9M558.2 458.0h.9M558.2 445.5h.9M558.0 470.6h.9M557.7 461.0h.9M558.3 465.5h.9M556.8 471.4h.9M558.4 472.9h.9M558.1 453.5h.9M557.8 449.6h.9M557.8 446.8h.9M557.1 456.0h.9M557.6 449.3h.9M556.7 475.2h.9M558.4 456.8h.9M557.5 469.1h.9M558.3 437.3h.9M557.4 445.4h.9M557.3 468.5h.9M556.8 434.7h.9M558.0 476.8h.9M557.2 430.4h.9M557.3 451.4h.9M558.1 448.3h.9M557.5 442.9h.9M558.2 432.3h.9M556.8 448.0h.9M558.2 456.2h.9M557.9 435.8h.9M558.4 453.1h.9M558.2 444.1h.9M558.1 472.4h.9M557.6 439.7h.9M557.1 445.5h.9M557.4 435.4h.9M557.0 431.8h.9M558.1 468.6h.9M557.1 473.5h.9M558.5 455.9h.9M557.2 468.5h.9M556.7 445.2h.9M556.7 453.8h.9M557.2 437.8h.9M556.7 462.0h.9M557.9 463.2h.9M558.4 434.4h.9M557.2 450.3h.9M558.4 438.9h.9M557.0 454.8h.9M558.3 444.5h.9M558.0 468.7h.9M557.1 458.4h.9M558.4 458.4h.9M558.2 476.9h.9M558.2 438.1h.9M558.4 454.3h.9M558.3 445.7h.9M557.0 451.1h.9M557.5 464.1h.9M557.5 443.8h.9M557.7 452.4h.9M558.4 453.3h.9M558.0 452.3h.9M557.0 461.2h.9M556.9 470.6h.9M558.4 448.8h.9M558.1 447.6h.9M558.1 443.9h.9" stroke="#a09c00" stroke-width="0.9" fill="none"/>
<line x1="558.1" y1="430.4" x2="558.1" y2="479.7" stroke="#a09c00" stroke-width="1.0" stroke-opacity="0.75"/>
<path d="M567.2 459.3h.9M567.3 457.4h.9M567.2 434.1h.9M566.1 448.6h.9M565.9 450.3h.9M566.7 456.6h.9M566.5 438.4h.9M566.0 442.8h.9M566.4 461.8h.9M566.4 453.3h.9M567.0 446.0h.9M567.1 457.6h.9M567.0 450.9h.9M565.7 440.9h.9M566.0 443.7h.9M566.2 446.3h.9M566.2 430.6h.9M565.6 453.0h.9M566.5 427.6h.9M566.2 434.5h.9M566.3 460.9h.9M566.1 445.7h.9M566.5 438.3h.9M567.2 446.0h.9M567.2 431.5h.9M566.7 438.0h.9M565.9 470.9h.9M566.4 442.2h.9M566.6 452.6h.9M566.2 441.4h.9M565.6 443.2h.9M566.9 435.9h.9M566.8 447.5h.9M567.0 442.5h.9M565.6 449.1h.9M566.6 448.2h.9M566.4 437.4h.9M566.2 474.5h.9M567.0 474.0h.9M565.7 451.5h.9M566.1 446.3h.9M566.7 429.0h.9M566.9 444.2h.9M566.1 445.1h.9M566.3 426.3h.9M567.3 462.7h.9M565.9 459.8h.9M566.2 467.9h.9M565.9 439.2h.9M565.8 445.0h.9M567.3 442.8h.9M565.8 476.1h.9M566.9 426.1h.9M566.0 469.4h.9M567.3 440.2h.9M567.1 438.1h.9M566.8 443.0h.9M566.7 448.3h.9M566.5 451.3h.9M567.0 442.1h.9M566.8 456.2h.9M566.1 456.4h.9M566.0 446.1h.9M567.0 474.8h.9M565.7 438.5h.9M566.2 453.6h.9M565.6 447.0h.9M567.0 447.9h.9M566.5 457.9h.9M565.8 447.5h.9M566.3 447.5h.9M565.8 447.1h.9M566.2 441.0h.9M566.4 456.4h.9M565.7 456.2h.9M565.9 453.5h.9M566.4 437.6h.9M565.7 432.5h.9M566.1 427.4h.9M567.1 449.0h.9M567.1 449.3h.9M566.3 439.3h.9M567.2 452.3h.9M566.9 441.7h.9M566.1 465.0h.9M565.8 435.8h.9M565.9 447.4h.9M566.6 427.3h.9M566.6 456.9h.9M566.5 431.4h.9M566.0 445.8h.9M566.7 456.1h.9M566.9 434.5h.9M567.0 435.7h.9M566.5 453.8h.9M565.6 472.7h.9M565.9 455.6h.9M566.9 434.3h.9M567.1 428.6h.9M566.0 446.6h.9M566.1 470.7h.9M566.8 454.0h.9M566.5 446.4h.9M567.3 447.0h.9M566.4 445.3h.9M566.3 437.4h.9M567.3 472.8h.9M566.3 446.4h.9M566.2 451.2h.9M567.3 438.1h.9M566.9 468.8h.9M566.2 441.1h.9M566.2 463.8h.9M566.6 438.1h.9M567.2 473.1h.9M566.5 461.1h.9M567.0 430.3h.9M567.1 432.1h.9M566.2 461.0h.9M567.3 465.3h.9M566.4 443.9h.9M567.0 440.4h.9M567.0 472.2h.9M566.6 428.5h.9M565.6 472.9h.9M566.8 444.0h.9M565.8 438.7h.9M566.7 450.9h.9M566.6 460.9h.9M565.8 467.4h.9M565.9 469.0h.9M567.0 447.4h.9M567.3 448.2h.9M565.8 428.9h.9M566.9 438.2h.9M565.7 446.2h.9M566.0 453.1h.9M567.2 440.6h.9M566.3 456.3h.9M565.7 446.7h.9M566.7 442.1h.9M567.0 443.5h.9M565.6 460.5h.9M565.7 440.3h.9M567.0 446.2h.9M566.5 473.2h.9M566.6 453.0h.9M566.4 474.4h.9M566.2 436.7h.9M566.8 454.6h.9M566.3 464.3h.9M566.5 472.8h.9M566.4 440.8h.9M567.0 438.9h.9M566.0 464.0h.9M566.3 454.0h.9M566.3 458.7h.9M566.8 453.5h.9M565.6 432.7h.9M567.3 440.9h.9M567.0 460.8h.9M565.6 458.9h.9M565.7 472.3h.9M566.5 450.2h.9M566.7 438.7h.9M566.9 461.9h.9M566.2 445.4h.9M566.6 468.4h.9M567.2 459.7h.9M566.0 435.0h.9M565.8 434.2h.9M566.5 472.3h.9M566.2 451.5h.9M566.2 442.9h.9M566.5 443.0h.9M565.8 472.4h.9M566.9 452.7h.9M565.8 439.9h.9M565.9 446.3h.9M566.0 454.5h.9M566.4 460.1h.9M566.5 451.9h.9M566.3 441.5h.9M566.8 441.5h.9M565.7 447.0h.9M566.0 449.1h.9M567.0 446.3h.9M567.1 438.5h.9M566.2 433.7h.9M567.3 447.0h.9" stroke="#000090" stroke-width="0.9" fill="none"/>
<line x1="566.9" y1="425.5" x2="566.9" y2="476.2" stroke="#000090" stroke-width="1.0" stroke-opacity="0.75"/>
<path d="M574.6 461.6h.9M576.0 434.6h.9M574.6 441.5h.9M575.5 437.7h.9M575.0 434.9h.9M575.1 433.9h.9M575.8 456.0h.9M575.1 444.5h.9M574.6 449.8h.9M575.7 424.7h.9M576.2 450.0h.9M575.8 448.7h.9M575.0 455.1h.9M574.8 428.4h.9M574.9 456.5h.9M574.5 454.9h.9M575.5 437.1h.9M576.1 446.2h.9M574.8 445.0h.9M575.0 431.2h.9M575.0 450.7h.9M575.0 446.3h.9M575.4 457.0h.9M574.4 438.4h.9M574.5 441.3h.9M575.7 445.3h.9M574.6 463.9h.9M575.9 463.3h.9M575.3 468.3h.9M575.5 424.9h.9M574.9 464.6h.9M574.8 442.3h.9M575.2 451.6h.9M574.5 457.8h.9M575.6 426.9h.9M575.6 462.1h.9M575.4 449.6h.9M575.0 442.8h.9M575.9 434.3h.9M575.6 433.7h.9M575.1 432.6h.9M574.4 434.4h.9M575.2 433.9h.9M575.0 422.4h.9M575.7 432.6h.9M576.1 472.0h.9M574.9 469.2h.9M574.5 451.0h.9M575.0 450.2h.9M574.9 452.5h.9M575.0 433.7h.9M575.5 446.9h.9M576.0 448.9h.9M574.6 466.5h.9M575.7 439.8h.9M574.7 420.9h.9M576.0 453.9h.9M575.9 433.3h.9M575.3 434.8h.9M575.2 442.0h.9M574.9 421.8h.9M575.9 457.0h.9M575.8 453.4h.9M575.1 432.9h.9M575.4 448.0h.9M574.5 437.4h.9M574.8 455.7h.9M575.9 472.2h.9M575.0 432.1h.9M574.5 426.8h.9M575.1 449.1h.9M575.1 459.8h.9M575.2 427.9h.9M574.5 436.7h.9M574.6 464.4h.9M575.9 444.9h.9M575.6 464.2h.9M574.6 470.1h.9M574.6 445.9h.9M575.7 427.9h.9M574.7 441.2h.9M576.0 458.0h.9M575.1 466.3h.9M575.4 420.8h.9M575.1 465.9h.9M574.6 440.6h.9M575.6 449.2h.9M574.6 442.8h.9M576.1 473.2h.9M575.5 444.0h.9M574.6 441.0h.9M576.2 469.1h.9M575.1 422.4h.9M575.8 437.2h.9M575.8 448.3h.9M576.1 437.2h.9M575.6 451.8h.9M576.0 439.8h.9M574.6 442.9h.9M575.5 452.6h.9M575.1 469.5h.9M574.4 435.8h.9M574.6 441.7h.9M575.4 454.0h.9M576.0 465.6h.9M575.6 455.7h.9M575.6 460.2h.9M574.9 440.0h.9M575.1 445.0h.9M575.6 471.0h.9M576.2 440.0h.9M574.9 451.1h.9M576.0 466.5h.9M575.3 429.7h.9M575.4 448.3h.9M576.1 444.5h.9M574.5 450.9h.9M575.7 422.8h.9M575.5 460.3h.9M575.6 438.0h.9M575.4 448.0h.9M574.9 441.5h.9M574.6 439.6h.9M575.1 446.2h.9M576.0 459.0h.9M575.3 430.5h.9M575.8 470.2h.9M575.7 450.7h.9M575.4 455.8h.9M574.6 424.2h.9M575.8 451.3h.9M575.9 439.4h.9M576.0 434.6h.9M575.7 464.1h.9M575.9 451.8h.9M574.8 465.1h.9M574.5 444.3h.9M575.8 435.9h.9M576.2 471.8h.9M575.8 430.9h.9M576.0 442.8h.9M574.8 435.2h.9M575.3 450.3h.9M575.3 449.5h.9M575.6 466.1h.9M575.7 465.7h.9M574.6 428.4h.9M575.8 447.0h.9M575.7 440.1h.9M574.7 433.4h.9M574.9 431.3h.9M575.5 457.1h.9M574.4 439.9h.9M575.9 426.9h.9M575.7 450.1h.9M575.0 438.0h.9M574.4 449.2h.9M576.0 447.0h.9M575.1 449.8h.9M575.9 436.5h.9M574.5 443.2h.9M575.1 428.7h.9M574.6 449.4h.9M574.8 444.6h.9M575.4 462.2h.9M575.8 457.0h.9M575.9 442.7h.9M574.8 439.9h.9M575.3 430.4h.9M574.8 452.6h.9M575.5 433.4h.9M575.3 461.5h.9M574.5 445.3h.9M575.3 426.3h.9M574.5 442.3h.9M575.5 446.1h.9M575.3 431.2h.9M574.7 463.7h.9M575.2 440.8h.9M574.9 428.4h.9M575.2 437.8h.9M575.4 467.9h.9M575.3 448.8h.9M575.0 443.1h.9M575.5 449.1h.9M576.0 440.7h.9M575.8 474.0h.9M575.7 471.2h.9M575.4 429.3h.9M574.6 457.3h.9" stroke="#900090" stroke-width="0.9" fill="none"/>
<line x1="575.8" y1="420.6" x2="575.8" y2="474.1" stroke="#900090" stroke-width="1.0" stroke-opacity="0.75"/>
<path d="M583.6 452.4h.9M583.9 435.0h.9M584.0 454.9h.9M583.5 462.2h.9M583.9 418.6h.9M583.5 438.8h.9M583.7 427.9h.9M583.4 432.7h.9M584.9 453.8h.9M584.6 423.3h.9M584.2 423.2h.9M583.5 452.9h.9M584.9 438.6h.9M584.1 470.2h.9M585.0 416.5h.9M584.9 441.8h.9M583.7 455.0h.9M583.7 450.9h.9M584.3 433.4h.9M585.0 434.8h.9M584.3 439.1h.9M584.3 438.8h.9M584.9 467.5h.9M585.0 422.4h.9M583.7 420.7h.9M584.8 455.8h.9M584.9 432.9h.9M584.2 468.7h.9M584.5 456.1h.9M583.3 464.2h.9M584.9 431.5h.9M583.9 442.1h.9M583.6 418.2h.9M583.8 426.2h.9M583.9 444.4h.9M584.6 471.4h.9M583.9 428.8h.9M583.4 447.4h.9M584.2 428.5h.9M583.9 433.0h.9M583.3 424.5h.9M584.0 452.2h.9M584.1 436.9h.9M584.6 445.9h.9M583.5 431.8h.9M584.4 467.7h.9M583.5 435.3h.9M584.0 428.6h.9M583.9 465.8h.9M584.3 424.1h.9M584.5 431.0h.9M584.3 467.9h.9M583.5 436.1h.9M584.0 428.5h.9M584.0 463.7h.9M585.0 467.7h.9M584.0 435.9h.9M583.7 458.4h.9M583.9 467.8h.9M584.7 458.1h.9M583.5 432.2h.9M584.6 418.2h.9M583.3 446.0h.9M583.8 464.2h.9M583.7 440.2h.9M584.2 463.6h.9M583.8 436.5h.9M584.0 442.6h.9M584.8 442.6h.9M584.7 465.4h.9M584.1 432.4h.9M584.4 444.9h.9M584.6 447.5h.9M584.7 466.3h.9M584.3 432.7h.9M584.8 424.4h.9M584.6 457.9h.9M583.9 458.5h.9M584.3 471.7h.9M583.4 431.3h.9M583.6 469.8h.9M583.5 436.3h.9M584.4 430.8h.9M584.5 431.5h.9M584.5 424.6h.9M584.6 445.9h.9M585.0 452.3h.9M584.3 434.7h.9M583.8 431.0h.9M584.8 427.8h.9M583.6 434.8h.9M584.6 449.0h.9M583.7 456.7h.9M583.5 439.5h.9M584.6 431.1h.9M583.3 439.8h.9M583.9 473.1h.9M583.5 434.5h.9M584.7 439.2h.9M583.4 434.9h.9M584.0 428.0h.9M584.0 472.3h.9M584.8 467.0h.9M583.3 443.8h.9M584.2 459.3h.9M584.3 466.8h.9M584.3 425.2h.9M584.6 446.9h.9M583.3 436.4h.9M584.9 461.5h.9M584.7 468.3h.9M584.9 433.9h.9M583.7 441.6h.9M584.3 472.3h.9M583.3 435.4h.9M585.0 469.7h.9M584.0 427.8h.9M584.4 465.9h.9M583.5 455.6h.9M583.5 437.1h.9M583.9 450.5h.9M584.5 470.7h.9M584.3 455.3h.9M583.9 425.1h.9M583.7 418.4h.9M584.2 430.4h.9M584.2 441.2h.9M583.3 449.6h.9M583.6 470.4h.9M584.6 445.4h.9M584.4 420.3h.9M583.3 437.3h.9M585.0 439.8h.9M583.9 446.1h.9M583.6 451.0h.9M583.7 441.5h.9M584.9 419.7h.9M583.5 467.5h.9M584.5 434.9h.9M583.5 464.1h.9M584.3 451.1h.9M583.9 437.0h.9M583.9 420.6h.9M584.6 444.3h.9M584.0 417.4h.9M583.5 433.4h.9M583.3 417.2h.9M584.3 448.8h.9M584.9 440.8h.9M584.8 469.5h.9M583.4 422.4h.9M584.2 441.5h.9M583.9 443.2h.9M583.4 460.1h.9M583.4 432.0h.9M584.4 446.1h.9M583.6 447.7h.9M584.1 432.8h.9M584.8 438.6h.9M584.9 446.3h.9M584.1 423.1h.9M585.0 445.1h.9M583.8 462.6h.9M583.3 424.9h.9M583.8 450.0h.9M583.9 428.6h.9M584.4 437.2h.9M583.9 442.3h.9M584.2 472.1h.9M583.6 441.9h.9M583.4 470.6h.9M584.6 436.1h.9M583.5 429.4h.9M584.8 432.7h.9M584.0 432.2h.9M584.5 473.3h.9M584.0 456.3h.9M584.9 465.2h.9M583.8 469.5h.9M583.6 417.0h.9M584.4 424.3h.9M583.3 445.0h.9M583.4 455.2h.9M583.9 422.6h.9M583.4 422.5h.9M583.8 450.2h.9M583.7 425.7h.9M584.4 425.4h.9M584.0 434.3h.9M584.5 435.0h.9" stroke="#900000" stroke-width="0.9" fill="none"/>
<line x1="584.6" y1="416.5" x2="584.6" y2="474.1" stroke="#900000" stroke-width="1.0" stroke-opacity="0.75"/>
<path d="M592.8 425.6h.9M592.1 434.6h.9M592.9 459.8h.9M593.7 468.3h.9M593.2 426.2h.9M592.3 459.3h.9M593.5 438.8h.9M593.3 432.3h.9M592.4 428.3h.9M592.9 412.0h.9M592.2 443.2h.9M592.1 433.0h.9M592.4 430.3h.9M592.8 447.3h.9M593.0 444.4h.9M593.9 428.2h.9M593.3 432.5h.9M593.9 430.8h.9M593.5 433.1h.9M592.5 431.0h.9M592.2 428.7h.9M593.8 446.4h.9M593.8 438.0h.9M592.4 458.0h.9M593.2 434.6h.9M592.7 463.9h.9M592.4 440.5h.9M593.1 448.0h.9M593.7 438.1h.9M592.9 442.3h.9M593.6 443.4h.9M593.6 436.7h.9M592.6 434.0h.9M593.2 443.1h.9M592.4 461.2h.9M593.8 429.0h.9M593.9 445.0h.9M593.7 430.7h.9M593.3 433.7h.9M592.2 438.7h.9M593.3 437.2h.9M592.3 426.3h.9M592.4 444.8h.9M592.8 441.5h.9M592.8 412.0h.9M592.2 435.7h.9M592.3 430.4h.9M593.0 419.9h.9M592.9 471.4h.9M593.6 472.5h.9M593.1 446.7h.9M592.9 445.0h.9M592.5 412.9h.9M593.8 462.5h.9M592.4 415.1h.9M593.2 431.5h.9M592.8 433.2h.9M593.6 432.7h.9M593.4 433.7h.9M593.3 422.6h.9M592.8 469.1h.9M592.6 461.4h.9M593.5 443.8h.9M592.5 444.0h.9M593.4 437.9h.9M592.9 440.3h.9M593.8 461.8h.9M593.8 410.2h.9M592.4 424.1h.9M593.8 411.9h.9M593.1 439.0h.9M593.8 444.7h.9M593.4 427.5h.9M592.2 444.4h.9M592.5 441.6h.9M593.1 441.4h.9M593.7 424.2h.9M592.9 444.4h.9M593.6 440.0h.9M593.1 448.0h.9M592.8 438.1h.9M593.5 444.0h.9M592.6 425.2h.9M592.7 459.0h.9M592.5 446.7h.9M592.5 466.9h.9M592.2 449.7h.9M592.9 465.6h.9M592.9 444.9h.9M593.3 444.7h.9M593.5 471.2h.9M592.6 411.1h.9M592.2 461.6h.9M592.6 471.6h.9M592.2 413.4h.9M592.7 459.4h.9M593.4 429.3h.9M592.5 459.9h.9M593.1 435.0h.9M592.3 429.7h.9M593.6 454.4h.9M593.6 419.2h.9M592.8 419.6h.9M593.4 443.5h.9M592.8 426.5h.9M592.3 410.7h.9M593.6 434.7h.9M593.3 431.4h.9M592.2 420.9h.9M593.8 455.6h.9M593.1 420.3h.9M592.2 423.5h.9M593.7 410.2h.9M592.4 441.2h.9M593.1 437.8h.9M593.4 431.7h.9M592.7 445.5h.9M593.1 428.3h.9M593.1 442.3h.9M592.5 457.2h.9M592.9 448.8h.9M593.4 458.7h.9M592.4 416.2h.9M593.6 446.8h.9M592.9 420.8h.9M593.7 464.6h.9M593.0 434.0h.9M592.1 445.9h.9M592.4 428.8h.9M592.9 424.8h.9M592.8 444.9h.9M593.6 460.3h.9M592.8 466.0h.9M593.0 415.2h.9M592.2 467.0h.9M593.7 420.4h.9M593.0 465.4h.9M593.4 427.3h.9M592.5 455.9h.9M593.4 468.6h.9M593.2 447.4h.9M593.6 468.7h.9M593.2 439.7h.9M592.7 429.2h.9M592.2 425.0h.9M593.8 443.3h.9M592.6 445.2h.9M593.0 444.1h.9M592.1 433.1h.9M593.8 459.5h.9M593.7 427.8h.9M593.1 419.6h.9M592.9 428.0h.9M592.4 423.6h.9M593.4 432.1h.9M592.4 433.7h.9M592.6 462.8h.9M593.0 469.5h.9M593.1 470.0h.9M593.4 450.2h.9M592.8 444.4h.9M592.4 451.5h.9M592.8 439.2h.9M593.1 422.8h.9M592.5 434.4h.9M593.6 451.3h.9M592.5 458.1h.9M592.3 473.1h.9M593.5 441.8h.9M593.7 463.6h.9M593.0 440.3h.9M593.2 437.6h.9M593.8 413.0h.9M592.1 465.8h.9M592.5 435.4h.9M593.2 412.4h.9M593.4 469.9h.9M592.3 445.4h.9M593.7 432.0h.9M592.1 442.0h.9M593.3 429.0h.9M593.7 442.3h.9M593.1 456.2h.9M593.3 426.3h.9M592.6 470.0h.9M592.7 429.6h.9M592.2 459.8h.9M593.4 413.0h.9M592.8 424.7h.9M593.3 434.1h.9" stroke="#008a00" stroke-width="0.9" fill="none"/>
<line x1="593.5" y1="409.5" x2="593.5" y2="473.4" stroke="#008a00" stroke-width="1.0" stroke-opacity="0.75"/>
<path d="M602.0 422.3h.9M602.1 420.3h.9M602.1 438.9h.9M601.3 428.6h.9M602.2 428.4h.9M601.1 422.2h.9M601.9 438.4h.9M601.8 426.4h.9M601.5 427.2h.9M601.4 440.4h.9M601.8 412.5h.9M601.8 436.5h.9M601.1 428.0h.9M601.1 456.0h.9M601.7 463.7h.9M602.7 433.4h.9M602.3 440.8h.9M602.2 408.8h.9M602.0 413.2h.9M601.8 446.0h.9M601.6 447.6h.9M602.4 415.8h.9M602.4 444.3h.9M602.6 408.5h.9M602.4 427.8h.9M601.0 419.1h.9M602.1 429.7h.9M602.4 421.4h.9M601.1 448.6h.9M601.9 431.1h.9M601.4 422.5h.9M602.4 421.2h.9M601.4 439.0h.9M601.0 430.7h.9M602.2 438.7h.9M602.5 438.8h.9M602.7 455.2h.9M602.7 437.0h.9M602.7 436.6h.9M601.6 426.2h.9M601.7 435.5h.9M602.0 426.6h.9M601.4 448.2h.9M602.1 430.4h.9M601.8 425.3h.9M601.6 464.8h.9M602.5 439.3h.9M602.5 429.7h.9M601.1 431.4h.9M601.1 469.2h.9M602.3 413.6h.9M602.4 408.1h.9M602.5 421.3h.9M601.5 438.4h.9M601.3 450.0h.9M601.8 409.2h.9M601.0 421.3h.9M601.3 425.0h.9M602.5 436.2h.9M601.3 448.0h.9M602.5 433.0h.9M601.4 465.0h.9M601.8 436.2h.9M602.2 442.1h.9M602.2 423.8h.9M601.1 427.3h.9M601.7 435.8h.9M602.6 434.7h.9M601.9 435.8h.9M601.0 405.7h.9M602.6 445.2h.9M602.0 438.8h.9M602.0 437.7h.9M601.6 434.1h.9M601.7 453.9h.9M602.3 469.1h.9M601.1 423.6h.9M601.9 439.3h.9M601.9 437.2h.9M602.0 421.9h.9M601.3 445.1h.9M602.1 412.2h.9M602.6 440.4h.9M601.7 440.8h.9M601.6 424.6h.9M601.7 442.0h.9M601.8 425.5h.9M602.2 448.6h.9M602.6 409.3h.9M602.0 460.3h.9M602.3 459.1h.9M601.7 408.7h.9M602.3 469.8h.9M601.3 409.2h.9M601.6 422.4h.9M602.0 441.1h.9M602.3 454.2h.9M601.1 437.8h.9M602.0 434.4h.9M601.4 431.7h.9M602.0 403.6h.9M602.4 423.9h.9M602.6 426.6h.9M602.7 435.1h.9M601.3 435.8h.9M602.6 428.6h.9M602.7 405.6h.9M602.2 435.6h.9M602.0 433.0h.9M602.6 449.3h.9M601.7 455.6h.9M601.0 405.7h.9M601.1 408.8h.9M602.5 433.4h.9M601.4 443.1h.9M602.5 469.8h.9M601.5 451.8h.9M601.1 416.9h.9M601.5 459.8h.9M601.9 464.0h.9M601.6 434.1h.9M602.5 437.3h.9M602.0 406.1h.9M602.1 447.8h.9M602.1 436.8h.9M601.5 470.1h.9M601.5 416.8h.9M601.6 428.8h.9M601.3 421.3h.9M602.2 443.5h.9M601.8 469.6h.9M601.5 438.7h.9M601.0 427.6h.9M601.7 442.2h.9M602.2 417.0h.9M601.1 417.5h.9M601.7 419.3h.9M601.3 404.5h.9M602.7 431.6h.9M602.3 442.5h.9M601.0 462.9h.9M601.6 462.4h.9M602.2 430.3h.9M601.8 403.4h.9M601.3 440.4h.9M601.1 436.6h.9M602.1 445.6h.9M601.8 419.1h.9M602.7 426.7h.9M601.4 455.1h.9M601.4 445.5h.9M602.1 467.6h.9M602.6 405.4h.9M601.0 427.7h.9M602.1 431.9h.9M601.4 453.8h.9M601.5 442.6h.9M602.3 421.3h.9M602.3 423.8h.9M602.4 427.2h.9M601.3 435.5h.9M601.5 439.3h.9M601.0 405.9h.9M602.0 422.3h.9M601.9 414.9h.9M601.1 425.7h.9M602.6 420.4h.9M601.2 418.1h.9M602.4 436.9h.9M602.7 421.5h.9M602.1 434.7h.9M601.7 444.5h.9M601.3 461.0h.9M601.5 442.5h.9M602.4 463.1h.9M602.7 457.1h.9M602.1 421.2h.9M601.8 438.3h.9M601.8 406.2h.9M602.4 440.5h.9M601.3 452.1h.9M602.0 421.2h.9M601.3 465.5h.9M602.6 427.8h.9M601.7 405.2h.9M602.5 467.5h.9M601.2 434.3h.9M601.4 422.7h.9M601.9 455.3h.9M601.4 411.4h.9" stroke="#008888" stroke-width="0.9" fill="none"/>
<line x1="602.3" y1="403.3" x2="602.3" y2="470.7" stroke="#008888" stroke-width="1.0" stroke-opacity="0.75"/>
<path d="M611.2 404.1h.9M611.2 442.5h.9M611.5 403.6h.9M610.3 442.1h.9M609.9 457.3h.9M610.4 417.2h.9M611.4 454.2h.9M610.4 432.5h.9M610.8 466.2h.9M611.0 421.9h.9M610.4 446.1h.9M611.1 456.2h.9M611.5 432.0h.9M611.3 433.8h.9M610.1 432.2h.9M610.4 448.1h.9M611.1 397.9h.9M610.1 400.5h.9M611.1 448.8h.9M610.2 433.0h.9M611.1 448.1h.9M611.2 436.8h.9M610.1 402.8h.9M610.1 461.6h.9M611.6 418.8h.9M610.3 415.8h.9M610.5 408.3h.9M611.3 431.8h.9M610.4 402.5h.9M609.8 420.9h.9M610.7 430.1h.9M611.2 439.4h.9M611.6 397.6h.9M611.1 422.0h.9M610.7 413.1h.9M610.3 432.8h.9M610.0 427.6h.9M610.1 438.8h.9M611.4 425.5h.9M610.1 462.8h.9M611.1 429.1h.9M611.0 418.3h.9M610.9 424.4h.9M610.7 443.0h.9M610.1 437.7h.9M611.3 437.4h.9M611.5 431.7h.9M611.1 449.5h.9M611.1 413.0h.9M610.7 428.3h.9M610.2 411.8h.9M611.2 448.9h.9M610.9 418.4h.9M610.1 422.4h.9M610.7 428.9h.9M609.9 427.1h.9M611.5 434.1h.9M611.2 458.3h.9M610.6 433.9h.9M610.1 434.7h.9M610.6 417.2h.9M611.4 405.8h.9M610.0 415.1h.9M611.2 438.4h.9M611.0 463.3h.9M611.3 462.1h.9M610.6 441.0h.9M611.6 432.7h.9M610.5 420.9h.9M611.2 462.3h.9M610.1 461.0h.9M610.4 446.0h.9M611.3 419.9h.9M609.9 409.6h.9M610.9 430.7h.9M610.8 438.2h.9M610.8 423.9h.9M610.6 424.6h.9M611.3 402.9h.9M611.1 423.6h.9M610.0 419.1h.9M610.1 411.4h.9M610.0 401.0h.9M610.2 413.5h.9M610.9 421.5h.9M610.1 401.8h.9M610.6 411.4h.9M610.9 455.9h.9M611.5 434.1h.9M611.3 431.8h.9M611.0 397.6h.9M610.0 417.6h.9M610.0 418.2h.9M610.7 460.8h.9M611.2 407.6h.9M611.2 448.4h.9M611.5 424.4h.9M610.9 401.1h.9M610.3 433.0h.9M610.4 438.1h.9M610.2 409.8h.9M610.4 396.8h.9M610.2 424.0h.9M611.3 448.0h.9M609.9 397.0h.9M610.3 422.3h.9M610.0 449.4h.9M610.7 443.9h.9M611.4 437.9h.9M610.7 424.6h.9M611.0 458.3h.9M609.9 443.2h.9M611.0 432.6h.9M610.3 422.1h.9M610.2 410.2h.9M611.3 422.7h.9M610.1 423.3h.9M610.9 433.3h.9M610.5 407.9h.9M610.4 410.6h.9M610.6 460.4h.9M610.2 449.5h.9M611.3 457.0h.9M611.1 416.2h.9M611.5 423.7h.9M610.1 436.2h.9M611.4 425.4h.9M610.3 420.0h.9M610.2 466.5h.9M611.0 411.9h.9M611.2 427.3h.9M610.4 443.4h.9M609.8 425.8h.9M610.0 405.3h.9M610.7 451.0h.9M611.4 436.9h.9M609.8 458.0h.9M610.7 431.1h.9M610.4 455.0h.9M611.1 409.6h.9M610.3 427.2h.9M610.7 421.4h.9M611.3 416.9h.9M610.2 422.1h.9M610.7 398.1h.9M610.0 423.3h.9M611.5 424.7h.9M611.5 411.2h.9M609.8 406.9h.9M610.1 428.6h.9M611.5 431.8h.9M611.1 432.8h.9M611.3 410.6h.9M610.7 416.0h.9M611.0 411.4h.9M610.0 415.3h.9M611.1 433.5h.9M611.4 436.1h.9M610.8 416.6h.9M610.3 431.8h.9M610.8 425.2h.9M611.1 413.8h.9M610.1 434.7h.9M610.4 430.8h.9M610.1 437.7h.9M610.3 402.5h.9M611.2 436.0h.9M610.6 442.4h.9M611.5 408.1h.9M610.7 396.7h.9M610.6 453.9h.9M610.8 432.6h.9M610.9 433.8h.9M610.8 402.1h.9M611.3 444.6h.9M610.5 407.2h.9M610.1 431.5h.9M610.9 396.4h.9M611.2 401.6h.9M610.3 419.9h.9M610.2 457.8h.9M611.4 456.9h.9M610.4 410.6h.9M611.1 452.7h.9M611.5 419.9h.9M611.0 438.8h.9M610.9 426.7h.9M611.0 444.6h.9M611.2 403.9h.9M611.4 420.0h.9" stroke="#0000b0" stroke-width="0.9" fill="none"/>
<line x1="611.1" y1="396.3" x2="611.1" y2="466.5" stroke="#0000b0" stroke-width="1.0" stroke-opacity="0.75"/>
<path d="M620.3 413.3h.9M620.1 437.1h.9M618.8 415.2h.9M620.3 433.0h.9M619.1 420.8h.9M619.2 429.6h.9M619.9 415.9h.9M618.7 434.2h.9M619.6 426.3h.9M619.0 409.3h.9M619.6 399.0h.9M619.3 426.9h.9M619.3 415.5h.9M619.1 433.1h.9M619.4 412.6h.9M619.3 453.2h.9M619.1 424.6h.9M619.7 423.5h.9M619.3 428.5h.9M619.9 434.4h.9M620.3 407.4h.9M620.1 422.0h.9M619.6 464.2h.9M618.9 418.5h.9M620.0 431.7h.9M619.4 407.2h.9M620.4 465.5h.9M619.2 429.2h.9M619.4 446.5h.9M619.8 456.4h.9M619.4 465.1h.9M620.4 418.6h.9M620.3 440.6h.9M619.4 436.0h.9M619.5 451.5h.9M620.0 436.1h.9M618.8 448.2h.9M620.1 434.7h.9M619.7 422.8h.9M618.9 426.8h.9M620.2 409.7h.9M618.8 431.8h.9M618.7 399.3h.9M619.0 396.7h.9M620.2 440.6h.9M620.1 436.4h.9M618.9 420.6h.9M618.7 419.0h.9M620.0 457.5h.9M620.2 466.5h.9M619.5 433.3h.9M620.4 462.3h.9M620.1 407.7h.9M619.8 419.9h.9M620.0 428.5h.9M620.3 432.0h.9M619.2 427.4h.9M619.5 462.8h.9M620.1 432.4h.9M619.4 403.5h.9M619.1 436.0h.9M619.0 398.5h.9M619.5 455.7h.9M619.4 420.6h.9M620.1 427.9h.9M619.5 435.2h.9M618.7 408.9h.9M620.0 420.5h.9M619.8 465.0h.9M618.9 409.1h.9M618.7 437.0h.9M620.3 427.1h.9M619.6 408.6h.9M618.9 399.1h.9M619.6 452.6h.9M620.0 437.6h.9M619.4 439.6h.9M619.6 439.0h.9M619.7 422.3h.9M620.1 437.6h.9M619.2 417.6h.9M620.3 447.5h.9M619.9 403.7h.9M619.2 444.1h.9M620.4 454.7h.9M620.1 461.4h.9M619.7 421.6h.9M619.7 435.6h.9M618.7 425.7h.9M620.4 452.5h.9M618.7 427.9h.9M619.4 434.0h.9M618.7 427.0h.9M620.0 422.4h.9M620.3 452.7h.9M618.9 438.9h.9M619.2 413.1h.9M618.9 402.1h.9M619.3 402.6h.9M619.3 432.9h.9M619.3 458.5h.9M618.7 414.4h.9M618.7 412.0h.9M620.4 456.0h.9M619.8 396.9h.9M620.4 434.6h.9M619.3 434.6h.9M619.1 439.5h.9M620.4 426.1h.9M620.3 427.6h.9M619.1 410.1h.9M620.4 438.8h.9M619.3 429.3h.9M618.9 419.5h.9M620.4 410.3h.9M619.3 429.7h.9M619.6 402.2h.9M618.9 397.0h.9M620.2 401.0h.9M619.2 420.4h.9M620.3 428.4h.9M619.2 392.9h.9M619.9 433.9h.9M620.0 431.7h.9M619.5 407.8h.9M620.3 465.6h.9M620.4 405.4h.9M619.2 422.5h.9M619.5 435.0h.9M619.2 406.3h.9M619.8 423.9h.9M619.5 405.2h.9M618.8 418.1h.9M619.6 398.9h.9M619.3 418.1h.9M620.3 400.6h.9M620.0 426.0h.9M618.7 432.2h.9M620.3 393.4h.9M618.7 440.4h.9M620.4 393.2h.9M619.5 392.3h.9M620.0 436.0h.9M619.9 407.9h.9M619.2 456.0h.9M619.2 436.3h.9M618.9 425.8h.9M619.8 408.1h.9M619.3 451.1h.9M619.6 430.2h.9M619.8 458.6h.9M620.2 415.5h.9M619.0 430.9h.9M620.0 393.8h.9M620.2 433.4h.9M619.5 435.7h.9M620.1 407.8h.9M618.8 425.1h.9M619.2 395.7h.9M619.1 443.3h.9M618.9 419.5h.9M619.0 443.9h.9M620.4 465.3h.9M619.7 454.3h.9M620.4 433.8h.9M620.4 391.9h.9M619.7 438.5h.9M618.8 457.2h.9M620.1 429.9h.9M619.8 413.4h.9M619.6 424.7h.9M620.2 409.4h.9M618.9 461.8h.9M619.9 392.5h.9M619.7 457.2h.9M620.0 424.2h.9M619.1 415.8h.9M618.9 424.8h.9M619.1 460.2h.9M619.8 412.8h.9M619.3 400.5h.9M619.0 416.1h.9M618.7 419.2h.9M620.2 412.6h.9M619.4 420.1h.9M619.2 403.9h.9M618.8 435.3h.9M619.6 399.5h.9M619.3 399.4h.9M619.2 429.2h.9" stroke="#ff8400" stroke-width="0.9" fill="none"/>
<line x1="620" y1="391.9" x2="620" y2="466.5" stroke="#ff8400" stroke-width="1.0" stroke-opacity="0.75"/>
<path d="M627.7 416.6h.9M628.8 426.5h.9M629.2 422.7h.9M628.6 409.8h.9M627.5 457.7h.9M628.5 394.1h.9M629.0 410.8h.9M627.5 430.3h.9M628.4 411.7h.9M628.7 451.5h.9M628.3 403.7h.9M628.3 395.0h.9M627.6 414.9h.9M628.7 403.6h.9M628.0 453.5h.9M627.6 413.2h.9M628.5 406.5h.9M627.8 388.5h.9M629.2 441.2h.9M627.9 409.6h.9M628.4 425.9h.9M628.6 405.8h.9M628.9 422.1h.9M628.4 412.6h.9M628.3 450.6h.9M628.0 449.2h.9M628.5 398.3h.9M627.6 422.1h.9M629.0 418.9h.9M629.0 404.4h.9M628.7 399.2h.9M627.9 411.5h.9M627.5 433.6h.9M628.8 435.7h.9M629.0 395.6h.9M628.5 449.1h.9M627.6 425.4h.9M628.7 390.8h.9M627.7 436.3h.9M629.1 441.6h.9M629.2 413.7h.9M628.6 446.9h.9M628.7 391.7h.9M628.1 399.7h.9M628.7 421.2h.9M628.3 434.6h.9M628.7 425.5h.9M628.1 433.7h.9M628.1 423.2h.9M628.4 459.6h.9M628.6 409.9h.9M629.1 444.0h.9M628.2 428.1h.9M629.2 445.6h.9M628.5 404.0h.9M629.2 416.1h.9M627.8 454.7h.9M628.5 406.0h.9M627.5 386.5h.9M627.7 439.3h.9M629.2 434.4h.9M629.0 429.5h.9M629.3 419.9h.9M628.2 411.2h.9M627.5 403.1h.9M629.2 404.4h.9M629.1 453.1h.9M627.6 437.0h.9M628.9 455.8h.9M629.2 459.1h.9M627.9 444.3h.9M627.9 429.8h.9M629.3 447.7h.9M628.6 458.9h.9M628.8 451.0h.9M628.3 397.8h.9M627.7 388.7h.9M628.4 425.8h.9M627.6 406.4h.9M628.9 391.6h.9M629.1 424.0h.9M628.0 392.2h.9M628.5 431.2h.9M627.8 428.0h.9M628.8 456.1h.9M629.1 419.6h.9M628.7 411.0h.9M628.8 398.1h.9M627.6 421.0h.9M628.4 423.2h.9M628.6 413.8h.9M628.9 425.6h.9M628.4 442.0h.9M628.0 439.2h.9M628.0 421.4h.9M629.2 452.2h.9M628.9 417.9h.9M629.2 397.4h.9M628.1 423.5h.9M627.6 449.9h.9M629.3 412.6h.9M627.7 435.3h.9M628.8 400.8h.9M628.8 431.0h.9M627.9 423.0h.9M628.6 409.9h.9M628.4 412.4h.9M629.2 440.0h.9M628.3 423.3h.9M628.3 388.3h.9M627.8 442.9h.9M627.9 417.3h.9M628.4 403.6h.9M627.9 430.1h.9M627.8 421.2h.9M627.5 449.7h.9M629.1 429.4h.9M628.7 429.4h.9M628.0 437.3h.9M628.3 440.1h.9M628.8 438.5h.9M629.0 430.6h.9M627.5 446.9h.9M628.8 443.3h.9M627.9 453.8h.9M629.2 424.9h.9M627.6 435.2h.9M627.6 430.8h.9M628.9 437.1h.9M629.2 420.9h.9M628.1 440.9h.9M628.6 419.3h.9M628.5 420.4h.9M628.3 402.2h.9M628.7 417.2h.9M628.7 409.6h.9M628.8 392.0h.9M628.4 426.5h.9M628.0 414.7h.9M627.8 436.5h.9M628.5 387.6h.9M627.7 425.8h.9M627.7 429.8h.9M628.9 427.4h.9M627.9 427.9h.9M629.3 449.5h.9M627.8 446.8h.9M628.6 454.6h.9M628.5 449.5h.9M627.5 418.9h.9M629.2 451.4h.9M628.8 427.1h.9M628.3 415.2h.9M628.5 387.0h.9M628.2 444.3h.9M627.7 426.0h.9M629.0 414.6h.9M629.2 416.9h.9M627.8 414.8h.9M627.5 428.4h.9M627.7 415.0h.9M628.4 434.0h.9M628.0 442.2h.9M628.3 457.0h.9M628.3 434.7h.9M628.5 431.3h.9M627.9 461.8h.9M628.7 451.9h.9M628.8 428.0h.9M629.2 424.7h.9M629.1 424.7h.9M628.2 409.6h.9M628.1 435.9h.9M628.6 429.2h.9M627.7 420.6h.9M628.3 452.9h.9M628.8 462.8h.9M628.8 448.4h.9M628.7 445.0h.9M628.8 428.3h.9M628.8 419.2h.9M629.0 416.8h.9M629.0 425.9h.9M629.1 417.6h.9M628.1 423.4h.9M628.1 427.3h.9M628.0 433.6h.9M628.9 448.1h.9M628.9 409.7h.9M627.8 424.2h.9" stroke="#8400ff" stroke-width="0.9" fill="none"/>
<line x1="628.9" y1="384.9" x2="628.9" y2="462.9" stroke="#8400ff" stroke-width="1.0" stroke-opacity="0.75"/>
<path d="M636.9 400.7h.9M638.0 458.4h.9M637.3 408.3h.9M636.7 426.0h.9M637.7 383.9h.9M637.7 443.5h.9M637.0 408.5h.9M636.7 394.3h.9M636.4 422.2h.9M637.2 425.7h.9M637.1 442.8h.9M637.3 439.5h.9M637.7 384.0h.9M637.6 430.6h.9M637.1 410.9h.9M636.7 411.3h.9M638.1 425.1h.9M637.5 413.7h.9M637.7 436.0h.9M636.9 447.5h.9M637.8 407.2h.9M636.7 452.8h.9M636.8 453.0h.9M637.5 417.4h.9M638.1 425.4h.9M636.4 439.7h.9M637.5 445.1h.9M636.5 448.7h.9M636.7 388.9h.9M637.8 410.0h.9M636.6 407.2h.9M637.8 401.5h.9M637.5 428.3h.9M636.8 411.9h.9M636.8 433.4h.9M636.9 394.4h.9M637.1 434.1h.9M636.8 400.5h.9M636.8 430.8h.9M637.6 431.9h.9M637.9 459.1h.9M637.7 451.7h.9M636.8 434.0h.9M637.7 427.4h.9M638.1 408.2h.9M636.7 446.4h.9M638.1 443.0h.9M637.9 417.3h.9M638.0 448.7h.9M637.7 408.8h.9M636.8 459.9h.9M636.4 458.4h.9M637.8 422.3h.9M637.1 429.8h.9M638.0 427.5h.9M637.3 458.5h.9M638.1 448.7h.9M636.9 394.8h.9M637.8 436.6h.9M637.7 413.6h.9M637.8 444.4h.9M637.8 440.5h.9M637.3 456.8h.9M636.8 439.3h.9M637.0 420.7h.9M638.1 407.0h.9M637.3 407.6h.9M637.5 409.2h.9M637.8 427.5h.9M636.6 408.6h.9M637.5 426.1h.9M636.4 400.4h.9M636.5 426.8h.9M636.7 426.5h.9M637.6 389.7h.9M638.1 391.6h.9M637.0 428.5h.9M636.4 383.3h.9M636.6 400.8h.9M638.0 407.3h.9M636.7 423.7h.9M637.3 401.4h.9M636.8 399.9h.9M637.5 416.6h.9M637.3 412.2h.9M636.9 438.0h.9M637.2 404.2h.9M637.1 422.3h.9M638.1 421.5h.9M637.1 414.2h.9M637.3 422.0h.9M637.3 418.5h.9M637.4 458.6h.9M636.4 420.7h.9M636.9 432.5h.9M637.9 428.8h.9M636.6 386.7h.9M636.5 417.4h.9M637.8 401.7h.9M637.7 407.4h.9M637.7 451.4h.9M637.0 399.3h.9M636.6 410.9h.9M637.9 412.4h.9M636.4 449.1h.9M637.9 414.2h.9M636.9 423.6h.9M637.8 445.0h.9M636.5 409.0h.9M638.0 432.7h.9M638.0 396.4h.9M638.1 401.1h.9M637.5 415.4h.9M638.1 423.9h.9M637.5 403.4h.9M638.0 391.0h.9M636.8 424.4h.9M637.3 443.8h.9M636.6 456.9h.9M637.8 405.8h.9M637.4 394.0h.9M636.5 429.6h.9M637.1 433.2h.9M638.1 433.3h.9M636.8 402.3h.9M637.5 445.0h.9M638.1 431.5h.9M637.7 435.0h.9M637.9 433.8h.9M638.1 430.3h.9M637.3 387.2h.9M637.4 429.7h.9M636.6 456.4h.9M636.9 390.3h.9M637.3 455.2h.9M637.2 390.1h.9M636.5 419.7h.9M637.4 396.8h.9M637.3 425.4h.9M638.1 427.2h.9M636.6 445.5h.9M637.8 407.8h.9M637.9 425.0h.9M637.5 441.7h.9M638.0 399.5h.9M636.6 399.9h.9M638.1 450.9h.9M638.0 456.9h.9M637.3 447.6h.9M637.9 408.2h.9M637.1 383.7h.9M637.9 405.6h.9M636.5 395.6h.9M636.8 434.5h.9M636.8 450.7h.9M637.6 384.5h.9M636.9 414.6h.9M636.5 446.6h.9M637.6 419.6h.9M637.1 452.6h.9M637.7 406.9h.9M636.8 428.9h.9M637.4 413.0h.9M637.2 427.2h.9M637.3 407.0h.9M637.0 449.6h.9M637.7 402.8h.9M636.7 424.0h.9M638.0 408.9h.9M637.9 424.8h.9M637.2 428.6h.9M637.0 415.5h.9M637.9 390.9h.9M636.5 427.1h.9M637.7 390.4h.9M637.0 410.6h.9M638.0 455.2h.9M637.7 415.3h.9M637.5 398.2h.9M638.0 450.9h.9M636.8 421.8h.9M637.9 441.8h.9M638.0 422.6h.9M636.9 408.2h.9M637.3 398.6h.9M636.5 429.6h.9M636.8 408.0h.9M636.6 450.5h.9M637.8 418.8h.9M637.8 432.4h.9" stroke="#ff0088" stroke-width="0.9" fill="none"/>
<line x1="637.7" y1="383.1" x2="637.7" y2="462.9" stroke="#ff0088" stroke-width="1.0" stroke-opacity="0.75"/>
<path d="M646.1 413.0h.9M646.9 418.5h.9M645.3 384.8h.9M646.6 430.5h.9M646.5 456.2h.9M645.7 431.1h.9M646.5 405.6h.9M645.5 411.4h.9M645.7 406.5h.9M645.6 450.8h.9M645.7 424.0h.9M646.5 451.0h.9M646.2 420.9h.9M646.5 428.4h.9M646.2 432.6h.9M646.5 392.7h.9M646.0 457.6h.9M646.7 430.3h.9M646.3 430.9h.9M645.6 459.0h.9M646.9 457.7h.9M645.8 454.2h.9M646.5 432.4h.9M645.2 451.7h.9M646.5 419.6h.9M646.9 409.2h.9M646.9 387.5h.9M645.3 438.1h.9M645.4 417.3h.9M646.4 394.3h.9M646.8 450.2h.9M646.4 460.3h.9M645.5 423.3h.9M646.8 429.0h.9M646.5 424.7h.9M646.8 457.0h.9M646.1 436.3h.9M645.8 443.0h.9M646.1 386.2h.9M646.0 405.8h.9M646.5 453.7h.9M645.5 410.3h.9M645.4 427.5h.9M645.3 418.7h.9M645.6 431.0h.9M645.7 424.9h.9M646.9 395.5h.9M646.3 433.9h.9M646.5 413.3h.9M646.4 429.4h.9M645.7 414.4h.9M645.3 426.3h.9M646.8 427.1h.9M646.5 443.3h.9M646.4 433.7h.9M645.8 424.7h.9M646.0 429.8h.9M646.0 422.3h.9M646.4 450.3h.9M645.6 408.3h.9M647.0 404.0h.9M645.5 429.4h.9M646.3 413.7h.9M646.0 394.6h.9M645.6 454.5h.9M645.6 455.8h.9M646.6 393.7h.9M646.0 393.0h.9M646.3 458.2h.9M646.3 419.1h.9M645.3 410.9h.9M645.3 396.3h.9M646.9 386.0h.9M646.4 399.9h.9M645.6 408.5h.9M646.4 409.0h.9M646.1 435.6h.9M646.1 425.7h.9M646.9 427.0h.9M646.3 411.0h.9M646.2 409.4h.9M645.3 420.7h.9M646.3 432.8h.9M646.5 407.4h.9M645.2 457.0h.9M646.5 406.3h.9M646.9 420.1h.9M646.7 445.3h.9M646.1 409.3h.9M645.7 439.1h.9M646.8 412.2h.9M646.1 407.9h.9M645.4 393.1h.9M645.9 429.5h.9M645.4 419.8h.9M646.4 391.7h.9M646.4 389.4h.9M646.4 443.0h.9M646.7 413.9h.9M646.1 414.8h.9M646.3 453.0h.9M645.3 452.5h.9M645.3 418.8h.9M646.5 456.0h.9M646.1 401.9h.9M646.4 400.5h.9M646.5 420.1h.9M645.7 422.3h.9M646.8 423.8h.9M646.0 404.7h.9M646.8 455.9h.9M645.9 389.4h.9M645.7 427.2h.9M646.7 400.1h.9M645.6 427.2h.9M646.1 404.6h.9M646.2 451.4h.9M646.8 432.4h.9M646.6 420.3h.9M645.2 462.9h.9M646.3 390.1h.9M646.1 446.7h.9M646.5 437.7h.9M646.6 431.0h.9M646.5 462.5h.9M646.9 435.2h.9M646.2 450.0h.9M645.2 410.2h.9M645.7 408.4h.9M645.9 420.5h.9M646.7 421.9h.9M645.4 428.0h.9M646.1 408.8h.9M646.1 421.3h.9M646.9 459.9h.9M646.0 385.8h.9M646.5 385.6h.9M645.3 421.8h.9M646.4 401.7h.9M646.8 432.2h.9M645.4 457.2h.9M646.9 440.0h.9M646.8 423.8h.9M646.6 460.4h.9M645.8 422.0h.9M646.7 390.6h.9M647.0 441.6h.9M646.4 436.4h.9M645.7 423.9h.9M645.5 406.2h.9M645.6 418.0h.9M645.6 433.2h.9M646.3 431.9h.9M646.0 385.4h.9M647.0 418.0h.9M645.4 421.2h.9M646.5 407.5h.9M645.3 427.3h.9M645.4 427.4h.9M645.6 394.9h.9M645.8 430.8h.9M646.3 409.5h.9M646.4 431.0h.9M646.3 427.5h.9M645.7 434.9h.9M646.8 443.7h.9M645.6 396.8h.9M645.5 402.8h.9M645.6 429.7h.9M646.4 444.0h.9M645.3 413.0h.9M646.9 433.7h.9M646.5 440.9h.9M645.8 431.2h.9M645.7 423.5h.9M645.5 449.7h.9M645.7 416.5h.9M645.7 431.7h.9M646.7 415.7h.9M646.3 420.6h.9M645.5 458.3h.9M645.7 445.4h.9M646.1 454.7h.9M645.2 420.6h.9M645.2 439.2h.9M645.6 445.6h.9M645.7 420.5h.9M645.6 447.3h.9M647.0 445.9h.9M646.5 388.3h.9" stroke="#f0c8f0" stroke-width="0.9" fill="none"/>
<line x1="646.5" y1="383.1" x2="646.5" y2="462.9" stroke="#f0c8f0" stroke-width="1.0" stroke-opacity="0.75"/>
<path d="M655.3 419.6h.9M655.5 434.2h.9M655.4 419.5h.9M655.4 432.2h.9M655.6 393.4h.9M655.0 439.8h.9M654.1 454.8h.9M654.1 393.0h.9M654.9 413.5h.9M655.7 423.3h.9M654.1 417.9h.9M655.7 438.3h.9M655.1 443.9h.9M655.6 417.0h.9M655.2 398.5h.9M654.4 389.3h.9M655.1 410.6h.9M655.3 428.6h.9M655.1 406.1h.9M654.9 435.8h.9M655.1 430.2h.9M655.1 443.7h.9M655.3 426.5h.9M655.1 399.4h.9M655.2 390.4h.9M654.2 414.8h.9M654.6 426.8h.9M654.9 429.1h.9M655.6 445.7h.9M655.4 444.0h.9M655.2 383.8h.9M654.1 417.9h.9M655.3 432.3h.9M654.7 458.0h.9M654.3 403.9h.9M654.8 435.0h.9M655.4 452.7h.9M654.8 395.1h.9M654.8 410.1h.9M654.5 409.1h.9M655.1 419.0h.9M654.6 413.3h.9M654.1 430.5h.9M655.1 401.3h.9M654.9 417.2h.9M655.1 424.7h.9M655.0 427.3h.9M654.3 432.8h.9M655.8 409.7h.9M655.8 456.1h.9M654.6 441.3h.9M655.6 446.8h.9M654.9 424.4h.9M655.8 460.3h.9M655.3 440.0h.9M654.7 413.7h.9M655.5 390.4h.9M654.8 404.7h.9M654.2 411.4h.9M655.4 457.8h.9M655.8 418.0h.9M655.7 415.1h.9M655.1 429.9h.9M654.5 454.0h.9M655.5 405.8h.9M654.7 421.7h.9M655.6 398.8h.9M655.6 393.1h.9M654.5 412.1h.9M654.5 430.1h.9M655.4 445.6h.9M655.0 401.9h.9M654.2 409.0h.9M655.6 385.4h.9M655.0 441.2h.9M654.7 393.7h.9M654.3 406.8h.9M655.0 441.4h.9M655.7 409.8h.9M655.7 384.8h.9M654.7 401.3h.9M655.6 455.6h.9M655.7 427.1h.9M655.1 383.7h.9M655.3 405.9h.9M655.6 401.1h.9M654.5 442.0h.9M654.7 408.9h.9M654.4 422.2h.9M655.6 455.1h.9M654.9 425.8h.9M655.4 390.9h.9M654.2 411.0h.9M654.6 440.7h.9M654.1 435.7h.9M654.1 395.3h.9M655.3 401.4h.9M655.5 425.4h.9M655.1 462.2h.9M654.1 438.4h.9M654.6 393.1h.9M655.2 434.9h.9M654.1 461.6h.9M654.8 405.8h.9M654.1 393.2h.9M654.9 427.5h.9M655.6 419.8h.9M655.0 438.0h.9M655.8 424.6h.9M655.2 459.1h.9M654.6 457.8h.9M654.4 421.1h.9M654.1 398.7h.9M655.7 404.2h.9M655.8 422.3h.9M654.2 447.2h.9M654.6 442.3h.9M655.2 461.0h.9M655.2 422.0h.9M654.1 423.5h.9M654.4 408.2h.9M654.6 430.9h.9M655.3 396.2h.9M655.4 423.9h.9M655.1 436.6h.9M654.9 424.8h.9M655.1 425.9h.9M654.4 424.0h.9M654.7 414.0h.9M655.5 461.2h.9M655.7 385.7h.9M654.2 407.5h.9M655.5 413.1h.9M654.7 453.3h.9M655.6 423.1h.9M654.4 383.4h.9M654.1 434.2h.9M655.3 404.4h.9M655.0 418.8h.9M654.9 443.1h.9M654.3 433.5h.9M655.5 461.0h.9M654.7 425.0h.9M654.8 406.2h.9M655.1 443.8h.9M654.2 420.3h.9M654.7 413.9h.9M655.1 451.8h.9M654.4 427.6h.9M654.4 422.3h.9M655.0 427.5h.9M655.0 397.2h.9M654.7 434.7h.9M654.8 447.2h.9M654.2 410.1h.9M655.8 440.5h.9M655.4 406.2h.9M655.3 399.8h.9M655.1 412.5h.9M655.7 435.2h.9M654.4 388.5h.9M654.5 416.0h.9M655.0 385.4h.9M655.0 414.6h.9M654.5 419.3h.9M655.1 445.5h.9M655.4 462.0h.9M655.8 445.9h.9M655.8 427.0h.9M654.9 431.8h.9M655.3 406.3h.9M654.2 386.3h.9M655.3 449.9h.9M654.2 415.0h.9M654.5 409.5h.9M655.6 428.1h.9M655.6 444.9h.9M655.2 414.4h.9M654.2 418.7h.9M654.9 431.3h.9M655.4 446.6h.9M655.5 413.9h.9M655.1 408.2h.9M654.9 425.5h.9M654.5 409.0h.9M654.9 461.7h.9M655.6 431.2h.9M654.6 430.4h.9M655.3 412.0h.9M654.4 454.5h.9" stroke="#cccccc" stroke-width="0.9" fill="none"/>
<line x1="655.4" y1="383.1" x2="655.4" y2="462.9" stroke="#cccccc" stroke-width="1.0" stroke-opacity="0.75"/>
<path d="M663.7 408.6h.9M663.0 430.9h.9M663.2 445.9h.9M664.4 413.1h.9M663.2 432.1h.9M664.3 398.9h.9M663.3 434.7h.9M663.8 449.7h.9M663.0 426.5h.9M663.7 419.4h.9M663.3 456.1h.9M663.9 443.6h.9M663.8 423.9h.9M663.0 416.4h.9M663.2 403.3h.9M663.4 417.9h.9M664.4 416.4h.9M663.3 431.3h.9M663.7 388.3h.9M664.2 428.5h.9M664.0 458.6h.9M663.0 414.3h.9M663.3 407.8h.9M663.9 409.7h.9M663.0 408.1h.9M663.3 409.4h.9M663.3 404.6h.9M664.1 405.9h.9M663.1 402.0h.9M663.5 451.5h.9M663.4 417.2h.9M664.1 387.6h.9M664.6 457.2h.9M664.0 443.2h.9M662.9 424.1h.9M663.1 425.0h.9M662.9 415.1h.9M664.0 392.0h.9M664.6 403.9h.9M664.4 398.4h.9M663.0 386.1h.9M663.0 439.0h.9M664.0 418.3h.9M663.9 423.8h.9M663.2 406.8h.9M663.7 420.3h.9M663.2 408.0h.9M663.2 424.2h.9M663.7 418.3h.9M664.5 409.9h.9M664.0 415.6h.9M663.2 396.5h.9M663.1 454.1h.9M664.0 397.6h.9M664.3 461.3h.9M664.0 431.3h.9M663.4 414.4h.9M664.3 389.7h.9M663.0 403.8h.9M662.9 394.2h.9M664.6 391.6h.9M663.8 411.9h.9M664.6 456.4h.9M663.1 416.8h.9M664.2 407.3h.9M664.2 425.1h.9M663.5 429.9h.9M664.0 451.9h.9M663.2 388.3h.9M664.0 414.6h.9M664.6 404.1h.9M664.3 391.8h.9M663.5 454.2h.9M664.0 405.6h.9M664.1 403.2h.9M664.7 452.4h.9M663.1 450.3h.9M664.7 420.3h.9M664.3 411.2h.9M663.4 387.3h.9M664.0 426.8h.9M663.9 419.6h.9M663.0 427.5h.9M663.8 444.2h.9M664.4 387.9h.9M664.1 396.0h.9M663.9 427.5h.9M664.3 412.0h.9M664.6 427.1h.9M663.7 418.2h.9M663.9 402.1h.9M663.9 415.7h.9M664.2 412.3h.9M664.5 415.8h.9M663.6 410.0h.9M663.2 397.3h.9M664.1 384.3h.9M664.2 418.0h.9M663.6 422.6h.9M664.2 431.3h.9M663.0 412.3h.9M664.6 430.0h.9M664.6 414.6h.9M663.5 422.3h.9M663.4 409.2h.9M663.9 384.5h.9M663.1 409.6h.9M664.6 413.7h.9M664.0 438.7h.9M664.3 425.3h.9M664.4 435.7h.9M663.1 385.3h.9M663.8 410.2h.9M663.9 389.9h.9M664.2 446.8h.9M664.2 404.3h.9M663.2 405.2h.9M664.3 414.5h.9M663.8 428.1h.9M663.8 405.5h.9M663.5 401.2h.9M663.0 404.2h.9M663.8 406.7h.9M663.3 413.6h.9M663.6 405.8h.9M664.1 452.2h.9M663.7 407.6h.9M664.6 397.8h.9M663.4 413.8h.9M663.3 438.2h.9M664.4 447.3h.9M663.5 452.5h.9M664.6 411.7h.9M663.1 414.8h.9M663.2 436.7h.9M664.0 423.7h.9M663.1 450.2h.9M664.6 448.3h.9M664.2 408.1h.9M664.0 462.1h.9M663.9 409.5h.9M663.7 421.7h.9M664.5 427.7h.9M664.3 448.0h.9M664.5 449.1h.9M663.3 441.4h.9M663.7 399.4h.9M663.8 392.9h.9M663.9 416.2h.9M663.0 456.6h.9M663.7 402.7h.9M663.8 392.7h.9M664.2 406.2h.9M664.0 443.7h.9M664.4 460.8h.9M664.4 430.5h.9M663.0 412.1h.9M663.6 453.4h.9M663.0 389.0h.9M663.0 408.5h.9M663.4 425.5h.9M663.5 394.2h.9M663.9 435.8h.9M663.3 412.3h.9M663.5 396.6h.9M664.4 412.1h.9M663.6 392.8h.9M664.2 395.2h.9M663.0 429.4h.9M663.3 403.6h.9M664.6 454.0h.9M663.0 387.0h.9M663.1 426.7h.9M664.2 417.0h.9M662.9 400.8h.9M664.4 424.7h.9M664.1 404.3h.9M664.5 448.8h.9M663.4 459.0h.9M664.0 438.9h.9M663.8 415.0h.9M663.5 429.7h.9M663.6 447.9h.9M664.2 412.3h.9M663.3 387.3h.9M664.0 456.0h.9M663.0 411.0h.9M664.1 429.3h.9M663.6 413.2h.9M664.4 454.0h.9" stroke="#808080" stroke-width="0.9" fill="none"/>
<line x1="664.2" y1="383.1" x2="664.2" y2="462.9" stroke="#808080" stroke-width="1.0" stroke-opacity="0.75"/>
<rect x="492.8" y="452.6" width="6.6" height="16.7" fill="none" stroke="#2a2a2a" stroke-width="0.7"/>
<line x1="492.8" y1="460.9" x2="499.4" y2="460.9" stroke="#2a2a2a" stroke-width="0.7"/>
<rect x="501.7" y="453.3" width="6.6" height="17.4" fill="none" stroke="#2a2a2a" stroke-width="0.7"/>
<line x1="501.7" y1="461.6" x2="508.3" y2="461.6" stroke="#2a2a2a" stroke-width="0.7"/>
<rect x="510.5" y="453.3" width="6.6" height="16.7" fill="none" stroke="#2a2a2a" stroke-width="0.7"/>
<line x1="510.5" y1="461.6" x2="517.1" y2="461.6" stroke="#2a2a2a" stroke-width="0.7"/>
<rect x="519.4" y="452.6" width="6.6" height="16.0" fill="none" stroke="#2a2a2a" stroke-width="0.7"/>
<line x1="519.4" y1="460.9" x2="525.9" y2="460.9" stroke="#2a2a2a" stroke-width="0.7"/>
<rect x="528.2" y="449.8" width="6.6" height="16.7" fill="none" stroke="#2a2a2a" stroke-width="0.7"/>
<line x1="528.2" y1="458.9" x2="534.8" y2="458.9" stroke="#2a2a2a" stroke-width="0.7"/>
<rect x="537.1" y="448.4" width="6.6" height="15.3" fill="none" stroke="#2a2a2a" stroke-width="0.7"/>
<line x1="537.1" y1="456.1" x2="543.6" y2="456.1" stroke="#2a2a2a" stroke-width="0.7"/>
<rect x="545.9" y="445.6" width="6.6" height="16.0" fill="none" stroke="#2a2a2a" stroke-width="0.7"/>
<line x1="545.9" y1="453.3" x2="552.5" y2="453.3" stroke="#2a2a2a" stroke-width="0.7"/>
<rect x="554.8" y="441.5" width="6.6" height="17.4" fill="none" stroke="#2a2a2a" stroke-width="0.7"/>
<line x1="554.8" y1="449.8" x2="561.4" y2="449.8" stroke="#2a2a2a" stroke-width="0.7"/>
<rect x="563.6" y="437.3" width="6.6" height="17.4" fill="none" stroke="#2a2a2a" stroke-width="0.7"/>
<line x1="563.6" y1="445.6" x2="570.2" y2="445.6" stroke="#2a2a2a" stroke-width="0.7"/>
<rect x="572.5" y="432.4" width="6.6" height="19.5" fill="none" stroke="#2a2a2a" stroke-width="0.7"/>
<line x1="572.5" y1="442.2" x2="579" y2="442.2" stroke="#2a2a2a" stroke-width="0.7"/>
<rect x="581.3" y="427.6" width="6.6" height="20.2" fill="none" stroke="#2a2a2a" stroke-width="0.7"/>
<line x1="581.3" y1="438.7" x2="587.9" y2="438.7" stroke="#2a2a2a" stroke-width="0.7"/>
<rect x="590.2" y="423.4" width="6.6" height="22.2" fill="none" stroke="#2a2a2a" stroke-width="0.7"/>
<line x1="590.2" y1="435.2" x2="596.8" y2="435.2" stroke="#2a2a2a" stroke-width="0.7"/>
<rect x="599.0" y="419.9" width="6.6" height="22.9" fill="none" stroke="#2a2a2a" stroke-width="0.7"/>
<line x1="599" y1="431.8" x2="605.6" y2="431.8" stroke="#2a2a2a" stroke-width="0.7"/>
<rect x="607.9" y="415.1" width="6.6" height="24.3" fill="none" stroke="#2a2a2a" stroke-width="0.7"/>
<line x1="607.9" y1="428.7" x2="614.4" y2="428.7" stroke="#2a2a2a" stroke-width="0.7"/>
<rect x="616.7" y="412.3" width="6.6" height="26.0" fill="none" stroke="#2a2a2a" stroke-width="0.7"/>
<line x1="616.7" y1="425.5" x2="623.3" y2="425.5" stroke="#2a2a2a" stroke-width="0.7"/>
<rect x="625.6" y="409.5" width="6.6" height="26.4" fill="none" stroke="#2a2a2a" stroke-width="0.7"/>
<line x1="625.6" y1="422.6" x2="632.1" y2="422.6" stroke="#2a2a2a" stroke-width="0.7"/>
<rect x="634.4" y="406.5" width="6.6" height="28.1" fill="none" stroke="#2a2a2a" stroke-width="0.7"/>
<line x1="634.4" y1="420.6" x2="641" y2="420.6" stroke="#2a2a2a" stroke-width="0.7"/>
<rect x="643.2" y="404.2" width="6.6" height="29.7" fill="none" stroke="#2a2a2a" stroke-width="0.7"/>
<line x1="643.2" y1="419.4" x2="649.8" y2="419.4" stroke="#2a2a2a" stroke-width="0.7"/>
<rect x="652.1" y="403.0" width="6.6" height="29.5" fill="none" stroke="#2a2a2a" stroke-width="0.7"/>
<line x1="652.1" y1="418.1" x2="658.7" y2="418.1" stroke="#2a2a2a" stroke-width="0.7"/>
<rect x="661.0" y="400.8" width="6.6" height="30.6" fill="none" stroke="#2a2a2a" stroke-width="0.7"/>
<line x1="661" y1="417" x2="667.5" y2="417" stroke="#2a2a2a" stroke-width="0.7"/>
<path d="M496.1,460.9 C497.6,461.1 502.0,461.8 505.0,461.9 C507.9,462.1 510.9,462.1 513.8,461.9 C516.8,461.8 519.7,461.4 522.6,460.9 C525.6,460.4 528.5,459.7 531.5,458.9 C534.5,458.0 537.4,457.0 540.4,456.1 C543.3,455.1 546.2,454.3 549.2,453.3 C552.2,452.3 555.1,451.1 558.1,449.8 C561.0,448.5 564.0,447.0 566.9,445.6 C569.8,444.3 572.8,443.0 575.8,441.8 C578.7,440.6 581.6,439.6 584.6,438.4 C587.6,437.3 590.5,435.9 593.5,434.8 C596.4,433.7 599.3,432.8 602.3,431.8 C605.2,430.7 608.2,429.7 611.1,428.7 C614.1,427.6 617.0,426.5 620.0,425.5 C623.0,424.5 625.9,423.4 628.9,422.6 C631.8,421.8 634.8,421.2 637.7,420.6 C640.7,420.1 643.6,419.8 646.5,419.4 C649.5,419.0 652.4,418.5 655.4,418.1 C658.4,417.7 662.8,417.2 664.2,417.0" fill="none" stroke="#ee1111" stroke-width="1.3"/>
<line x1="491.7" y1="376.5" x2="491.7" y2="486.8" stroke="#222" stroke-width="1"/>
<line x1="491.7" y1="486.8" x2="668.4" y2="486.8" stroke="#222" stroke-width="1"/>
<line x1="487.8" y1="480.4" x2="491.7" y2="480.4" stroke="#222" stroke-width="0.9"/>
<text x="485.8" y="483.1" font-size="7.6" fill="#222" text-anchor="end">1</text>
<line x1="487.8" y1="466.5" x2="491.7" y2="466.5" stroke="#222" stroke-width="0.9"/>
<text x="485.8" y="469.2" font-size="7.6" fill="#222" text-anchor="end">2</text>
<line x1="487.8" y1="452.6" x2="491.7" y2="452.6" stroke="#222" stroke-width="0.9"/>
<text x="485.8" y="455.3" font-size="7.6" fill="#222" text-anchor="end">3</text>
<line x1="487.8" y1="438.7" x2="491.7" y2="438.7" stroke="#222" stroke-width="0.9"/>
<text x="485.8" y="441.4" font-size="7.6" fill="#222" text-anchor="end">4</text>
<line x1="487.8" y1="424.8" x2="491.7" y2="424.8" stroke="#222" stroke-width="0.9"/>
<text x="485.8" y="427.5" font-size="7.6" fill="#222" text-anchor="end">5</text>
<line x1="487.8" y1="410.9" x2="491.7" y2="410.9" stroke="#222" stroke-width="0.9"/>
<text x="485.8" y="413.6" font-size="7.6" fill="#222" text-anchor="end">6</text>
<line x1="487.8" y1="397" x2="491.7" y2="397" stroke="#222" stroke-width="0.9"/>
<text x="485.8" y="399.7" font-size="7.6" fill="#222" text-anchor="end">7</text>
<line x1="487.8" y1="383.1" x2="491.7" y2="383.1" stroke="#222" stroke-width="0.9"/>
<text x="485.8" y="385.8" font-size="7.6" fill="#222" text-anchor="end">8</text>
<line x1="505" y1="486.8" x2="505" y2="490.4" stroke="#222" stroke-width="0.9"/>
<line x1="522.6" y1="486.8" x2="522.6" y2="490.4" stroke="#222" stroke-width="0.9"/>
<line x1="540.4" y1="486.8" x2="540.4" y2="490.4" stroke="#222" stroke-width="0.9"/>
<line x1="558.1" y1="486.8" x2="558.1" y2="490.4" stroke="#222" stroke-width="0.9"/>
<line x1="575.8" y1="486.8" x2="575.8" y2="490.4" stroke="#222" stroke-width="0.9"/>
<line x1="593.5" y1="486.8" x2="593.5" y2="490.4" stroke="#222" stroke-width="0.9"/>
<line x1="611.1" y1="486.8" x2="611.1" y2="490.4" stroke="#222" stroke-width="0.9"/>
<line x1="628.9" y1="486.8" x2="628.9" y2="490.4" stroke="#222" stroke-width="0.9"/>
<line x1="646.5" y1="486.8" x2="646.5" y2="490.4" stroke="#222" stroke-width="0.9"/>
<line x1="664.2" y1="486.8" x2="664.2" y2="490.4" stroke="#222" stroke-width="0.9"/>
<text x="514.2" y="402.8" font-size="10.8" fill="#e01c8a" font-weight="bold">RIP3 (nM)</text>
<text font-size="9.3" fill="#111" text-anchor="middle" transform="translate(461,434.2) rotate(-90)">Optimal molecule</text>
<text font-size="9.3" fill="#111" text-anchor="middle" transform="translate(471.9,433.8) rotate(-90)">of RIP3 (n)</text>
<rect x="492.8" y="519.4" width="6.6" height="20.3" fill="#d4d4d4" fill-opacity="0.4"/>
<rect x="501.7" y="542.1" width="6.6" height="29.4" fill="#d4d4d4" fill-opacity="0.4"/>
<rect x="510.5" y="561.5" width="6.6" height="16.9" fill="#d4d4d4" fill-opacity="0.4"/>
<rect x="519.4" y="567.1" width="6.6" height="16.1" fill="#d4d4d4" fill-opacity="0.4"/>
<rect x="528.2" y="567.8" width="6.6" height="17.3" fill="#d4d4d4" fill-opacity="0.4"/>
<rect x="537.1" y="567.1" width="6.6" height="17.3" fill="#d4d4d4" fill-opacity="0.4"/>
<rect x="545.9" y="566.4" width="6.6" height="18.0" fill="#d4d4d4" fill-opacity="0.4"/>
<rect x="554.8" y="565.7" width="6.6" height="18.7" fill="#d4d4d4" fill-opacity="0.4"/>
<rect x="563.6" y="565.7" width="6.6" height="18.0" fill="#d4d4d4" fill-opacity="0.4"/>
<rect x="572.5" y="565.0" width="6.6" height="18.0" fill="#d4d4d4" fill-opacity="0.4"/>
<rect x="581.3" y="565.0" width="6.6" height="18.0" fill="#d4d4d4" fill-opacity="0.4"/>
<rect x="590.2" y="564.3" width="6.6" height="18.0" fill="#d4d4d4" fill-opacity="0.4"/>
<rect x="599.0" y="563.9" width="6.6" height="18.6" fill="#d4d4d4" fill-opacity="0.4"/>
<rect x="607.9" y="562.9" width="6.6" height="19.4" fill="#d4d4d4" fill-opacity="0.4"/>
<rect x="616.7" y="562.9" width="6.6" height="18.7" fill="#d4d4d4" fill-opacity="0.4"/>
<rect x="625.6" y="561.8" width="6.6" height="19.6" fill="#d4d4d4" fill-opacity="0.4"/>
<rect x="634.4" y="560.8" width="6.6" height="20.1" fill="#d4d4d4" fill-opacity="0.4"/>
<rect x="643.2" y="560.8" width="6.6" height="20.1" fill="#d4d4d4" fill-opacity="0.4"/>
<rect x="652.1" y="560.8" width="6.6" height="20.1" fill="#d4d4d4" fill-opacity="0.4"/>
<rect x="661.0" y="560.4" width="6.6" height="19.3" fill="#d4d4d4" fill-opacity="0.4"/>
<path d="M495.9 525.9h.9M496.5 568.6h.9M495.2 552.4h.9M495.1 515.1h.9M495.7 544.5h.9M495.6 544.1h.9M495.0 546.1h.9M496.4 507.7h.9M496.5 523.8h.9M495.4 532.9h.9M495.2 539.8h.9M495.5 528.6h.9M496.2 531.1h.9M496.5 528.7h.9M496.0 532.6h.9M496.0 533.3h.9M495.6 521.4h.9M495.4 519.9h.9M496.1 552.3h.9M496.4 565.8h.9M495.7 546.1h.9M496.2 542.5h.9M496.5 520.6h.9M495.8 511.5h.9M496.2 522.2h.9M495.8 527.3h.9M495.7 548.9h.9M496.0 513.4h.9M495.7 549.4h.9M495.5 544.9h.9M496.1 564.9h.9M495.9 532.5h.9M495.9 554.8h.9M495.3 554.3h.9M496.3 525.1h.9M496.0 534.3h.9M496.3 530.1h.9M495.8 536.6h.9M495.9 550.1h.9M495.1 526.4h.9M496.5 519.4h.9M496.0 521.8h.9M496.4 538.1h.9M496.0 565.7h.9M495.9 516.9h.9M494.9 509.3h.9M496.4 532.9h.9M495.1 557.3h.9M496.5 532.1h.9M496.1 520.3h.9M495.8 567.2h.9M495.6 564.9h.9M495.2 559.0h.9M496.4 515.4h.9M495.7 512.1h.9M496.3 557.9h.9M495.3 514.5h.9M495.2 527.7h.9M495.0 526.2h.9M496.1 551.1h.9M494.8 535.3h.9M495.6 566.4h.9M494.8 526.3h.9M496.0 537.1h.9M495.2 516.7h.9M496.0 541.8h.9M494.8 506.4h.9M496.1 533.4h.9M495.2 537.3h.9M495.1 529.9h.9M495.3 542.3h.9M495.2 520.2h.9M495.7 521.1h.9M495.2 507.5h.9M496.2 555.9h.9M495.8 533.9h.9M496.2 534.7h.9M495.6 548.5h.9M495.3 507.4h.9M496.1 554.8h.9M496.0 537.5h.9M495.3 507.3h.9M496.2 551.0h.9M496.3 530.5h.9M495.2 531.3h.9M496.4 550.3h.9M496.1 557.1h.9M495.3 539.4h.9M496.3 532.3h.9M496.1 534.9h.9M496.0 506.7h.9M495.8 528.1h.9M495.2 551.2h.9M495.5 538.8h.9M495.0 518.8h.9M495.6 542.6h.9M495.5 559.7h.9M496.0 528.2h.9M494.8 550.0h.9M495.5 568.9h.9M495.5 524.0h.9M496.5 525.5h.9M495.7 550.9h.9M495.8 507.6h.9M495.5 548.4h.9M496.1 560.7h.9M494.8 512.8h.9M496.2 548.4h.9M495.7 557.6h.9M495.8 547.1h.9M496.2 520.7h.9M496.5 552.9h.9M496.5 537.3h.9M495.9 548.1h.9M496.4 530.0h.9M495.5 520.0h.9M494.8 526.6h.9M496.5 530.1h.9M496.2 559.4h.9M495.1 561.4h.9M495.0 529.3h.9M496.3 551.6h.9M496.3 521.9h.9M495.8 535.7h.9M494.8 506.5h.9M495.4 522.2h.9M496.2 538.5h.9M496.1 528.0h.9M496.0 558.5h.9M496.3 532.3h.9M495.6 533.8h.9M495.5 532.7h.9M496.3 510.5h.9M494.9 528.4h.9M496.4 522.4h.9M495.3 555.2h.9M494.8 556.7h.9M496.5 539.5h.9M495.8 536.9h.9M495.0 536.3h.9M496.5 520.1h.9M495.4 539.8h.9M495.8 549.3h.9M496.3 555.6h.9M495.2 529.8h.9M495.3 552.3h.9M496.1 560.4h.9M495.2 516.7h.9M494.9 534.2h.9M496.1 530.6h.9M495.2 534.6h.9M496.4 539.2h.9M495.5 520.0h.9M495.2 514.4h.9M496.0 534.1h.9M495.3 556.8h.9M495.7 524.0h.9M495.4 562.8h.9M494.9 513.8h.9M495.4 535.5h.9M494.9 568.5h.9M495.3 525.3h.9M494.9 547.0h.9M496.3 532.3h.9M496.0 512.4h.9M496.5 527.4h.9M495.9 525.1h.9M494.9 514.8h.9M496.5 527.1h.9M494.9 535.7h.9M496.2 564.7h.9M495.3 543.7h.9M495.4 541.6h.9M496.2 559.2h.9M496.5 517.0h.9M495.8 529.2h.9M494.9 526.5h.9M495.5 521.0h.9M496.0 506.4h.9M494.9 507.5h.9M495.7 527.8h.9M495.4 535.7h.9M496.4 521.4h.9M495.7 569.1h.9M496.0 559.4h.9M496.3 563.4h.9M495.0 524.1h.9M495.1 535.3h.9M495.0 528.7h.9M495.9 558.5h.9" stroke="#000000" stroke-width="0.9" fill="none"/>
<line x1="496.1" y1="506.1" x2="496.1" y2="569.9" stroke="#000000" stroke-width="1.0" stroke-opacity="0.75"/>
<path d="M504.5 553.7h.9M503.7 565.1h.9M504.6 592.4h.9M504.5 537.2h.9M504.3 565.0h.9M504.6 552.8h.9M504.8 551.8h.9M503.9 567.9h.9M503.7 581.5h.9M505.3 555.0h.9M504.8 557.2h.9M504.3 556.8h.9M505.2 554.8h.9M504.5 546.4h.9M504.9 552.1h.9M503.8 570.1h.9M504.8 583.5h.9M504.4 581.4h.9M504.0 561.3h.9M504.2 568.5h.9M504.2 556.6h.9M504.3 545.0h.9M504.1 584.1h.9M504.6 536.4h.9M504.3 545.9h.9M504.2 554.3h.9M504.0 585.0h.9M504.8 548.8h.9M504.6 590.9h.9M504.1 549.3h.9M503.7 569.5h.9M504.6 549.7h.9M503.9 574.1h.9M503.8 568.7h.9M504.6 590.9h.9M505.4 560.0h.9M505.0 560.2h.9M504.3 558.1h.9M504.3 563.8h.9M504.9 590.7h.9M504.9 562.7h.9M504.0 547.6h.9M505.0 578.5h.9M504.0 544.2h.9M505.4 549.3h.9M505.2 578.7h.9M504.9 576.6h.9M504.6 548.5h.9M504.7 589.8h.9M504.2 576.6h.9M504.8 567.2h.9M505.1 529.6h.9M503.8 568.8h.9M504.4 562.8h.9M503.8 550.9h.9M504.5 540.0h.9M504.0 583.5h.9M504.9 547.2h.9M503.7 554.4h.9M504.4 540.5h.9M504.9 543.3h.9M504.9 562.3h.9M503.8 584.6h.9M504.1 587.4h.9M504.1 533.3h.9M504.0 557.4h.9M503.8 556.4h.9M504.7 590.2h.9M504.4 531.2h.9M503.7 572.2h.9M504.9 558.9h.9M505.4 548.8h.9M505.3 540.3h.9M505.2 589.8h.9M505.2 543.1h.9M504.0 593.9h.9M504.9 562.3h.9M505.2 565.6h.9M503.8 558.8h.9M505.4 559.9h.9M505.2 554.4h.9M504.6 553.9h.9M504.3 560.8h.9M504.9 571.1h.9M503.8 549.5h.9M503.6 546.5h.9M504.8 529.1h.9M504.7 542.2h.9M505.3 559.7h.9M504.2 565.1h.9M503.8 579.1h.9M503.9 530.1h.9M504.2 591.8h.9M504.6 559.0h.9M503.8 579.4h.9M503.9 565.6h.9M504.0 541.0h.9M504.1 566.7h.9M504.3 548.8h.9M505.1 561.4h.9M503.9 583.0h.9M504.5 536.8h.9M505.2 564.3h.9M504.0 558.7h.9M504.7 558.0h.9M504.5 586.0h.9M503.7 550.7h.9M504.3 558.9h.9M504.4 543.1h.9M504.8 552.1h.9M503.8 587.0h.9M505.1 578.8h.9M504.2 553.3h.9M505.0 544.9h.9M505.3 553.1h.9M504.3 589.6h.9M504.9 554.7h.9M505.1 560.5h.9M504.7 549.4h.9M505.0 550.7h.9M503.7 552.0h.9M505.4 571.4h.9M504.0 530.4h.9M503.9 586.5h.9M504.3 543.4h.9M505.1 570.0h.9M505.1 550.1h.9M504.9 587.5h.9M504.9 560.7h.9M503.7 543.1h.9M504.3 531.4h.9M503.6 551.4h.9M504.6 562.7h.9M505.0 575.8h.9M503.8 572.0h.9M505.4 548.4h.9M504.7 570.9h.9M504.7 577.6h.9M504.6 544.1h.9M505.1 560.7h.9M504.2 536.4h.9M503.8 546.1h.9M504.7 569.1h.9M504.2 563.8h.9M505.3 564.2h.9M505.1 559.8h.9M504.0 557.9h.9M504.5 571.0h.9M504.0 563.7h.9M503.9 560.5h.9M504.9 553.1h.9M504.3 575.9h.9M505.3 579.3h.9M504.1 579.4h.9M504.1 542.9h.9M504.9 559.4h.9M504.9 557.8h.9M505.4 567.1h.9M504.6 556.2h.9M504.4 542.2h.9M503.8 558.8h.9M504.2 572.4h.9M504.9 558.4h.9M504.4 528.9h.9M504.2 556.6h.9M504.0 575.5h.9M505.0 586.8h.9M505.0 539.9h.9M504.8 555.6h.9M504.0 552.9h.9M505.1 579.8h.9M503.8 544.3h.9M505.1 550.5h.9M504.6 570.1h.9M505.4 543.4h.9M504.3 530.8h.9M503.8 576.3h.9M505.0 542.4h.9M503.9 552.7h.9M504.4 546.5h.9M505.3 577.1h.9M504.7 546.0h.9M504.1 538.4h.9M503.6 553.6h.9M505.0 557.4h.9M504.3 546.7h.9M504.6 542.5h.9M504.6 558.0h.9M504.4 531.4h.9M504.4 586.5h.9" stroke="#ff0000" stroke-width="0.9" fill="none"/>
<line x1="505" y1="528.2" x2="505" y2="594.8" stroke="#ff0000" stroke-width="1.0" stroke-opacity="0.75"/>
<path d="M513.3 578.1h.9M513.6 573.0h.9M513.8 568.0h.9M513.9 594.5h.9M512.5 585.1h.9M513.7 594.9h.9M513.1 576.7h.9M514.1 595.5h.9M513.0 567.9h.9M513.7 575.1h.9M512.6 564.4h.9M514.2 563.4h.9M513.9 553.8h.9M514.1 566.1h.9M514.2 552.6h.9M513.8 575.4h.9M513.5 567.5h.9M513.6 570.8h.9M513.4 582.0h.9M512.8 571.5h.9M513.6 573.4h.9M513.8 579.4h.9M512.9 569.9h.9M512.5 572.4h.9M514.1 554.3h.9M513.1 554.0h.9M513.6 560.0h.9M512.9 593.8h.9M512.8 570.8h.9M512.9 590.4h.9M514.0 565.4h.9M513.6 573.7h.9M513.5 563.2h.9M513.4 587.0h.9M513.4 572.7h.9M513.8 585.6h.9M512.8 568.9h.9M513.9 576.5h.9M513.1 562.0h.9M513.4 578.5h.9M513.4 557.6h.9M512.6 573.0h.9M514.2 575.7h.9M512.7 583.9h.9M512.8 570.8h.9M513.4 568.5h.9M513.1 569.7h.9M513.5 567.0h.9M513.2 574.1h.9M513.6 560.4h.9M513.7 573.5h.9M512.7 564.1h.9M513.5 558.1h.9M514.1 592.2h.9M513.8 577.7h.9M512.6 562.7h.9M512.9 572.3h.9M513.1 574.4h.9M513.3 596.6h.9M513.3 557.8h.9M513.5 573.6h.9M514.1 556.3h.9M513.6 574.3h.9M513.4 587.9h.9M513.8 589.1h.9M513.2 559.2h.9M513.4 566.2h.9M512.5 566.5h.9M512.6 584.2h.9M514.2 563.7h.9M512.9 575.8h.9M513.5 573.5h.9M512.7 568.0h.9M513.6 590.1h.9M513.6 567.7h.9M514.0 578.3h.9M513.2 590.2h.9M513.0 588.5h.9M513.2 569.2h.9M513.1 573.3h.9M513.7 571.2h.9M513.6 570.4h.9M512.5 565.9h.9M514.2 572.2h.9M512.7 579.4h.9M513.9 577.0h.9M513.8 557.4h.9M512.7 564.9h.9M513.5 568.4h.9M513.1 555.4h.9M512.8 580.6h.9M512.8 596.8h.9M512.9 554.2h.9M514.0 596.1h.9M513.4 591.2h.9M512.9 552.9h.9M514.1 576.3h.9M512.7 574.4h.9M513.1 588.2h.9M514.2 575.5h.9M512.9 569.0h.9M512.6 579.0h.9M513.7 562.4h.9M513.5 576.6h.9M512.5 569.5h.9M513.3 560.8h.9M513.7 577.4h.9M512.6 581.6h.9M513.5 577.8h.9M514.0 582.6h.9M513.2 586.8h.9M513.7 577.2h.9M513.8 563.4h.9M513.3 552.1h.9M514.2 551.1h.9M514.2 577.2h.9M513.7 571.5h.9M513.8 593.2h.9M513.9 569.0h.9M513.3 578.4h.9M513.4 556.1h.9M514.2 560.0h.9M513.7 572.9h.9M513.6 563.6h.9M512.7 577.0h.9M513.6 566.7h.9M512.8 595.2h.9M513.3 575.0h.9M512.9 564.9h.9M513.1 580.7h.9M512.6 574.1h.9M513.0 562.7h.9M512.9 570.7h.9M513.4 560.0h.9M514.0 575.3h.9M512.6 559.4h.9M513.1 571.1h.9M513.8 563.0h.9M513.6 570.2h.9M514.0 570.0h.9M513.6 576.0h.9M513.4 581.5h.9M513.0 572.4h.9M513.6 579.5h.9M512.8 587.6h.9M513.8 566.2h.9M513.0 594.0h.9M513.6 579.9h.9M512.8 564.7h.9M513.2 592.5h.9M513.0 573.4h.9M512.8 560.3h.9M512.5 585.1h.9M513.0 566.6h.9M512.8 593.4h.9M512.7 561.5h.9M512.8 580.4h.9M513.7 569.6h.9M513.9 570.5h.9M512.6 563.4h.9M513.1 567.8h.9M512.5 563.6h.9M513.3 558.2h.9M513.2 554.4h.9M513.4 571.2h.9M514.2 573.5h.9M513.3 587.6h.9M512.7 588.4h.9M513.4 569.2h.9M513.5 594.0h.9M512.8 592.8h.9M513.7 552.8h.9M513.8 570.0h.9M512.9 578.5h.9M514.2 575.1h.9M514.0 574.1h.9M513.3 591.0h.9M513.8 583.6h.9M513.3 553.8h.9M513.3 577.1h.9M514.0 574.1h.9M513.2 589.9h.9M514.2 555.1h.9M513.9 577.8h.9M513.8 596.7h.9M512.8 577.3h.9M513.2 556.6h.9M512.6 571.9h.9M512.8 565.0h.9M514.0 558.2h.9" stroke="#00e000" stroke-width="0.9" fill="none"/>
<line x1="513.8" y1="550.4" x2="513.8" y2="596.9" stroke="#00e000" stroke-width="1.0" stroke-opacity="0.75"/>
<path d="M522.3 570.1h.9M522.6 560.8h.9M521.9 578.0h.9M522.3 565.1h.9M521.5 580.0h.9M522.8 592.1h.9M522.4 576.7h.9M522.0 560.9h.9M523.0 580.7h.9M521.5 576.3h.9M521.6 576.4h.9M521.8 581.2h.9M521.8 577.9h.9M522.6 560.5h.9M522.7 573.7h.9M523.1 577.5h.9M521.3 576.9h.9M521.9 588.8h.9M522.6 567.5h.9M522.2 574.8h.9M521.5 592.1h.9M522.1 565.9h.9M521.8 558.0h.9M521.7 577.9h.9M521.6 573.1h.9M521.8 572.5h.9M522.5 576.5h.9M521.4 577.3h.9M523.0 586.4h.9M522.5 586.9h.9M522.2 574.0h.9M522.5 580.1h.9M522.7 578.1h.9M521.8 579.0h.9M521.8 581.8h.9M521.6 568.3h.9M521.4 557.4h.9M521.5 572.8h.9M521.8 560.5h.9M522.0 557.2h.9M521.4 580.7h.9M522.9 580.9h.9M522.3 586.5h.9M522.6 571.0h.9M522.8 589.5h.9M522.0 581.4h.9M522.6 577.3h.9M521.6 579.2h.9M521.9 584.8h.9M522.0 579.1h.9M523.1 570.1h.9M522.6 567.5h.9M521.5 571.9h.9M522.8 556.5h.9M523.1 568.0h.9M522.0 579.2h.9M522.3 556.2h.9M521.6 596.0h.9M522.1 572.5h.9M522.4 582.4h.9M521.6 571.3h.9M521.9 574.1h.9M522.5 580.0h.9M522.5 566.8h.9M522.4 557.3h.9M522.7 572.2h.9M522.3 566.4h.9M522.9 588.3h.9M522.9 581.5h.9M523.0 572.4h.9M521.6 579.9h.9M521.3 574.9h.9M522.3 581.4h.9M522.9 592.6h.9M521.5 577.4h.9M521.6 556.7h.9M523.0 573.3h.9M521.6 580.4h.9M523.0 580.7h.9M521.8 590.9h.9M522.6 575.3h.9M522.1 578.5h.9M522.7 578.6h.9M522.1 575.6h.9M521.4 583.4h.9M522.3 570.4h.9M521.4 586.6h.9M522.4 594.4h.9M521.6 569.8h.9M521.5 565.6h.9M522.8 582.2h.9M522.1 573.2h.9M521.5 583.5h.9M522.6 582.8h.9M521.6 571.2h.9M522.7 570.2h.9M521.9 575.7h.9M523.0 568.0h.9M522.9 559.5h.9M523.0 566.3h.9M523.1 590.0h.9M522.3 593.2h.9M522.7 556.6h.9M522.3 592.0h.9M521.6 576.4h.9M522.1 574.8h.9M521.3 570.9h.9M521.8 572.9h.9M521.6 560.1h.9M522.8 580.9h.9M521.9 575.5h.9M522.8 557.6h.9M522.6 586.5h.9M523.1 578.6h.9M521.8 584.1h.9M521.8 585.2h.9M522.8 571.8h.9M523.0 564.2h.9M522.4 588.9h.9M522.1 572.4h.9M521.3 569.4h.9M522.1 563.4h.9M522.4 578.8h.9M521.3 576.9h.9M521.7 593.6h.9M521.4 580.7h.9M521.7 581.3h.9M522.1 573.1h.9M522.1 577.3h.9M522.5 564.6h.9M522.9 585.0h.9M523.0 563.9h.9M523.0 582.9h.9M522.3 584.8h.9M522.6 592.4h.9M521.6 578.1h.9M522.2 575.0h.9M522.6 575.3h.9M522.5 574.5h.9M522.0 569.9h.9M523.0 572.2h.9M521.4 580.6h.9M521.7 595.6h.9M521.3 574.1h.9M521.5 586.7h.9M521.3 560.5h.9M522.9 557.3h.9M522.7 560.7h.9M522.0 583.4h.9M522.4 573.7h.9M522.8 560.3h.9M521.4 563.0h.9M522.1 580.9h.9M522.1 593.1h.9M522.6 589.0h.9M522.0 574.8h.9M522.1 581.4h.9M522.4 571.3h.9M522.3 574.0h.9M522.1 572.3h.9M522.5 557.5h.9M523.1 564.1h.9M523.1 575.6h.9M522.1 585.4h.9M521.8 582.9h.9M522.9 574.8h.9M521.3 587.0h.9M523.0 577.3h.9M521.4 581.9h.9M521.3 570.1h.9M523.0 574.4h.9M522.5 570.0h.9M522.9 591.0h.9M522.3 572.8h.9M522.6 574.6h.9M522.8 567.1h.9M522.6 588.6h.9M522.7 564.5h.9M522.5 591.2h.9M522.1 558.6h.9M521.6 565.6h.9M522.5 576.3h.9M521.5 589.7h.9M522.3 583.1h.9M521.4 582.8h.9M522.3 577.9h.9M522.8 568.5h.9M522.7 595.9h.9M521.3 565.8h.9M521.6 573.0h.9" stroke="#0000ff" stroke-width="0.9" fill="none"/>
<line x1="522.6" y1="556" x2="522.6" y2="596.9" stroke="#0000ff" stroke-width="1.0" stroke-opacity="0.75"/>
<path d="M531.0 566.7h.9M530.2 562.2h.9M530.6 563.4h.9M531.2 596.3h.9M531.1 557.7h.9M531.7 580.9h.9M531.6 575.6h.9M531.3 565.0h.9M531.7 583.1h.9M531.7 594.6h.9M531.7 584.6h.9M531.1 578.3h.9M531.8 573.7h.9M530.8 559.8h.9M530.9 564.2h.9M531.4 571.7h.9M530.4 580.5h.9M531.3 568.2h.9M530.5 568.6h.9M530.2 579.4h.9M530.5 575.7h.9M530.8 564.4h.9M530.6 569.8h.9M531.7 574.2h.9M531.2 566.1h.9M531.5 559.9h.9M531.2 583.9h.9M530.3 583.8h.9M531.8 566.6h.9M531.5 581.9h.9M530.5 575.0h.9M530.5 590.9h.9M531.8 567.0h.9M531.1 591.2h.9M530.3 582.8h.9M531.5 586.9h.9M530.7 593.1h.9M530.2 579.6h.9M531.1 556.5h.9M530.6 568.4h.9M531.6 575.0h.9M530.3 571.2h.9M531.4 571.9h.9M530.4 577.8h.9M530.7 568.4h.9M531.5 571.8h.9M531.6 565.3h.9M530.5 595.1h.9M531.8 571.4h.9M531.1 590.8h.9M530.3 579.7h.9M531.1 576.3h.9M531.8 570.7h.9M531.4 578.3h.9M530.9 561.6h.9M530.9 570.3h.9M531.6 572.0h.9M531.6 580.1h.9M531.6 564.0h.9M530.7 582.8h.9M531.0 593.3h.9M531.7 573.6h.9M531.9 577.0h.9M531.1 596.7h.9M531.9 587.0h.9M531.7 565.2h.9M531.9 580.2h.9M530.6 557.2h.9M531.9 575.8h.9M531.0 593.8h.9M531.2 571.7h.9M530.5 569.5h.9M531.0 578.6h.9M530.3 593.8h.9M530.9 570.2h.9M530.4 564.8h.9M530.5 578.1h.9M531.4 575.0h.9M530.9 580.5h.9M531.6 590.6h.9M531.2 576.8h.9M531.9 576.8h.9M530.7 592.5h.9M530.2 581.8h.9M530.9 581.9h.9M531.4 571.8h.9M530.2 570.1h.9M530.4 592.4h.9M531.7 569.6h.9M530.5 588.1h.9M531.0 567.7h.9M530.7 563.1h.9M530.2 585.8h.9M531.4 573.1h.9M530.7 556.5h.9M531.3 574.0h.9M530.3 570.4h.9M530.3 585.4h.9M531.3 568.8h.9M531.9 580.7h.9M530.4 576.2h.9M531.0 596.1h.9M530.7 573.5h.9M531.6 574.6h.9M531.9 577.7h.9M531.6 568.3h.9M531.4 587.9h.9M530.8 575.3h.9M530.4 570.1h.9M530.5 572.6h.9M531.0 582.2h.9M530.9 581.2h.9M531.4 569.8h.9M531.9 593.3h.9M531.2 558.7h.9M531.9 569.6h.9M531.3 571.1h.9M531.8 570.1h.9M530.6 577.0h.9M531.6 580.4h.9M531.8 562.6h.9M531.6 593.1h.9M531.4 580.3h.9M531.8 574.0h.9M530.4 572.0h.9M531.8 582.4h.9M530.9 597.4h.9M531.5 560.9h.9M531.3 577.1h.9M531.1 573.9h.9M530.7 566.1h.9M531.0 574.1h.9M531.9 564.2h.9M531.6 584.3h.9M531.8 596.9h.9M530.9 582.5h.9M530.7 592.5h.9M530.4 584.4h.9M530.4 566.6h.9M530.2 595.3h.9M530.9 569.7h.9M530.3 593.5h.9M530.6 584.6h.9M531.9 567.6h.9M530.9 586.3h.9M530.9 580.4h.9M531.8 586.1h.9M531.6 584.2h.9M531.5 587.0h.9M530.8 578.6h.9M531.6 573.8h.9M531.0 586.5h.9M531.8 588.6h.9M530.6 579.2h.9M531.1 571.1h.9M530.3 584.1h.9M530.3 564.2h.9M531.1 575.1h.9M531.1 574.3h.9M530.9 556.0h.9M530.2 576.9h.9M530.5 578.7h.9M530.5 565.5h.9M531.1 584.2h.9M530.8 579.8h.9M530.6 577.3h.9M531.8 587.6h.9M531.2 561.9h.9M531.5 577.2h.9M531.7 583.7h.9M531.1 560.1h.9M531.3 563.5h.9M531.2 580.4h.9M530.3 559.8h.9M531.9 588.4h.9M531.7 562.8h.9M530.6 588.2h.9M531.5 591.2h.9M531.5 591.5h.9M530.5 568.8h.9M530.7 587.0h.9M531.3 569.6h.9M531.8 579.3h.9M531.2 569.9h.9M530.4 582.7h.9M531.6 595.8h.9M530.5 591.2h.9M531.5 576.9h.9M530.7 560.4h.9M531.4 578.0h.9" stroke="#00e4e4" stroke-width="0.9" fill="none"/>
<line x1="531.5" y1="556" x2="531.5" y2="597.6" stroke="#00e4e4" stroke-width="1.0" stroke-opacity="0.75"/>
<path d="M539.7 575.2h.9M540.2 574.3h.9M539.4 572.5h.9M540.8 594.2h.9M540.7 572.2h.9M540.5 593.1h.9M540.0 566.7h.9M540.0 557.0h.9M540.3 570.5h.9M539.3 571.0h.9M540.7 558.3h.9M539.1 568.3h.9M539.2 562.7h.9M539.7 577.2h.9M540.6 557.0h.9M539.4 595.8h.9M539.3 573.9h.9M540.5 570.6h.9M539.4 560.5h.9M539.1 582.7h.9M540.2 572.1h.9M540.8 564.1h.9M540.7 590.0h.9M540.2 561.2h.9M539.3 593.2h.9M540.4 589.1h.9M540.1 571.3h.9M540.6 575.6h.9M540.1 570.0h.9M540.3 592.0h.9M539.3 570.0h.9M540.3 582.1h.9M539.5 593.6h.9M539.3 582.4h.9M540.7 582.1h.9M540.7 583.4h.9M539.1 576.6h.9M540.5 573.5h.9M539.4 570.1h.9M539.2 567.5h.9M540.4 568.0h.9M539.4 575.3h.9M540.1 586.2h.9M539.4 578.5h.9M540.2 563.2h.9M539.3 558.7h.9M540.8 573.6h.9M539.8 596.1h.9M539.2 557.3h.9M539.2 573.0h.9M539.1 592.5h.9M540.3 591.2h.9M539.4 580.9h.9M540.3 566.6h.9M539.9 578.9h.9M540.6 574.8h.9M539.7 575.2h.9M540.6 571.5h.9M540.3 575.0h.9M540.8 571.8h.9M540.1 581.4h.9M539.7 583.1h.9M540.1 573.6h.9M539.3 567.0h.9M540.2 571.8h.9M539.6 590.2h.9M540.4 594.0h.9M539.9 581.0h.9M539.9 578.8h.9M539.5 579.5h.9M539.4 596.9h.9M540.1 559.5h.9M540.2 566.5h.9M540.0 558.7h.9M540.7 590.9h.9M539.2 560.0h.9M540.8 579.1h.9M540.3 573.7h.9M540.7 578.7h.9M540.4 559.8h.9M539.2 578.4h.9M540.6 579.8h.9M540.0 593.9h.9M539.9 568.4h.9M539.5 591.9h.9M539.1 578.4h.9M540.1 572.4h.9M539.4 572.7h.9M540.1 578.1h.9M539.3 574.2h.9M540.6 576.4h.9M539.7 568.0h.9M540.7 596.8h.9M539.5 577.6h.9M539.4 588.9h.9M540.1 571.1h.9M540.1 570.3h.9M539.3 559.6h.9M539.1 572.4h.9M540.5 584.1h.9M540.3 581.9h.9M539.0 570.0h.9M539.9 564.9h.9M540.6 580.3h.9M540.3 569.5h.9M539.9 575.5h.9M540.0 571.7h.9M540.7 589.4h.9M540.6 576.1h.9M540.6 575.6h.9M540.5 586.2h.9M539.5 568.9h.9M540.6 570.8h.9M540.2 595.0h.9M539.2 594.8h.9M540.6 558.1h.9M539.1 574.7h.9M540.2 568.8h.9M539.9 593.7h.9M540.5 581.6h.9M540.0 576.4h.9M539.8 582.6h.9M540.0 591.1h.9M539.9 564.9h.9M539.6 563.5h.9M540.7 574.7h.9M539.6 571.4h.9M539.1 565.9h.9M539.4 597.4h.9M539.3 575.4h.9M540.1 569.5h.9M540.4 572.6h.9M539.8 587.1h.9M540.6 575.3h.9M539.9 567.6h.9M539.2 582.9h.9M539.8 584.3h.9M539.4 569.8h.9M539.1 576.0h.9M540.4 577.0h.9M540.8 579.2h.9M539.2 582.9h.9M539.4 570.8h.9M539.4 564.7h.9M539.4 569.8h.9M540.8 588.3h.9M539.3 565.4h.9M540.7 562.8h.9M539.8 573.2h.9M539.3 572.5h.9M540.2 583.0h.9M540.8 581.3h.9M539.4 568.7h.9M540.3 589.4h.9M539.1 572.8h.9M540.3 573.8h.9M539.4 571.0h.9M539.8 572.4h.9M540.6 576.0h.9M539.4 594.7h.9M539.8 575.4h.9M539.9 590.8h.9M540.1 569.4h.9M539.8 582.9h.9M539.9 580.6h.9M539.7 560.4h.9M539.3 562.9h.9M540.2 578.2h.9M540.3 581.3h.9M540.6 559.8h.9M540.7 577.2h.9M539.5 580.8h.9M539.4 590.4h.9M540.5 588.9h.9M539.6 583.0h.9M539.2 570.6h.9M539.5 580.6h.9M540.7 580.7h.9M540.1 592.4h.9M540.5 571.7h.9M539.4 582.5h.9M539.2 584.0h.9M540.2 597.3h.9M539.3 575.9h.9M540.2 582.9h.9M539.6 576.8h.9M540.0 569.8h.9M540.8 578.6h.9M540.7 568.3h.9M539.0 578.6h.9" stroke="#ff00ff" stroke-width="0.9" fill="none"/>
<line x1="540.4" y1="554.6" x2="540.4" y2="597.6" stroke="#ff00ff" stroke-width="1.0" stroke-opacity="0.75"/>
<path d="M548.9 571.8h.9M549.2 568.8h.9M549.2 588.2h.9M548.9 573.0h.9M548.5 573.7h.9M549.0 558.2h.9M549.6 593.7h.9M548.3 584.1h.9M548.9 573.6h.9M548.4 560.2h.9M548.3 580.6h.9M548.5 580.1h.9M548.1 575.5h.9M547.9 566.3h.9M548.5 573.6h.9M549.5 568.0h.9M548.4 578.2h.9M549.1 572.1h.9M549.5 590.6h.9M549.2 571.8h.9M549.0 586.8h.9M549.3 572.1h.9M549.4 588.9h.9M548.0 587.6h.9M548.7 595.3h.9M548.5 570.3h.9M549.5 576.7h.9M549.0 575.9h.9M548.6 572.4h.9M549.3 573.6h.9M548.1 580.5h.9M548.7 570.8h.9M549.0 562.3h.9M549.1 565.5h.9M548.3 581.2h.9M549.3 570.6h.9M548.1 558.7h.9M548.2 593.6h.9M548.3 554.5h.9M548.7 572.2h.9M548.8 572.7h.9M549.5 558.2h.9M549.3 584.4h.9M547.9 567.5h.9M549.1 574.7h.9M548.3 573.2h.9M548.6 577.2h.9M548.3 582.9h.9M548.2 579.3h.9M549.2 566.7h.9M549.0 562.4h.9M548.8 575.3h.9M549.6 585.4h.9M548.5 591.0h.9M549.4 566.8h.9M548.5 577.0h.9M549.4 573.6h.9M549.5 569.1h.9M548.3 592.0h.9M548.3 594.3h.9M549.1 576.8h.9M548.4 559.9h.9M549.2 583.3h.9M549.5 592.0h.9M548.4 591.9h.9M547.9 597.4h.9M549.2 576.7h.9M549.0 577.7h.9M548.6 554.3h.9M548.8 581.1h.9M548.6 590.1h.9M549.6 567.0h.9M548.0 568.8h.9M548.8 582.5h.9M548.6 559.4h.9M548.0 564.3h.9M548.3 567.2h.9M549.3 580.1h.9M548.4 578.1h.9M548.8 576.4h.9M549.6 578.1h.9M548.0 567.4h.9M548.9 576.7h.9M548.6 565.9h.9M549.4 583.8h.9M548.8 571.8h.9M548.3 585.1h.9M548.3 554.1h.9M548.5 579.1h.9M548.8 575.5h.9M548.8 583.7h.9M548.9 575.2h.9M549.4 563.4h.9M548.9 582.3h.9M549.6 570.8h.9M549.1 597.2h.9M548.3 573.3h.9M549.5 553.9h.9M548.2 571.9h.9M548.6 580.7h.9M549.3 562.6h.9M548.4 559.8h.9M549.2 573.5h.9M548.5 580.6h.9M548.0 583.8h.9M548.0 568.0h.9M548.4 589.7h.9M548.6 584.0h.9M549.4 577.6h.9M549.0 585.4h.9M549.6 554.4h.9M549.2 557.6h.9M548.4 583.2h.9M549.4 589.6h.9M549.3 577.1h.9M548.0 596.7h.9M549.4 578.3h.9M547.9 577.8h.9M548.6 588.5h.9M549.3 593.6h.9M547.9 586.1h.9M549.2 572.2h.9M548.8 558.8h.9M548.6 582.2h.9M548.3 571.5h.9M548.1 595.6h.9M549.1 589.5h.9M548.0 585.6h.9M549.4 588.5h.9M549.1 569.8h.9M549.2 575.1h.9M549.3 568.5h.9M548.9 568.9h.9M548.8 584.6h.9M549.2 593.0h.9M548.0 554.1h.9M548.2 582.4h.9M548.6 569.8h.9M548.2 594.4h.9M548.6 560.7h.9M548.4 582.2h.9M548.9 596.7h.9M549.6 582.3h.9M548.4 581.9h.9M549.0 585.8h.9M548.2 587.8h.9M548.0 579.1h.9M548.1 567.2h.9M548.2 574.2h.9M549.3 570.6h.9M548.7 554.2h.9M549.0 561.6h.9M549.6 571.7h.9M548.5 581.2h.9M549.2 597.3h.9M549.2 583.7h.9M549.5 566.6h.9M548.3 589.9h.9M549.6 579.8h.9M548.8 576.2h.9M549.0 568.6h.9M548.4 582.7h.9M548.8 576.1h.9M549.0 560.4h.9M549.2 556.8h.9M548.1 563.3h.9M548.5 582.7h.9M547.9 592.1h.9M548.1 581.7h.9M548.1 585.5h.9M548.2 590.6h.9M548.7 577.0h.9M548.0 572.1h.9M548.6 573.2h.9M549.6 589.1h.9M548.4 572.1h.9M549.2 583.4h.9M548.3 594.8h.9M548.7 579.0h.9M549.3 564.0h.9M548.2 589.8h.9M547.9 575.5h.9M548.0 577.2h.9M548.1 591.8h.9M549.3 592.2h.9M549.2 592.4h.9M549.3 569.8h.9M548.8 597.1h.9M547.9 563.2h.9M548.1 591.4h.9" stroke="#f4f000" stroke-width="0.9" fill="none"/>
<line x1="549.2" y1="553.9" x2="549.2" y2="597.6" stroke="#f4f000" stroke-width="1.0" stroke-opacity="0.75"/>
<path d="M557.7 574.3h.9M557.8 560.0h.9M557.5 553.9h.9M557.1 583.2h.9M558.4 589.5h.9M558.4 569.3h.9M557.9 574.2h.9M558.1 596.5h.9M558.5 594.9h.9M557.0 572.9h.9M558.3 570.1h.9M557.2 569.9h.9M558.0 580.0h.9M558.3 572.9h.9M557.1 558.8h.9M556.8 577.2h.9M557.5 571.1h.9M557.8 572.8h.9M557.4 554.3h.9M557.8 584.1h.9M557.3 579.1h.9M557.9 555.2h.9M557.2 583.9h.9M558.3 572.5h.9M557.7 575.5h.9M557.0 583.4h.9M556.8 565.7h.9M558.0 563.6h.9M556.8 566.3h.9M556.9 591.4h.9M557.6 566.2h.9M558.2 597.6h.9M557.4 578.4h.9M557.6 577.8h.9M557.8 593.5h.9M557.3 574.0h.9M556.9 594.0h.9M557.8 581.7h.9M558.2 569.1h.9M556.7 560.0h.9M557.3 575.4h.9M557.9 592.5h.9M558.0 557.3h.9M557.9 562.9h.9M558.1 566.4h.9M557.5 568.7h.9M557.0 568.3h.9M557.1 556.1h.9M558.4 558.5h.9M556.7 570.7h.9M558.4 566.3h.9M557.6 576.7h.9M558.3 578.5h.9M558.5 559.0h.9M557.5 569.6h.9M557.5 571.6h.9M557.7 584.2h.9M557.2 565.6h.9M558.0 582.1h.9M557.1 574.3h.9M558.0 560.8h.9M557.4 568.7h.9M557.3 586.6h.9M558.0 562.2h.9M557.1 593.8h.9M557.1 578.5h.9M557.4 565.9h.9M558.1 573.4h.9M557.8 559.1h.9M558.2 579.1h.9M557.3 568.5h.9M557.0 555.7h.9M557.0 595.4h.9M556.8 575.9h.9M557.7 571.9h.9M557.1 570.8h.9M558.1 594.8h.9M557.2 572.8h.9M558.0 564.2h.9M558.5 570.9h.9M557.8 583.0h.9M558.3 566.0h.9M557.2 560.6h.9M557.7 558.6h.9M557.1 571.9h.9M557.7 559.6h.9M558.4 554.3h.9M558.4 561.2h.9M557.5 588.2h.9M557.4 570.9h.9M558.1 579.2h.9M557.2 554.7h.9M557.6 556.5h.9M557.7 585.8h.9M557.9 578.9h.9M557.5 569.5h.9M557.9 590.4h.9M557.8 566.1h.9M558.5 576.9h.9M558.1 583.4h.9M558.3 582.4h.9M556.9 586.4h.9M557.0 564.1h.9M557.1 581.0h.9M557.4 573.0h.9M557.5 596.5h.9M556.9 578.0h.9M557.6 581.4h.9M557.7 571.7h.9M556.8 555.3h.9M558.5 557.7h.9M557.9 572.9h.9M558.3 589.9h.9M558.0 570.9h.9M556.9 570.2h.9M557.6 568.6h.9M556.8 583.9h.9M557.1 571.7h.9M557.8 585.0h.9M557.7 571.4h.9M556.8 573.1h.9M558.2 577.2h.9M557.1 567.7h.9M558.3 596.6h.9M557.4 590.7h.9M557.4 567.5h.9M558.0 569.9h.9M556.8 581.3h.9M556.8 591.5h.9M557.0 592.8h.9M556.7 578.7h.9M558.3 593.1h.9M558.0 575.1h.9M556.8 572.6h.9M557.3 579.4h.9M557.7 589.6h.9M557.4 575.2h.9M557.1 568.7h.9M558.2 577.2h.9M557.6 580.5h.9M557.0 587.2h.9M557.1 576.8h.9M557.4 559.2h.9M556.8 568.6h.9M558.5 556.2h.9M557.9 582.9h.9M558.4 568.7h.9M557.1 585.8h.9M558.4 565.4h.9M558.2 592.3h.9M558.3 570.1h.9M556.9 572.2h.9M557.0 579.5h.9M557.0 560.7h.9M558.4 589.8h.9M556.7 565.8h.9M557.0 579.3h.9M557.0 564.3h.9M556.9 571.8h.9M558.1 580.6h.9M556.7 587.0h.9M557.4 575.2h.9M557.6 579.5h.9M558.3 569.4h.9M557.2 587.1h.9M557.2 588.6h.9M557.0 576.9h.9M556.8 589.8h.9M557.0 590.5h.9M557.2 566.7h.9M557.8 595.9h.9M558.4 571.2h.9M557.3 568.2h.9M557.7 582.2h.9M557.4 579.0h.9M557.4 580.4h.9M557.5 557.1h.9M557.3 571.6h.9M557.6 559.6h.9M557.1 564.7h.9M557.6 596.1h.9M557.9 593.9h.9M558.0 586.9h.9M558.2 557.1h.9M558.4 581.5h.9M556.9 581.0h.9M557.3 569.6h.9M557.0 590.1h.9M557.9 582.1h.9M557.1 593.0h.9" stroke="#a09c00" stroke-width="0.9" fill="none"/>
<line x1="558.1" y1="553.2" x2="558.1" y2="597.6" stroke="#a09c00" stroke-width="1.0" stroke-opacity="0.75"/>
<path d="M566.8 578.3h.9M566.0 563.8h.9M565.8 553.2h.9M565.7 565.5h.9M567.1 574.3h.9M566.0 582.2h.9M566.4 566.1h.9M566.3 590.1h.9M566.0 587.5h.9M566.6 553.0h.9M565.6 583.0h.9M566.7 566.0h.9M566.2 595.2h.9M566.6 592.8h.9M566.4 553.2h.9M566.3 580.3h.9M566.2 568.3h.9M566.3 566.1h.9M566.9 577.3h.9M567.1 579.6h.9M565.9 556.2h.9M566.9 590.8h.9M566.4 568.0h.9M566.1 573.8h.9M566.1 576.7h.9M565.8 577.4h.9M565.6 561.1h.9M566.1 560.8h.9M566.4 578.9h.9M566.5 568.9h.9M566.9 585.2h.9M566.9 568.5h.9M566.5 583.5h.9M567.1 571.2h.9M567.3 583.7h.9M565.9 575.9h.9M565.6 568.1h.9M565.7 585.5h.9M566.2 573.8h.9M566.9 573.7h.9M567.1 583.6h.9M565.9 556.9h.9M566.0 555.3h.9M567.1 592.3h.9M566.6 582.0h.9M566.9 571.5h.9M565.7 592.0h.9M566.7 560.4h.9M566.9 560.0h.9M565.6 593.0h.9M565.7 581.5h.9M566.6 579.0h.9M567.3 577.4h.9M566.1 557.8h.9M566.9 555.8h.9M566.1 570.2h.9M566.5 576.2h.9M567.3 580.9h.9M565.6 574.6h.9M567.1 568.1h.9M566.3 578.5h.9M566.2 572.9h.9M566.7 588.2h.9M566.8 556.2h.9M567.3 579.2h.9M567.1 590.6h.9M565.7 582.9h.9M566.9 580.0h.9M566.8 563.3h.9M566.5 591.4h.9M565.7 577.7h.9M566.8 591.8h.9M566.0 581.5h.9M566.1 559.4h.9M567.3 558.2h.9M566.7 566.2h.9M567.3 583.8h.9M566.1 597.1h.9M567.1 577.5h.9M566.9 579.9h.9M567.2 575.1h.9M567.0 579.2h.9M566.2 571.7h.9M567.3 566.5h.9M565.9 583.9h.9M566.1 577.9h.9M566.7 594.5h.9M567.2 577.4h.9M565.7 584.1h.9M566.4 555.5h.9M566.2 592.2h.9M567.2 586.1h.9M565.9 574.6h.9M566.9 582.7h.9M566.8 588.5h.9M565.9 584.7h.9M565.7 567.6h.9M566.9 583.3h.9M566.8 555.6h.9M566.2 569.8h.9M566.1 577.1h.9M567.0 557.3h.9M567.1 588.4h.9M566.0 580.1h.9M566.8 574.6h.9M567.0 582.2h.9M567.0 592.7h.9M566.0 579.7h.9M566.5 565.1h.9M566.2 569.1h.9M566.2 573.3h.9M566.0 575.3h.9M567.2 559.2h.9M566.3 577.9h.9M565.6 575.9h.9M566.9 558.8h.9M567.3 577.5h.9M565.8 559.3h.9M566.9 582.2h.9M565.7 556.9h.9M565.8 559.7h.9M567.2 581.9h.9M566.9 553.0h.9M566.1 574.1h.9M567.1 593.5h.9M566.1 586.7h.9M567.0 556.5h.9M566.1 587.0h.9M566.4 561.4h.9M566.2 569.4h.9M565.9 579.6h.9M566.3 564.8h.9M566.7 569.6h.9M567.2 589.2h.9M566.5 573.0h.9M566.4 591.8h.9M566.6 571.3h.9M565.8 556.4h.9M565.6 573.6h.9M566.5 576.6h.9M567.1 590.4h.9M567.0 586.9h.9M566.0 585.1h.9M567.2 566.9h.9M567.2 554.5h.9M566.1 574.0h.9M567.3 568.6h.9M566.8 583.4h.9M567.3 577.9h.9M566.5 575.0h.9M565.9 593.7h.9M565.8 575.0h.9M567.0 562.3h.9M567.3 560.6h.9M566.4 576.1h.9M566.9 580.2h.9M567.1 591.1h.9M566.6 570.9h.9M566.9 555.3h.9M566.6 576.4h.9M566.3 574.8h.9M566.5 582.0h.9M565.8 578.3h.9M567.0 590.8h.9M566.5 572.2h.9M566.6 576.7h.9M566.7 574.7h.9M566.2 560.2h.9M565.9 591.0h.9M566.0 589.0h.9M566.9 573.6h.9M566.4 571.1h.9M566.6 573.9h.9M566.1 574.9h.9M566.3 577.8h.9M565.8 564.2h.9M565.7 586.4h.9M565.7 572.8h.9M566.0 582.1h.9M567.3 588.1h.9M566.4 552.2h.9M566.8 560.5h.9M566.3 581.4h.9M567.0 569.8h.9M565.6 563.7h.9M567.2 580.9h.9M566.0 566.4h.9M566.6 594.9h.9M565.7 570.6h.9M566.9 576.9h.9" stroke="#000090" stroke-width="0.9" fill="none"/>
<line x1="566.9" y1="551.8" x2="566.9" y2="597.6" stroke="#000090" stroke-width="1.0" stroke-opacity="0.75"/>
<path d="M576.1 582.8h.9M574.8 552.8h.9M575.4 580.5h.9M574.7 582.5h.9M575.2 572.8h.9M575.0 571.0h.9M574.9 566.5h.9M575.1 590.9h.9M576.1 584.8h.9M575.4 575.1h.9M575.5 592.2h.9M574.7 572.6h.9M574.9 571.7h.9M575.8 556.2h.9M575.3 566.5h.9M574.5 597.0h.9M574.9 552.0h.9M576.1 582.5h.9M575.2 580.0h.9M574.6 556.8h.9M576.1 576.3h.9M576.1 578.3h.9M575.9 592.7h.9M575.5 566.8h.9M575.1 582.5h.9M574.9 574.4h.9M575.8 560.5h.9M576.1 582.8h.9M574.4 567.5h.9M574.5 553.1h.9M575.9 569.6h.9M574.5 558.0h.9M575.4 556.4h.9M576.0 566.1h.9M575.2 578.0h.9M575.0 587.1h.9M575.5 570.7h.9M574.8 579.3h.9M574.6 556.5h.9M575.2 572.7h.9M575.1 577.7h.9M574.4 575.9h.9M574.5 574.7h.9M575.4 587.7h.9M576.1 574.3h.9M574.8 567.8h.9M575.0 560.2h.9M575.8 555.7h.9M574.7 553.5h.9M575.5 584.0h.9M575.5 594.6h.9M575.9 580.1h.9M575.2 570.9h.9M575.4 575.1h.9M575.0 586.6h.9M574.7 566.9h.9M575.4 571.1h.9M576.0 582.8h.9M575.4 584.7h.9M576.1 591.5h.9M575.2 575.7h.9M575.9 577.8h.9M575.7 593.3h.9M575.3 571.8h.9M574.7 581.3h.9M574.5 597.0h.9M574.6 552.2h.9M575.7 587.8h.9M575.2 573.5h.9M575.1 580.2h.9M574.5 569.8h.9M576.1 565.7h.9M574.4 571.6h.9M575.1 565.5h.9M575.8 560.3h.9M574.5 578.5h.9M575.2 567.3h.9M575.3 568.4h.9M574.5 573.8h.9M574.6 566.2h.9M575.0 567.7h.9M575.0 565.1h.9M574.8 563.5h.9M574.9 596.9h.9M575.4 553.3h.9M574.6 560.0h.9M574.8 571.2h.9M574.7 566.4h.9M574.7 582.6h.9M575.5 581.2h.9M575.4 575.0h.9M575.6 563.9h.9M576.1 568.4h.9M575.0 557.6h.9M576.0 571.6h.9M575.6 571.5h.9M575.4 589.5h.9M575.1 591.9h.9M575.3 597.4h.9M575.3 578.3h.9M575.3 569.2h.9M574.8 575.9h.9M575.3 580.4h.9M575.3 567.7h.9M576.0 581.1h.9M574.6 597.2h.9M575.2 565.7h.9M575.7 567.4h.9M575.8 593.6h.9M574.6 557.4h.9M574.8 592.9h.9M574.9 581.8h.9M575.7 570.0h.9M575.5 582.1h.9M574.9 587.9h.9M574.5 566.8h.9M576.2 592.7h.9M574.6 579.4h.9M575.8 571.7h.9M575.2 586.1h.9M575.9 573.4h.9M575.1 578.4h.9M575.6 556.3h.9M575.5 588.4h.9M574.7 568.6h.9M575.4 571.8h.9M575.0 580.9h.9M575.4 579.4h.9M575.0 589.4h.9M575.4 555.2h.9M575.8 575.8h.9M575.2 577.2h.9M574.4 566.0h.9M575.7 562.3h.9M575.6 569.5h.9M575.4 552.5h.9M575.0 591.4h.9M574.9 564.9h.9M574.8 562.4h.9M575.2 585.2h.9M576.1 596.5h.9M575.9 579.9h.9M575.4 572.7h.9M574.7 576.1h.9M575.9 579.1h.9M575.6 565.2h.9M574.7 573.0h.9M574.6 577.0h.9M576.0 566.0h.9M574.8 582.4h.9M574.7 571.6h.9M575.2 582.4h.9M574.8 597.2h.9M575.4 565.9h.9M575.5 570.7h.9M575.4 553.4h.9M575.3 556.9h.9M574.5 581.6h.9M575.5 553.4h.9M575.9 554.1h.9M574.9 565.0h.9M575.7 590.1h.9M574.6 566.3h.9M576.1 566.5h.9M575.3 593.0h.9M574.8 565.9h.9M575.8 573.0h.9M575.5 571.8h.9M574.7 596.9h.9M576.0 574.8h.9M574.5 563.5h.9M575.8 561.4h.9M576.0 552.6h.9M575.6 552.4h.9M575.2 592.7h.9M574.6 575.6h.9M574.8 567.2h.9M574.6 586.6h.9M576.2 564.4h.9M574.5 591.2h.9M574.5 553.6h.9M576.1 563.9h.9M575.6 588.7h.9M575.9 595.2h.9M575.3 563.2h.9M575.3 593.3h.9M575.3 579.2h.9M574.7 566.2h.9M574.8 580.3h.9M576.2 565.3h.9" stroke="#900090" stroke-width="0.9" fill="none"/>
<line x1="575.8" y1="551.8" x2="575.8" y2="597.6" stroke="#900090" stroke-width="1.0" stroke-opacity="0.75"/>
<path d="M584.0 552.1h.9M584.5 594.6h.9M583.3 557.6h.9M584.8 570.1h.9M584.6 565.8h.9M583.3 576.9h.9M584.1 576.2h.9M584.1 559.4h.9M584.9 576.4h.9M583.6 578.8h.9M584.4 582.9h.9M583.9 571.4h.9M583.7 592.6h.9M583.3 579.8h.9M583.9 561.3h.9M584.3 582.9h.9M583.9 596.2h.9M584.2 557.6h.9M584.8 563.3h.9M584.7 575.1h.9M584.0 568.1h.9M584.1 577.5h.9M583.3 581.1h.9M584.6 579.0h.9M583.4 568.2h.9M583.3 581.6h.9M584.8 578.2h.9M584.9 588.3h.9M584.0 595.5h.9M584.6 564.9h.9M584.6 563.7h.9M584.1 584.3h.9M584.6 570.1h.9M584.7 594.4h.9M584.4 577.0h.9M585.0 567.6h.9M584.8 571.7h.9M583.5 582.4h.9M584.1 564.6h.9M584.2 557.6h.9M584.8 555.3h.9M584.7 577.9h.9M583.7 580.8h.9M584.7 568.2h.9M583.7 568.7h.9M584.1 596.8h.9M584.1 572.4h.9M584.0 582.3h.9M584.5 575.8h.9M583.5 556.3h.9M584.1 590.4h.9M584.4 572.6h.9M584.5 560.1h.9M584.4 558.0h.9M584.2 565.3h.9M584.9 562.0h.9M584.1 551.2h.9M583.7 565.7h.9M584.8 582.1h.9M585.0 588.3h.9M583.6 573.4h.9M584.2 581.1h.9M583.6 593.0h.9M585.0 582.2h.9M584.6 569.3h.9M584.8 580.1h.9M584.5 593.0h.9M584.7 581.8h.9M583.3 572.3h.9M584.4 558.9h.9M584.8 573.6h.9M583.9 571.5h.9M584.4 578.4h.9M583.4 583.0h.9M584.3 579.0h.9M584.7 590.8h.9M583.6 574.9h.9M584.9 571.0h.9M584.5 594.0h.9M583.8 587.8h.9M584.5 588.5h.9M584.8 570.2h.9M583.6 556.7h.9M584.9 563.5h.9M584.1 565.7h.9M583.8 569.0h.9M584.3 595.4h.9M583.5 569.3h.9M583.4 574.0h.9M584.4 563.2h.9M583.5 565.7h.9M585.0 575.4h.9M583.9 567.9h.9M583.8 552.0h.9M584.7 576.0h.9M583.6 572.3h.9M585.0 568.2h.9M583.3 595.9h.9M585.0 570.7h.9M585.0 575.2h.9M583.6 590.5h.9M584.1 585.6h.9M584.4 568.9h.9M584.0 557.0h.9M584.7 563.2h.9M583.3 579.0h.9M583.9 569.0h.9M583.3 565.3h.9M584.1 578.5h.9M583.7 558.3h.9M583.6 576.4h.9M584.7 553.8h.9M583.4 552.1h.9M584.2 591.0h.9M583.4 571.6h.9M584.3 573.2h.9M583.3 589.1h.9M584.4 582.1h.9M583.9 574.3h.9M583.6 591.9h.9M584.0 554.0h.9M584.8 569.0h.9M585.0 582.2h.9M583.8 578.2h.9M584.3 560.6h.9M584.5 567.0h.9M584.0 572.5h.9M583.9 589.8h.9M584.2 566.8h.9M584.7 556.6h.9M584.9 565.4h.9M583.3 575.0h.9M583.6 571.5h.9M584.1 581.0h.9M583.9 576.8h.9M585.0 552.1h.9M584.1 571.5h.9M583.5 574.7h.9M584.4 575.2h.9M583.9 573.0h.9M584.8 576.1h.9M584.2 563.7h.9M584.3 596.7h.9M583.8 578.4h.9M583.3 551.2h.9M584.4 584.0h.9M584.9 563.4h.9M583.9 597.1h.9M584.5 582.3h.9M584.3 577.6h.9M583.7 580.2h.9M584.0 579.3h.9M584.2 573.4h.9M584.3 570.8h.9M584.1 553.3h.9M584.0 582.0h.9M584.5 569.1h.9M583.3 557.0h.9M584.1 578.4h.9M584.1 567.3h.9M584.5 565.9h.9M584.8 577.6h.9M585.0 586.0h.9M585.0 577.5h.9M583.5 565.8h.9M583.3 577.7h.9M584.3 589.6h.9M583.6 562.5h.9M584.6 579.2h.9M584.6 595.7h.9M583.3 556.7h.9M583.4 569.2h.9M584.2 569.5h.9M583.9 579.5h.9M584.1 567.6h.9M583.3 567.3h.9M584.3 570.6h.9M583.8 596.8h.9M584.3 579.6h.9M583.4 576.3h.9M583.8 559.7h.9M584.0 580.3h.9M583.5 583.2h.9M584.0 576.0h.9M584.5 565.5h.9M584.9 559.5h.9M583.5 596.2h.9M583.3 578.4h.9M584.1 571.0h.9M584.3 567.2h.9" stroke="#900000" stroke-width="0.9" fill="none"/>
<line x1="584.6" y1="551.1" x2="584.6" y2="597.6" stroke="#900000" stroke-width="1.0" stroke-opacity="0.75"/>
<path d="M593.7 576.7h.9M593.0 593.1h.9M592.8 578.5h.9M592.8 578.2h.9M593.0 577.0h.9M592.7 586.9h.9M593.2 569.1h.9M593.7 594.4h.9M592.8 556.1h.9M592.5 596.4h.9M593.4 588.2h.9M593.6 562.7h.9M592.8 560.1h.9M593.1 560.1h.9M593.2 579.5h.9M592.2 555.5h.9M592.4 592.3h.9M593.4 570.4h.9M592.3 594.2h.9M592.5 576.1h.9M592.6 560.8h.9M593.4 580.7h.9M592.8 583.7h.9M592.7 569.3h.9M593.3 569.0h.9M592.1 565.2h.9M592.7 568.0h.9M592.3 578.9h.9M593.4 586.7h.9M593.0 575.2h.9M592.8 582.4h.9M592.6 575.4h.9M593.6 583.7h.9M593.1 588.9h.9M592.8 570.3h.9M592.6 587.2h.9M593.8 559.6h.9M592.8 566.4h.9M593.1 585.1h.9M592.5 581.7h.9M593.9 551.3h.9M593.4 574.5h.9M592.5 572.9h.9M592.5 565.1h.9M593.5 585.6h.9M592.1 593.7h.9M592.8 581.3h.9M592.7 572.9h.9M592.2 588.2h.9M592.3 570.6h.9M593.9 588.5h.9M592.6 566.9h.9M592.1 569.8h.9M593.0 580.1h.9M592.3 563.6h.9M593.4 588.1h.9M592.4 578.0h.9M592.4 578.0h.9M592.8 597.3h.9M593.6 553.8h.9M593.6 567.2h.9M593.7 557.6h.9M593.4 563.8h.9M592.9 577.2h.9M592.8 592.2h.9M592.4 581.6h.9M592.1 583.8h.9M593.8 564.1h.9M592.3 556.5h.9M592.5 574.0h.9M592.6 564.3h.9M593.6 569.6h.9M593.2 594.9h.9M592.2 588.3h.9M592.8 579.0h.9M592.2 573.5h.9M593.5 572.5h.9M593.0 580.9h.9M593.2 575.3h.9M593.5 574.6h.9M593.6 565.6h.9M593.8 565.9h.9M593.3 572.1h.9M593.6 574.2h.9M592.5 564.5h.9M592.4 586.7h.9M592.9 578.0h.9M592.9 556.1h.9M592.9 556.7h.9M593.8 576.2h.9M593.3 556.5h.9M593.8 557.2h.9M592.9 557.3h.9M593.8 579.4h.9M593.7 573.7h.9M592.3 566.0h.9M593.1 594.9h.9M593.1 588.1h.9M592.9 575.5h.9M592.9 578.8h.9M593.4 551.8h.9M593.0 551.7h.9M593.6 565.5h.9M593.3 574.5h.9M593.2 571.0h.9M593.6 552.5h.9M592.2 558.3h.9M592.3 556.5h.9M593.8 587.7h.9M593.2 564.3h.9M593.1 572.6h.9M593.2 593.6h.9M592.1 558.9h.9M592.1 575.9h.9M592.8 576.3h.9M593.1 575.7h.9M592.8 572.2h.9M592.2 580.1h.9M592.2 575.4h.9M593.9 579.8h.9M593.8 592.6h.9M592.8 591.8h.9M592.7 580.5h.9M592.4 558.6h.9M593.0 593.2h.9M592.8 576.6h.9M592.7 579.1h.9M592.8 574.6h.9M592.5 572.8h.9M593.5 592.6h.9M592.7 593.9h.9M592.7 572.9h.9M593.2 592.0h.9M592.6 553.8h.9M592.5 578.6h.9M592.9 591.6h.9M593.7 568.9h.9M593.9 595.1h.9M593.1 586.3h.9M593.5 581.2h.9M592.5 555.6h.9M592.1 566.7h.9M593.0 583.6h.9M592.2 589.2h.9M592.3 579.5h.9M593.7 587.4h.9M593.0 579.7h.9M592.2 591.7h.9M593.7 590.0h.9M592.1 575.5h.9M592.5 581.3h.9M593.8 553.6h.9M593.9 557.9h.9M593.6 576.9h.9M592.2 572.3h.9M592.6 553.3h.9M592.7 566.7h.9M592.5 580.4h.9M593.1 572.1h.9M592.3 579.3h.9M592.3 561.8h.9M593.5 573.4h.9M593.2 553.5h.9M593.2 580.0h.9M593.8 554.3h.9M593.5 572.4h.9M592.3 583.0h.9M593.7 551.6h.9M592.3 552.5h.9M593.5 590.1h.9M592.1 569.4h.9M592.6 582.2h.9M593.0 564.4h.9M593.0 592.7h.9M592.5 581.5h.9M592.6 580.7h.9M593.8 583.5h.9M593.5 572.0h.9M592.5 573.8h.9M592.2 572.5h.9M592.1 563.0h.9M592.9 559.4h.9M592.5 581.7h.9M592.9 567.8h.9M593.8 574.6h.9M592.9 573.1h.9M592.4 582.1h.9M593.8 585.4h.9M593.0 581.4h.9M592.7 588.3h.9" stroke="#008a00" stroke-width="0.9" fill="none"/>
<line x1="593.5" y1="550.4" x2="593.5" y2="597.6" stroke="#008a00" stroke-width="1.0" stroke-opacity="0.75"/>
<path d="M601.5 576.6h.9M601.9 591.7h.9M602.2 571.8h.9M601.5 575.2h.9M601.4 556.2h.9M602.2 591.7h.9M602.4 578.8h.9M601.8 552.9h.9M601.4 588.9h.9M602.7 594.9h.9M601.0 581.6h.9M601.2 592.7h.9M601.2 579.6h.9M601.6 552.0h.9M601.4 550.2h.9M601.0 569.0h.9M601.6 579.4h.9M602.5 574.1h.9M601.2 564.9h.9M601.1 567.5h.9M601.0 578.1h.9M602.1 594.3h.9M601.2 586.6h.9M602.0 596.6h.9M601.4 581.3h.9M601.2 570.3h.9M601.4 595.1h.9M601.9 573.7h.9M601.5 588.6h.9M602.5 555.6h.9M601.3 578.8h.9M602.4 582.2h.9M602.2 565.0h.9M602.1 570.0h.9M602.4 563.8h.9M601.8 578.5h.9M601.0 585.3h.9M601.9 560.7h.9M602.5 592.4h.9M601.8 579.1h.9M601.4 567.7h.9M601.1 573.6h.9M602.6 589.3h.9M602.4 580.0h.9M601.8 592.7h.9M601.9 559.3h.9M601.4 562.6h.9M601.3 583.1h.9M602.2 554.7h.9M602.2 578.6h.9M602.7 594.2h.9M601.6 582.8h.9M602.1 587.1h.9M601.8 586.1h.9M601.7 586.9h.9M601.8 557.8h.9M602.2 589.4h.9M601.9 569.8h.9M602.6 557.5h.9M601.3 553.6h.9M601.2 555.2h.9M601.0 575.2h.9M601.9 564.5h.9M602.0 552.5h.9M601.2 578.7h.9M602.3 559.5h.9M602.1 564.1h.9M601.6 549.8h.9M602.4 576.3h.9M602.4 589.3h.9M601.3 556.8h.9M601.7 571.0h.9M601.3 573.9h.9M602.2 572.7h.9M601.9 562.3h.9M601.4 578.5h.9M601.8 565.0h.9M601.4 568.0h.9M602.4 591.5h.9M601.1 574.7h.9M601.4 578.2h.9M601.2 570.8h.9M601.2 573.5h.9M601.2 587.9h.9M602.4 595.5h.9M601.3 575.6h.9M601.3 581.2h.9M602.3 581.1h.9M601.8 579.8h.9M601.2 565.6h.9M601.5 593.4h.9M601.0 576.6h.9M601.7 568.8h.9M602.2 575.5h.9M601.1 570.2h.9M601.0 566.7h.9M602.1 592.3h.9M602.4 589.3h.9M602.4 570.2h.9M601.7 570.6h.9M601.6 553.0h.9M601.7 584.9h.9M602.6 581.5h.9M602.3 577.3h.9M601.8 581.3h.9M602.5 593.9h.9M601.0 594.6h.9M602.5 592.5h.9M602.3 592.8h.9M601.5 567.1h.9M602.5 585.3h.9M602.6 596.1h.9M601.1 580.0h.9M601.6 577.7h.9M601.5 574.9h.9M602.2 584.3h.9M602.0 555.4h.9M602.0 580.6h.9M601.8 565.5h.9M602.3 562.6h.9M602.2 579.3h.9M602.6 557.6h.9M602.3 579.0h.9M602.5 550.2h.9M601.9 573.0h.9M601.2 572.7h.9M602.0 571.8h.9M601.8 557.2h.9M601.8 580.5h.9M601.1 581.7h.9M601.7 573.9h.9M601.5 562.5h.9M601.6 580.8h.9M602.0 583.9h.9M601.5 569.4h.9M601.5 554.1h.9M602.3 580.4h.9M601.0 594.8h.9M602.6 550.7h.9M602.4 584.8h.9M601.3 570.6h.9M601.5 588.3h.9M601.3 578.8h.9M602.5 589.9h.9M602.1 570.8h.9M602.6 572.9h.9M602.7 559.6h.9M602.2 554.3h.9M602.7 558.1h.9M601.8 594.6h.9M602.0 590.3h.9M601.0 578.6h.9M601.5 564.3h.9M601.5 563.2h.9M602.5 561.9h.9M602.4 575.4h.9M601.8 569.2h.9M602.4 594.2h.9M601.3 573.1h.9M601.5 559.5h.9M601.7 575.4h.9M602.1 553.0h.9M602.4 549.6h.9M601.2 567.4h.9M601.5 575.6h.9M601.8 557.8h.9M602.6 552.0h.9M601.2 566.3h.9M601.2 555.1h.9M601.2 577.9h.9M602.0 579.0h.9M601.6 552.2h.9M601.9 556.8h.9M602.6 555.2h.9M601.9 596.2h.9M602.4 576.6h.9M602.1 564.4h.9M602.4 589.9h.9M601.7 565.8h.9M601.7 565.5h.9M602.2 593.7h.9M602.4 556.0h.9M601.8 562.3h.9M602.3 590.6h.9M602.2 555.0h.9M601.2 580.9h.9M601.8 572.2h.9M601.1 581.5h.9M601.1 588.1h.9M602.3 575.7h.9" stroke="#008888" stroke-width="0.9" fill="none"/>
<line x1="602.3" y1="549.5" x2="602.3" y2="597.6" stroke="#008888" stroke-width="1.0" stroke-opacity="0.75"/>
<path d="M610.8 553.0h.9M609.9 583.5h.9M611.1 551.5h.9M610.7 578.4h.9M611.3 575.4h.9M609.9 595.7h.9M611.3 563.3h.9M610.0 553.5h.9M611.1 592.7h.9M610.8 568.2h.9M610.7 565.7h.9M611.0 564.2h.9M610.0 586.7h.9M610.2 588.3h.9M610.6 588.6h.9M610.5 593.2h.9M610.1 586.9h.9M610.0 571.0h.9M610.8 581.9h.9M609.9 563.4h.9M610.5 582.6h.9M609.9 572.9h.9M609.8 590.1h.9M611.4 578.4h.9M610.1 562.6h.9M610.4 579.8h.9M610.6 563.3h.9M610.3 596.8h.9M611.4 582.0h.9M610.2 565.3h.9M610.5 583.1h.9M611.1 579.8h.9M611.3 590.3h.9M610.2 568.4h.9M611.5 578.0h.9M611.0 561.7h.9M609.9 564.0h.9M610.9 584.3h.9M610.1 552.8h.9M610.9 579.7h.9M611.0 558.8h.9M611.1 556.4h.9M610.6 578.2h.9M611.6 570.4h.9M610.6 563.8h.9M610.5 573.4h.9M610.8 551.2h.9M609.9 578.8h.9M610.7 583.0h.9M610.0 585.3h.9M611.1 577.1h.9M611.6 566.7h.9M611.0 577.2h.9M611.1 584.3h.9M609.9 576.5h.9M610.4 573.5h.9M610.1 555.7h.9M611.5 589.4h.9M609.9 571.9h.9M610.1 572.1h.9M610.1 552.8h.9M610.0 563.6h.9M610.8 561.8h.9M611.6 580.3h.9M610.3 577.2h.9M610.2 562.0h.9M610.5 580.9h.9M609.9 566.8h.9M611.2 568.2h.9M611.5 574.0h.9M610.6 572.3h.9M611.4 575.8h.9M609.9 574.1h.9M611.4 552.3h.9M610.1 576.5h.9M610.9 586.5h.9M610.3 574.6h.9M610.8 591.8h.9M610.5 556.0h.9M610.0 584.9h.9M611.3 595.6h.9M610.0 579.8h.9M610.3 558.3h.9M610.1 567.2h.9M610.2 584.2h.9M610.2 571.8h.9M610.7 571.1h.9M610.2 589.1h.9M611.6 582.2h.9M610.2 579.1h.9M610.1 563.2h.9M610.2 570.8h.9M609.9 586.5h.9M611.5 586.5h.9M611.4 568.2h.9M610.9 567.9h.9M609.8 569.1h.9M610.6 586.6h.9M610.1 556.0h.9M611.5 563.8h.9M610.4 584.0h.9M609.8 556.0h.9M609.9 580.7h.9M610.8 574.1h.9M610.7 577.3h.9M611.3 584.5h.9M611.1 594.6h.9M611.4 561.8h.9M609.8 570.8h.9M610.8 582.1h.9M610.9 560.5h.9M610.3 591.9h.9M611.1 570.0h.9M610.6 566.1h.9M609.9 574.3h.9M611.2 588.2h.9M611.1 571.0h.9M610.1 581.7h.9M610.6 574.5h.9M611.4 567.6h.9M611.0 566.2h.9M611.1 565.5h.9M610.4 560.5h.9M611.0 577.2h.9M611.1 585.4h.9M611.5 596.9h.9M610.4 553.7h.9M610.1 590.5h.9M610.9 568.2h.9M611.3 568.0h.9M610.6 549.2h.9M610.1 567.1h.9M610.8 579.0h.9M611.5 558.5h.9M609.9 585.4h.9M611.2 576.3h.9M610.7 592.8h.9M610.5 572.5h.9M610.9 551.6h.9M610.8 573.9h.9M611.4 568.5h.9M610.2 559.6h.9M610.5 584.1h.9M611.5 596.7h.9M610.5 561.7h.9M610.7 562.6h.9M611.3 561.3h.9M610.2 580.5h.9M611.3 583.7h.9M609.9 578.5h.9M610.9 588.4h.9M609.9 572.4h.9M610.9 568.5h.9M610.7 573.9h.9M611.5 570.0h.9M611.2 555.4h.9M610.9 568.3h.9M610.7 578.8h.9M609.8 588.2h.9M611.0 581.6h.9M610.4 549.2h.9M611.3 565.8h.9M611.2 591.5h.9M610.4 569.2h.9M610.2 564.8h.9M610.1 575.4h.9M610.8 555.5h.9M610.7 575.2h.9M610.7 563.2h.9M610.5 573.7h.9M611.0 570.9h.9M611.5 563.7h.9M610.5 591.5h.9M610.6 573.1h.9M610.2 571.2h.9M610.9 568.1h.9M611.3 580.8h.9M610.5 565.9h.9M610.3 564.6h.9M610.8 572.2h.9M610.7 558.3h.9M610.8 554.6h.9M610.3 572.1h.9M611.0 569.4h.9M610.6 553.2h.9M610.7 577.6h.9M611.4 575.6h.9M609.9 584.1h.9M611.2 563.3h.9M611.1 575.5h.9" stroke="#0000b0" stroke-width="0.9" fill="none"/>
<line x1="611.1" y1="549.1" x2="611.1" y2="597.6" stroke="#0000b0" stroke-width="1.0" stroke-opacity="0.75"/>
<path d="M620.1 573.1h.9M618.9 592.5h.9M619.4 591.3h.9M619.0 565.9h.9M620.0 581.6h.9M619.2 565.4h.9M619.8 577.1h.9M618.8 565.1h.9M619.7 592.5h.9M620.4 571.4h.9M619.7 588.9h.9M619.9 581.5h.9M619.5 564.6h.9M619.1 549.9h.9M619.8 568.1h.9M620.1 576.9h.9M620.3 564.0h.9M619.0 564.5h.9M619.5 585.6h.9M619.8 579.7h.9M619.3 568.0h.9M619.9 549.1h.9M619.6 553.5h.9M618.8 572.1h.9M620.3 571.0h.9M620.3 587.8h.9M619.8 575.3h.9M620.1 566.8h.9M620.4 589.3h.9M619.9 588.8h.9M619.6 553.0h.9M618.8 568.0h.9M618.9 584.4h.9M619.8 581.3h.9M620.3 566.1h.9M619.7 566.6h.9M619.3 589.6h.9M620.2 566.8h.9M618.9 572.1h.9M619.7 567.7h.9M619.1 553.0h.9M619.3 554.3h.9M620.0 585.5h.9M618.8 570.1h.9M619.0 595.6h.9M618.7 596.1h.9M619.3 571.5h.9M620.3 566.3h.9M619.2 558.7h.9M619.7 567.4h.9M619.1 554.6h.9M618.9 584.9h.9M619.6 561.9h.9M619.8 563.6h.9M618.9 558.5h.9M620.2 579.5h.9M619.3 563.4h.9M620.0 565.0h.9M619.7 564.9h.9M620.3 559.5h.9M618.8 566.9h.9M619.9 552.7h.9M620.1 551.1h.9M619.4 568.3h.9M620.1 572.2h.9M619.9 565.2h.9M619.6 575.4h.9M619.2 565.4h.9M619.0 569.5h.9M619.1 572.4h.9M619.2 572.3h.9M619.6 578.0h.9M620.2 565.0h.9M620.2 585.6h.9M619.9 560.9h.9M619.0 552.7h.9M619.4 586.7h.9M620.3 574.8h.9M619.5 575.7h.9M619.5 564.2h.9M619.1 572.4h.9M618.9 562.3h.9M619.7 559.8h.9M619.9 578.9h.9M619.4 554.1h.9M619.9 573.1h.9M620.3 575.3h.9M619.5 549.5h.9M619.6 582.8h.9M619.5 586.2h.9M619.4 562.6h.9M619.3 595.3h.9M619.7 579.2h.9M619.2 589.4h.9M619.0 559.2h.9M620.1 551.6h.9M620.4 578.7h.9M619.8 576.5h.9M619.7 571.1h.9M620.3 562.0h.9M619.2 552.3h.9M619.4 575.4h.9M620.1 558.7h.9M619.5 575.6h.9M620.1 588.9h.9M619.7 587.7h.9M619.6 562.8h.9M619.5 585.7h.9M620.1 561.3h.9M619.4 567.8h.9M620.4 577.7h.9M619.9 574.6h.9M620.4 594.8h.9M620.3 558.0h.9M619.4 570.0h.9M618.9 551.1h.9M619.5 596.3h.9M619.8 589.0h.9M620.4 565.7h.9M619.0 580.3h.9M619.8 566.5h.9M619.5 569.0h.9M619.5 586.3h.9M619.9 577.6h.9M619.0 558.5h.9M619.0 566.4h.9M619.2 564.8h.9M619.1 580.7h.9M619.4 586.6h.9M618.9 562.2h.9M620.4 554.5h.9M619.1 567.6h.9M620.0 572.2h.9M619.3 573.5h.9M619.1 568.2h.9M619.5 573.2h.9M619.8 558.7h.9M618.7 559.7h.9M620.2 577.6h.9M620.1 574.3h.9M620.2 570.0h.9M619.6 571.8h.9M620.3 562.2h.9M619.3 578.7h.9M619.4 570.6h.9M619.6 593.5h.9M619.3 581.4h.9M619.1 586.4h.9M619.9 579.7h.9M620.1 575.0h.9M619.4 564.8h.9M619.2 558.3h.9M618.7 571.9h.9M619.2 564.2h.9M619.8 591.5h.9M618.7 550.6h.9M620.1 565.7h.9M619.3 557.7h.9M618.7 577.6h.9M619.1 595.9h.9M619.6 567.8h.9M620.0 585.6h.9M619.0 597.5h.9M618.7 570.0h.9M619.3 556.9h.9M619.6 568.2h.9M619.7 593.2h.9M618.8 580.8h.9M619.4 580.0h.9M619.4 572.5h.9M619.2 569.2h.9M619.1 589.8h.9M619.9 557.5h.9M620.2 579.6h.9M619.1 569.0h.9M620.3 564.1h.9M619.4 592.1h.9M619.7 567.8h.9M619.6 593.7h.9M620.4 559.3h.9M619.8 581.1h.9M619.2 582.7h.9M619.5 568.8h.9M619.5 571.2h.9M619.2 564.8h.9M620.0 575.8h.9M619.0 584.1h.9M618.7 568.5h.9M620.1 580.4h.9M619.5 560.4h.9" stroke="#ff8400" stroke-width="0.9" fill="none"/>
<line x1="620" y1="548.4" x2="620" y2="597.6" stroke="#ff8400" stroke-width="1.0" stroke-opacity="0.75"/>
<path d="M627.5 568.2h.9M629.1 595.2h.9M628.3 588.8h.9M628.7 559.2h.9M627.9 579.4h.9M629.1 590.2h.9M627.7 563.9h.9M628.1 572.0h.9M628.8 572.4h.9M627.6 559.9h.9M627.6 557.2h.9M628.6 554.7h.9M627.7 577.4h.9M627.8 566.2h.9M629.2 549.8h.9M628.1 548.8h.9M628.8 573.1h.9M628.9 559.2h.9M627.8 563.1h.9M628.1 579.8h.9M629.0 574.8h.9M628.8 565.0h.9M628.9 593.2h.9M628.9 564.3h.9M628.6 572.4h.9M628.3 550.4h.9M628.1 550.5h.9M629.0 576.0h.9M628.8 570.6h.9M629.2 549.2h.9M629.2 559.3h.9M629.0 559.5h.9M628.6 567.4h.9M627.7 576.2h.9M628.7 549.8h.9M629.2 586.0h.9M628.3 553.1h.9M628.5 595.0h.9M628.2 595.9h.9M629.2 562.4h.9M627.7 594.0h.9M627.9 561.3h.9M628.6 592.7h.9M628.7 564.4h.9M628.2 566.9h.9M628.0 573.1h.9M628.1 585.7h.9M628.2 596.5h.9M628.2 563.4h.9M627.5 565.3h.9M627.9 558.4h.9M628.5 589.0h.9M628.0 567.4h.9M629.1 564.1h.9M628.2 571.4h.9M627.9 562.4h.9M628.4 581.2h.9M628.7 578.4h.9M628.9 561.8h.9M629.2 582.4h.9M627.8 577.3h.9M628.4 554.9h.9M627.7 585.5h.9M628.9 596.9h.9M627.9 569.5h.9M628.2 555.1h.9M628.1 581.1h.9M627.9 583.7h.9M628.5 576.7h.9M628.0 569.5h.9M628.5 595.9h.9M628.6 565.4h.9M628.5 583.6h.9M628.1 563.0h.9M628.8 589.8h.9M628.5 551.6h.9M628.9 567.0h.9M628.2 585.7h.9M628.2 575.1h.9M628.9 563.6h.9M629.2 573.2h.9M627.6 576.7h.9M629.1 555.4h.9M628.2 580.0h.9M629.1 582.3h.9M627.9 579.2h.9M628.9 574.6h.9M628.5 561.7h.9M628.7 579.2h.9M627.8 570.4h.9M627.8 575.7h.9M627.7 581.7h.9M628.8 580.3h.9M627.9 581.7h.9M628.4 562.8h.9M628.0 560.7h.9M628.8 592.4h.9M628.1 548.5h.9M628.7 567.1h.9M628.9 587.4h.9M628.4 548.5h.9M627.6 572.9h.9M628.4 591.3h.9M628.2 593.6h.9M628.5 578.5h.9M628.3 572.3h.9M627.7 550.8h.9M627.9 597.5h.9M629.2 576.2h.9M628.0 567.7h.9M627.8 569.5h.9M628.2 560.2h.9M629.2 579.4h.9M628.2 568.4h.9M628.2 593.1h.9M628.1 586.1h.9M628.6 571.3h.9M628.0 549.9h.9M629.2 555.2h.9M628.5 573.5h.9M629.0 594.4h.9M627.9 592.5h.9M627.6 566.4h.9M629.2 570.5h.9M627.6 554.0h.9M628.4 572.3h.9M628.5 557.3h.9M629.0 554.4h.9M628.1 551.4h.9M629.1 579.6h.9M628.9 567.7h.9M628.7 569.6h.9M628.4 581.1h.9M628.5 557.5h.9M629.0 578.7h.9M628.3 575.6h.9M628.8 563.6h.9M627.9 578.8h.9M628.7 563.3h.9M628.1 562.8h.9M627.6 564.0h.9M628.7 563.1h.9M628.8 549.4h.9M629.0 585.2h.9M628.7 594.1h.9M628.9 585.7h.9M628.0 569.9h.9M628.9 573.1h.9M628.8 567.4h.9M628.8 596.4h.9M628.7 560.6h.9M628.0 580.7h.9M627.8 562.2h.9M628.4 564.7h.9M628.0 558.8h.9M628.5 577.5h.9M628.9 565.0h.9M628.8 569.7h.9M627.8 573.4h.9M627.8 558.2h.9M629.3 563.2h.9M628.0 571.7h.9M629.0 570.9h.9M629.0 573.9h.9M627.7 584.8h.9M628.0 572.3h.9M627.7 564.9h.9M627.7 578.0h.9M628.8 580.9h.9M628.1 558.1h.9M627.6 566.2h.9M629.0 553.3h.9M628.8 562.1h.9M628.5 553.5h.9M629.0 578.1h.9M627.9 585.8h.9M629.0 575.2h.9M628.5 559.7h.9M627.5 575.7h.9M628.7 592.0h.9M627.8 594.1h.9M629.0 580.8h.9M629.1 570.2h.9M628.2 575.9h.9M628.4 593.9h.9M627.8 595.8h.9M627.7 560.8h.9M629.0 556.3h.9M628.8 588.5h.9M627.6 559.4h.9" stroke="#8400ff" stroke-width="0.9" fill="none"/>
<line x1="628.9" y1="548.4" x2="628.9" y2="597.6" stroke="#8400ff" stroke-width="1.0" stroke-opacity="0.75"/>
<path d="M636.4 550.6h.9M637.5 563.2h.9M637.5 568.7h.9M636.6 596.8h.9M636.5 578.0h.9M636.4 577.7h.9M637.0 552.8h.9M637.9 559.8h.9M636.9 584.0h.9M636.4 567.4h.9M636.7 560.1h.9M637.3 565.1h.9M636.6 565.7h.9M636.6 574.5h.9M636.7 570.0h.9M637.6 571.3h.9M637.0 562.3h.9M636.4 566.7h.9M637.9 561.2h.9M637.5 563.1h.9M636.9 585.3h.9M637.8 571.1h.9M637.3 565.3h.9M637.1 568.9h.9M637.7 565.9h.9M637.2 552.0h.9M637.4 573.3h.9M637.4 564.0h.9M636.7 566.1h.9M637.5 597.1h.9M637.7 585.4h.9M637.3 560.7h.9M636.6 580.2h.9M636.6 555.6h.9M637.6 596.0h.9M637.3 566.8h.9M637.7 567.9h.9M636.6 578.5h.9M637.0 583.8h.9M637.5 575.2h.9M637.7 589.8h.9M637.3 562.2h.9M637.3 587.5h.9M636.7 573.1h.9M637.2 572.2h.9M637.6 570.9h.9M637.2 575.0h.9M637.5 594.9h.9M636.6 552.9h.9M637.5 570.7h.9M638.0 586.8h.9M636.7 586.8h.9M636.8 563.1h.9M637.2 548.5h.9M637.4 566.4h.9M636.8 586.8h.9M637.0 593.0h.9M637.8 561.2h.9M637.2 566.8h.9M637.1 550.3h.9M637.0 565.1h.9M638.0 555.7h.9M637.7 561.0h.9M638.1 577.0h.9M636.7 562.3h.9M638.0 578.7h.9M636.6 552.2h.9M637.1 590.8h.9M637.0 586.8h.9M637.7 586.6h.9M636.5 592.5h.9M636.6 565.2h.9M636.6 583.7h.9M636.8 565.1h.9M636.4 574.1h.9M637.0 554.2h.9M636.4 550.9h.9M638.1 590.9h.9M636.5 588.1h.9M637.1 549.1h.9M637.8 580.0h.9M637.7 552.7h.9M637.9 558.1h.9M638.1 575.6h.9M636.6 592.1h.9M636.6 580.1h.9M638.0 575.2h.9M638.1 594.7h.9M637.1 567.2h.9M636.5 588.1h.9M637.0 565.2h.9M638.0 557.8h.9M636.8 569.1h.9M637.8 569.7h.9M637.7 580.0h.9M636.4 564.4h.9M637.3 566.5h.9M637.9 585.7h.9M637.0 597.5h.9M637.6 571.5h.9M636.7 579.6h.9M637.3 592.1h.9M636.5 575.6h.9M637.9 588.9h.9M637.4 549.6h.9M637.2 563.9h.9M638.1 579.3h.9M636.6 571.6h.9M637.6 554.3h.9M636.4 548.2h.9M637.0 576.7h.9M636.5 584.8h.9M636.4 562.4h.9M637.9 570.2h.9M637.0 584.5h.9M638.0 580.9h.9M637.0 578.7h.9M637.3 571.7h.9M636.6 565.8h.9M637.1 575.7h.9M637.8 572.0h.9M637.6 568.9h.9M637.3 573.2h.9M636.7 585.1h.9M637.1 567.5h.9M637.7 568.3h.9M637.8 574.4h.9M636.5 578.2h.9M637.1 586.9h.9M637.2 580.1h.9M637.7 573.9h.9M637.1 580.5h.9M637.2 566.6h.9M636.9 574.1h.9M637.6 578.7h.9M636.6 589.9h.9M636.7 560.2h.9M637.0 563.1h.9M636.5 572.3h.9M636.7 571.2h.9M636.5 565.3h.9M638.0 568.2h.9M636.7 577.2h.9M637.3 566.2h.9M636.6 579.6h.9M637.6 578.3h.9M636.8 596.6h.9M637.1 568.0h.9M637.3 590.6h.9M637.6 561.4h.9M637.3 562.7h.9M637.9 574.9h.9M636.6 565.9h.9M637.5 576.1h.9M637.7 549.6h.9M637.0 560.2h.9M637.4 565.4h.9M638.0 564.5h.9M636.6 576.7h.9M637.6 561.5h.9M636.5 577.7h.9M636.8 573.7h.9M637.6 574.5h.9M636.6 550.0h.9M636.5 566.3h.9M636.9 562.6h.9M636.5 552.5h.9M636.4 567.4h.9M636.4 564.8h.9M638.1 591.5h.9M638.0 594.4h.9M637.7 561.2h.9M636.8 551.0h.9M638.0 581.6h.9M638.0 576.6h.9M636.5 560.5h.9M637.4 577.8h.9M637.6 572.4h.9M637.1 549.4h.9M638.1 575.5h.9M637.9 574.4h.9M637.2 567.6h.9M636.5 561.0h.9M636.5 565.4h.9M638.1 566.5h.9M636.9 576.7h.9M637.2 573.0h.9M636.9 565.5h.9M636.8 592.5h.9M636.5 554.0h.9" stroke="#ff0088" stroke-width="0.9" fill="none"/>
<line x1="637.7" y1="546.4" x2="637.7" y2="597.6" stroke="#ff0088" stroke-width="1.0" stroke-opacity="0.75"/>
<path d="M646.3 571.7h.9M645.5 584.2h.9M646.9 546.0h.9M646.0 576.0h.9M645.3 564.2h.9M646.3 584.5h.9M646.3 548.1h.9M645.7 558.7h.9M646.2 565.1h.9M646.8 564.3h.9M646.7 572.8h.9M646.9 584.4h.9M645.7 574.7h.9M646.9 586.3h.9M645.8 594.0h.9M645.5 568.2h.9M645.3 554.1h.9M646.5 568.1h.9M645.4 581.1h.9M645.3 564.3h.9M645.4 551.1h.9M646.4 584.8h.9M646.4 569.5h.9M646.6 577.1h.9M646.6 570.5h.9M645.3 591.1h.9M645.7 551.2h.9M646.3 596.9h.9M645.6 561.6h.9M646.9 561.8h.9M646.8 550.0h.9M645.6 582.1h.9M646.9 585.2h.9M646.7 571.3h.9M645.8 594.9h.9M646.0 574.1h.9M646.0 577.8h.9M646.3 583.1h.9M646.4 592.2h.9M645.4 572.1h.9M646.1 576.9h.9M645.2 558.8h.9M646.8 545.8h.9M645.8 571.2h.9M646.2 571.5h.9M645.9 571.2h.9M646.0 566.0h.9M645.8 560.4h.9M645.3 574.6h.9M645.5 572.6h.9M646.2 550.5h.9M646.6 562.1h.9M645.4 574.0h.9M646.2 555.0h.9M646.3 557.7h.9M645.5 583.0h.9M645.7 592.2h.9M646.6 573.2h.9M645.4 570.0h.9M645.9 558.7h.9M646.0 564.4h.9M646.0 588.2h.9M646.6 559.4h.9M646.2 569.2h.9M646.5 561.9h.9M646.0 552.2h.9M645.4 589.6h.9M646.3 563.2h.9M645.9 549.1h.9M646.3 579.1h.9M646.9 552.7h.9M645.5 569.3h.9M646.3 578.4h.9M645.9 575.6h.9M645.5 577.6h.9M645.5 571.9h.9M645.6 593.7h.9M646.1 556.2h.9M646.6 574.0h.9M646.2 578.9h.9M645.8 596.7h.9M647.0 563.1h.9M645.5 582.7h.9M646.2 591.5h.9M645.5 577.8h.9M645.7 578.6h.9M646.2 563.7h.9M645.6 566.2h.9M646.6 550.7h.9M646.8 572.9h.9M645.9 578.7h.9M645.4 550.8h.9M647.0 559.8h.9M646.2 574.9h.9M645.6 572.8h.9M646.6 577.4h.9M646.7 546.6h.9M645.3 587.5h.9M646.0 584.1h.9M646.9 569.8h.9M645.3 580.5h.9M645.4 574.3h.9M645.6 576.1h.9M646.4 596.9h.9M646.4 563.2h.9M646.5 572.7h.9M645.2 576.8h.9M646.8 570.0h.9M647.0 567.4h.9M645.8 575.4h.9M645.4 576.3h.9M646.2 576.4h.9M646.6 576.5h.9M646.0 566.8h.9M646.9 569.6h.9M646.0 551.4h.9M646.1 581.0h.9M645.5 568.2h.9M646.6 562.9h.9M645.4 565.4h.9M645.9 557.3h.9M646.8 584.9h.9M645.3 579.2h.9M645.4 595.8h.9M646.9 560.8h.9M645.7 563.6h.9M646.5 569.9h.9M646.6 568.4h.9M646.1 585.4h.9M645.5 557.0h.9M645.3 593.8h.9M646.3 585.9h.9M645.6 582.1h.9M646.9 567.2h.9M646.4 570.7h.9M645.3 566.1h.9M645.5 562.8h.9M646.0 574.0h.9M646.7 584.3h.9M646.0 559.2h.9M646.1 564.1h.9M646.2 556.0h.9M646.1 567.4h.9M646.6 575.1h.9M646.9 547.2h.9M646.6 548.5h.9M646.3 594.7h.9M646.7 565.4h.9M645.4 566.5h.9M647.0 575.8h.9M646.7 580.4h.9M646.7 560.2h.9M646.9 554.6h.9M645.9 567.4h.9M645.9 566.7h.9M646.6 575.3h.9M646.0 567.1h.9M645.7 592.8h.9M647.0 575.5h.9M646.8 549.0h.9M646.0 592.3h.9M646.9 568.7h.9M646.2 579.1h.9M645.4 561.1h.9M646.5 572.2h.9M647.0 580.6h.9M646.2 596.0h.9M645.4 592.3h.9M646.8 574.8h.9M646.6 578.7h.9M646.0 569.8h.9M645.7 572.5h.9M646.4 579.3h.9M645.5 564.3h.9M645.7 578.7h.9M645.5 574.5h.9M646.1 596.7h.9M646.5 559.0h.9M645.6 584.7h.9M646.5 561.2h.9M646.3 584.6h.9M646.3 559.9h.9M645.8 570.5h.9M645.7 546.3h.9M645.8 550.3h.9M646.2 564.1h.9M645.7 578.6h.9M646.9 560.8h.9M646.7 578.0h.9M646.8 564.5h.9" stroke="#f0c8f0" stroke-width="0.9" fill="none"/>
<line x1="646.5" y1="545.2" x2="646.5" y2="597.6" stroke="#f0c8f0" stroke-width="1.0" stroke-opacity="0.75"/>
<path d="M655.3 564.3h.9M654.8 570.7h.9M654.4 567.1h.9M655.3 577.2h.9M655.2 562.6h.9M655.2 560.5h.9M654.4 588.9h.9M654.7 560.4h.9M655.8 586.0h.9M654.1 581.2h.9M655.1 571.4h.9M654.9 568.8h.9M655.8 588.6h.9M654.7 568.4h.9M654.5 567.9h.9M654.5 577.6h.9M654.8 579.6h.9M654.7 562.5h.9M654.3 594.6h.9M654.7 588.7h.9M654.2 573.0h.9M654.5 551.8h.9M655.2 568.7h.9M655.5 580.3h.9M655.8 564.9h.9M655.7 595.2h.9M655.5 568.7h.9M655.0 568.3h.9M655.3 580.0h.9M654.4 566.9h.9M654.9 581.6h.9M654.8 565.4h.9M654.6 564.3h.9M654.5 587.7h.9M654.1 552.5h.9M655.8 585.1h.9M654.8 571.9h.9M654.7 578.1h.9M654.8 561.3h.9M655.3 550.2h.9M654.3 596.7h.9M654.1 574.8h.9M655.1 560.7h.9M654.1 583.8h.9M655.5 594.3h.9M654.6 574.1h.9M654.5 549.3h.9M655.3 575.7h.9M655.8 580.3h.9M655.3 568.1h.9M655.6 572.2h.9M655.6 592.9h.9M654.1 547.4h.9M654.8 576.2h.9M654.9 575.7h.9M655.0 560.8h.9M654.3 565.6h.9M654.7 560.9h.9M655.3 553.4h.9M655.5 594.4h.9M655.7 577.3h.9M654.5 563.1h.9M655.5 592.0h.9M654.9 572.1h.9M654.4 596.6h.9M654.2 549.7h.9M655.1 590.5h.9M654.2 586.2h.9M655.0 552.6h.9M655.5 555.7h.9M655.6 578.5h.9M654.4 590.0h.9M655.5 584.3h.9M654.8 579.7h.9M655.6 575.3h.9M654.4 596.6h.9M655.0 550.9h.9M655.5 565.4h.9M654.5 561.5h.9M654.3 574.1h.9M655.8 567.5h.9M654.1 590.7h.9M655.5 596.4h.9M654.5 587.2h.9M654.1 580.7h.9M654.9 563.9h.9M654.4 574.1h.9M655.0 574.2h.9M654.9 572.1h.9M654.9 588.3h.9M655.5 566.8h.9M655.5 558.1h.9M655.0 593.5h.9M655.4 596.7h.9M654.1 568.8h.9M655.5 569.0h.9M654.8 574.6h.9M655.1 568.5h.9M654.6 567.2h.9M655.1 590.4h.9M654.5 570.9h.9M655.6 572.3h.9M654.3 559.0h.9M655.1 588.4h.9M655.5 546.3h.9M655.2 578.3h.9M655.7 556.3h.9M654.7 596.1h.9M655.5 590.1h.9M655.4 564.1h.9M655.1 594.3h.9M654.5 563.4h.9M655.6 577.2h.9M655.0 589.3h.9M655.8 559.9h.9M655.8 557.3h.9M654.5 592.7h.9M655.5 582.1h.9M655.6 574.7h.9M655.5 579.4h.9M655.1 580.7h.9M655.1 549.6h.9M654.6 580.5h.9M655.3 572.1h.9M655.4 553.4h.9M654.1 552.9h.9M654.9 569.6h.9M655.4 588.5h.9M654.9 575.9h.9M655.4 570.4h.9M654.8 552.5h.9M654.1 586.7h.9M654.6 553.7h.9M655.2 586.3h.9M655.5 577.2h.9M655.6 567.1h.9M654.5 566.9h.9M655.4 590.3h.9M655.4 551.1h.9M655.3 587.6h.9M655.6 553.0h.9M654.6 545.9h.9M654.1 574.8h.9M655.7 556.2h.9M654.2 591.8h.9M655.0 575.8h.9M655.8 562.8h.9M655.7 578.6h.9M654.7 567.1h.9M654.9 563.1h.9M655.3 587.4h.9M654.5 578.6h.9M655.5 550.6h.9M655.3 570.8h.9M654.3 584.2h.9M654.8 589.2h.9M655.0 587.0h.9M654.5 550.1h.9M655.5 576.6h.9M655.6 588.6h.9M655.1 580.3h.9M654.4 579.7h.9M654.7 596.2h.9M655.5 575.1h.9M655.7 570.8h.9M655.1 576.1h.9M654.5 592.9h.9M654.2 559.9h.9M654.1 578.7h.9M654.9 567.6h.9M655.3 582.3h.9M655.5 581.6h.9M654.5 576.5h.9M654.3 579.8h.9M654.8 547.1h.9M654.3 581.0h.9M654.1 575.6h.9M655.2 561.8h.9M655.5 568.5h.9M654.9 548.9h.9M655.0 593.1h.9M655.4 579.2h.9M655.0 573.2h.9M654.4 581.3h.9M654.3 577.4h.9M655.1 570.2h.9M655.2 583.5h.9M654.6 593.8h.9M655.7 580.8h.9M655.1 563.9h.9" stroke="#cccccc" stroke-width="0.9" fill="none"/>
<line x1="655.4" y1="545.2" x2="655.4" y2="597.6" stroke="#cccccc" stroke-width="1.0" stroke-opacity="0.75"/>
<path d="M663.6 572.7h.9M664.5 573.1h.9M663.4 546.5h.9M664.2 570.8h.9M664.3 578.5h.9M663.7 546.6h.9M664.7 553.0h.9M663.5 596.5h.9M663.3 566.5h.9M663.9 547.5h.9M664.1 593.2h.9M664.3 581.3h.9M664.1 573.7h.9M663.2 562.6h.9M663.5 550.2h.9M664.2 570.0h.9M663.2 571.5h.9M663.2 552.1h.9M663.3 583.0h.9M663.6 594.8h.9M663.8 577.2h.9M664.2 559.5h.9M663.7 590.3h.9M663.5 554.7h.9M664.0 548.0h.9M663.4 565.8h.9M664.0 581.5h.9M664.0 571.2h.9M664.1 591.8h.9M664.6 553.7h.9M663.2 563.0h.9M663.8 582.9h.9M664.0 573.5h.9M663.2 569.1h.9M663.4 565.8h.9M663.4 573.7h.9M664.0 577.8h.9M664.2 551.6h.9M663.8 556.3h.9M663.6 569.7h.9M663.7 588.1h.9M664.0 569.6h.9M664.2 565.2h.9M663.4 562.9h.9M663.9 560.5h.9M664.4 572.1h.9M663.8 594.7h.9M664.2 554.8h.9M663.2 565.3h.9M663.1 549.6h.9M664.7 578.3h.9M663.2 555.3h.9M664.2 575.2h.9M663.1 573.7h.9M663.5 561.0h.9M664.1 589.7h.9M663.7 565.9h.9M663.0 551.6h.9M663.8 591.8h.9M664.2 570.7h.9M664.0 597.0h.9M664.3 584.4h.9M663.7 571.7h.9M664.0 588.0h.9M664.1 568.0h.9M663.5 562.9h.9M663.2 577.8h.9M663.8 576.6h.9M662.9 563.8h.9M663.5 567.1h.9M664.6 570.6h.9M663.1 556.1h.9M663.6 564.9h.9M663.8 588.5h.9M664.5 578.8h.9M663.0 570.0h.9M663.9 588.1h.9M663.6 571.8h.9M664.6 573.8h.9M663.9 569.5h.9M663.4 571.2h.9M663.5 546.0h.9M663.5 549.0h.9M663.8 547.8h.9M664.4 581.8h.9M663.4 547.1h.9M663.3 587.2h.9M664.0 573.1h.9M663.5 575.9h.9M664.1 586.5h.9M664.6 544.6h.9M662.9 578.4h.9M663.1 577.6h.9M663.7 590.2h.9M664.3 561.7h.9M664.0 564.6h.9M664.3 574.4h.9M664.2 573.7h.9M663.9 555.8h.9M664.6 546.7h.9M664.3 576.3h.9M663.1 561.7h.9M662.9 592.5h.9M664.6 563.9h.9M664.1 568.9h.9M664.4 543.1h.9M664.3 564.5h.9M662.9 585.6h.9M663.4 577.3h.9M663.5 566.0h.9M664.7 546.6h.9M664.3 547.6h.9M663.2 562.4h.9M663.7 557.6h.9M663.5 562.4h.9M664.3 547.7h.9M662.9 578.4h.9M663.0 558.3h.9M663.2 574.5h.9M663.6 561.8h.9M663.1 578.3h.9M664.3 547.6h.9M663.9 566.9h.9M663.3 595.1h.9M663.4 551.6h.9M663.2 563.8h.9M664.7 543.4h.9M664.2 573.9h.9M664.3 580.7h.9M664.2 564.3h.9M663.4 578.3h.9M663.6 559.2h.9M663.8 571.0h.9M663.1 576.1h.9M663.0 588.4h.9M663.0 577.7h.9M664.2 581.4h.9M663.1 571.4h.9M664.1 593.7h.9M663.1 576.3h.9M664.2 583.9h.9M664.6 575.2h.9M663.6 561.2h.9M664.3 570.5h.9M663.6 575.4h.9M664.2 555.0h.9M663.9 583.3h.9M663.5 556.7h.9M663.5 571.1h.9M664.0 570.1h.9M664.2 562.6h.9M664.4 560.0h.9M663.3 568.2h.9M664.2 555.2h.9M663.4 575.6h.9M663.6 570.4h.9M664.3 574.7h.9M663.3 590.6h.9M663.1 572.1h.9M663.8 565.9h.9M663.5 573.3h.9M662.9 572.7h.9M664.5 568.2h.9M664.7 558.3h.9M664.2 593.4h.9M664.7 561.8h.9M663.7 573.3h.9M664.3 567.1h.9M664.0 546.5h.9M663.9 549.7h.9M664.3 570.5h.9M663.7 586.8h.9M662.9 566.0h.9M664.1 551.2h.9M663.3 552.6h.9M663.0 568.8h.9M664.5 581.0h.9M664.0 590.7h.9M663.2 566.9h.9M663.6 546.4h.9M664.5 561.5h.9M662.9 592.7h.9M664.5 580.9h.9M664.5 563.6h.9M664.6 576.1h.9M663.6 567.3h.9M664.4 547.3h.9M664.4 556.1h.9M663.1 563.1h.9M663.8 593.2h.9" stroke="#808080" stroke-width="0.9" fill="none"/>
<line x1="664.2" y1="543" x2="664.2" y2="597.6" stroke="#808080" stroke-width="1.0" stroke-opacity="0.75"/>
<rect x="492.8" y="519.4" width="6.6" height="20.3" fill="none" stroke="#2a2a2a" stroke-width="0.7"/>
<line x1="492.8" y1="529.6" x2="499.4" y2="529.6" stroke="#2a2a2a" stroke-width="0.7"/>
<rect x="501.7" y="542.1" width="6.6" height="29.4" fill="none" stroke="#2a2a2a" stroke-width="0.7"/>
<line x1="501.7" y1="557.4" x2="508.3" y2="557.4" stroke="#2a2a2a" stroke-width="0.7"/>
<rect x="510.5" y="561.5" width="6.6" height="16.9" fill="none" stroke="#2a2a2a" stroke-width="0.7"/>
<line x1="510.5" y1="570.6" x2="517.1" y2="570.6" stroke="#2a2a2a" stroke-width="0.7"/>
<rect x="519.4" y="567.1" width="6.6" height="16.1" fill="none" stroke="#2a2a2a" stroke-width="0.7"/>
<line x1="519.4" y1="575.4" x2="525.9" y2="575.4" stroke="#2a2a2a" stroke-width="0.7"/>
<rect x="528.2" y="567.8" width="6.6" height="17.3" fill="none" stroke="#2a2a2a" stroke-width="0.7"/>
<line x1="528.2" y1="576.1" x2="534.8" y2="576.1" stroke="#2a2a2a" stroke-width="0.7"/>
<rect x="537.1" y="567.1" width="6.6" height="17.3" fill="none" stroke="#2a2a2a" stroke-width="0.7"/>
<line x1="537.1" y1="575.7" x2="543.6" y2="575.7" stroke="#2a2a2a" stroke-width="0.7"/>
<rect x="545.9" y="566.4" width="6.6" height="18.0" fill="none" stroke="#2a2a2a" stroke-width="0.7"/>
<line x1="545.9" y1="575.4" x2="552.5" y2="575.4" stroke="#2a2a2a" stroke-width="0.7"/>
<rect x="554.8" y="565.7" width="6.6" height="18.7" fill="none" stroke="#2a2a2a" stroke-width="0.7"/>
<line x1="554.8" y1="575.1" x2="561.4" y2="575.1" stroke="#2a2a2a" stroke-width="0.7"/>
<rect x="563.6" y="565.7" width="6.6" height="18.0" fill="none" stroke="#2a2a2a" stroke-width="0.7"/>
<line x1="563.6" y1="574.7" x2="570.2" y2="574.7" stroke="#2a2a2a" stroke-width="0.7"/>
<rect x="572.5" y="565.0" width="6.6" height="18.0" fill="none" stroke="#2a2a2a" stroke-width="0.7"/>
<line x1="572.5" y1="574.4" x2="579" y2="574.4" stroke="#2a2a2a" stroke-width="0.7"/>
<rect x="581.3" y="565.0" width="6.6" height="18.0" fill="none" stroke="#2a2a2a" stroke-width="0.7"/>
<line x1="581.3" y1="574" x2="587.9" y2="574" stroke="#2a2a2a" stroke-width="0.7"/>
<rect x="590.2" y="564.3" width="6.6" height="18.0" fill="none" stroke="#2a2a2a" stroke-width="0.7"/>
<line x1="590.2" y1="573.7" x2="596.8" y2="573.7" stroke="#2a2a2a" stroke-width="0.7"/>
<rect x="599.0" y="563.9" width="6.6" height="18.6" fill="none" stroke="#2a2a2a" stroke-width="0.7"/>
<line x1="599" y1="573.3" x2="605.6" y2="573.3" stroke="#2a2a2a" stroke-width="0.7"/>
<rect x="607.9" y="562.9" width="6.6" height="19.4" fill="none" stroke="#2a2a2a" stroke-width="0.7"/>
<line x1="607.9" y1="572.9" x2="614.4" y2="572.9" stroke="#2a2a2a" stroke-width="0.7"/>
<rect x="616.7" y="562.9" width="6.6" height="18.7" fill="none" stroke="#2a2a2a" stroke-width="0.7"/>
<line x1="616.7" y1="572.6" x2="623.3" y2="572.6" stroke="#2a2a2a" stroke-width="0.7"/>
<rect x="625.6" y="561.8" width="6.6" height="19.6" fill="none" stroke="#2a2a2a" stroke-width="0.7"/>
<line x1="625.6" y1="571.9" x2="632.1" y2="571.9" stroke="#2a2a2a" stroke-width="0.7"/>
<rect x="634.4" y="560.8" width="6.6" height="20.1" fill="none" stroke="#2a2a2a" stroke-width="0.7"/>
<line x1="634.4" y1="571.2" x2="641" y2="571.2" stroke="#2a2a2a" stroke-width="0.7"/>
<rect x="643.2" y="560.8" width="6.6" height="20.1" fill="none" stroke="#2a2a2a" stroke-width="0.7"/>
<line x1="643.2" y1="570.8" x2="649.8" y2="570.8" stroke="#2a2a2a" stroke-width="0.7"/>
<rect x="652.1" y="560.8" width="6.6" height="20.1" fill="none" stroke="#2a2a2a" stroke-width="0.7"/>
<line x1="652.1" y1="570.4" x2="658.7" y2="570.4" stroke="#2a2a2a" stroke-width="0.7"/>
<rect x="661.0" y="560.4" width="6.6" height="19.3" fill="none" stroke="#2a2a2a" stroke-width="0.7"/>
<line x1="661" y1="569.9" x2="667.5" y2="569.9" stroke="#2a2a2a" stroke-width="0.7"/>
<path d="M496.1,531.0 C497.6,535.4 502.0,550.8 505.0,557.4 C507.9,564.0 510.9,567.6 513.8,570.6 C516.8,573.5 519.7,574.3 522.6,575.1 C525.6,576.0 528.5,575.7 531.5,575.8 C534.5,575.9 537.4,575.8 540.4,575.7 C543.3,575.6 546.2,575.5 549.2,575.4 C552.2,575.3 555.1,575.2 558.1,575.1 C561.0,575.0 564.0,575.0 566.9,574.9 C569.8,574.7 572.8,574.6 575.8,574.4 C578.7,574.3 581.6,574.1 584.6,574.0 C587.6,573.9 590.5,573.9 593.5,573.7 C596.4,573.6 599.3,573.5 602.3,573.3 C605.2,573.2 608.2,573.0 611.1,572.9 C614.1,572.8 617.0,572.8 620.0,572.6 C623.0,572.5 625.9,572.2 628.9,571.9 C631.8,571.7 634.8,571.4 637.7,571.2 C640.7,571.1 643.6,571.0 646.5,570.8 C649.5,570.7 652.4,570.6 655.4,570.4 C658.4,570.3 662.8,570.0 664.2,569.9" fill="none" stroke="#33ee33" stroke-width="1.3"/>
<line x1="491.7" y1="494.4" x2="491.7" y2="604.8" stroke="#222" stroke-width="1"/>
<line x1="491.7" y1="604.8" x2="668.4" y2="604.8" stroke="#222" stroke-width="1"/>
<line x1="487.8" y1="597.6" x2="491.7" y2="597.6" stroke="#222" stroke-width="0.9"/>
<text x="485.8" y="600.3" font-size="7.6" fill="#222" text-anchor="end">1</text>
<line x1="487.8" y1="583.7" x2="491.7" y2="583.7" stroke="#222" stroke-width="0.9"/>
<text x="485.8" y="586.4" font-size="7.6" fill="#222" text-anchor="end">2</text>
<line x1="487.8" y1="569.9" x2="491.7" y2="569.9" stroke="#222" stroke-width="0.9"/>
<text x="485.8" y="572.6" font-size="7.6" fill="#222" text-anchor="end">3</text>
<line x1="487.8" y1="556" x2="491.7" y2="556" stroke="#222" stroke-width="0.9"/>
<text x="485.8" y="558.7" font-size="7.6" fill="#222" text-anchor="end">4</text>
<line x1="487.8" y1="542.1" x2="491.7" y2="542.1" stroke="#222" stroke-width="0.9"/>
<text x="485.8" y="544.8" font-size="7.6" fill="#222" text-anchor="end">5</text>
<line x1="487.8" y1="528.2" x2="491.7" y2="528.2" stroke="#222" stroke-width="0.9"/>
<text x="485.8" y="531" font-size="7.6" fill="#222" text-anchor="end">6</text>
<line x1="487.8" y1="514.4" x2="491.7" y2="514.4" stroke="#222" stroke-width="0.9"/>
<text x="485.8" y="517.1" font-size="7.6" fill="#222" text-anchor="end">7</text>
<line x1="487.8" y1="500.5" x2="491.7" y2="500.5" stroke="#222" stroke-width="0.9"/>
<text x="485.8" y="503.2" font-size="7.6" fill="#222" text-anchor="end">8</text>
<line x1="505" y1="604.8" x2="505" y2="608.4" stroke="#222" stroke-width="0.9"/>
<line x1="522.6" y1="604.8" x2="522.6" y2="608.4" stroke="#222" stroke-width="0.9"/>
<line x1="540.4" y1="604.8" x2="540.4" y2="608.4" stroke="#222" stroke-width="0.9"/>
<line x1="558.1" y1="604.8" x2="558.1" y2="608.4" stroke="#222" stroke-width="0.9"/>
<line x1="575.8" y1="604.8" x2="575.8" y2="608.4" stroke="#222" stroke-width="0.9"/>
<line x1="593.5" y1="604.8" x2="593.5" y2="608.4" stroke="#222" stroke-width="0.9"/>
<line x1="611.1" y1="604.8" x2="611.1" y2="608.4" stroke="#222" stroke-width="0.9"/>
<line x1="628.9" y1="604.8" x2="628.9" y2="608.4" stroke="#222" stroke-width="0.9"/>
<line x1="646.5" y1="604.8" x2="646.5" y2="608.4" stroke="#222" stroke-width="0.9"/>
<line x1="664.2" y1="604.8" x2="664.2" y2="608.4" stroke="#222" stroke-width="0.9"/>
<text x="510.7" y="521.2" font-size="10.8" fill="#8c7865" font-weight="bold">MLKL (nM)</text>
<text font-size="9.3" fill="#111" text-anchor="middle" transform="translate(461,552.2) rotate(-90)">Optimal molecule</text>
<text font-size="9.3" fill="#111" text-anchor="middle" transform="translate(471.9,551.8) rotate(-90)">of RIP3 (n)</text>
<text font-size="7.6" fill="#222" text-anchor="end" transform="translate(511,615.2) rotate(-45)">20</text>
<text font-size="7.6" fill="#222" text-anchor="end" transform="translate(546.4,615.2) rotate(-45)">60</text>
<text font-size="7.6" fill="#222" text-anchor="end" transform="translate(581.8,615.2) rotate(-45)">100</text>
<text font-size="7.6" fill="#222" text-anchor="end" transform="translate(617.1,615.2) rotate(-45)">140</text>
<text font-size="7.6" fill="#222" text-anchor="end" transform="translate(652.5,615.2) rotate(-45)">180</text>
<defs>
<linearGradient id="gbox" x1="0" y1="0" x2="0" y2="1"><stop offset="0" stop-color="#f6f6f6"/><stop offset="1" stop-color="#e6e6e6"/></linearGradient>
<linearGradient id="grbox" x1="0" y1="0" x2="0" y2="1"><stop offset="0" stop-color="#e9f0d6"/><stop offset="1" stop-color="#dde8c4"/></linearGradient>
<radialGradient id="hex" cx="0.5" cy="0.45" r="0.6"><stop offset="0" stop-color="#fbf2e4"/><stop offset="1" stop-color="#caa57a"/></radialGradient>
<linearGradient id="wA" x1="0" y1="0" x2="1" y2="0"><stop offset="0" stop-color="#b2b2b2"/><stop offset="1" stop-color="#f2f2f2"/></linearGradient>
<linearGradient id="wB" x1="0" y1="0" x2="1" y2="0"><stop offset="0" stop-color="#fafafa"/><stop offset="1" stop-color="#a8a8a8"/></linearGradient>
<linearGradient id="pkar" x1="0" y1="0" x2="0" y2="1"><stop offset="0" stop-color="#e6288e"/><stop offset="1" stop-color="#fbd0e8"/></linearGradient>
<linearGradient id="grar" x1="0" y1="0" x2="0" y2="1"><stop offset="0" stop-color="#2aa84a"/><stop offset="1" stop-color="#cdf0d0"/></linearGradient>
<linearGradient id="trap" x1="0" y1="0" x2="0" y2="1"><stop offset="0" stop-color="#fdfdfd"/><stop offset="1" stop-color="#c4c4c4"/></linearGradient>
<filter id="sh" x="-30%" y="-30%" width="160%" height="160%"><feDropShadow dx="0.8" dy="0.8" stdDeviation="0.6" flood-color="#000" flood-opacity="0.35"/></filter>
</defs>
<text x="453.4" y="650.2" font-size="16" fill="#111">d</text>
<text x="505" y="647.7" font-size="7.7" fill="#ee6426" text-anchor="middle" font-weight="bold" font-style="italic">RIP1-RIP3</text>
<text x="506" y="656.5" font-size="7.7" fill="#ee6426" text-anchor="middle" font-weight="bold" font-style="italic">RHIM-fiber</text>
<text x="595" y="647.6" font-size="7.7" fill="#2aa6e6" text-anchor="middle" font-weight="bold" font-style="italic">RIP3-RIP3</text>
<text x="597" y="656.9" font-size="7.7" fill="#2aa6e6" text-anchor="middle" font-weight="bold" font-style="italic">RHIM-fiber chain</text>
<rect x="479.3" y="662.1" width="52" height="38.1" fill="url(#gbox)" stroke="#c4c4c4" stroke-width="1" stroke-dasharray="4,3"/>
<rect x="533.4" y="662.4" width="125.2" height="37.4" fill="url(#grbox)" stroke="#b4c8b8" stroke-width="1" stroke-dasharray="4,3"/>
<polygon points="486.9,672.4 491.3,678.4 489.6,678.4 489.6,689.4 484.2,689.4 484.2,678.4 482.5,678.4" fill="#f08ae6" stroke="none" stroke-width="1" filter="url(#sh)"/>
<polygon points="490.9,697.4 495.3,691.4 493.6,691.4 493.6,680.6 488.2,680.6 488.2,691.4 486.5,691.4" fill="#f0aa78" stroke="none" stroke-width="1" filter="url(#sh)"/>
<polygon points="498.9,672 503.3,678 501.6,678 501.6,690 496.2,690 496.2,678 494.5,678" fill="#f0aa78" stroke="none" stroke-width="1" filter="url(#sh)"/>
<polygon points="502.9,697.4 507.3,691.4 505.6,691.4 505.6,680.6 500.2,680.6 500.2,691.4 498.5,691.4" fill="#f08ae6" stroke="none" stroke-width="1" filter="url(#sh)"/>
<polygon points="511,670.4 515.4,676.4 513.7,676.4 513.7,688.4 508.3,688.4 508.3,676.4 506.6,676.4" fill="#f08ae6" stroke="none" stroke-width="1" filter="url(#sh)"/>
<polygon points="515,696.4 519.4,690.4 517.7,690.4 517.7,679.6 512.3,679.6 512.3,690.4 510.6,690.4" fill="#f0aa78" stroke="none" stroke-width="1" filter="url(#sh)"/>
<polygon points="522.2,669.4 526.6,675.4 524.9,675.4 524.9,687.4 519.5,687.4 519.5,675.4 517.8,675.4" fill="#f0aa78" stroke="none" stroke-width="1" filter="url(#sh)"/>
<polygon points="526.4,695.4 530.8,689.4 529.1,689.4 529.1,678.6 523.7,678.6 523.7,689.4 522,689.4" fill="#f08ae6" stroke="none" stroke-width="1" filter="url(#sh)"/>
<polygon points="539.3,667.8 543.7,673.8 542,673.8 542,686.5 536.6,686.5 536.6,673.8 534.9,673.8" fill="#f08ae6" stroke="none" stroke-width="1" filter="url(#sh)"/>
<polygon points="544.5,695.6 548.9,689.6 547.2,689.6 547.2,676.5 541.8,676.5 541.8,689.6 540.1,689.6" fill="#f08ae6" stroke="none" stroke-width="1" filter="url(#sh)"/>
<polygon points="554.5,667.8 558.9,673.8 557.2,673.8 557.2,686.5 551.8,686.5 551.8,673.8 550.1,673.8" fill="#f08ae6" stroke="none" stroke-width="1" filter="url(#sh)"/>
<polygon points="559.7,695.6 564.1,689.6 562.4,689.6 562.4,676.5 557,676.5 557,689.6 555.3,689.6" fill="#f08ae6" stroke="none" stroke-width="1" filter="url(#sh)"/>
<polygon points="569.7,667.8 574.1,673.8 572.4,673.8 572.4,686.5 567,686.5 567,673.8 565.3,673.8" fill="#f08ae6" stroke="none" stroke-width="1" filter="url(#sh)"/>
<polygon points="574.9,695.6 579.3,689.6 577.6,689.6 577.6,676.5 572.2,676.5 572.2,689.6 570.5,689.6" fill="#f08ae6" stroke="none" stroke-width="1" filter="url(#sh)"/>
<polygon points="584.9,667.8 589.3,673.8 587.6,673.8 587.6,686.5 582.2,686.5 582.2,673.8 580.5,673.8" fill="#f08ae6" stroke="none" stroke-width="1" filter="url(#sh)"/>
<polygon points="590.1,695.6 594.5,689.6 592.8,689.6 592.8,676.5 587.4,676.5 587.4,689.6 585.7,689.6" fill="#f08ae6" stroke="none" stroke-width="1" filter="url(#sh)"/>
<polygon points="600.1,667.8 604.5,673.8 602.8,673.8 602.8,686.5 597.4,686.5 597.4,673.8 595.7,673.8" fill="#f08ae6" stroke="none" stroke-width="1" filter="url(#sh)"/>
<polygon points="605.3,695.6 609.7,689.6 608,689.6 608,676.5 602.6,676.5 602.6,689.6 600.9,689.6" fill="#f08ae6" stroke="none" stroke-width="1" filter="url(#sh)"/>
<polygon points="615.3,667.8 619.7,673.8 618,673.8 618,686.5 612.6,686.5 612.6,673.8 610.9,673.8" fill="#f08ae6" stroke="none" stroke-width="1" filter="url(#sh)"/>
<polygon points="620.5,695.6 624.9,689.6 623.2,689.6 623.2,676.5 617.8,676.5 617.8,689.6 616.1,689.6" fill="#f08ae6" stroke="none" stroke-width="1" filter="url(#sh)"/>
<polygon points="630.5,667.8 634.9,673.8 633.2,673.8 633.2,686.5 627.8,686.5 627.8,673.8 626.1,673.8" fill="#f08ae6" stroke="none" stroke-width="1" filter="url(#sh)"/>
<polygon points="635.7,695.6 640.1,689.6 638.4,689.6 638.4,676.5 633,676.5 633,689.6 631.3,689.6" fill="#f08ae6" stroke="none" stroke-width="1" filter="url(#sh)"/>
<polygon points="645.7,667.8 650.1,673.8 648.4,673.8 648.4,686.5 643,686.5 643,673.8 641.3,673.8" fill="#f08ae6" stroke="none" stroke-width="1" filter="url(#sh)"/>
<polygon points="650.9,695.6 655.3,689.6 653.6,689.6 653.6,676.5 648.2,676.5 648.2,689.6 646.5,689.6" fill="#f08ae6" stroke="none" stroke-width="1" filter="url(#sh)"/>
<rect x="604.4" y="701.3" width="52.9" height="29.4" fill="#f5f0e7" stroke="#dcd4c6" stroke-width="0.8" stroke-dasharray="4,3"/>
<polygon points="619.3,724.6 614.5,727.4 609.7,724.6 609.7,719 614.5,716.2 619.3,719" fill="url(#hex)" stroke="#8fa860" stroke-width="0.5"/>
<polygon points="629.5,724.6 624.7,727.4 619.9,724.6 619.9,719 624.7,716.2 629.5,719" fill="url(#hex)" stroke="#8fa860" stroke-width="0.5"/>
<polygon points="640,724.6 635.2,727.4 630.4,724.6 630.4,719 635.2,716.2 640,719" fill="url(#hex)" stroke="#8fa860" stroke-width="0.5"/>
<polygon points="650.3,724.6 645.5,727.4 640.7,724.6 640.7,719 645.5,716.2 650.3,719" fill="url(#hex)" stroke="#8fa860" stroke-width="0.5"/>
<path d="M617.8,707.5 C617.8,703 621.5,700 621.5,695" fill="none" stroke="#222" stroke-width="0.5"/>
<rect x="614.6" y="707.3" width="6.4" height="7.4" fill="#1b8fe0"/>
<rect x="616.2" y="709.1" width="3.2" height="3.7" fill="none" stroke="#fff" stroke-width="0.5"/>
<path d="M633.8,707.5 C633.8,703 637,700 637,695" fill="none" stroke="#222" stroke-width="0.5"/>
<rect x="630.6" y="707.3" width="6.4" height="7.4" fill="#1b8fe0"/>
<rect x="632.2" y="709.1" width="3.2" height="3.7" fill="none" stroke="#fff" stroke-width="0.5"/>
<path d="M646.4,707.5 C646.4,703 650,700 650,695" fill="none" stroke="#222" stroke-width="0.5"/>
<rect x="643.2" y="707.3" width="6.4" height="7.4" fill="#1b8fe0"/>
<rect x="644.8" y="709.1" width="3.2" height="3.7" fill="none" stroke="#fff" stroke-width="0.5"/>
<text x="632" y="735.8" font-size="7.7" fill="#111" text-anchor="middle" font-weight="bold" font-style="italic">MLKL</text>
<polyline points="507,703 507,716.7 555.9,716.7 555.9,706.8" fill="none" stroke="#e4101c" stroke-width="2"/>
<line x1="550.3" y1="706.8" x2="561.5" y2="706.8" stroke="#e4101c" stroke-width="2"/>
<line x1="566" y1="706.8" x2="577" y2="706.8" stroke="#1ea2ea" stroke-width="2"/>
<polyline points="571.3,706.8 571.3,716.5 604.4,716.5" fill="none" stroke="#1ea2ea" stroke-width="2"/>
<path d="M661.3,675.6 C664.5,671.2 673,670.6 676.6,675 C680.4,680 678.6,688.6 671.6,691" fill="none" stroke="#1f9e48" stroke-width="2"/>
<polygon points="660.9,689.6 673.4,689.2 671.2,695.4" fill="#1f9e48" stroke="none" stroke-width="1"/>
<text x="-1" y="741.1" font-size="16" fill="#111">e</text>
<text x="87.8" y="747.6" font-size="10.8" fill="#1f9a4c" text-anchor="middle" font-style="italic">p-MLKL/MLKLtotal</text>
<text x="187.5" y="748.1" font-size="10.8" fill="#1f9a4c" text-anchor="middle" font-style="italic">p-RIP3/RIP3total</text>
<polygon points="46.1,786 44.2,789.9 43.6,793.8 44.4,797 46.1,799 47.1,799 48.8,797 49.6,793.8 49,789.9 47.1,786" fill="#abdcf8" stroke="none" stroke-width="1"/>
<polygon points="55.1,754.5 53.9,762.2 53,773.8 52.6,783.4 53.2,789.1 54.9,793 55.9,793 57.6,789.1 58.2,783.4 57.8,773.8 56.9,762.2 55.7,754.5" fill="#abdcf8" stroke="none" stroke-width="1"/>
<polygon points="63.7,756 61.6,756.7 60.8,758.4 61.4,760.8 62.8,763.2 63.2,768 63.5,775.2 64,780 64.5,780 64.9,775.2 65.2,768 65.6,763.2 67,760.8 67.6,758.4 66.8,756.7 64.7,756" fill="#abdcf8" stroke="none" stroke-width="1"/>
<polygon points="72.5,756 70.4,756.9 69.6,758.9 70.2,761.8 71.6,764.7 72,770.5 72.3,779.2 72.8,785 73.2,785 73.7,779.2 74,770.5 74.4,764.7 75.8,761.8 76.4,758.9 75.6,756.9 73.5,756" fill="#abdcf8" stroke="none" stroke-width="1"/>
<polygon points="81.3,756 79.2,756.7 78.4,758.4 79,760.8 80.4,763.2 80.8,768 81.1,775.2 81.5,780 82,780 82.5,775.2 82.8,768 83.2,763.2 84.6,760.8 85.2,758.4 84.4,756.7 82.3,756" fill="#abdcf8" stroke="none" stroke-width="1"/>
<polygon points="90.1,756 88,756.7 87.2,758.2 87.8,760.4 89.2,762.6 89.6,767 89.9,773.6 90.3,778 90.8,778 91.3,773.6 91.6,767 92,762.6 93.4,760.4 94,758.2 93.2,756.7 91.1,756" fill="#abdcf8" stroke="none" stroke-width="1"/>
<polygon points="98.9,756 96.8,756.7 96,758.2 96.6,760.4 98,762.6 98.4,767 98.7,773.6 99.1,778 99.6,778 100.1,773.6 100.4,767 100.8,762.6 102.2,760.4 102.8,758.2 102,756.7 99.9,756" fill="#abdcf8" stroke="none" stroke-width="1"/>
<polygon points="107.7,757 105.6,757.6 104.8,758.9 105.4,760.8 106.8,762.7 107.2,766.5 107.5,772.2 108,776 108.5,776 108.9,772.2 109.2,766.5 109.6,762.7 111,760.8 111.6,758.9 110.8,757.6 108.7,757" fill="#abdcf8" stroke="none" stroke-width="1"/>
<polygon points="118,758 115.9,758.5 115.1,759.7 115.7,761.4 117.1,763.1 117.5,766.5 117.8,771.6 118.2,775 118.8,775 119.2,771.6 119.5,766.5 119.9,763.1 121.3,761.4 121.9,759.7 121.1,758.5 119,758" fill="#abdcf8" stroke="none" stroke-width="1"/>
<polygon points="126.8,758 124.7,758.5 123.9,759.6 124.5,761.2 125.9,762.8 126.3,766 126.6,770.8 127,774 127.5,774 128,770.8 128.3,766 128.7,762.8 130.1,761.2 130.7,759.6 129.9,758.5 127.8,758" fill="#abdcf8" stroke="none" stroke-width="1"/>
<line x1="42.3" y1="754.6" x2="42.3" y2="813" stroke="#c6c6c6" stroke-width="1.6"/>
<line x1="41.5" y1="813" x2="130.8" y2="813" stroke="#8a8a8a" stroke-width="1.1"/>
<line x1="42.1" y1="809.7" x2="43.7" y2="809.7" stroke="#555" stroke-width="0.8"/>
<line x1="42.1" y1="802.8" x2="43.7" y2="802.8" stroke="#555" stroke-width="0.8"/>
<line x1="42.1" y1="795.8" x2="43.7" y2="795.8" stroke="#555" stroke-width="0.8"/>
<line x1="42.1" y1="788.9" x2="43.7" y2="788.9" stroke="#555" stroke-width="0.8"/>
<line x1="42.1" y1="781.9" x2="43.7" y2="781.9" stroke="#555" stroke-width="0.8"/>
<line x1="42.1" y1="775" x2="43.7" y2="775" stroke="#555" stroke-width="0.8"/>
<line x1="42.1" y1="768" x2="43.7" y2="768" stroke="#555" stroke-width="0.8"/>
<line x1="42.1" y1="761.1" x2="43.7" y2="761.1" stroke="#555" stroke-width="0.8"/>
<line x1="46.6" y1="813" x2="46.6" y2="814.8" stroke="#8a8a8a" stroke-width="0.7"/>
<line x1="55.4" y1="813" x2="55.4" y2="814.8" stroke="#8a8a8a" stroke-width="0.7"/>
<line x1="64.2" y1="813" x2="64.2" y2="814.8" stroke="#8a8a8a" stroke-width="0.7"/>
<line x1="73" y1="813" x2="73" y2="814.8" stroke="#8a8a8a" stroke-width="0.7"/>
<line x1="81.8" y1="813" x2="81.8" y2="814.8" stroke="#8a8a8a" stroke-width="0.7"/>
<line x1="90.6" y1="813" x2="90.6" y2="814.8" stroke="#8a8a8a" stroke-width="0.7"/>
<line x1="99.4" y1="813" x2="99.4" y2="814.8" stroke="#8a8a8a" stroke-width="0.7"/>
<line x1="108.2" y1="813" x2="108.2" y2="814.8" stroke="#8a8a8a" stroke-width="0.7"/>
<line x1="118.5" y1="813" x2="118.5" y2="814.8" stroke="#8a8a8a" stroke-width="0.7"/>
<line x1="127.3" y1="813" x2="127.3" y2="814.8" stroke="#8a8a8a" stroke-width="0.7"/>
<path d="M111.1,814.5 l2,-3 M113.3,814.5 l2,-3" stroke="#8a8a8a" stroke-width="0.6" fill="none"/>
<text font-size="8.6" fill="#222" text-anchor="end" transform="translate(38,763.6) scale(0.86,1)">100%</text>
<text font-size="8.6" fill="#222" text-anchor="end" transform="translate(38,791.6) scale(0.86,1)">50%</text>
<polyline points="46.6,792 55.4,775 64.2,767.5 73,767.5 81.8,766 90.6,764.7 99.4,764 108.2,763.3 112.8,762.8" fill="none" stroke="#333" stroke-width="0.9"/>
<polyline points="112.8,762.8 118.5,762.3 127.3,762.3" fill="none" stroke="#333" stroke-width="0.9"/>
<polygon points="144.4,757 142,758.7 142.2,761.2 143.4,767.5 144.4,773.8 145,778 145.4,778 146,773.8 147,767.5 148.2,761.2 148.4,758.7 146,757" fill="#f9c4c6" stroke="none" stroke-width="1"/>
<polygon points="153.2,757 150.8,759.2 151.4,761.5 153.2,765 153.7,789 154.3,789 154.8,765 156.6,761.5 157.2,759.2 154.8,757" fill="#f9c4c6" stroke="none" stroke-width="1"/>
<polygon points="162.2,757 160.2,758 159.6,759.4 160.8,761.8 161.9,764.7 162.2,771.4 162.7,781 163,781 163.4,771.4 163.7,764.7 164.8,761.8 166,759.4 165.4,758 163.4,757" fill="#f9c4c6" stroke="none" stroke-width="1"/>
<polygon points="171,757 169,758 168.4,759.4 169.6,761.8 170.7,764.7 171,771.4 171.5,781 171.8,781 172.2,771.4 172.5,764.7 173.6,761.8 174.8,759.4 174.2,758 172.2,757" fill="#f9c4c6" stroke="none" stroke-width="1"/>
<polygon points="179.8,757 177.8,757.9 177.2,759.3 178.4,761.6 179.5,764.4 179.8,770.8 180.2,780 180.6,780 181,770.8 181.3,764.4 182.4,761.6 183.6,759.3 183,757.9 181,757" fill="#f9c4c6" stroke="none" stroke-width="1"/>
<polygon points="188.6,757 186.6,757.8 186,759.1 187.2,761.2 188.3,763.7 188.6,769.6 189,778 189.3,778 189.8,769.6 190.1,763.7 191.2,761.2 192.4,759.1 191.8,757.8 189.8,757" fill="#f9c4c6" stroke="none" stroke-width="1"/>
<polygon points="197.4,757 195.4,757.8 194.8,759 196,761 197.1,763.4 197.4,769 197.8,777 198.2,777 198.6,769 198.9,763.4 200,761 201.2,759 200.6,757.8 198.6,757" fill="#f9c4c6" stroke="none" stroke-width="1"/>
<polygon points="206.2,757 204.2,757.8 203.6,758.9 204.8,760.8 205.9,763.1 206.2,768.4 206.7,776 207,776 207.4,768.4 207.7,763.1 208.8,760.8 210,758.9 209.4,757.8 207.4,757" fill="#f9c4c6" stroke="none" stroke-width="1"/>
<polygon points="216.5,757 214.5,757.7 213.9,758.7 215.1,760.4 216.2,762.4 216.5,767.2 217,774 217.3,774 217.7,767.2 218,762.4 219.1,760.4 220.3,758.7 219.7,757.7 217.7,757" fill="#f9c4c6" stroke="none" stroke-width="1"/>
<polygon points="225.3,757 223.3,757.7 222.7,758.7 223.9,760.4 225,762.4 225.3,767.2 225.8,774 226.1,774 226.5,767.2 226.8,762.4 227.9,760.4 229.1,758.7 228.5,757.7 226.5,757" fill="#f9c4c6" stroke="none" stroke-width="1"/>
<line x1="140.9" y1="754.6" x2="140.9" y2="813" stroke="#c6c6c6" stroke-width="1.6"/>
<line x1="140.1" y1="813" x2="229.4" y2="813" stroke="#8a8a8a" stroke-width="1.1"/>
<line x1="140.7" y1="809.7" x2="142.3" y2="809.7" stroke="#555" stroke-width="0.8"/>
<line x1="140.7" y1="802.8" x2="142.3" y2="802.8" stroke="#555" stroke-width="0.8"/>
<line x1="140.7" y1="795.8" x2="142.3" y2="795.8" stroke="#555" stroke-width="0.8"/>
<line x1="140.7" y1="788.9" x2="142.3" y2="788.9" stroke="#555" stroke-width="0.8"/>
<line x1="140.7" y1="781.9" x2="142.3" y2="781.9" stroke="#555" stroke-width="0.8"/>
<line x1="140.7" y1="775" x2="142.3" y2="775" stroke="#555" stroke-width="0.8"/>
<line x1="140.7" y1="768" x2="142.3" y2="768" stroke="#555" stroke-width="0.8"/>
<line x1="140.7" y1="761.1" x2="142.3" y2="761.1" stroke="#555" stroke-width="0.8"/>
<line x1="145.2" y1="813" x2="145.2" y2="814.8" stroke="#8a8a8a" stroke-width="0.7"/>
<line x1="154" y1="813" x2="154" y2="814.8" stroke="#8a8a8a" stroke-width="0.7"/>
<line x1="162.8" y1="813" x2="162.8" y2="814.8" stroke="#8a8a8a" stroke-width="0.7"/>
<line x1="171.6" y1="813" x2="171.6" y2="814.8" stroke="#8a8a8a" stroke-width="0.7"/>
<line x1="180.4" y1="813" x2="180.4" y2="814.8" stroke="#8a8a8a" stroke-width="0.7"/>
<line x1="189.2" y1="813" x2="189.2" y2="814.8" stroke="#8a8a8a" stroke-width="0.7"/>
<line x1="198" y1="813" x2="198" y2="814.8" stroke="#8a8a8a" stroke-width="0.7"/>
<line x1="206.8" y1="813" x2="206.8" y2="814.8" stroke="#8a8a8a" stroke-width="0.7"/>
<line x1="217.1" y1="813" x2="217.1" y2="814.8" stroke="#8a8a8a" stroke-width="0.7"/>
<line x1="225.9" y1="813" x2="225.9" y2="814.8" stroke="#8a8a8a" stroke-width="0.7"/>
<path d="M209.7,814.5 l2,-3 M211.9,814.5 l2,-3" stroke="#8a8a8a" stroke-width="0.6" fill="none"/>
<polyline points="145.2,765.3 154,765 162.8,763.8 171.6,763.5 180.4,763 189.2,762.8 198,762.6 206.8,762.5 211.4,762.2" fill="none" stroke="#333" stroke-width="0.9"/>
<polyline points="211.4,762.2 217.1,762 225.9,762" fill="none" stroke="#333" stroke-width="0.9"/>
<text font-size="9.3" fill="#111" text-anchor="middle" transform="translate(14.4,785.4) rotate(-90)">Efficiency</text>
<polygon points="46.3,853 45.8,866 44.2,869.1 43.2,873.8 44,876.9 45.8,879 47.4,879 49.2,876.9 50,873.8 49,869.1 47.4,866 46.9,853" fill="#abdcf8" stroke="none" stroke-width="1"/>
<polygon points="55.1,825 54.4,839.1 53.2,853.2 52.4,865 53.4,869.6 55,872 55.8,872 57.4,869.6 58.4,865 57.6,853.2 56.4,839.1 55.7,825" fill="#abdcf8" stroke="none" stroke-width="1"/>
<polygon points="63.8,824 62.9,832.8 61.7,846 61.2,854.8 62.6,863.6 63.8,868 64.6,868 65.8,863.6 67.2,854.8 66.7,846 65.5,832.8 64.6,824" fill="#abdcf8" stroke="none" stroke-width="1"/>
<polygon points="72.4,823 70.4,825.8 69.8,830 70.4,840.5 71.4,851 72.7,858 73.3,858 74.6,851 75.6,840.5 76.2,830 75.6,825.8 73.6,823" fill="#abdcf8" stroke="none" stroke-width="1"/>
<polygon points="81.3,823 79.2,823.8 78.4,825.6 79,828.2 80.4,830.8 80.8,836 81.1,843.8 81.5,849 82,849 82.5,843.8 82.8,836 83.2,830.8 84.6,828.2 85.2,825.6 84.4,823.8 82.3,823" fill="#abdcf8" stroke="none" stroke-width="1"/>
<polygon points="90.1,823.5 88,824.1 87.2,825.5 87.8,827.4 89.2,829.4 89.6,833.2 89.9,839.1 90.3,843 90.8,843 91.3,839.1 91.6,833.2 92,829.4 93.4,827.4 94,825.5 93.2,824.1 91.1,823.5" fill="#abdcf8" stroke="none" stroke-width="1"/>
<polygon points="98.9,824 96.8,824.4 96,825.4 96.6,826.8 98,828.2 98.4,831 98.7,835.2 99.1,838 99.6,838 100.1,835.2 100.4,831 100.8,828.2 102.2,826.8 102.8,825.4 102,824.4 99.9,824" fill="#abdcf8" stroke="none" stroke-width="1"/>
<polygon points="107.7,824 105.6,824.3 104.8,825.1 105.4,826.2 106.8,827.3 107.2,829.5 107.5,832.8 108,835 108.5,835 108.9,832.8 109.2,829.5 109.6,827.3 111,826.2 111.6,825.1 110.8,824.3 108.7,824" fill="#abdcf8" stroke="none" stroke-width="1"/>
<polygon points="118,825 115.9,825.2 115.1,825.7 115.7,826.4 117.1,827.1 117.5,828.5 117.8,830.6 118.2,832 118.8,832 119.2,830.6 119.5,828.5 119.9,827.1 121.3,826.4 121.9,825.7 121.1,825.2 119,825" fill="#abdcf8" stroke="none" stroke-width="1"/>
<polygon points="126.8,825 124.7,825.2 123.9,825.6 124.5,826.2 125.9,826.8 126.3,828 126.6,829.8 127,831 127.5,831 128,829.8 128.3,828 128.7,826.8 130.1,826.2 130.7,825.6 129.9,825.2 127.8,825" fill="#abdcf8" stroke="none" stroke-width="1"/>
<line x1="42.3" y1="822.3" x2="42.3" y2="881.1" stroke="#c6c6c6" stroke-width="1.6"/>
<line x1="41.5" y1="881.1" x2="130.8" y2="881.1" stroke="#8a8a8a" stroke-width="1.1"/>
<line x1="42.1" y1="877.8" x2="43.7" y2="877.8" stroke="#555" stroke-width="0.8"/>
<line x1="42.1" y1="870.9" x2="43.7" y2="870.9" stroke="#555" stroke-width="0.8"/>
<line x1="42.1" y1="863.9" x2="43.7" y2="863.9" stroke="#555" stroke-width="0.8"/>
<line x1="42.1" y1="857" x2="43.7" y2="857" stroke="#555" stroke-width="0.8"/>
<line x1="42.1" y1="850" x2="43.7" y2="850" stroke="#555" stroke-width="0.8"/>
<line x1="42.1" y1="843.1" x2="43.7" y2="843.1" stroke="#555" stroke-width="0.8"/>
<line x1="42.1" y1="836.1" x2="43.7" y2="836.1" stroke="#555" stroke-width="0.8"/>
<line x1="42.1" y1="829.2" x2="43.7" y2="829.2" stroke="#555" stroke-width="0.8"/>
<line x1="46.6" y1="881.1" x2="46.6" y2="882.9" stroke="#8a8a8a" stroke-width="0.7"/>
<line x1="55.4" y1="881.1" x2="55.4" y2="882.9" stroke="#8a8a8a" stroke-width="0.7"/>
<line x1="64.2" y1="881.1" x2="64.2" y2="882.9" stroke="#8a8a8a" stroke-width="0.7"/>
<line x1="73" y1="881.1" x2="73" y2="882.9" stroke="#8a8a8a" stroke-width="0.7"/>
<line x1="81.8" y1="881.1" x2="81.8" y2="882.9" stroke="#8a8a8a" stroke-width="0.7"/>
<line x1="90.6" y1="881.1" x2="90.6" y2="882.9" stroke="#8a8a8a" stroke-width="0.7"/>
<line x1="99.4" y1="881.1" x2="99.4" y2="882.9" stroke="#8a8a8a" stroke-width="0.7"/>
<line x1="108.2" y1="881.1" x2="108.2" y2="882.9" stroke="#8a8a8a" stroke-width="0.7"/>
<line x1="118.5" y1="881.1" x2="118.5" y2="882.9" stroke="#8a8a8a" stroke-width="0.7"/>
<line x1="127.3" y1="881.1" x2="127.3" y2="882.9" stroke="#8a8a8a" stroke-width="0.7"/>
<path d="M111.1,882.6 l2,-3 M113.3,882.6 l2,-3" stroke="#8a8a8a" stroke-width="0.6" fill="none"/>
<text font-size="8.6" fill="#222" text-anchor="end" transform="translate(38,830.5) scale(0.86,1)">100%</text>
<text font-size="8.6" fill="#222" text-anchor="end" transform="translate(38,858.5) scale(0.86,1)">50%</text>
<polyline points="46.6,870.9 55.4,858 64.2,847 73,839 81.8,833.5 90.6,830.5 99.4,829 108.2,828 112.8,827.7" fill="none" stroke="#333" stroke-width="0.9"/>
<polyline points="112.8,827.7 118.5,827.4 127.3,827.4" fill="none" stroke="#333" stroke-width="0.9"/>
<polygon points="144.6,825.5 142.6,826 142,826.8 143.2,828 144.3,829.5 144.6,833 145,838 145.3,838 145.8,833 146.1,829.5 147.2,828 148.4,826.8 147.8,826 145.8,825.5" fill="#f9c4c6" stroke="none" stroke-width="1"/>
<polygon points="153.4,825.5 151.4,826.1 150.8,827 152,828.4 153.1,830.1 153.4,834.2 153.8,840 154.2,840 154.6,834.2 154.9,830.1 156,828.4 157.2,827 156.6,826.1 154.6,825.5" fill="#f9c4c6" stroke="none" stroke-width="1"/>
<polygon points="162.2,825.5 160.2,826.3 159.6,827.5 160.8,829.6 161.9,832.1 162.2,837.8 162.7,846 163,846 163.4,837.8 163.7,832.1 164.8,829.6 166,827.5 165.4,826.3 163.4,825.5" fill="#f9c4c6" stroke="none" stroke-width="1"/>
<polygon points="171,825.5 169,826.7 168.4,828.5 169.6,831.6 170.7,835.3 171,843.8 171.5,856 171.8,856 172.2,843.8 172.5,835.3 173.6,831.6 174.8,828.5 174.2,826.7 172.2,825.5" fill="#f9c4c6" stroke="none" stroke-width="1"/>
<polygon points="179.8,825.5 177.8,826.3 177.2,827.5 178.4,829.4 179.5,831.7 179.8,837.2 180.2,845 180.6,845 181,837.2 181.3,831.7 182.4,829.4 183.6,827.5 183,826.3 181,825.5" fill="#f9c4c6" stroke="none" stroke-width="1"/>
<polygon points="188.6,825.5 186.6,826.3 186,827.5 187.2,829.6 188.3,832.1 188.6,837.8 189,846 189.3,846 189.8,837.8 190.1,832.1 191.2,829.6 192.4,827.5 191.8,826.3 189.8,825.5" fill="#f9c4c6" stroke="none" stroke-width="1"/>
<polygon points="197.4,825.5 195.4,826.2 194.8,827.2 196,829 197.1,831.1 197.4,836 197.8,843 198.2,843 198.6,836 198.9,831.1 200,829 201.2,827.2 200.6,826.2 198.6,825.5" fill="#f9c4c6" stroke="none" stroke-width="1"/>
<polygon points="206.2,825.5 204.2,826.1 203.6,827 204.8,828.6 205.9,830.5 206.2,834.8 206.7,841 207,841 207.4,834.8 207.7,830.5 208.8,828.6 210,827 209.4,826.1 207.4,825.5" fill="#f9c4c6" stroke="none" stroke-width="1"/>
<polygon points="216.5,825.5 214.5,826.7 213.9,828.5 215.1,831.6 216.2,835.3 216.5,843.8 217,856 217.3,856 217.7,843.8 218,835.3 219.1,831.6 220.3,828.5 219.7,826.7 217.7,825.5" fill="#f9c4c6" stroke="none" stroke-width="1"/>
<polygon points="225.3,825.5 223.3,826.8 222.7,828.8 223.9,832 225,835.9 225.3,845 225.8,858 226.1,858 226.5,845 226.8,835.9 227.9,832 229.1,828.8 228.5,826.8 226.5,825.5" fill="#f9c4c6" stroke="none" stroke-width="1"/>
<line x1="140.9" y1="822.3" x2="140.9" y2="881.1" stroke="#c6c6c6" stroke-width="1.6"/>
<line x1="140.1" y1="881.1" x2="229.4" y2="881.1" stroke="#8a8a8a" stroke-width="1.1"/>
<line x1="140.7" y1="877.8" x2="142.3" y2="877.8" stroke="#555" stroke-width="0.8"/>
<line x1="140.7" y1="870.9" x2="142.3" y2="870.9" stroke="#555" stroke-width="0.8"/>
<line x1="140.7" y1="863.9" x2="142.3" y2="863.9" stroke="#555" stroke-width="0.8"/>
<line x1="140.7" y1="857" x2="142.3" y2="857" stroke="#555" stroke-width="0.8"/>
<line x1="140.7" y1="850" x2="142.3" y2="850" stroke="#555" stroke-width="0.8"/>
<line x1="140.7" y1="843.1" x2="142.3" y2="843.1" stroke="#555" stroke-width="0.8"/>
<line x1="140.7" y1="836.1" x2="142.3" y2="836.1" stroke="#555" stroke-width="0.8"/>
<line x1="140.7" y1="829.2" x2="142.3" y2="829.2" stroke="#555" stroke-width="0.8"/>
<line x1="145.2" y1="881.1" x2="145.2" y2="882.9" stroke="#8a8a8a" stroke-width="0.7"/>
<line x1="154" y1="881.1" x2="154" y2="882.9" stroke="#8a8a8a" stroke-width="0.7"/>
<line x1="162.8" y1="881.1" x2="162.8" y2="882.9" stroke="#8a8a8a" stroke-width="0.7"/>
<line x1="171.6" y1="881.1" x2="171.6" y2="882.9" stroke="#8a8a8a" stroke-width="0.7"/>
<line x1="180.4" y1="881.1" x2="180.4" y2="882.9" stroke="#8a8a8a" stroke-width="0.7"/>
<line x1="189.2" y1="881.1" x2="189.2" y2="882.9" stroke="#8a8a8a" stroke-width="0.7"/>
<line x1="198" y1="881.1" x2="198" y2="882.9" stroke="#8a8a8a" stroke-width="0.7"/>
<line x1="206.8" y1="881.1" x2="206.8" y2="882.9" stroke="#8a8a8a" stroke-width="0.7"/>
<line x1="217.1" y1="881.1" x2="217.1" y2="882.9" stroke="#8a8a8a" stroke-width="0.7"/>
<line x1="225.9" y1="881.1" x2="225.9" y2="882.9" stroke="#8a8a8a" stroke-width="0.7"/>
<path d="M209.7,882.6 l2,-3 M211.9,882.6 l2,-3" stroke="#8a8a8a" stroke-width="0.6" fill="none"/>
<polyline points="145.2,829.3 154,829.6 162.8,830 171.6,830.3 180.4,830.3 189.2,830.3 198,830 206.8,829.6 211.4,829.6" fill="none" stroke="#333" stroke-width="0.9"/>
<polyline points="211.4,829.6 217.1,829.6 225.9,830" fill="none" stroke="#333" stroke-width="0.9"/>
<text font-size="9.3" fill="#111" text-anchor="middle" transform="translate(14.4,848.8) rotate(-90)">Efficiency</text>
<polygon points="72.5,891 70.4,891.7 69.6,893.2 70.2,895.4 71.6,897.6 72,902 72.3,908.6 72.8,913 73.2,913 73.7,908.6 74,902 74.4,897.6 75.8,895.4 76.4,893.2 75.6,891.7 73.5,891" fill="#abdcf8" stroke="none" stroke-width="1"/>
<polygon points="81.2,890.5 79.2,892.4 78.8,894.9 80,900 80.2,909.4 81.5,922 82.1,922 83.4,909.4 83.6,900 84.8,894.9 84.4,892.4 82.4,890.5" fill="#abdcf8" stroke="none" stroke-width="1"/>
<polygon points="90,890.5 88,892.8 87.4,895.8 88.4,901.8 87.8,913 89,922.4 90.3,928 90.9,928 92.2,922.4 93.4,913 92.8,901.8 93.8,895.8 93.2,892.8 91.2,890.5" fill="#abdcf8" stroke="none" stroke-width="1"/>
<polygon points="99.1,891 98,895.3 97.2,903.9 96.4,916.8 97.4,927.5 99.1,934 99.7,934 101.4,927.5 102.4,916.8 101.6,903.9 100.8,895.3 99.7,891" fill="#abdcf8" stroke="none" stroke-width="1"/>
<polygon points="107.9,891 107,895.6 106,909.4 105.2,923.2 106.2,932.4 107.9,937 108.5,937 110.2,932.4 111.2,923.2 110.4,909.4 109.4,895.6 108.5,891" fill="#abdcf8" stroke="none" stroke-width="1"/>
<polygon points="118.3,917 117.6,931.5 116.5,940.2 117.5,946 119.5,946 120.5,940.2 119.4,931.5 118.7,917" fill="#abdcf8" stroke="none" stroke-width="1"/>
<polygon points="127.1,917 126.4,931.5 125.3,940.2 126.3,946 128.3,946 129.3,940.2 128.2,931.5 127.5,917" fill="#abdcf8" stroke="none" stroke-width="1"/>
<line x1="42.3" y1="889.3" x2="42.3" y2="948.3" stroke="#c6c6c6" stroke-width="1.6"/>
<line x1="41.5" y1="948.3" x2="130.8" y2="948.3" stroke="#8a8a8a" stroke-width="1.1"/>
<line x1="42.1" y1="945" x2="43.7" y2="945" stroke="#555" stroke-width="0.8"/>
<line x1="42.1" y1="938" x2="43.7" y2="938" stroke="#555" stroke-width="0.8"/>
<line x1="42.1" y1="931.1" x2="43.7" y2="931.1" stroke="#555" stroke-width="0.8"/>
<line x1="42.1" y1="924.1" x2="43.7" y2="924.1" stroke="#555" stroke-width="0.8"/>
<line x1="42.1" y1="917.2" x2="43.7" y2="917.2" stroke="#555" stroke-width="0.8"/>
<line x1="42.1" y1="910.2" x2="43.7" y2="910.2" stroke="#555" stroke-width="0.8"/>
<line x1="42.1" y1="903.3" x2="43.7" y2="903.3" stroke="#555" stroke-width="0.8"/>
<line x1="42.1" y1="896.4" x2="43.7" y2="896.4" stroke="#555" stroke-width="0.8"/>
<line x1="42.1" y1="889.4" x2="43.7" y2="889.4" stroke="#555" stroke-width="0.8"/>
<line x1="46.6" y1="948.3" x2="46.6" y2="950.1" stroke="#8a8a8a" stroke-width="0.7"/>
<line x1="55.4" y1="948.3" x2="55.4" y2="950.1" stroke="#8a8a8a" stroke-width="0.7"/>
<line x1="64.2" y1="948.3" x2="64.2" y2="950.1" stroke="#8a8a8a" stroke-width="0.7"/>
<line x1="73" y1="948.3" x2="73" y2="950.1" stroke="#8a8a8a" stroke-width="0.7"/>
<line x1="81.8" y1="948.3" x2="81.8" y2="950.1" stroke="#8a8a8a" stroke-width="0.7"/>
<line x1="90.6" y1="948.3" x2="90.6" y2="950.1" stroke="#8a8a8a" stroke-width="0.7"/>
<line x1="99.4" y1="948.3" x2="99.4" y2="950.1" stroke="#8a8a8a" stroke-width="0.7"/>
<line x1="108.2" y1="948.3" x2="108.2" y2="950.1" stroke="#8a8a8a" stroke-width="0.7"/>
<line x1="118.5" y1="948.3" x2="118.5" y2="950.1" stroke="#8a8a8a" stroke-width="0.7"/>
<line x1="127.3" y1="948.3" x2="127.3" y2="950.1" stroke="#8a8a8a" stroke-width="0.7"/>
<path d="M111.1,949.8 l2,-3 M113.3,949.8 l2,-3" stroke="#8a8a8a" stroke-width="0.6" fill="none"/>
<text font-size="8.6" fill="#222" text-anchor="end" transform="translate(38,897.6) scale(0.86,1)">100%</text>
<text font-size="8.6" fill="#222" text-anchor="end" transform="translate(38,925.2) scale(0.86,1)">50%</text>
<polyline points="46.6,894.5 55.4,894.5 64.2,894.5 73,898.5 81.8,903.5 90.6,908.5 99.4,913 108.2,917.5 112.8,921" fill="none" stroke="#333" stroke-width="0.9"/>
<line x1="112.8" y1="921" x2="112.8" y2="937" stroke="#888" stroke-width="0.7" stroke-dasharray="1,1"/>
<polyline points="112.8,937 118.5,937 127.3,937.8" fill="none" stroke="#333" stroke-width="0.9"/>
<polygon points="144.6,892 142.6,892.6 142,893.4 143.2,894.8 144.3,896.5 144.6,900.4 145,906 145.3,906 145.8,900.4 146.1,896.5 147.2,894.8 148.4,893.4 147.8,892.6 145.8,892" fill="#f9c4c6" stroke="none" stroke-width="1"/>
<polygon points="153.2,892 151,894.4 152.5,898 155.5,898 157,894.4 154.8,892" fill="#f9c4c6" stroke="none" stroke-width="1"/>
<polygon points="162,892 159.8,894.4 161.3,898 164.3,898 165.8,894.4 163.6,892" fill="#f9c4c6" stroke="none" stroke-width="1"/>
<polygon points="171,892 169,892.6 168.4,893.6 169.6,895.2 170.7,897.1 171,901.6 171.5,908 171.8,908 172.2,901.6 172.5,897.1 173.6,895.2 174.8,893.6 174.2,892.6 172.2,892" fill="#f9c4c6" stroke="none" stroke-width="1"/>
<polygon points="179.8,892 177.8,893 177.2,894.4 178.4,896.8 179.5,899.7 179.8,906.4 180.2,916 180.6,916 181,906.4 181.3,899.7 182.4,896.8 183.6,894.4 183,893 181,892" fill="#f9c4c6" stroke="none" stroke-width="1"/>
<polygon points="188.6,892 186.6,892.9 186,894.2 187.2,896.4 188.3,899 188.6,905.2 189,914 189.3,914 189.8,905.2 190.1,899 191.2,896.4 192.4,894.2 191.8,892.9 189.8,892" fill="#f9c4c6" stroke="none" stroke-width="1"/>
<polygon points="197.4,892 195.4,892.8 194.8,894.1 196,896.2 197.1,898.7 197.4,904.6 197.8,913 198.2,913 198.6,904.6 198.9,898.7 200,896.2 201.2,894.1 200.6,892.8 198.6,892" fill="#f9c4c6" stroke="none" stroke-width="1"/>
<polygon points="206.2,892 204.2,892.9 203.6,894.2 204.8,896.4 205.9,899 206.2,905.2 206.7,914 207,914 207.4,905.2 207.7,899 208.8,896.4 210,894.2 209.4,892.9 207.4,892" fill="#f9c4c6" stroke="none" stroke-width="1"/>
<polygon points="216.5,892 214.5,892.5 213.9,893.3 215.1,894.6 216.2,896.2 216.5,899.8 217,905 217.3,905 217.7,899.8 218,896.2 219.1,894.6 220.3,893.3 219.7,892.5 217.7,892" fill="#f9c4c6" stroke="none" stroke-width="1"/>
<polygon points="225.3,892 223.3,892.6 222.7,893.6 223.9,895.2 225,897.1 225.3,901.6 225.8,908 226.1,908 226.5,901.6 226.8,897.1 227.9,895.2 229.1,893.6 228.5,892.6 226.5,892" fill="#f9c4c6" stroke="none" stroke-width="1"/>
<line x1="140.9" y1="889.3" x2="140.9" y2="948.3" stroke="#c6c6c6" stroke-width="1.6"/>
<line x1="140.1" y1="948.3" x2="229.4" y2="948.3" stroke="#8a8a8a" stroke-width="1.1"/>
<line x1="140.7" y1="945" x2="142.3" y2="945" stroke="#555" stroke-width="0.8"/>
<line x1="140.7" y1="938" x2="142.3" y2="938" stroke="#555" stroke-width="0.8"/>
<line x1="140.7" y1="931.1" x2="142.3" y2="931.1" stroke="#555" stroke-width="0.8"/>
<line x1="140.7" y1="924.1" x2="142.3" y2="924.1" stroke="#555" stroke-width="0.8"/>
<line x1="140.7" y1="917.2" x2="142.3" y2="917.2" stroke="#555" stroke-width="0.8"/>
<line x1="140.7" y1="910.2" x2="142.3" y2="910.2" stroke="#555" stroke-width="0.8"/>
<line x1="140.7" y1="903.3" x2="142.3" y2="903.3" stroke="#555" stroke-width="0.8"/>
<line x1="140.7" y1="896.4" x2="142.3" y2="896.4" stroke="#555" stroke-width="0.8"/>
<line x1="140.7" y1="889.4" x2="142.3" y2="889.4" stroke="#555" stroke-width="0.8"/>
<line x1="145.2" y1="948.3" x2="145.2" y2="950.1" stroke="#8a8a8a" stroke-width="0.7"/>
<line x1="154" y1="948.3" x2="154" y2="950.1" stroke="#8a8a8a" stroke-width="0.7"/>
<line x1="162.8" y1="948.3" x2="162.8" y2="950.1" stroke="#8a8a8a" stroke-width="0.7"/>
<line x1="171.6" y1="948.3" x2="171.6" y2="950.1" stroke="#8a8a8a" stroke-width="0.7"/>
<line x1="180.4" y1="948.3" x2="180.4" y2="950.1" stroke="#8a8a8a" stroke-width="0.7"/>
<line x1="189.2" y1="948.3" x2="189.2" y2="950.1" stroke="#8a8a8a" stroke-width="0.7"/>
<line x1="198" y1="948.3" x2="198" y2="950.1" stroke="#8a8a8a" stroke-width="0.7"/>
<line x1="206.8" y1="948.3" x2="206.8" y2="950.1" stroke="#8a8a8a" stroke-width="0.7"/>
<line x1="217.1" y1="948.3" x2="217.1" y2="950.1" stroke="#8a8a8a" stroke-width="0.7"/>
<line x1="225.9" y1="948.3" x2="225.9" y2="950.1" stroke="#8a8a8a" stroke-width="0.7"/>
<path d="M209.7,949.8 l2,-3 M211.9,949.8 l2,-3" stroke="#8a8a8a" stroke-width="0.6" fill="none"/>
<polyline points="145.2,898 154,896.5 162.8,896.5 171.6,898 180.4,898.5 189.2,898.5 198,898.5 206.8,898.5 211.4,897.8" fill="none" stroke="#333" stroke-width="0.9"/>
<polyline points="211.4,897.8 217.1,897 225.9,897" fill="none" stroke="#333" stroke-width="0.9"/>
<text font-size="9.3" fill="#111" text-anchor="middle" transform="translate(14.4,916) rotate(-90)">Efficiency</text>
<text x="133.2" y="809.2" font-size="10.6" fill="#f5ae2e" text-anchor="middle" font-weight="bold">TNF (nM)</text>
<text x="132.8" y="876.2" font-size="10.6" fill="#e0208a" text-anchor="middle" font-weight="bold">RIP3 (nM)</text>
<text x="132.8" y="944.8" font-size="10.6" fill="#a89482" text-anchor="middle" font-weight="bold">MLKL (nM)</text>
<text font-size="9.2" fill="#222" text-anchor="middle" transform="translate(54.1,958.8) scale(0.87,1)">20</text>
<text font-size="9.2" fill="#222" text-anchor="middle" transform="translate(72.1,958.8) scale(0.87,1)">40</text>
<text font-size="9.2" fill="#222" text-anchor="middle" transform="translate(90.2,958.8) scale(0.87,1)">60</text>
<text font-size="9.2" fill="#222" text-anchor="middle" transform="translate(108.4,958.8) scale(0.87,1)">80</text>
<text font-size="9.2" fill="#222" text-anchor="middle" transform="translate(126,958.8) scale(0.87,1)">200</text>
<text font-size="9.2" fill="#222" text-anchor="middle" transform="translate(153.2,958.8) scale(0.87,1)">20</text>
<text font-size="9.2" fill="#222" text-anchor="middle" transform="translate(171.2,958.8) scale(0.87,1)">40</text>
<text font-size="9.2" fill="#222" text-anchor="middle" transform="translate(189.3,958.8) scale(0.87,1)">60</text>
<text font-size="9.2" fill="#222" text-anchor="middle" transform="translate(207.5,958.8) scale(0.87,1)">80</text>
<text font-size="9.2" fill="#222" text-anchor="middle" transform="translate(225.1,958.8) scale(0.87,1)">200</text>
<text x="244.8" y="741" font-size="16" fill="#111">f</text>
<rect x="289" y="747.5" width="112.3" height="45.6" fill="none" stroke="#666" stroke-width="0.9"/>
<line x1="289" y1="750.8" x2="291" y2="750.8" stroke="#666" stroke-width="0.6"/>
<line x1="401.3" y1="750.8" x2="399.3" y2="750.8" stroke="#666" stroke-width="0.6"/>
<text font-size="8.3" fill="#222" text-anchor="end" transform="translate(285.8,753.9) scale(0.89,1)">100%</text>
<line x1="289" y1="786.1" x2="291" y2="786.1" stroke="#666" stroke-width="0.6"/>
<line x1="401.3" y1="786.1" x2="399.3" y2="786.1" stroke="#666" stroke-width="0.6"/>
<text font-size="8.3" fill="#222" text-anchor="end" transform="translate(285.8,789.2) scale(0.89,1)">50%</text>
<line x1="289.2" y1="793.1" x2="289.2" y2="791.1" stroke="#666" stroke-width="0.6"/>
<line x1="289.2" y1="747.5" x2="289.2" y2="749.5" stroke="#666" stroke-width="0.6"/>
<text font-size="8.7" fill="#222" text-anchor="middle" transform="translate(289.5,801.8) scale(0.87,1)">0</text>
<line x1="310.7" y1="793.1" x2="310.7" y2="791.1" stroke="#666" stroke-width="0.6"/>
<line x1="310.7" y1="747.5" x2="310.7" y2="749.5" stroke="#666" stroke-width="0.6"/>
<text font-size="8.7" fill="#222" text-anchor="middle" transform="translate(311,801.8) scale(0.87,1)">2</text>
<line x1="332.2" y1="793.1" x2="332.2" y2="791.1" stroke="#666" stroke-width="0.6"/>
<line x1="332.2" y1="747.5" x2="332.2" y2="749.5" stroke="#666" stroke-width="0.6"/>
<text font-size="8.7" fill="#222" text-anchor="middle" transform="translate(332.5,801.8) scale(0.87,1)">4</text>
<line x1="353.7" y1="793.1" x2="353.7" y2="791.1" stroke="#666" stroke-width="0.6"/>
<line x1="353.7" y1="747.5" x2="353.7" y2="749.5" stroke="#666" stroke-width="0.6"/>
<text font-size="8.7" fill="#222" text-anchor="middle" transform="translate(354,801.8) scale(0.87,1)">6</text>
<line x1="375.2" y1="793.1" x2="375.2" y2="791.1" stroke="#666" stroke-width="0.6"/>
<line x1="375.2" y1="747.5" x2="375.2" y2="749.5" stroke="#666" stroke-width="0.6"/>
<text font-size="8.7" fill="#222" text-anchor="middle" transform="translate(375.5,801.8) scale(0.87,1)">8</text>
<line x1="396.7" y1="793.1" x2="396.7" y2="791.1" stroke="#666" stroke-width="0.6"/>
<line x1="396.7" y1="747.5" x2="396.7" y2="749.5" stroke="#666" stroke-width="0.6"/>
<text font-size="8.7" fill="#222" text-anchor="middle" transform="translate(396,801.8) scale(0.87,1)">10</text>
<polyline points="289,768.4 300,754.6 342.8,750.8 396,755.4" fill="none" stroke="#1a22ee" stroke-width="1.2"/>
<polyline points="289,791.2 300,767.9 342.5,751 396,753.6" fill="none" stroke="#22aa62" stroke-width="1.2"/>
<polygon points="289,765.5 291.8,770.3 286.2,770.3" fill="#1a22ee" stroke="none" stroke-width="1"/>
<polygon points="300,751.7 302.8,756.5 297.2,756.5" fill="#1a22ee" stroke="none" stroke-width="1"/>
<polygon points="342.8,747.9 345.6,752.7 340,752.7" fill="#1a22ee" stroke="none" stroke-width="1"/>
<polygon points="396,752.5 398.8,757.3 393.2,757.3" fill="#1a22ee" stroke="none" stroke-width="1"/>
<polygon points="289,788.3 291.8,793.1 286.2,793.1" fill="#22aa62" stroke="none" stroke-width="1"/>
<polygon points="300,765 302.8,769.8 297.2,769.8" fill="#22aa62" stroke="none" stroke-width="1"/>
<polygon points="342.5,748.1 345.3,752.9 339.7,752.9" fill="#22aa62" stroke="none" stroke-width="1"/>
<polygon points="396,750.7 398.8,755.5 393.2,755.5" fill="#22aa62" stroke="none" stroke-width="1"/>
<rect x="312.3" y="770.3" width="85.3" height="21" fill="#fff" stroke="#999" stroke-width="0.7"/>
<line x1="314.9" y1="777" x2="329.8" y2="777" stroke="#1a22ee" stroke-width="1.2"/>
<polygon points="322.4,774.1 325.2,778.9 319.6,778.9" fill="#1a22ee" stroke="none" stroke-width="1"/>
<line x1="314.9" y1="785.7" x2="329.8" y2="785.7" stroke="#22aa62" stroke-width="1.2"/>
<polygon points="322.4,782.8 325.2,787.6 319.6,787.6" fill="#22aa62" stroke="none" stroke-width="1"/>
<text x="332.4" y="780" font-size="7.7" fill="#222">p-RIP3/RIP3total</text>
<text x="332.4" y="788.7" font-size="7.7" fill="#222">p-MLKL/MLKLtotal</text>
<text x="348.2" y="812" font-size="9.2" fill="#222" text-anchor="middle">TNF level (ng/mL)</text>
<text font-size="9.3" fill="#111" text-anchor="middle" transform="translate(262,769) rotate(-90)">Efficiency</text>
<rect x="288.9" y="819.4" width="111.9" height="45.2" fill="none" stroke="#666" stroke-width="0.9"/>
<line x1="288.9" y1="822.9" x2="290.9" y2="822.9" stroke="#666" stroke-width="0.6"/>
<line x1="400.8" y1="822.9" x2="398.8" y2="822.9" stroke="#666" stroke-width="0.6"/>
<text font-size="8.3" fill="#222" text-anchor="end" transform="translate(285.7,826) scale(0.89,1)">100%</text>
<line x1="288.9" y1="842.3" x2="290.9" y2="842.3" stroke="#666" stroke-width="0.6"/>
<line x1="400.8" y1="842.3" x2="398.8" y2="842.3" stroke="#666" stroke-width="0.6"/>
<text font-size="8.3" fill="#222" text-anchor="end" transform="translate(285.7,845.4) scale(0.89,1)">75%</text>
<line x1="288.9" y1="861.4" x2="290.9" y2="861.4" stroke="#666" stroke-width="0.6"/>
<line x1="400.8" y1="861.4" x2="398.8" y2="861.4" stroke="#666" stroke-width="0.6"/>
<text font-size="8.3" fill="#222" text-anchor="end" transform="translate(285.7,864.5) scale(0.89,1)">50%</text>
<line x1="303.5" y1="864.6" x2="303.5" y2="862.6" stroke="#666" stroke-width="0.6"/>
<line x1="303.5" y1="819.4" x2="303.5" y2="821.4" stroke="#666" stroke-width="0.6"/>
<text font-size="8.7" fill="#222" text-anchor="middle" transform="translate(304.3,875.6) scale(0.87,1)">40%</text>
<line x1="333.6" y1="864.6" x2="333.6" y2="862.6" stroke="#666" stroke-width="0.6"/>
<line x1="333.6" y1="819.4" x2="333.6" y2="821.4" stroke="#666" stroke-width="0.6"/>
<text font-size="8.7" fill="#222" text-anchor="middle" transform="translate(334.3,875.6) scale(0.87,1)">60%</text>
<line x1="363.7" y1="864.6" x2="363.7" y2="862.6" stroke="#666" stroke-width="0.6"/>
<line x1="363.7" y1="819.4" x2="363.7" y2="821.4" stroke="#666" stroke-width="0.6"/>
<text font-size="8.7" fill="#222" text-anchor="middle" transform="translate(365.1,875.6) scale(0.87,1)">80%</text>
<line x1="393.8" y1="864.6" x2="393.8" y2="862.6" stroke="#666" stroke-width="0.6"/>
<line x1="393.8" y1="819.4" x2="393.8" y2="821.4" stroke="#666" stroke-width="0.6"/>
<text font-size="8.7" fill="#222" text-anchor="middle" transform="translate(395.1,875.6) scale(0.87,1)">100%</text>
<polyline points="296.3,822.9 338.8,829.1 367.3,833.1 393.4,834.6" fill="none" stroke="#1a22ee" stroke-width="1.2"/>
<polyline points="296.3,860.1 338.8,836.8 367.3,822.9 393.4,828.1" fill="none" stroke="#22aa62" stroke-width="1.2"/>
<polygon points="296.3,820 299.1,824.8 293.5,824.8" fill="#1a22ee" stroke="none" stroke-width="1"/>
<polygon points="338.8,826.2 341.6,831 336,831" fill="#1a22ee" stroke="none" stroke-width="1"/>
<polygon points="367.3,830.2 370.1,835 364.5,835" fill="#1a22ee" stroke="none" stroke-width="1"/>
<polygon points="393.4,831.7 396.2,836.5 390.6,836.5" fill="#1a22ee" stroke="none" stroke-width="1"/>
<polygon points="296.3,857.2 299.1,862 293.5,862" fill="#22aa62" stroke="none" stroke-width="1"/>
<polygon points="338.8,833.9 341.6,838.7 336,838.7" fill="#22aa62" stroke="none" stroke-width="1"/>
<polygon points="367.3,820 370.1,824.8 364.5,824.8" fill="#22aa62" stroke="none" stroke-width="1"/>
<polygon points="393.4,825.2 396.2,830 390.6,830" fill="#22aa62" stroke="none" stroke-width="1"/>
<text x="347.3" y="887.3" font-size="9.2" fill="#222" text-anchor="middle">RIP3 expression level</text>
<text font-size="9.3" fill="#111" text-anchor="middle" transform="translate(262,840) rotate(-90)">Efficiency</text>
<rect x="288.9" y="893.1" width="112.4" height="45.5" fill="none" stroke="#666" stroke-width="0.9"/>
<line x1="288.9" y1="896.1" x2="290.9" y2="896.1" stroke="#666" stroke-width="0.6"/>
<line x1="401.3" y1="896.1" x2="399.3" y2="896.1" stroke="#666" stroke-width="0.6"/>
<text font-size="8.3" fill="#222" text-anchor="end" transform="translate(285.7,899.2) scale(0.89,1)">100%</text>
<line x1="288.9" y1="919.2" x2="290.9" y2="919.2" stroke="#666" stroke-width="0.6"/>
<line x1="401.3" y1="919.2" x2="399.3" y2="919.2" stroke="#666" stroke-width="0.6"/>
<text font-size="8.3" fill="#222" text-anchor="end" transform="translate(285.7,922.3) scale(0.89,1)">50%</text>
<line x1="304.2" y1="938.6" x2="304.2" y2="936.6" stroke="#666" stroke-width="0.6"/>
<line x1="304.2" y1="893.1" x2="304.2" y2="895.1" stroke="#666" stroke-width="0.6"/>
<text font-size="8.7" fill="#222" text-anchor="middle" transform="translate(305,948.2) scale(0.87,1)">40%</text>
<line x1="334.2" y1="938.6" x2="334.2" y2="936.6" stroke="#666" stroke-width="0.6"/>
<line x1="334.2" y1="893.1" x2="334.2" y2="895.1" stroke="#666" stroke-width="0.6"/>
<text font-size="8.7" fill="#222" text-anchor="middle" transform="translate(335,948.2) scale(0.87,1)">60%</text>
<line x1="364.2" y1="938.6" x2="364.2" y2="936.6" stroke="#666" stroke-width="0.6"/>
<line x1="364.2" y1="893.1" x2="364.2" y2="895.1" stroke="#666" stroke-width="0.6"/>
<text font-size="8.7" fill="#222" text-anchor="middle" transform="translate(364.8,948.2) scale(0.87,1)">80%</text>
<line x1="394.2" y1="938.6" x2="394.2" y2="936.6" stroke="#666" stroke-width="0.6"/>
<line x1="394.2" y1="893.1" x2="394.2" y2="895.1" stroke="#666" stroke-width="0.6"/>
<text font-size="8.7" fill="#222" text-anchor="middle" transform="translate(395.1,948.2) scale(0.87,1)">100%</text>
<polyline points="300.8,903.6 312,901.3 350.4,898.1 393.9,894.9" fill="none" stroke="#1a22ee" stroke-width="1.2"/>
<polyline points="300.8,894.9 312,919.2 350.4,933.6 393.9,933.1" fill="none" stroke="#22aa62" stroke-width="1.2"/>
<polygon points="300.8,900.7 303.6,905.5 298,905.5" fill="#1a22ee" stroke="none" stroke-width="1"/>
<polygon points="312,898.4 314.8,903.2 309.2,903.2" fill="#1a22ee" stroke="none" stroke-width="1"/>
<polygon points="350.4,895.2 353.2,900 347.6,900" fill="#1a22ee" stroke="none" stroke-width="1"/>
<polygon points="393.9,892 396.7,896.8 391.1,896.8" fill="#1a22ee" stroke="none" stroke-width="1"/>
<polygon points="300.8,892 303.6,896.8 298,896.8" fill="#22aa62" stroke="none" stroke-width="1"/>
<polygon points="312,916.3 314.8,921.1 309.2,921.1" fill="#22aa62" stroke="none" stroke-width="1"/>
<polygon points="350.4,930.7 353.2,935.5 347.6,935.5" fill="#22aa62" stroke="none" stroke-width="1"/>
<polygon points="393.9,930.2 396.7,935 391.1,935" fill="#22aa62" stroke="none" stroke-width="1"/>
<text x="347.3" y="958.5" font-size="9.2" fill="#222" text-anchor="middle">MLKL expression level</text>
<text font-size="9.3" fill="#111" text-anchor="middle" transform="translate(262,914) rotate(-90)">Efficiency</text>
<text x="451.9" y="737.5" font-size="16" fill="#111">g</text>
<polygon points="483.6,763.8 483.6,792.2 667.1,792.2" fill="url(#wA)" stroke="none" stroke-width="1"/>
<polygon points="483.6,763.8 667.1,763.8 667.1,792.2" fill="url(#wB)" stroke="none" stroke-width="1"/>
<text x="573" y="775.8" font-size="10.7" fill="#22a050">Assembly Degree</text>
<text x="485.4" y="786.5" font-size="10.7" fill="#e8208c">Necrosome Quantity</text>
<polygon points="519.5,797.6 525.1,797.6 525.1,808.5 528.3,808.5 522.3,817.3 516.3,808.5 519.5,808.5" fill="url(#pkar)" stroke="none" stroke-width="1"/>
<polygon points="632.1,797.6 637.7,797.6 637.7,808.5 640.9,808.5 634.9,817.3 628.9,808.5 632.1,808.5" fill="url(#grar)" stroke="none" stroke-width="1"/>
<rect x="489.3" y="838.3" width="19.2" height="16" fill="url(#gbox)" stroke="#cfcfcf" stroke-width="0.6" stroke-dasharray="2,1.5"/>
<rect x="489.3" y="856" width="19.2" height="25.6" fill="url(#grbox)" stroke="#b8ccb8" stroke-width="0.6" stroke-dasharray="2,1.5"/>
<polygon points="504.3,843.4 501.3,841.1 501.3,842.1 494.3,842.1 494.3,844.7 501.3,844.7 501.3,845.7" fill="#f08ae6" stroke="none" stroke-width="1" filter="url(#sh)"/>
<polygon points="491.3,844.7 494.3,842.4 494.3,843.4 501.3,843.4 501.3,846 494.3,846 494.3,847" fill="#f0aa78" stroke="none" stroke-width="1" filter="url(#sh)"/>
<polygon points="491.3,849.2 494.3,846.9 494.3,847.9 501.3,847.9 501.3,850.5 494.3,850.5 494.3,851.5" fill="#f08ae6" stroke="none" stroke-width="1" filter="url(#sh)"/>
<polygon points="505.3,848 502.3,845.7 502.3,846.7 495.3,846.7 495.3,849.3 502.3,849.3 502.3,850.3" fill="#f0aa78" stroke="none" stroke-width="1" filter="url(#sh)"/>
<polygon points="491.8,861.1 494.8,858.8 494.8,859.8 501.8,859.8 501.8,862.4 494.8,862.4 494.8,863.4" fill="#f08ae6" stroke="none" stroke-width="1" filter="url(#sh)"/>
<polygon points="505.8,862.1 502.8,859.8 502.8,860.8 495.3,860.8 495.3,863.4 502.8,863.4 502.8,864.4" fill="#f08ae6" stroke="none" stroke-width="1" filter="url(#sh)"/>
<polygon points="491.8,868.8 494.8,866.5 494.8,867.5 501.8,867.5 501.8,870.1 494.8,870.1 494.8,871.1" fill="#f08ae6" stroke="none" stroke-width="1" filter="url(#sh)"/>
<polygon points="505.8,869.8 502.8,867.5 502.8,868.5 495.3,868.5 495.3,871.1 502.8,871.1 502.8,872.1" fill="#f08ae6" stroke="none" stroke-width="1" filter="url(#sh)"/>
<polygon points="491.8,876.5 494.8,874.2 494.8,875.2 501.8,875.2 501.8,877.8 494.8,877.8 494.8,878.8" fill="#f08ae6" stroke="none" stroke-width="1" filter="url(#sh)"/>
<polygon points="505.8,877.5 502.8,875.2 502.8,876.2 495.3,876.2 495.3,878.8 502.8,878.8 502.8,879.8" fill="#f08ae6" stroke="none" stroke-width="1" filter="url(#sh)"/>
<rect x="474" y="870.4" width="14.5" height="12" fill="#f5f0e7"/>
<polygon points="480.5,874.4 477.6,876.1 474.7,874.4 474.7,871.1 477.6,869.5 480.5,871.1" fill="url(#hex)" stroke="#8fa860" stroke-width="0.5"/>
<polygon points="480.5,881.2 477.6,882.9 474.7,881.2 474.7,878 477.6,876.3 480.5,878" fill="url(#hex)" stroke="#8fa860" stroke-width="0.5"/>
<rect x="481.1" y="873.6" width="4.4" height="4.4" fill="#1b8fe0"/>
<rect x="482.2" y="874.7" width="2.2" height="2.2" fill="none" stroke="#fff" stroke-width="0.5"/>
<line x1="485.6" y1="876" x2="489.3" y2="876" stroke="#333" stroke-width="0.5" stroke-dasharray="1,0.8"/>
<rect x="517.4" y="823" width="19.2" height="25.7" fill="url(#grbox)" stroke="#b8ccb8" stroke-width="0.6" stroke-dasharray="2,1.5"/>
<rect x="517.4" y="850" width="19.2" height="16.4" fill="url(#gbox)" stroke="#cfcfcf" stroke-width="0.6" stroke-dasharray="2,1.5"/>
<polygon points="519.9,828.1 522.9,825.8 522.9,826.8 529.9,826.8 529.9,829.4 522.9,829.4 522.9,830.4" fill="#f08ae6" stroke="none" stroke-width="1" filter="url(#sh)"/>
<polygon points="533.9,829.1 530.9,826.8 530.9,827.8 523.4,827.8 523.4,830.4 530.9,830.4 530.9,831.4" fill="#f08ae6" stroke="none" stroke-width="1" filter="url(#sh)"/>
<polygon points="519.9,835.9 522.9,833.6 522.9,834.6 529.9,834.6 529.9,837.1 522.9,837.1 522.9,838.1" fill="#f08ae6" stroke="none" stroke-width="1" filter="url(#sh)"/>
<polygon points="533.9,836.9 530.9,834.6 530.9,835.6 523.4,835.6 523.4,838.1 530.9,838.1 530.9,839.1" fill="#f08ae6" stroke="none" stroke-width="1" filter="url(#sh)"/>
<polygon points="519.9,843.6 522.9,841.3 522.9,842.3 529.9,842.3 529.9,844.9 522.9,844.9 522.9,845.9" fill="#f08ae6" stroke="none" stroke-width="1" filter="url(#sh)"/>
<polygon points="533.9,844.6 530.9,842.3 530.9,843.3 523.4,843.3 523.4,845.9 530.9,845.9 530.9,846.9" fill="#f08ae6" stroke="none" stroke-width="1" filter="url(#sh)"/>
<polygon points="534.4,855.5 531.4,853.2 531.4,854.2 525.4,854.2 525.4,856.8 531.4,856.8 531.4,857.8" fill="#f08ae6" stroke="none" stroke-width="1" filter="url(#sh)"/>
<polygon points="519.9,856.5 522.9,854.2 522.9,855.2 530.4,855.2 530.4,857.8 522.9,857.8 522.9,858.8" fill="#f0aa78" stroke="none" stroke-width="1" filter="url(#sh)"/>
<polygon points="519.9,861 522.9,858.7 522.9,859.7 529.4,859.7 529.4,862.3 522.9,862.3 522.9,863.3" fill="#f08ae6" stroke="none" stroke-width="1" filter="url(#sh)"/>
<polygon points="534.4,860 531.4,857.7 531.4,858.7 524.4,858.7 524.4,861.3 531.4,861.3 531.4,862.3" fill="#f0aa78" stroke="none" stroke-width="1" filter="url(#sh)"/>
<rect x="537.4" y="821.4" width="14.5" height="12.9" fill="#f5f0e7"/>
<polygon points="551.1,826 548.2,827.7 545.3,826 545.3,822.8 548.2,821.1 551.1,822.8" fill="url(#hex)" stroke="#8fa860" stroke-width="0.5"/>
<polygon points="551.1,832.9 548.2,834.5 545.3,832.9 545.3,829.6 548.2,827.9 551.1,829.6" fill="url(#hex)" stroke="#8fa860" stroke-width="0.5"/>
<rect x="540.4" y="826" width="4.4" height="4.4" fill="#1b8fe0"/>
<rect x="541.5" y="827.1" width="2.2" height="2.2" fill="none" stroke="#fff" stroke-width="0.5"/>
<line x1="536.6" y1="828.2" x2="540.4" y2="828.2" stroke="#333" stroke-width="0.5"/>
<rect x="543.6" y="845.5" width="19.2" height="16.1" fill="url(#gbox)" stroke="#cfcfcf" stroke-width="0.6" stroke-dasharray="2,1.5"/>
<rect x="543.6" y="863.2" width="19.2" height="25.7" fill="url(#grbox)" stroke="#b8ccb8" stroke-width="0.6" stroke-dasharray="2,1.5"/>
<polygon points="546.6,850.7 549.6,848.4 549.6,849.4 559.6,849.4 559.6,852 549.6,852 549.6,853" fill="#f0aa78" stroke="none" stroke-width="1" filter="url(#sh)"/>
<polygon points="559.6,851.9 556.6,849.6 556.6,850.6 549.6,850.6 549.6,853.2 556.6,853.2 556.6,854.2" fill="#f08ae6" stroke="none" stroke-width="1" filter="url(#sh)"/>
<polygon points="546.6,856.4 549.6,854.1 549.6,855.1 556.6,855.1 556.6,857.7 549.6,857.7 549.6,858.7" fill="#f08ae6" stroke="none" stroke-width="1" filter="url(#sh)"/>
<polygon points="560.6,855.2 557.6,852.9 557.6,853.9 549.6,853.9 549.6,856.5 557.6,856.5 557.6,857.5" fill="#f0aa78" stroke="none" stroke-width="1" filter="url(#sh)"/>
<polygon points="546.1,868.3 549.1,866 549.1,867 556.1,867 556.1,869.6 549.1,869.6 549.1,870.6" fill="#f08ae6" stroke="none" stroke-width="1" filter="url(#sh)"/>
<polygon points="560.1,869.3 557.1,867 557.1,868 549.6,868 549.6,870.6 557.1,870.6 557.1,871.6" fill="#f08ae6" stroke="none" stroke-width="1" filter="url(#sh)"/>
<polygon points="546.1,876.1 549.1,873.8 549.1,874.8 556.1,874.8 556.1,877.4 549.1,877.4 549.1,878.4" fill="#f08ae6" stroke="none" stroke-width="1" filter="url(#sh)"/>
<polygon points="560.1,877.1 557.1,874.8 557.1,875.8 549.6,875.8 549.6,878.4 557.1,878.4 557.1,879.4" fill="#f08ae6" stroke="none" stroke-width="1" filter="url(#sh)"/>
<polygon points="546.1,883.8 549.1,881.5 549.1,882.5 556.1,882.5 556.1,885.1 549.1,885.1 549.1,886.1" fill="#f08ae6" stroke="none" stroke-width="1" filter="url(#sh)"/>
<polygon points="560.1,884.8 557.1,882.5 557.1,883.5 549.6,883.5 549.6,886.1 557.1,886.1 557.1,887.1" fill="#f08ae6" stroke="none" stroke-width="1" filter="url(#sh)"/>
<rect x="528.6" y="877.6" width="14" height="12.1" fill="#f5f0e7"/>
<polygon points="534.9,882 532,883.7 529.1,882 529.1,878.8 532,877.1 534.9,878.8" fill="url(#hex)" stroke="#8fa860" stroke-width="0.5"/>
<polygon points="534.9,888.9 532,890.5 529.1,888.9 529.1,885.6 532,883.9 534.9,885.6" fill="url(#hex)" stroke="#8fa860" stroke-width="0.5"/>
<rect x="535.6" y="881.3" width="4.4" height="4.4" fill="#1b8fe0"/>
<rect x="536.7" y="882.4" width="2.2" height="2.2" fill="none" stroke="#fff" stroke-width="0.5"/>
<line x1="540" y1="883.5" x2="543.6" y2="883.5" stroke="#333" stroke-width="0.5" stroke-dasharray="1,0.8"/>
<text x="602.2" y="832.3" font-size="7.7" fill="#f0702a" text-anchor="middle" font-style="italic">RIP1-RIP3</text>
<text x="603" y="841.2" font-size="7.7" fill="#f0702a" text-anchor="middle" font-style="italic">RHIM-fiber</text>
<text x="651.3" y="832.3" font-size="7.7" fill="#2aa6e6" text-anchor="middle" font-style="italic">RIP3-RIP3</text>
<text x="652.5" y="841.2" font-size="7.7" fill="#2aa6e6" text-anchor="middle" font-style="italic">RHIM-fiber chain</text>
<rect x="589.2" y="845.3" width="26.8" height="19.1" fill="url(#gbox)" stroke="#c8c8c8" stroke-width="0.6" stroke-dasharray="2.5,2"/>
<rect x="616" y="845.3" width="65.2" height="19.1" fill="url(#grbox)" stroke="#b4c8b8" stroke-width="0.6" stroke-dasharray="2.5,2"/>
<polygon points="593.5,849.8 595.7,852.8 594.8,852.8 594.8,859.5 592.2,859.5 592.2,852.8 591.3,852.8" fill="#f08ae6" stroke="none" stroke-width="1" filter="url(#sh)"/>
<polygon points="595.7,863 597.9,860 597,860 597,853.4 594.4,853.4 594.4,860 593.5,860" fill="#f0aa78" stroke="none" stroke-width="1" filter="url(#sh)"/>
<polygon points="599.8,849.8 602,852.8 601.1,852.8 601.1,859.5 598.5,859.5 598.5,852.8 597.6,852.8" fill="#f0aa78" stroke="none" stroke-width="1" filter="url(#sh)"/>
<polygon points="602,863 604.2,860 603.3,860 603.3,853.4 600.7,853.4 600.7,860 599.8,860" fill="#f08ae6" stroke="none" stroke-width="1" filter="url(#sh)"/>
<polygon points="606.1,849.8 608.3,852.8 607.4,852.8 607.4,859.5 604.8,859.5 604.8,852.8 603.9,852.8" fill="#f08ae6" stroke="none" stroke-width="1" filter="url(#sh)"/>
<polygon points="608.3,863 610.5,860 609.6,860 609.6,853.4 607,853.4 607,860 606.1,860" fill="#f0aa78" stroke="none" stroke-width="1" filter="url(#sh)"/>
<polygon points="612.4,849.8 614.6,852.8 613.7,852.8 613.7,859.5 611.1,859.5 611.1,852.8 610.2,852.8" fill="#f0aa78" stroke="none" stroke-width="1" filter="url(#sh)"/>
<polygon points="614.6,863 616.8,860 615.9,860 615.9,853.4 613.3,853.4 613.3,860 612.4,860" fill="#f08ae6" stroke="none" stroke-width="1" filter="url(#sh)"/>
<polygon points="620.3,847.8 622.6,850.8 621.7,850.8 621.7,858 618.9,858 618.9,850.8 618,850.8" fill="#f08ae6" stroke="none" stroke-width="1" filter="url(#sh)"/>
<polygon points="622.5,862.6 624.8,859.6 623.9,859.6 623.9,852.2 621.1,852.2 621.1,859.6 620.2,859.6" fill="#f08ae6" stroke="none" stroke-width="1" filter="url(#sh)"/>
<polygon points="628.1,847.8 630.4,850.8 629.5,850.8 629.5,858 626.7,858 626.7,850.8 625.8,850.8" fill="#f08ae6" stroke="none" stroke-width="1" filter="url(#sh)"/>
<polygon points="630.3,862.6 632.6,859.6 631.7,859.6 631.7,852.2 628.9,852.2 628.9,859.6 628,859.6" fill="#f08ae6" stroke="none" stroke-width="1" filter="url(#sh)"/>
<polygon points="635.9,847.8 638.2,850.8 637.3,850.8 637.3,858 634.5,858 634.5,850.8 633.6,850.8" fill="#f08ae6" stroke="none" stroke-width="1" filter="url(#sh)"/>
<polygon points="638.1,862.6 640.4,859.6 639.5,859.6 639.5,852.2 636.7,852.2 636.7,859.6 635.8,859.6" fill="#f08ae6" stroke="none" stroke-width="1" filter="url(#sh)"/>
<polygon points="643.7,847.8 646,850.8 645.1,850.8 645.1,858 642.3,858 642.3,850.8 641.4,850.8" fill="#f08ae6" stroke="none" stroke-width="1" filter="url(#sh)"/>
<polygon points="645.9,862.6 648.2,859.6 647.3,859.6 647.3,852.2 644.5,852.2 644.5,859.6 643.6,859.6" fill="#f08ae6" stroke="none" stroke-width="1" filter="url(#sh)"/>
<polygon points="651.5,847.8 653.8,850.8 652.9,850.8 652.9,858 650.1,858 650.1,850.8 649.2,850.8" fill="#f08ae6" stroke="none" stroke-width="1" filter="url(#sh)"/>
<polygon points="653.7,862.6 656,859.6 655.1,859.6 655.1,852.2 652.3,852.2 652.3,859.6 651.4,859.6" fill="#f08ae6" stroke="none" stroke-width="1" filter="url(#sh)"/>
<polygon points="659.3,847.8 661.6,850.8 660.7,850.8 660.7,858 657.9,858 657.9,850.8 657,850.8" fill="#f08ae6" stroke="none" stroke-width="1" filter="url(#sh)"/>
<polygon points="661.5,862.6 663.8,859.6 662.9,859.6 662.9,852.2 660.1,852.2 660.1,859.6 659.2,859.6" fill="#f08ae6" stroke="none" stroke-width="1" filter="url(#sh)"/>
<polygon points="667.1,847.8 669.4,850.8 668.5,850.8 668.5,858 665.7,858 665.7,850.8 664.8,850.8" fill="#f08ae6" stroke="none" stroke-width="1" filter="url(#sh)"/>
<polygon points="669.3,862.6 671.6,859.6 670.7,859.6 670.7,852.2 667.9,852.2 667.9,859.6 667,859.6" fill="#f08ae6" stroke="none" stroke-width="1" filter="url(#sh)"/>
<polygon points="674.9,847.8 677.2,850.8 676.3,850.8 676.3,858 673.5,858 673.5,850.8 672.6,850.8" fill="#f08ae6" stroke="none" stroke-width="1" filter="url(#sh)"/>
<polygon points="677.1,862.6 679.4,859.6 678.5,859.6 678.5,852.2 675.7,852.2 675.7,859.6 674.8,859.6" fill="#f08ae6" stroke="none" stroke-width="1" filter="url(#sh)"/>
<rect x="653.6" y="864.4" width="26.8" height="15.4" fill="#f5f0e7"/>
<polygon points="660.4,877 657.5,878.7 654.6,877 654.6,873.8 657.5,872.1 660.4,873.8" fill="url(#hex)" stroke="#8fa860" stroke-width="0.5"/>
<polygon points="666.4,877 663.5,878.7 660.6,877 660.6,873.8 663.5,872.1 666.4,873.8" fill="url(#hex)" stroke="#8fa860" stroke-width="0.5"/>
<polygon points="672.4,877 669.5,878.7 666.6,877 666.6,873.8 669.5,872.1 672.4,873.8" fill="url(#hex)" stroke="#8fa860" stroke-width="0.5"/>
<polygon points="678.4,877 675.5,878.7 672.6,877 672.6,873.8 675.5,872.1 678.4,873.8" fill="url(#hex)" stroke="#8fa860" stroke-width="0.5"/>
<rect x="657.5" y="867.3" width="4.4" height="4.4" fill="#1b8fe0"/>
<rect x="658.6" y="868.4" width="2.2" height="2.2" fill="none" stroke="#fff" stroke-width="0.5"/>
<rect x="665.6" y="867.3" width="4.4" height="4.4" fill="#1b8fe0"/>
<rect x="666.7" y="868.4" width="2.2" height="2.2" fill="none" stroke="#fff" stroke-width="0.5"/>
<rect x="672.4" y="867.3" width="4.4" height="4.4" fill="#1b8fe0"/>
<rect x="673.5" y="868.4" width="2.2" height="2.2" fill="none" stroke="#fff" stroke-width="0.5"/>
<polygon points="471.5,897.5 568.4,897.5 552,915.6 491.2,915.6" fill="url(#trap)" stroke="none" stroke-width="1"/>
<polygon points="586.5,897.5 685,897.5 685,899 667,915.6 604.5,915.6" fill="url(#trap)" stroke="none" stroke-width="1"/>
<text x="521.7" y="909.6" font-size="9.4" fill="#2a72ba" text-anchor="middle" font-style="italic">Small assembly</text>
<text x="635.4" y="909.6" font-size="9.4" fill="#e0203c" text-anchor="middle" font-style="italic">Large assembly</text>
<rect x="505" y="920.5" width="145.5" height="7.2" fill="#f6b27e"/>
<polygon points="577.3,929.3 585.5,944.8 569.4,944.8" fill="#f6b27e" stroke="none" stroke-width="1"/>
</svg></body></html>
